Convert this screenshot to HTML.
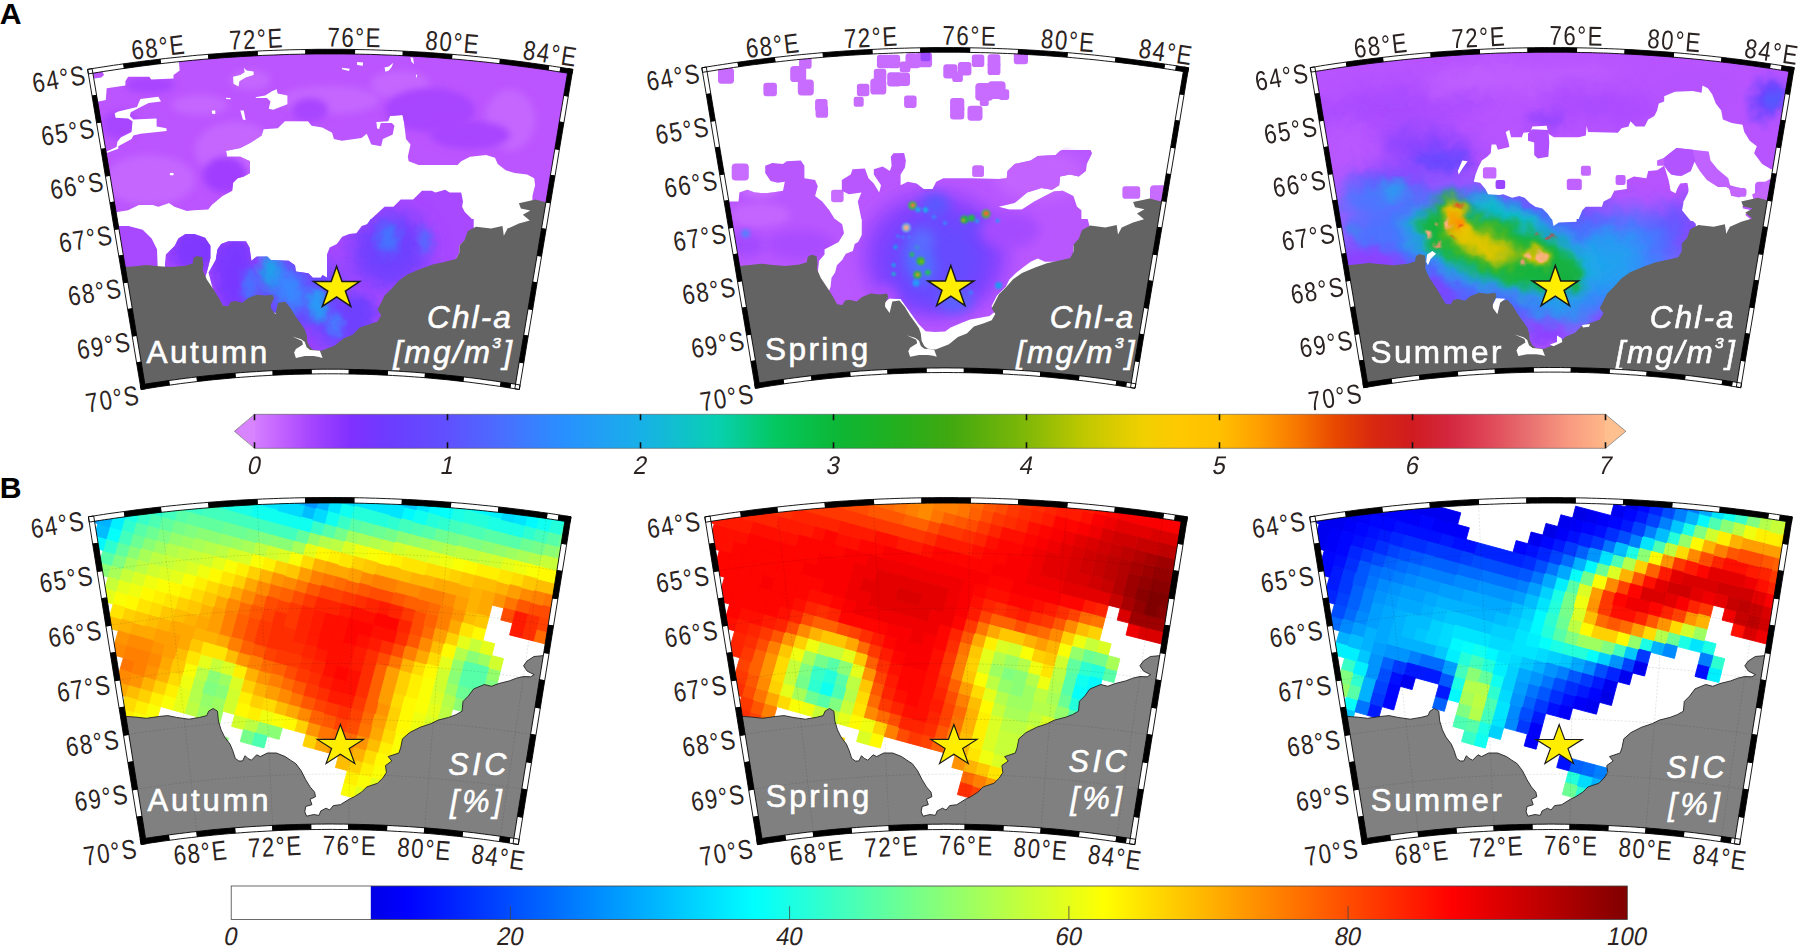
<!DOCTYPE html>
<html lang="en"><head><meta charset="utf-8"><title>Chl-a and SIC seasonal maps</title>
<style>html,body{margin:0;padding:0;background:#fff;overflow:hidden}svg{display:block}text{font-family:"Liberation Sans",sans-serif}</style></head>
<body>
<svg width="1799" height="949" viewBox="0 0 1799 949" font-family="'Liberation Sans', sans-serif">
<rect width="1799" height="949" fill="#fff"/>
<defs>
<clipPath id="cA1"><path d="M92.2,72.7L100.3,71.4L112.3,69.5L124.3,67.8L136.3,66.1L148.4,64.6L160.4,63.1L172.5,61.8L184.6,60.5L196.7,59.3L208.8,58.3L220.9,57.3L233.1,56.5L245.2,55.7L257.3,55.1L269.5,54.5L281.6,54.1L293.7,53.7L305.9,53.5L318.0,53.3L330.2,53.3L342.4,53.3L354.5,53.5L366.7,53.7L378.8,54.1L390.9,54.5L403.1,55.1L415.2,55.7L427.3,56.5L439.5,57.3L451.6,58.3L463.7,59.3L475.8,60.5L487.9,61.8L500.0,63.1L512.0,64.6L524.1,66.1L536.1,67.8L548.1,69.5L560.1,71.4L568.2,72.7L516.0,384.9L510.6,384.0L501.1,382.6L491.7,381.2L482.3,379.9L472.8,378.7L463.3,377.5L453.9,376.5L444.4,375.5L434.9,374.6L425.4,373.8L415.9,373.0L406.4,372.3L396.9,371.7L387.4,371.2L377.8,370.8L368.3,370.4L358.8,370.2L349.3,370.0L339.7,369.8L330.2,369.8L320.7,369.8L311.1,370.0L301.6,370.2L292.1,370.4L282.6,370.8L273.0,371.2L263.5,371.7L254.0,372.3L244.5,373.0L235.0,373.8L225.5,374.6L216.0,375.5L206.5,376.5L197.1,377.5L187.6,378.7L178.1,379.9L168.7,381.2L159.3,382.6L149.8,384.0L144.4,384.9Z"/></clipPath>
<clipPath id="cA2"><path d="M706.4,71.1L714.5,69.8L726.5,67.9L738.6,66.2L750.7,64.5L762.8,62.9L774.9,61.5L787.0,60.1L799.1,58.9L811.3,57.7L823.4,56.6L835.6,55.7L847.7,54.8L859.9,54.1L872.1,53.4L884.3,52.8L896.4,52.4L908.6,52.0L920.8,51.8L933.0,51.6L945.2,51.6L957.4,51.6L969.6,51.8L981.8,52.0L994.0,52.4L1006.1,52.8L1018.3,53.4L1030.5,54.1L1042.7,54.8L1054.8,55.7L1067.0,56.6L1079.1,57.7L1091.3,58.9L1103.4,60.1L1115.5,61.5L1127.6,62.9L1139.7,64.5L1151.8,66.2L1163.9,67.9L1175.9,69.8L1184.0,71.1L1131.7,383.7L1126.2,382.8L1116.8,381.4L1107.3,380.0L1097.8,378.7L1088.3,377.4L1078.8,376.3L1069.3,375.2L1059.8,374.2L1050.3,373.3L1040.8,372.5L1031.2,371.7L1021.7,371.1L1012.1,370.5L1002.6,370.0L993.0,369.5L983.5,369.2L973.9,368.9L964.3,368.7L954.8,368.6L945.2,368.5L935.6,368.6L926.1,368.7L916.5,368.9L906.9,369.2L897.4,369.5L887.8,370.0L878.3,370.5L868.7,371.1L859.2,371.7L849.6,372.5L840.1,373.3L830.6,374.2L821.1,375.2L811.6,376.3L802.1,377.4L792.6,378.7L783.1,380.0L773.6,381.4L764.2,382.8L758.7,383.7Z"/></clipPath>
<clipPath id="cA3"><path d="M1314.9,70.9L1322.9,69.6L1334.9,67.8L1346.9,66.0L1358.9,64.4L1370.9,62.8L1383.0,61.4L1395.0,60.0L1407.1,58.8L1419.1,57.6L1431.2,56.6L1443.3,55.6L1455.4,54.8L1467.5,54.0L1479.6,53.4L1491.7,52.8L1503.8,52.4L1515.9,52.0L1528.0,51.8L1540.1,51.6L1552.2,51.6L1564.4,51.6L1576.5,51.8L1588.6,52.0L1600.7,52.4L1612.8,52.8L1624.9,53.4L1637.0,54.0L1649.1,54.8L1661.2,55.6L1673.3,56.6L1685.4,57.6L1697.4,58.8L1709.5,60.0L1721.5,61.4L1733.6,62.8L1745.6,64.4L1757.6,66.0L1769.6,67.8L1781.6,69.6L1789.6,70.9L1737.5,383.1L1732.1,382.2L1722.7,380.8L1713.3,379.4L1703.9,378.1L1694.4,376.9L1685.0,375.8L1675.6,374.7L1666.1,373.7L1656.6,372.8L1647.2,372.0L1637.7,371.3L1628.2,370.6L1618.7,370.0L1609.2,369.5L1599.8,369.1L1590.3,368.7L1580.8,368.4L1571.3,368.2L1561.8,368.1L1552.2,368.1L1542.7,368.1L1533.2,368.2L1523.7,368.4L1514.2,368.7L1504.7,369.1L1495.3,369.5L1485.8,370.0L1476.3,370.6L1466.8,371.3L1457.3,372.0L1447.9,372.8L1438.4,373.7L1428.9,374.7L1419.5,375.8L1410.1,376.9L1400.6,378.1L1391.2,379.4L1381.8,380.8L1372.4,382.2L1367.0,383.1Z"/></clipPath>
<clipPath id="cB1"><path d="M93.9,520.8L101.0,519.7L113.0,517.9L125.0,516.2L136.9,514.6L148.9,513.1L160.9,511.7L172.9,510.4L185.0,509.2L197.0,508.1L209.0,507.1L221.1,506.2L233.1,505.4L245.2,504.7L257.2,504.1L269.3,503.5L281.4,503.1L293.5,502.8L305.5,502.5L317.6,502.4L329.7,502.3L341.8,502.4L353.9,502.5L365.9,502.8L378.0,503.1L390.1,503.5L402.2,504.1L414.2,504.7L426.3,505.4L438.3,506.2L450.4,507.1L462.4,508.1L474.4,509.2L486.5,510.4L498.5,511.7L510.5,513.1L522.5,514.6L534.4,516.2L546.4,517.9L558.4,519.7L565.5,520.8L514.4,839.0L509.7,838.3L500.3,836.9L490.9,835.6L481.5,834.3L472.0,833.1L462.6,832.1L453.1,831.0L443.7,830.1L434.2,829.2L424.7,828.4L415.2,827.7L405.7,827.1L396.2,826.5L386.7,826.0L377.2,825.6L367.7,825.2L358.2,825.0L348.7,824.8L339.2,824.7L329.7,824.6L320.2,824.7L310.7,824.8L301.2,825.0L291.7,825.2L282.2,825.6L272.7,826.0L263.2,826.5L253.7,827.1L244.2,827.7L234.7,828.4L225.2,829.2L215.7,830.1L206.3,831.0L196.8,832.1L187.4,833.1L177.9,834.3L168.5,835.6L159.1,836.9L149.7,838.3L145.0,839.0Z"/></clipPath>
<clipPath id="cB2"><path d="M710.3,520.9L717.4,519.8L729.4,518.0L741.4,516.3L753.3,514.7L765.3,513.2L777.3,511.8L789.3,510.5L801.4,509.3L813.4,508.2L825.4,507.2L837.5,506.3L849.5,505.5L861.6,504.8L873.6,504.2L885.7,503.6L897.8,503.2L909.9,502.9L921.9,502.6L934.0,502.5L946.1,502.4L958.2,502.5L970.3,502.6L982.3,502.9L994.4,503.2L1006.5,503.6L1018.6,504.2L1030.6,504.8L1042.7,505.5L1054.7,506.3L1066.8,507.2L1078.8,508.2L1090.8,509.3L1102.9,510.5L1114.9,511.8L1126.9,513.2L1138.9,514.7L1150.8,516.3L1162.8,518.0L1174.8,519.8L1181.9,520.9L1130.8,839.1L1126.1,838.4L1116.7,837.0L1107.3,835.7L1097.9,834.4L1088.4,833.2L1079.0,832.2L1069.5,831.1L1060.1,830.2L1050.6,829.3L1041.1,828.5L1031.6,827.8L1022.1,827.2L1012.6,826.6L1003.1,826.1L993.6,825.7L984.1,825.3L974.6,825.1L965.1,824.9L955.6,824.8L946.1,824.7L936.6,824.8L927.1,824.9L917.6,825.1L908.1,825.3L898.6,825.7L889.1,826.1L879.6,826.6L870.1,827.2L860.6,827.8L851.1,828.5L841.6,829.3L832.1,830.2L822.7,831.1L813.2,832.2L803.8,833.2L794.3,834.4L784.9,835.7L775.5,837.0L766.1,838.4L761.4,839.1Z"/></clipPath>
<clipPath id="cB3"><path d="M1315.2,520.9L1322.3,519.8L1334.3,518.0L1346.3,516.3L1358.2,514.7L1370.2,513.2L1382.2,511.8L1394.2,510.5L1406.3,509.3L1418.3,508.2L1430.3,507.2L1442.4,506.3L1454.4,505.5L1466.5,504.8L1478.5,504.2L1490.6,503.6L1502.7,503.2L1514.8,502.9L1526.8,502.6L1538.9,502.5L1551.0,502.4L1563.1,502.5L1575.2,502.6L1587.2,502.9L1599.3,503.2L1611.4,503.6L1623.5,504.2L1635.5,504.8L1647.6,505.5L1659.6,506.3L1671.7,507.2L1683.7,508.2L1695.7,509.3L1707.8,510.5L1719.8,511.8L1731.8,513.2L1743.8,514.7L1755.7,516.3L1767.7,518.0L1779.7,519.8L1786.8,520.9L1735.7,839.1L1731.0,838.4L1721.6,837.0L1712.2,835.7L1702.8,834.4L1693.3,833.2L1683.9,832.2L1674.4,831.1L1665.0,830.2L1655.5,829.3L1646.0,828.5L1636.5,827.8L1627.0,827.2L1617.5,826.6L1608.0,826.1L1598.5,825.7L1589.0,825.3L1579.5,825.1L1570.0,824.9L1560.5,824.8L1551.0,824.7L1541.5,824.8L1532.0,824.9L1522.5,825.1L1513.0,825.3L1503.5,825.7L1494.0,826.1L1484.5,826.6L1475.0,827.2L1465.5,827.8L1456.0,828.5L1446.5,829.3L1437.0,830.2L1427.6,831.1L1418.1,832.2L1408.7,833.2L1399.2,834.4L1389.8,835.7L1380.4,837.0L1371.0,838.4L1366.3,839.1Z"/></clipPath>
<filter id="rough" x="-5%" y="-5%" width="110%" height="110%"><feTurbulence type="fractalNoise" baseFrequency="0.07" numOctaves="2" seed="7" result="n"/><feDisplacementMap in="SourceGraphic" in2="n" scale="16" xChannelSelector="R" yChannelSelector="G"/></filter><filter id="rough2" x="-5%" y="-5%" width="110%" height="110%"><feTurbulence type="fractalNoise" baseFrequency="0.12" numOctaves="2" seed="3" result="n"/><feDisplacementMap in="SourceGraphic" in2="n" scale="9" xChannelSelector="R" yChannelSelector="G"/></filter><filter id="b1" x="-30%" y="-30%" width="160%" height="160%"><feGaussianBlur stdDeviation="0.8"/></filter><filter id="b2" x="-30%" y="-30%" width="160%" height="160%"><feGaussianBlur stdDeviation="2"/></filter><filter id="b3" x="-30%" y="-30%" width="160%" height="160%"><feGaussianBlur stdDeviation="3.5"/></filter><filter id="b6" x="-30%" y="-30%" width="160%" height="160%"><feGaussianBlur stdDeviation="6"/></filter><filter id="b10" x="-40%" y="-40%" width="180%" height="180%"><feGaussianBlur stdDeviation="10"/></filter><filter id="b16" x="-50%" y="-50%" width="200%" height="200%"><feGaussianBlur stdDeviation="16"/></filter>
</defs>
<g clip-path="url(#cA1)">
<rect x="0" y="0" width="700" height="430" fill="#fff"/>
<path d="M113.8,212.9L117.4,212.0L128.1,210.3L138.8,204.9L153.0,204.9L158.3,206.7L169.0,203.1L174.4,206.7L186.8,211.1L194.0,210.3L208.2,209.4L211.8,204.9L222.5,196.0L232.2,190.7L233.1,182.7L237.6,178.2L243.8,176.4L250.0,172.9L250.0,161.3L240.3,156.8L226.9,156.8L226.0,150.6L227.8,150.6L240.3,147.9L250.9,142.6L261.6,135.5L263.6,129.2L277.8,128.3L284.9,121.2L308.1,121.2L311.6,125.7L322.3,127.5L332.1,132.8L333.9,139.0L341.9,140.8L361.5,138.1L366.8,133.7L371.3,144.4L381.1,146.2L382.9,139.0L392.7,134.6L394.4,125.7L391.8,123.0L379.3,123.0L377.5,128.3L376.6,122.1L388.2,121.2L390.0,115.9L402.5,115.0L404.2,123.0L406.0,139.0L410.5,144.4L407.8,156.8L408.7,161.3L418.5,164.9L457.6,164.9L461.2,161.3L470.1,156.8L486.1,155.1L495.0,157.7L497.7,164.0L505.7,170.2L514.6,172.9L527.1,174.6L534.2,178.2L535.1,185.3L532.4,196.0L532.4,202.2L536.0,203.1L543.1,204.9L562.7,204.9L600.0,40.0L60.0,40.0L60.0,213.0Z" fill="#bb55ff"/>
<clipPath id="uA1"><path d="M113.8,212.9L117.4,212.0L128.1,210.3L138.8,204.9L153.0,204.9L158.3,206.7L169.0,203.1L174.4,206.7L186.8,211.1L194.0,210.3L208.2,209.4L211.8,204.9L222.5,196.0L232.2,190.7L233.1,182.7L237.6,178.2L243.8,176.4L250.0,172.9L250.0,161.3L240.3,156.8L226.9,156.8L226.0,150.6L227.8,150.6L240.3,147.9L250.9,142.6L261.6,135.5L263.6,129.2L277.8,128.3L284.9,121.2L308.1,121.2L311.6,125.7L322.3,127.5L332.1,132.8L333.9,139.0L341.9,140.8L361.5,138.1L366.8,133.7L371.3,144.4L381.1,146.2L382.9,139.0L392.7,134.6L394.4,125.7L391.8,123.0L379.3,123.0L377.5,128.3L376.6,122.1L388.2,121.2L390.0,115.9L402.5,115.0L404.2,123.0L406.0,139.0L410.5,144.4L407.8,156.8L408.7,161.3L418.5,164.9L457.6,164.9L461.2,161.3L470.1,156.8L486.1,155.1L495.0,157.7L497.7,164.0L505.7,170.2L514.6,172.9L527.1,174.6L534.2,178.2L535.1,185.3L532.4,196.0L532.4,202.2L536.0,203.1L543.1,204.9L562.7,204.9L600.0,40.0L60.0,40.0L60.0,213.0Z"/></clipPath>
<g clip-path="url(#uA1)">
<ellipse cx="235.0" cy="150.0" rx="40.0" ry="28.0" fill="#c566ff" filter="url(#b3)"/>
<ellipse cx="150.0" cy="180.0" rx="45.0" ry="25.0" fill="#c566ff" filter="url(#b3)"/>
<ellipse cx="330.0" cy="100.0" rx="50.0" ry="14.0" fill="#c566ff" filter="url(#b3)"/>
<ellipse cx="400.0" cy="85.0" rx="30.0" ry="14.0" fill="#c566ff" filter="url(#b3)"/>
<ellipse cx="510.0" cy="120.0" rx="25.0" ry="30.0" fill="#c566ff" filter="url(#b3)"/>
<ellipse cx="120.0" cy="125.0" rx="18.0" ry="14.0" fill="#a844ff" filter="url(#b3)"/>
<ellipse cx="225.0" cy="175.0" rx="22.0" ry="18.0" fill="#a03cff" filter="url(#b3)"/>
<ellipse cx="310.0" cy="110.0" rx="18.0" ry="12.0" fill="#a844ff" filter="url(#b3)"/>
<ellipse cx="430.0" cy="110.0" rx="45.0" ry="22.0" fill="#a844ff" filter="url(#b3)"/>
<ellipse cx="470.0" cy="135.0" rx="40.0" ry="14.0" fill="#a844ff" filter="url(#b3)"/>
<ellipse cx="150.0" cy="85.0" rx="25.0" ry="8.0" fill="#a844ff" filter="url(#b3)"/>
<ellipse cx="250.0" cy="80.0" rx="20.0" ry="10.0" fill="#c566ff" filter="url(#b3)"/>
<ellipse cx="200.0" cy="105.0" rx="28.0" ry="10.0" fill="#c566ff" filter="url(#b3)"/>
</g>
<path d="M90.7,73.1L178.8,60.7L179.7,70.5L173.5,74.9L173.5,78.5L151.2,79.4L149.4,76.7L128.1,76.7L125.4,81.2L125.4,85.6L106.7,88.3L105.8,99.9L98.7,101.6L90.7,101.6Z" fill="#fff"/>
<path d="M140.5,99.0L158.3,96.7L161.0,101.6L148.6,103.1L138.8,107.9L130.7,112.3L129.9,115.9L133.4,119.4L156.6,118.6L156.6,126.6L166.4,128.3L166.7,131.0L140.5,133.7L133.4,135.5L131.6,139.0L118.3,146.2L118.3,148.8L106.7,152.9L106.7,151.5L116.5,147.0L117.4,141.7L121.0,137.3L131.6,131.9L132.5,121.2L128.1,118.6L115.6,117.7L114.7,113.2L118.3,111.4L137.0,107.0L138.8,102.5Z" fill="#fff"/>
<path d="M243.8,67.8L246.5,70.5L253.6,71.4L253.6,74.9L245.6,77.6L239.4,81.2L238.5,86.5L233.5,83.8L233.1,76.7L240.3,74.9L244.7,72.3Z" fill="#fff"/>
<path d="M255.4,97.2L265.2,95.4L272.3,91.0L276.8,89.2L277.6,93.6L287.4,95.4L287.4,104.3L273.2,109.7L268.7,108.8L270.5,101.6L267.0,98.1L256.3,98.1Z" fill="#fff"/>
<path d="M226.0,97.7L230.5,98.1L230.5,99.3L226.0,99.1Z" fill="#fff"/>
<path d="M211.8,110.5L215.3,110.5L215.3,114.1L212.1,113.7Z" fill="#fff"/>
<path d="M240.3,110.5L243.8,110.5L245.6,120.3L242.9,119.4Z" fill="#fff"/>
<path d="M169.9,172.9L173.5,172.9L173.5,175.2L169.9,175.2Z" fill="#fff"/>
<path d="M341.8,67.8L349.8,68.7L348.9,71.0L342.1,69.2Z" fill="#fff"/>
<path d="M356.9,62.1L363.1,62.5L362.8,65.7L357.2,65.0Z" fill="#fff"/>
<path d="M384.5,67.5L388.9,66.4L393.4,62.8L391.6,66.9L388.9,70.5L385.4,71.7Z" fill="#fff"/>
<path d="M376.5,122.1L380.9,123.0L379.1,129.2L377.0,128.3Z" fill="#fff"/>
<path d="M410.5,57.1L413.1,58.0L414.0,64.2L411.4,61.6Z" fill="#fff"/>
<path d="M415.8,74.9L417.2,74.6L416.7,78.5Z" fill="#fff"/>
<path d="M92.5,71.7L102.3,71.0L104.0,74.9L101.4,77.6L94.2,78.5Z" fill="#bb55ff"/>
<clipPath id="lA1"><path d="M116.0,226.1L128.5,226.1L142.7,229.7L151.6,238.6L157.0,249.3L157.9,272.4L116.0,272.4ZM165.0,272.4L165.0,263.5L165.9,254.6L174.8,245.7L178.3,238.6L185.5,234.1L194.4,234.1L205.1,237.7L210.4,245.7L210.4,258.2L206.8,272.4L205.1,277.8ZM214.0,293.8L208.6,272.4L215.7,260.0L217.5,249.3L221.1,243.9L228.2,241.3L246.0,241.3L249.6,247.5L251.4,260.8L256.7,256.4L267.4,256.4L270.9,260.0L288.7,260.8L295.0,265.3L295.9,271.5L308.3,273.3L312.8,277.8L320.8,277.8L322.6,275.1L327.0,277.8L327.0,254.6L329.7,247.5L336.8,243.9L342.2,236.8L349.3,234.1L356.4,233.2L361.8,226.1L367.1,224.3L370.7,219.0L371.3,219.0L384.6,206.7L393.5,206.7L400.7,199.6L413.1,199.6L422.0,190.7L431.8,190.7L435.4,192.5L445.2,189.8L449.6,192.5L461.2,192.5L463.0,201.4L462.1,206.7L464.8,212.0L471.9,219.0L473.7,219.0L473.7,229.7L466.6,238.6L459.4,245.7L459.4,252.8L455.9,259.1L420.3,290.2L366.8,343.6L321.4,354.3L306.6,354.3L295.9,318.7L270.9,311.6L224.6,308.0Z"/></clipPath>
<g clip-path="url(#lA1)">
<rect x="80" y="170" width="500" height="230" fill="#a848ff"/>
<g filter="url(#rough2)"><ellipse cx="196.0" cy="250.0" rx="26.0" ry="22.0" fill="#8038ff" filter="url(#b6)"/><ellipse cx="235.0" cy="275.0" rx="22.0" ry="40.0" fill="#7a38ff" filter="url(#b6)"/><ellipse cx="300.0" cy="300.0" rx="55.0" ry="45.0" fill="#6a48ff" filter="url(#b10)" transform="rotate(35 300.0 300.0)"/><ellipse cx="390.0" cy="250.0" rx="40.0" ry="38.0" fill="#7040ff" filter="url(#b10)" transform="rotate(-30 390.0 250.0)"/><ellipse cx="350.0" cy="320.0" rx="30.0" ry="22.0" fill="#7040ff" filter="url(#b6)" transform="rotate(-40 350.0 320.0)"/><ellipse cx="271.0" cy="271.0" rx="10.0" ry="20.0" fill="#18a8e8" filter="url(#b6)"/><ellipse cx="290.0" cy="290.0" rx="14.0" ry="22.0" fill="#3888ff" filter="url(#b6)" transform="rotate(-20 290.0 290.0)"/><ellipse cx="318.0" cy="305.0" rx="10.0" ry="18.0" fill="#2a98f6" filter="url(#b3)" transform="rotate(-10 318.0 305.0)"/><ellipse cx="335.0" cy="325.0" rx="8.0" ry="12.0" fill="#4878ff" filter="url(#b3)"/><ellipse cx="250.0" cy="285.0" rx="8.0" ry="16.0" fill="#4870ff" filter="url(#b3)"/><ellipse cx="388.0" cy="238.0" rx="10.0" ry="16.0" fill="#4078ff" filter="url(#b6)"/><ellipse cx="425.0" cy="240.0" rx="6.0" ry="14.0" fill="#5868ff" filter="url(#b3)"/><ellipse cx="305.0" cy="345.0" rx="14.0" ry="18.0" fill="#9a40ff" filter="url(#b6)"/></g>
</g>
<path d="M117.8,267.4L124.9,267.1L135.6,266.2L146.3,264.9L158.8,266.2L171.2,267.1L185.5,265.7L192.6,263.5L193.5,258.2L197.0,256.0L202.4,257.3L203.3,265.3L202.9,270.6L206.8,279.5L214.0,290.2L218.4,297.3L222.9,305.4L228.2,306.3L230.9,301.8L235.3,300.9L242.5,302.7L247.8,298.2L256.7,294.7L265.6,295.6L272.7,294.7L274.1,298.2L270.9,304.5L270.9,308.0L275.4,314.3L278.1,302.7L285.2,301.8L290.5,308.0L295.9,316.9L301.2,324.1L304.8,329.4L306.6,334.7L307.4,341.9L310.1,347.2L313.7,349.9L319.9,350.4L321.4,350.8L325.9,349.0L334.8,345.4L343.7,338.3L352.6,334.7L359.7,327.6L370.4,324.1L377.5,321.4L381.1,315.2L377.5,309.8L381.1,302.7L384.6,295.6L391.8,288.4L398.9,280.4L407.8,274.2L420.3,268.9L432.7,264.4L445.2,261.7L455.9,259.1L459.4,252.8L459.4,245.7L464.6,240.0L467.8,231.1L476.0,226.8L491.1,228.6L502.5,226.1L503.8,235.7L507.5,228.6L518.9,223.6L529.8,220.4L522.8,214.7L530.3,210.5L520.9,208.5L518.9,203.3L535.5,199.6L544.9,202.1L562.7,203.0L620.0,200.0L620.0,430.0L80.0,430.0Z" fill="#636363"/><path d="M292.3,336.5L301.2,339.2L304.8,341.9L306.6,347.2L310.1,349.9L319.9,350.8L322.6,357.9L319.0,357.0L313.7,356.1L304.8,356.1L295.9,357.9L294.1,352.5L295.9,349.0L303.0,344.5L302.1,341.0Z" fill="#fff"/><path d="M336.6,266.3L342.0,281.6L359.6,281.6L345.4,291.0L350.8,306.3L336.6,296.8L322.4,306.3L327.8,291.0L313.6,281.6L331.2,281.6Z" fill="#ffee00" stroke="#1a1a1a" stroke-width="1.5" stroke-linejoin="miter"/><text x="146.6" y="362.7" font-size="31.5" text-anchor="start" fill="#fff" style="stroke:#fff;stroke-width:0.6px;letter-spacing:2.4px">Autumn</text><text x="512.9" y="328.2" font-size="31.5" text-anchor="end" fill="#fff" style="stroke:#fff;stroke-width:0.6px;font-style:italic;letter-spacing:2.1px">Chl-a</text><text x="514.3" y="363.3" font-size="31.5" text-anchor="end" fill="#fff" style="stroke:#fff;stroke-width:0.6px;font-style:italic;letter-spacing:2.3px">[mg/m<tspan dy="-15.2" font-size="15.5">3</tspan><tspan dy="15.2">]</tspan></text>
</g>
<path d="M87.6,69.4L92.8,68.5L97.9,67.7L103.1,66.9L108.2,66.1L113.4,65.3L118.6,64.6L123.7,63.8L124.4,68.4L119.2,69.1L114.1,69.9L108.9,70.7L103.8,71.4L98.6,72.3L93.5,73.1L88.4,73.9ZM169.3,385.2L174.9,384.4L180.6,383.6L186.2,382.9L191.9,382.2L197.5,381.5L197.0,376.9L191.3,377.6L185.6,378.3L180.0,379.0L174.3,379.8L168.6,380.6ZM160.0,59.1L165.4,58.5L170.7,57.9L176.1,57.4L181.5,56.8L186.9,56.3L192.3,55.7L197.7,55.2L203.1,54.8L208.5,54.3L208.9,58.9L203.5,59.3L198.1,59.8L192.7,60.3L187.4,60.8L182.0,61.4L176.6,61.9L171.2,62.5L165.9,63.1L160.5,63.7ZM235.3,377.7L240.7,377.3L246.1,376.9L251.6,376.5L257.0,376.1L262.4,375.8L267.8,375.5L273.2,375.2L273.0,370.6L267.6,370.9L262.1,371.2L256.7,371.6L251.2,371.9L245.8,372.3L240.4,372.7L234.9,373.2ZM257.1,51.1L262.5,50.8L267.9,50.6L273.3,50.4L278.8,50.2L284.2,50.0L289.6,49.8L295.0,49.7L300.4,49.6L305.8,49.5L305.9,54.1L300.5,54.2L295.1,54.3L289.7,54.4L284.3,54.6L278.9,54.8L273.5,55.0L268.1,55.2L262.7,55.4L257.3,55.7ZM311.2,374.0L316.6,373.9L322.1,373.8L327.5,373.8L332.9,373.8L338.3,373.8L343.8,373.9L349.2,374.0L349.3,369.4L343.8,369.3L338.4,369.2L332.9,369.2L327.5,369.2L322.0,369.2L316.6,369.3L311.1,369.4ZM354.6,49.5L360.0,49.6L365.4,49.7L370.8,49.8L376.2,50.0L381.6,50.2L387.1,50.4L392.5,50.6L397.9,50.8L403.3,51.1L403.1,55.7L397.7,55.4L392.3,55.2L386.9,55.0L381.5,54.8L376.1,54.6L370.7,54.4L365.3,54.3L359.9,54.2L354.5,54.1ZM387.2,375.2L392.6,375.5L398.0,375.8L403.4,376.1L408.8,376.5L414.3,376.9L419.7,377.3L425.1,377.7L425.5,373.2L420.0,372.7L414.6,372.3L409.2,371.9L403.7,371.6L398.3,371.2L392.8,370.9L387.4,370.6ZM451.9,54.3L457.3,54.8L462.7,55.2L468.1,55.7L473.5,56.3L478.9,56.8L484.3,57.4L489.7,57.9L495.0,58.5L500.4,59.1L499.9,63.7L494.5,63.1L489.2,62.5L483.8,61.9L478.4,61.4L473.0,60.8L467.7,60.3L462.3,59.8L456.9,59.3L451.5,58.9ZM462.9,381.5L468.3,382.1L473.7,382.8L479.0,383.5L484.4,384.2L489.8,385.0L495.2,385.7L500.5,386.5L501.2,382.0L495.8,381.2L490.4,380.4L485.0,379.7L479.6,378.9L474.2,378.2L468.8,377.6L463.4,376.9ZM548.7,65.6L552.7,66.2L556.8,66.8L560.8,67.4L560.1,72.0L556.1,71.4L552.1,70.7L548.0,70.1ZM509.9,388.0L514.6,388.7L519.3,389.5L520.1,385.0L515.4,384.2L510.6,383.4ZM87.6,69.4L92.1,96.1L96.6,95.3L92.1,68.6ZM568.3,96.1L563.9,122.7L559.3,122.0L563.8,95.3ZM96.5,122.7L101.0,149.4L105.5,148.7L101.1,122.0ZM559.4,149.4L555.0,176.1L550.4,175.3L554.9,148.7ZM105.4,176.1L109.9,202.8L114.4,202.0L110.0,175.3ZM550.5,202.8L546.1,229.4L541.5,228.7L546.0,202.0ZM114.3,229.4L118.8,256.1L123.3,255.4L118.9,228.7ZM541.6,256.1L537.1,282.8L532.6,282.1L537.1,255.4ZM123.3,282.8L127.7,309.5L132.3,308.7L127.8,282.1ZM532.7,309.5L528.2,336.1L523.7,335.4L528.1,308.7ZM132.2,336.1L136.6,362.8L141.2,362.1L136.7,335.4ZM523.8,362.8L519.3,389.5L514.8,388.8L519.2,362.1Z" fill="#fff" stroke="#000" stroke-width="0.9" stroke-linejoin="miter"/>
<path d="M141.1,389.5L146.7,388.6L152.4,387.7L158.0,386.8L163.6,386.0L169.3,385.2L168.6,380.6L163.0,381.4L157.3,382.3L151.6,383.1L146.0,384.0L140.3,385.0ZM123.7,63.8L128.9,63.1L134.1,62.4L139.3,61.7L144.4,61.0L149.6,60.4L154.8,59.8L160.0,59.1L160.5,63.7L155.3,64.3L150.2,65.0L145.0,65.6L139.8,66.3L134.7,67.0L129.5,67.7L124.4,68.4ZM197.5,381.5L202.9,380.9L208.3,380.3L213.7,379.7L219.1,379.2L224.5,378.7L229.9,378.2L235.3,377.7L234.9,373.2L229.5,373.6L224.1,374.1L218.7,374.6L213.2,375.2L207.8,375.7L202.4,376.3L197.0,376.9ZM208.5,54.3L213.9,53.9L219.3,53.5L224.7,53.1L230.1,52.7L235.5,52.3L240.9,52.0L246.3,51.7L251.7,51.4L257.1,51.1L257.3,55.7L252.0,56.0L246.6,56.3L241.2,56.6L235.8,56.9L230.4,57.3L225.0,57.6L219.6,58.0L214.2,58.5L208.9,58.9ZM273.2,375.2L278.7,375.0L284.1,374.7L289.5,374.5L294.9,374.3L300.4,374.2L305.8,374.1L311.2,374.0L311.1,369.4L305.7,369.5L300.2,369.6L294.8,369.8L289.3,369.9L283.9,370.1L278.4,370.4L273.0,370.6ZM305.8,49.5L311.2,49.4L316.7,49.3L322.1,49.3L327.5,49.3L332.9,49.3L338.3,49.3L343.7,49.3L349.2,49.4L354.6,49.5L354.5,54.1L349.1,54.0L343.7,53.9L338.3,53.9L332.9,53.9L327.5,53.9L322.1,53.9L316.7,53.9L311.3,54.0L305.9,54.1ZM349.2,374.0L354.6,374.1L360.0,374.2L365.5,374.3L370.9,374.5L376.3,374.7L381.7,375.0L387.2,375.2L387.4,370.6L382.0,370.4L376.5,370.1L371.1,369.9L365.6,369.8L360.2,369.6L354.7,369.5L349.3,369.4ZM403.3,51.1L408.7,51.4L414.1,51.7L419.5,52.0L424.9,52.3L430.3,52.7L435.7,53.1L441.1,53.5L446.5,53.9L451.9,54.3L451.5,58.9L446.2,58.5L440.8,58.0L435.4,57.6L430.0,57.3L424.6,56.9L419.2,56.6L413.8,56.3L408.4,56.0L403.1,55.7ZM425.1,377.7L430.5,378.2L435.9,378.7L441.3,379.2L446.7,379.7L452.1,380.3L457.5,380.9L462.9,381.5L463.4,376.9L458.0,376.3L452.6,375.7L447.2,375.2L441.7,374.6L436.3,374.1L430.9,373.6L425.5,373.2ZM500.4,59.1L505.8,59.8L511.2,60.4L516.5,61.1L521.9,61.8L527.3,62.5L532.6,63.3L538.0,64.0L543.4,64.8L548.7,65.6L548.0,70.1L542.7,69.3L537.4,68.6L532.0,67.8L526.7,67.1L521.3,66.4L516.0,65.7L510.6,65.0L505.2,64.3L499.9,63.7ZM500.5,386.5L505.2,387.2L509.9,388.0L510.6,383.4L505.9,382.7L501.2,382.0ZM560.8,67.4L564.8,68.1L568.8,68.7L572.8,69.4L572.0,73.9L568.0,73.3L564.1,72.6L560.1,72.0ZM572.8,69.4L568.3,96.1L563.8,95.3L568.3,68.6ZM92.1,96.1L96.5,122.7L101.1,122.0L96.6,95.3ZM563.9,122.7L559.4,149.4L554.9,148.7L559.3,122.0ZM101.0,149.4L105.4,176.1L110.0,175.3L105.5,148.7ZM555.0,176.1L550.5,202.8L546.0,202.0L550.4,175.3ZM109.9,202.8L114.3,229.4L118.9,228.7L114.4,202.0ZM546.1,229.4L541.6,256.1L537.1,255.4L541.5,228.7ZM118.8,256.1L123.3,282.8L127.8,282.1L123.3,255.4ZM537.1,282.8L532.7,309.5L528.1,308.7L532.6,282.1ZM127.7,309.5L132.2,336.1L136.7,335.4L132.3,308.7ZM528.2,336.1L523.8,362.8L519.2,362.1L523.7,335.4ZM136.6,362.8L141.1,389.5L145.6,388.8L141.2,362.1Z" fill="#000" stroke="#000" stroke-width="0.9"/>
<text transform="translate(88.0 83.7) rotate(-9.49) scale(0.815 1)" font-size="27.3" text-anchor="end" fill="#2b2321" style="letter-spacing:1.90px;">64°S</text>
<text transform="translate(96.9 137.1) rotate(-9.49) scale(0.815 1)" font-size="27.3" text-anchor="end" fill="#2b2321" style="letter-spacing:1.90px;">65°S</text>
<text transform="translate(105.8 190.4) rotate(-9.49) scale(0.815 1)" font-size="27.3" text-anchor="end" fill="#2b2321" style="letter-spacing:1.90px;">66°S</text>
<text transform="translate(114.7 243.8) rotate(-9.49) scale(0.815 1)" font-size="27.3" text-anchor="end" fill="#2b2321" style="letter-spacing:1.90px;">67°S</text>
<text transform="translate(123.6 297.1) rotate(-9.49) scale(0.815 1)" font-size="27.3" text-anchor="end" fill="#2b2321" style="letter-spacing:1.90px;">68°S</text>
<text transform="translate(132.6 350.5) rotate(-9.49) scale(0.815 1)" font-size="27.3" text-anchor="end" fill="#2b2321" style="letter-spacing:1.90px;">69°S</text>
<text transform="translate(141.5 403.8) rotate(-9.49) scale(0.815 1)" font-size="27.3" text-anchor="end" fill="#2b2321" style="letter-spacing:1.90px;">70°S</text>
<text transform="translate(159.7 56.6) rotate(-6.64) scale(0.815 1)" font-size="27.3" text-anchor="middle" fill="#2b2321" style="letter-spacing:1.90px;">68°E</text>
<text transform="translate(257.0 48.5) rotate(-2.85) scale(0.815 1)" font-size="27.3" text-anchor="middle" fill="#2b2321" style="letter-spacing:1.90px;">72°E</text>
<text transform="translate(354.6 46.9) rotate(0.95) scale(0.815 1)" font-size="27.3" text-anchor="middle" fill="#2b2321" style="letter-spacing:1.90px;">76°E</text>
<text transform="translate(452.1 51.7) rotate(4.74) scale(0.815 1)" font-size="27.3" text-anchor="middle" fill="#2b2321" style="letter-spacing:1.90px;">80°E</text>
<text transform="translate(549.1 63.0) rotate(8.54) scale(0.815 1)" font-size="27.3" text-anchor="middle" fill="#2b2321" style="letter-spacing:1.90px;">84°E</text>
<g clip-path="url(#cA2)">
<rect x="650" y="0" width="600" height="430" fill="#fff"/>
<rect x="718.0" y="67.8" width="16.0" height="16.0" rx="3.6" fill="#c86cff"/>
<rect x="799.1" y="56.2" width="12.5" height="12.5" rx="2.8" fill="#c86cff"/>
<rect x="790.2" y="66.0" width="16.0" height="16.0" rx="3.6" fill="#c86cff"/>
<rect x="797.8" y="79.4" width="16.0" height="16.0" rx="3.6" fill="#c86cff"/>
<rect x="763.4" y="82.8" width="13.5" height="13.5" rx="3.0" fill="#c86cff"/>
<rect x="815.1" y="99.0" width="12.5" height="12.5" rx="2.8" fill="#c86cff"/>
<rect x="815.6" y="105.2" width="12.5" height="12.5" rx="2.8" fill="#c86cff"/>
<rect x="853.7" y="96.7" width="10.0" height="10.0" rx="2.2" fill="#c86cff"/>
<rect x="856.9" y="83.8" width="12.5" height="12.5" rx="2.8" fill="#c86cff"/>
<rect x="870.3" y="78.5" width="16.0" height="16.0" rx="3.6" fill="#c86cff"/>
<rect x="873.8" y="68.7" width="12.5" height="12.5" rx="2.8" fill="#c86cff"/>
<rect x="876.9" y="54.8" width="13.5" height="13.5" rx="3.0" fill="#c86cff"/>
<rect x="886.7" y="54.8" width="13.5" height="13.5" rx="3.0" fill="#c86cff"/>
<rect x="887.2" y="72.3" width="14.2" height="14.2" rx="3.2" fill="#c86cff"/>
<rect x="896.5" y="72.6" width="13.5" height="13.5" rx="3.0" fill="#c86cff"/>
<rect x="899.7" y="61.6" width="10.7" height="10.7" rx="2.4" fill="#c86cff"/>
<rect x="905.5" y="53.2" width="15.0" height="15.0" rx="3.4" fill="#c86cff"/>
<rect x="917.1" y="52.3" width="15.0" height="15.0" rx="3.4" fill="#c86cff"/>
<rect x="904.1" y="95.4" width="12.5" height="12.5" rx="2.8" fill="#c86cff"/>
<rect x="943.3" y="64.2" width="14.2" height="14.2" rx="3.2" fill="#c86cff"/>
<rect x="957.9" y="61.9" width="13.5" height="13.5" rx="3.0" fill="#c86cff"/>
<rect x="952.2" y="71.4" width="10.7" height="10.7" rx="2.4" fill="#c86cff"/>
<rect x="971.8" y="54.5" width="12.5" height="12.5" rx="2.8" fill="#c86cff"/>
<rect x="987.6" y="54.3" width="12.8" height="12.8" rx="2.9" fill="#c86cff"/>
<rect x="987.6" y="62.3" width="12.8" height="12.8" rx="2.9" fill="#c86cff"/>
<rect x="975.3" y="82.9" width="17.8" height="17.8" rx="4.0" fill="#c86cff"/>
<rect x="987.8" y="81.2" width="17.8" height="17.8" rx="4.0" fill="#c86cff"/>
<rect x="998.5" y="89.2" width="10.7" height="10.7" rx="2.4" fill="#c86cff"/>
<rect x="979.8" y="97.2" width="8.9" height="8.9" rx="2.0" fill="#c86cff"/>
<rect x="950.1" y="98.1" width="14.2" height="14.2" rx="3.2" fill="#c86cff"/>
<rect x="950.1" y="105.2" width="14.2" height="14.2" rx="3.2" fill="#c86cff"/>
<rect x="967.5" y="105.7" width="15.0" height="15.0" rx="3.4" fill="#c86cff"/>
<rect x="972.3" y="165.4" width="11.4" height="11.4" rx="2.6" fill="#c86cff"/>
<rect x="731.7" y="163.4" width="17.1" height="17.1" rx="3.8" fill="#c86cff"/>
<rect x="831.1" y="189.8" width="12.5" height="12.5" rx="2.8" fill="#c86cff"/>
<rect x="1013.8" y="50.0" width="14.2" height="14.2" rx="3.2" fill="#c86cff"/>
<rect x="972.5" y="165.4" width="11.4" height="11.4" rx="2.6" fill="#c86cff"/>
<rect x="1122.4" y="186.2" width="17.8" height="12.5" rx="2.8" fill="#c86cff"/>
<rect x="1150.0" y="185.3" width="17.8" height="17.8" rx="4.0" fill="#c86cff"/>
<rect x="920.5" y="51.2" width="10.0" height="10.0" rx="2.2" fill="#9a48ff"/>
<clipPath id="lA2"><path d="M711.8,201.4L738.5,201.4L739.4,192.5L747.4,189.8L754.5,192.5L765.2,193.3L772.3,192.5L783.0,190.7L784.8,181.8L777.7,182.7L770.6,180.9L765.2,172.9L765.2,165.7L772.3,163.1L783.0,164.0L786.6,161.3L800.8,160.4L804.4,165.7L804.4,178.2L815.1,180.0L817.8,186.2L815.1,196.0L822.2,201.4L829.3,210.3L834.7,219.0L835.1,219.0L842.2,224.3L844.0,233.2L838.6,242.1L831.5,245.7L824.4,249.3L824.4,254.6L819.1,260.8L817.3,277.8L714.0,277.8ZM828.0,293.8L830.6,286.7L831.5,277.8L835.1,272.4L836.9,265.3L842.2,260.0L845.8,253.7L852.9,251.1L854.7,243.9L858.2,242.1L861.8,235.0L861.8,219.0L861.4,219.0L857.8,201.4L861.4,192.5L848.9,194.2L841.8,190.7L841.8,180.0L850.7,174.6L852.5,169.3L864.9,168.4L868.5,178.2L873.8,183.5L879.2,192.5L881.0,185.3L873.8,174.6L873.8,169.3L882.7,166.6L889.9,171.1L891.6,165.7L890.8,156.8L893.4,153.3L904.1,152.9L905.9,160.4L905.0,167.5L900.6,174.6L900.6,185.3L907.7,181.8L916.6,183.5L923.7,188.9L932.6,188.9L936.2,181.8L943.3,178.2L952.3,178.2L973.7,178.2L998.6,179.1L1006.7,178.2L1007.5,171.1L1014.7,164.0L1030.7,160.4L1037.8,155.9L1055.6,155.1L1059.2,151.5L1066.3,147.0L1089.5,147.9L1092.1,153.3L1086.8,164.0L1085.9,171.1L1078.8,176.4L1069.9,174.6L1060.1,176.4L1059.2,185.3L1052.1,189.8L1041.4,188.0L1027.1,192.5L1014.7,203.1L998.6,206.7L1009.3,209.4L1021.8,209.4L1034.3,201.4L1044.9,196.0L1053.8,191.6L1062.7,190.7L1073.4,196.0L1077.0,206.7L1081.4,210.3L1081.4,219.0L1087.7,219.0L1089.5,226.1L1082.3,231.5L1080.6,238.6L1073.4,245.7L1073.4,252.8L1069.9,259.1L1059.2,261.7L1044.9,261.7L1037.8,258.5L1030.7,261.7L1023.6,267.1L1016.5,272.4L1009.3,279.5L1005.8,286.7L996.9,295.6L991.5,306.3L995.1,311.6L989.7,316.0L970.2,319.6L963.0,322.3L950.6,327.6L945.2,331.5L934.5,332.1L925.6,331.2L918.5,324.1L909.6,311.6L900.7,299.1L889.4,298.2L874.3,311.6L838.6,308.0Z"/></clipPath>
<g clip-path="url(#lA2)">
<rect x="690" y="150" width="520" height="200" fill="#b957ff"/>
<ellipse cx="760.0" cy="215.0" rx="30.0" ry="12.0" fill="#c565ff" filter="url(#b3)"/><ellipse cx="800.0" cy="245.0" rx="35.0" ry="15.0" fill="#a94cff" filter="url(#b6)"/><ellipse cx="745.0" cy="245.0" rx="20.0" ry="12.0" fill="#a248ff" filter="url(#b6)"/><ellipse cx="745.5" cy="233.5" rx="4.0" ry="4.0" fill="#4a86ff" filter="url(#b2)"/><ellipse cx="760.0" cy="190.0" rx="18.0" ry="8.0" fill="#c86cff" filter="url(#b3)"/><ellipse cx="1040.0" cy="175.0" rx="45.0" ry="25.0" fill="#c363ff" filter="url(#b6)"/><ellipse cx="935.0" cy="255.0" rx="72.0" ry="62.0" fill="#8c42ff" filter="url(#b10)"/><ellipse cx="935.0" cy="258.0" rx="56.0" ry="50.0" fill="#7442ff" filter="url(#b10)"/><ellipse cx="938.0" cy="262.0" rx="40.0" ry="42.0" fill="#664cff" filter="url(#b10)" transform="rotate(30 938.0 262.0)"/><ellipse cx="935.0" cy="205.0" rx="14.0" ry="12.0" fill="#5a58ff" filter="url(#b6)"/><ellipse cx="920.0" cy="262.0" rx="14.0" ry="22.0" fill="#5070ff" filter="url(#b6)" transform="rotate(-20 920.0 262.0)"/><ellipse cx="955.0" cy="300.0" rx="18.0" ry="12.0" fill="#5a62ff" filter="url(#b6)"/><ellipse cx="975.0" cy="225.0" rx="20.0" ry="8.0" fill="#6a4cff" filter="url(#b6)"/><ellipse cx="1010.0" cy="230.0" rx="30.0" ry="18.0" fill="#a54cff" filter="url(#b6)"/><ellipse cx="885.0" cy="300.0" rx="12.0" ry="14.0" fill="#b050ff" filter="url(#b6)"/><ellipse cx="912.5" cy="205.5" rx="4.2" ry="4.2" fill="#28c048" filter="url(#b1)"/><ellipse cx="912.8" cy="205.3" rx="2.2" ry="2.2" fill="#ff7040" filter="url(#b1)"/><ellipse cx="918.0" cy="209.5" rx="2.6" ry="2.6" fill="#18b0e8" filter="url(#b1)"/><ellipse cx="986.0" cy="213.9" rx="4.4" ry="4.4" fill="#30c040" filter="url(#b1)"/><ellipse cx="986.2" cy="213.5" rx="2.6" ry="2.6" fill="#ff6038" filter="url(#b1)"/><ellipse cx="964.5" cy="219.6" rx="4.0" ry="4.0" fill="#20b440" filter="url(#b1)"/><ellipse cx="971.5" cy="218.2" rx="3.4" ry="3.4" fill="#20b848" filter="url(#b1)"/><ellipse cx="963.2" cy="220.2" rx="1.5" ry="1.5" fill="#e8a020" filter="url(#b1)"/><ellipse cx="977.0" cy="221.0" rx="2.0" ry="2.0" fill="#28a0f0" filter="url(#b1)"/><ellipse cx="906.3" cy="227.7" rx="3.4" ry="3.4" fill="#ffb080" filter="url(#b1)"/><ellipse cx="906.3" cy="227.7" rx="4.6" ry="4.6" fill="#40a0ff" filter="url(#b1)"/><ellipse cx="906.3" cy="227.7" rx="3.0" ry="3.0" fill="#ffb080" filter="url(#b1)"/><ellipse cx="920.6" cy="261.0" rx="4.2" ry="4.2" fill="#30b838" filter="url(#b1)"/><ellipse cx="921.5" cy="261.5" rx="1.8" ry="1.8" fill="#90b818" filter="url(#b1)"/><ellipse cx="917.4" cy="274.8" rx="4.0" ry="4.0" fill="#28b840" filter="url(#b1)"/><ellipse cx="917.6" cy="274.6" rx="1.8" ry="1.8" fill="#ff9030" filter="url(#b1)"/><ellipse cx="927.8" cy="272.5" rx="2.8" ry="2.8" fill="#20c060" filter="url(#b1)"/><ellipse cx="912.0" cy="254.5" rx="2.4" ry="2.4" fill="#20c050" filter="url(#b1)"/><ellipse cx="917.4" cy="247.0" rx="2.2" ry="2.2" fill="#18c090" filter="url(#b1)"/><ellipse cx="893.7" cy="265.0" rx="2.0" ry="2.0" fill="#18a8e8" filter="url(#b1)"/><ellipse cx="893.7" cy="273.9" rx="2.0" ry="2.0" fill="#10b8c8" filter="url(#b1)"/><ellipse cx="895.5" cy="247.0" rx="2.2" ry="2.2" fill="#2098f0" filter="url(#b1)"/><ellipse cx="998.5" cy="285.5" rx="3.4" ry="3.4" fill="#2098f0" filter="url(#b1)"/><ellipse cx="997.6" cy="220.8" rx="2.0" ry="2.0" fill="#2898f8" filter="url(#b1)"/><ellipse cx="925.5" cy="209.8" rx="2.6" ry="2.6" fill="#18b0e8" filter="url(#b1)"/><ellipse cx="934.0" cy="217.0" rx="2.0" ry="2.0" fill="#3888ff" filter="url(#b1)"/><ellipse cx="945.0" cy="223.0" rx="2.0" ry="2.0" fill="#3888ff" filter="url(#b1)"/><ellipse cx="903.0" cy="237.0" rx="1.6" ry="1.6" fill="#3090ff" filter="url(#b1)"/><ellipse cx="909.0" cy="237.0" rx="1.6" ry="1.6" fill="#3090ff" filter="url(#b1)"/><ellipse cx="898.0" cy="236.0" rx="1.6" ry="1.6" fill="#3090ff" filter="url(#b1)"/><ellipse cx="970.6" cy="292.5" rx="2.0" ry="2.0" fill="#3c84ff" filter="url(#b1)"/><ellipse cx="916.0" cy="283.0" rx="3.5" ry="3.5" fill="#2898f8" filter="url(#b1)"/><ellipse cx="922.0" cy="240.0" rx="12.0" ry="12.0" fill="#5a6cff" filter="url(#b6)"/>
</g>
<path d="M732.0,266.2L739.1,265.9L749.8,265.0L760.5,263.7L773.0,265.0L785.4,265.9L799.7,264.5L806.8,262.3L807.7,257.0L811.2,254.8L816.6,256.1L817.5,264.1L817.1,269.4L821.0,278.3L828.2,289.0L832.6,296.1L837.1,304.2L842.4,305.1L845.1,300.6L849.5,299.7L856.7,301.5L862.0,297.0L870.9,293.5L879.8,294.4L886.9,293.5L888.3,297.0L885.1,303.3L885.1,306.8L889.6,313.1L892.3,301.5L899.4,300.6L904.7,306.8L910.1,315.7L915.4,322.9L919.0,328.2L920.8,333.5L921.6,340.7L924.3,346.0L927.9,348.7L934.1,349.2L935.6,349.6L940.1,347.8L949.0,344.2L957.9,337.1L966.8,333.5L973.9,326.4L984.6,322.9L991.7,320.2L995.3,314.0L991.7,308.6L995.3,301.5L998.8,294.4L1006.0,287.2L1013.1,279.2L1022.0,273.0L1034.5,267.7L1046.9,263.2L1059.4,260.5L1070.1,257.9L1073.6,251.6L1073.6,244.5L1078.8,238.8L1082.0,229.9L1090.2,225.6L1105.3,227.4L1116.7,224.9L1118.0,234.5L1121.7,227.4L1133.1,222.4L1144.0,219.2L1137.0,213.5L1144.5,209.3L1135.1,207.3L1133.1,202.1L1149.7,198.4L1159.1,200.9L1176.9,201.8L1234.2,198.8L1234.2,428.8L694.2,428.8Z" fill="#636363"/><path d="M906.5,335.3L915.4,338.0L919.0,340.7L920.8,346.0L924.3,348.7L934.1,349.6L936.8,356.7L933.2,355.8L927.9,354.9L919.0,354.9L910.1,356.7L908.3,351.3L910.1,347.8L917.2,343.3L916.3,339.8Z" fill="#fff"/><path d="M950.8,265.6L956.2,280.9L973.8,280.9L959.6,290.3L965.0,305.6L950.8,296.1L936.6,305.6L942.0,290.3L927.8,280.9L945.4,280.9Z" fill="#ffee00" stroke="#1a1a1a" stroke-width="1.5" stroke-linejoin="miter"/><text x="765.1" y="359.6" font-size="31.5" text-anchor="start" fill="#fff" style="stroke:#fff;stroke-width:0.6px;letter-spacing:2.4px">Spring</text><text x="1135.5" y="328.2" font-size="31.5" text-anchor="end" fill="#fff" style="stroke:#fff;stroke-width:0.6px;font-style:italic;letter-spacing:2.1px">Chl-a</text><text x="1136.9" y="363.3" font-size="31.5" text-anchor="end" fill="#fff" style="stroke:#fff;stroke-width:0.6px;font-style:italic;letter-spacing:2.3px">[mg/m<tspan dy="-15.2" font-size="15.5">3</tspan><tspan dy="15.2">]</tspan></text>
</g>
<path d="M701.8,67.8L707.0,66.9L712.1,66.1L717.3,65.3L722.5,64.5L727.7,63.7L732.9,62.9L738.0,62.2L738.7,66.8L733.5,67.5L728.4,68.3L723.2,69.0L718.0,69.8L712.9,70.7L707.7,71.5L702.6,72.3ZM783.7,383.9L789.3,383.1L795.0,382.4L800.7,381.7L806.3,380.9L812.0,380.3L811.5,375.7L805.8,376.4L800.1,377.1L794.4,377.8L788.7,378.6L783.0,379.4ZM774.4,57.5L779.8,56.9L785.2,56.3L790.6,55.7L796.0,55.1L801.4,54.6L806.8,54.1L812.3,53.6L817.7,53.1L823.1,52.6L823.5,57.2L818.1,57.7L812.7,58.2L807.3,58.7L801.9,59.2L796.5,59.7L791.1,60.3L785.7,60.9L780.3,61.5L775.0,62.1ZM850.0,376.5L855.4,376.0L860.8,375.6L866.3,375.2L871.7,374.9L877.1,374.6L882.6,374.2L888.0,374.0L887.8,369.4L882.3,369.7L876.9,370.0L871.4,370.3L866.0,370.7L860.5,371.0L855.0,371.5L849.6,371.9ZM871.9,49.4L877.3,49.2L882.7,48.9L888.2,48.7L893.6,48.5L899.0,48.3L904.5,48.2L909.9,48.0L915.3,47.9L920.7,47.8L920.8,52.4L915.4,52.5L910.0,52.6L904.6,52.7L899.2,52.9L893.8,53.1L888.3,53.3L882.9,53.5L877.5,53.7L872.1,54.0ZM926.1,372.7L931.6,372.6L937.0,372.6L942.5,372.5L947.9,372.5L953.4,372.6L958.8,372.6L964.3,372.7L964.3,368.1L958.9,368.0L953.4,368.0L947.9,367.9L942.5,367.9L937.0,368.0L931.5,368.0L926.1,368.1ZM969.7,47.8L975.1,47.9L980.5,48.0L985.9,48.2L991.4,48.3L996.8,48.5L1002.2,48.7L1007.7,48.9L1013.1,49.2L1018.5,49.4L1018.3,54.0L1012.9,53.7L1007.5,53.5L1002.1,53.3L996.6,53.1L991.2,52.9L985.8,52.7L980.4,52.6L975.0,52.5L969.6,52.4ZM1002.4,374.0L1007.8,374.2L1013.3,374.6L1018.7,374.9L1024.1,375.2L1029.6,375.6L1035.0,376.0L1040.4,376.5L1040.8,371.9L1035.4,371.5L1029.9,371.0L1024.4,370.7L1019.0,370.3L1013.5,370.0L1008.1,369.7L1002.6,369.4ZM1067.3,52.6L1072.7,53.1L1078.1,53.6L1083.6,54.1L1089.0,54.6L1094.4,55.1L1099.8,55.7L1105.2,56.3L1110.6,56.9L1116.0,57.5L1115.4,62.1L1110.1,61.5L1104.7,60.9L1099.3,60.3L1093.9,59.7L1088.5,59.2L1083.1,58.7L1077.7,58.2L1072.3,57.7L1066.9,57.2ZM1078.4,380.3L1083.8,380.9L1089.2,381.6L1094.6,382.3L1100.0,383.0L1105.4,383.7L1110.8,384.5L1116.2,385.3L1116.9,380.8L1111.4,380.0L1106.0,379.2L1100.6,378.4L1095.2,377.7L1089.8,377.0L1084.3,376.3L1078.9,375.7ZM1164.5,64.0L1168.5,64.6L1172.5,65.2L1176.5,65.8L1175.8,70.4L1171.8,69.7L1167.8,69.1L1163.8,68.5ZM1125.6,386.8L1130.3,387.5L1135.0,388.3L1135.8,383.8L1131.0,383.0L1126.3,382.2ZM701.8,67.8L706.3,94.5L710.8,93.8L706.3,67.0ZM1184.1,94.5L1179.7,121.2L1175.1,120.5L1179.6,93.8ZM710.7,121.2L715.2,147.9L719.7,147.2L715.3,120.5ZM1175.2,147.9L1170.7,174.6L1166.2,173.9L1170.7,147.2ZM719.7,174.6L724.1,201.3L728.7,200.6L724.2,173.9ZM1166.3,201.3L1161.8,228.0L1157.3,227.3L1161.7,200.6ZM728.6,228.0L733.1,254.8L737.6,254.0L733.1,227.3ZM1157.3,254.8L1152.9,281.5L1148.3,280.7L1152.8,254.0ZM737.5,281.5L742.0,308.2L746.5,307.4L742.1,280.7ZM1148.4,308.2L1143.9,334.9L1139.4,334.1L1143.9,307.4ZM746.5,334.9L750.9,361.6L755.5,360.8L751.0,334.1ZM1139.5,361.6L1135.0,388.3L1130.5,387.6L1134.9,360.8Z" fill="#fff" stroke="#000" stroke-width="0.9" stroke-linejoin="miter"/>
<path d="M755.4,388.3L761.0,387.4L766.7,386.5L772.3,385.6L778.0,384.8L783.7,383.9L783.0,379.4L777.3,380.2L771.7,381.0L766.0,381.9L760.3,382.8L754.6,383.8ZM738.0,62.2L743.2,61.5L748.4,60.8L753.6,60.1L758.8,59.4L764.0,58.8L769.2,58.1L774.4,57.5L775.0,62.1L769.8,62.7L764.6,63.3L759.4,64.0L754.2,64.6L749.0,65.3L743.9,66.0L738.7,66.8ZM812.0,380.3L817.4,379.7L822.9,379.1L828.3,378.5L833.7,378.0L839.1,377.4L844.5,376.9L850.0,376.5L849.6,371.9L844.1,372.4L838.7,372.9L833.3,373.4L827.8,373.9L822.4,374.5L816.9,375.1L811.5,375.7ZM823.1,52.6L828.5,52.2L833.9,51.8L839.3,51.4L844.8,51.0L850.2,50.7L855.6,50.3L861.0,50.0L866.4,49.7L871.9,49.4L872.1,54.0L866.7,54.3L861.3,54.6L855.9,54.9L850.5,55.2L845.1,55.6L839.7,56.0L834.3,56.4L828.9,56.8L823.5,57.2ZM888.0,374.0L893.5,373.7L898.9,373.5L904.4,373.3L909.8,373.1L915.2,372.9L920.7,372.8L926.1,372.7L926.1,368.1L920.6,368.2L915.1,368.3L909.7,368.5L904.2,368.7L898.7,368.9L893.3,369.1L887.8,369.4ZM920.7,47.8L926.2,47.7L931.6,47.6L937.0,47.6L942.5,47.6L947.9,47.6L953.4,47.6L958.8,47.6L964.2,47.7L969.7,47.8L969.6,52.4L964.2,52.3L958.7,52.2L953.3,52.2L947.9,52.2L942.5,52.2L937.1,52.2L931.7,52.2L926.2,52.3L920.8,52.4ZM964.3,372.7L969.7,372.8L975.2,372.9L980.6,373.1L986.0,373.3L991.5,373.5L996.9,373.7L1002.4,374.0L1002.6,369.4L997.1,369.1L991.7,368.9L986.2,368.7L980.7,368.5L975.3,368.3L969.8,368.2L964.3,368.1ZM1018.5,49.4L1024.0,49.7L1029.4,50.0L1034.8,50.3L1040.2,50.7L1045.6,51.0L1051.1,51.4L1056.5,51.8L1061.9,52.2L1067.3,52.6L1066.9,57.2L1061.5,56.8L1056.1,56.4L1050.7,56.0L1045.3,55.6L1039.9,55.2L1034.5,54.9L1029.1,54.6L1023.7,54.3L1018.3,54.0ZM1040.4,376.5L1045.9,376.9L1051.3,377.4L1056.7,378.0L1062.1,378.5L1067.5,379.1L1073.0,379.7L1078.4,380.3L1078.9,375.7L1073.5,375.1L1068.0,374.5L1062.6,373.9L1057.1,373.4L1051.7,372.9L1046.3,372.4L1040.8,371.9ZM1116.0,57.5L1121.4,58.1L1126.8,58.8L1132.2,59.5L1137.5,60.2L1142.9,60.9L1148.3,61.6L1153.7,62.4L1159.1,63.2L1164.5,64.0L1163.8,68.5L1158.4,67.7L1153.0,66.9L1147.7,66.2L1142.3,65.5L1136.9,64.7L1131.6,64.0L1126.2,63.4L1120.8,62.7L1115.4,62.1ZM1116.2,385.3L1120.9,386.0L1125.6,386.8L1126.3,382.2L1121.6,381.5L1116.9,380.8ZM1176.5,65.8L1180.6,66.5L1184.6,67.1L1188.6,67.8L1187.8,72.3L1183.8,71.7L1179.8,71.0L1175.8,70.4ZM1188.6,67.8L1184.1,94.5L1179.6,93.8L1184.1,67.0ZM706.3,94.5L710.7,121.2L715.3,120.5L710.8,93.8ZM1179.7,121.2L1175.2,147.9L1170.7,147.2L1175.1,120.5ZM715.2,147.9L719.7,174.6L724.2,173.9L719.7,147.2ZM1170.7,174.6L1166.3,201.3L1161.7,200.6L1166.2,173.9ZM724.1,201.3L728.6,228.0L733.1,227.3L728.7,200.6ZM1161.8,228.0L1157.3,254.8L1152.8,254.0L1157.3,227.3ZM733.1,254.8L737.5,281.5L742.1,280.7L737.6,254.0ZM1152.9,281.5L1148.4,308.2L1143.9,307.4L1148.3,280.7ZM742.0,308.2L746.5,334.9L751.0,334.1L746.5,307.4ZM1143.9,334.9L1139.5,361.6L1134.9,360.8L1139.4,334.1ZM750.9,361.6L755.4,388.3L759.9,387.6L755.5,360.8Z" fill="#000" stroke="#000" stroke-width="0.9"/>
<text transform="translate(702.2 82.1) rotate(-9.49) scale(0.815 1)" font-size="27.3" text-anchor="end" fill="#2b2321" style="letter-spacing:1.90px;">64°S</text>
<text transform="translate(711.1 135.6) rotate(-9.49) scale(0.815 1)" font-size="27.3" text-anchor="end" fill="#2b2321" style="letter-spacing:1.90px;">65°S</text>
<text transform="translate(720.0 189.0) rotate(-9.49) scale(0.815 1)" font-size="27.3" text-anchor="end" fill="#2b2321" style="letter-spacing:1.90px;">66°S</text>
<text transform="translate(729.0 242.4) rotate(-9.49) scale(0.815 1)" font-size="27.3" text-anchor="end" fill="#2b2321" style="letter-spacing:1.90px;">67°S</text>
<text transform="translate(737.9 295.8) rotate(-9.49) scale(0.815 1)" font-size="27.3" text-anchor="end" fill="#2b2321" style="letter-spacing:1.90px;">68°S</text>
<text transform="translate(746.8 349.2) rotate(-9.49) scale(0.815 1)" font-size="27.3" text-anchor="end" fill="#2b2321" style="letter-spacing:1.90px;">69°S</text>
<text transform="translate(755.8 402.6) rotate(-9.49) scale(0.815 1)" font-size="27.3" text-anchor="end" fill="#2b2321" style="letter-spacing:1.90px;">70°S</text>
<text transform="translate(774.1 54.9) rotate(-6.65) scale(0.815 1)" font-size="27.3" text-anchor="middle" fill="#2b2321" style="letter-spacing:1.90px;">68°E</text>
<text transform="translate(871.7 46.8) rotate(-2.85) scale(0.815 1)" font-size="27.3" text-anchor="middle" fill="#2b2321" style="letter-spacing:1.90px;">72°E</text>
<text transform="translate(969.7 45.2) rotate(0.95) scale(0.815 1)" font-size="27.3" text-anchor="middle" fill="#2b2321" style="letter-spacing:1.90px;">76°E</text>
<text transform="translate(1067.5 50.1) rotate(4.75) scale(0.815 1)" font-size="27.3" text-anchor="middle" fill="#2b2321" style="letter-spacing:1.90px;">80°E</text>
<text transform="translate(1164.8 61.4) rotate(8.54) scale(0.815 1)" font-size="27.3" text-anchor="middle" fill="#2b2321" style="letter-spacing:1.90px;">84°E</text>
<g clip-path="url(#cA3)">
<rect x="1260" y="0" width="560" height="430" fill="#b854ff"/>
<g filter="url(#rough)"><ellipse cx="1400.0" cy="105.0" rx="90.0" ry="22.0" fill="#a94cff" filter="url(#b10)" transform="rotate(-8 1400.0 105.0)"/><ellipse cx="1560.0" cy="80.0" rx="60.0" ry="14.0" fill="#c05eff" filter="url(#b10)"/><ellipse cx="1470.0" cy="80.0" rx="50.0" ry="12.0" fill="#c262ff" filter="url(#b10)" transform="rotate(-10 1470.0 80.0)"/><ellipse cx="1600.0" cy="105.0" rx="60.0" ry="18.0" fill="#aa4cff" filter="url(#b10)" transform="rotate(8 1600.0 105.0)"/><ellipse cx="1700.0" cy="90.0" rx="40.0" ry="20.0" fill="#b452ff" filter="url(#b10)"/><ellipse cx="1350.0" cy="150.0" rx="22.0" ry="30.0" fill="#b858ff" filter="url(#b10)"/><ellipse cx="1430.0" cy="150.0" rx="50.0" ry="22.0" fill="#8c44ff" filter="url(#b10)" transform="rotate(10 1430.0 150.0)"/><ellipse cx="1440.0" cy="160.0" rx="28.0" ry="12.0" fill="#6c48ff" filter="url(#b6)"/><ellipse cx="1390.0" cy="185.0" rx="40.0" ry="18.0" fill="#7a48ff" filter="url(#b10)"/><ellipse cx="1768.0" cy="98.0" rx="16.0" ry="22.0" fill="#6a44ff" filter="url(#b6)" transform="rotate(15 1768.0 98.0)"/><ellipse cx="1772.0" cy="100.0" rx="7.0" ry="10.0" fill="#5458ff" filter="url(#b3)"/><ellipse cx="1545.0" cy="120.0" rx="20.0" ry="8.0" fill="#9444ff" filter="url(#b6)"/><ellipse cx="1500.0" cy="260.0" rx="150.0" ry="70.0" fill="#6a4cff" filter="url(#b16)"/><ellipse cx="1500.0" cy="255.0" rx="130.0" ry="55.0" fill="#4c70ff" filter="url(#b16)" transform="rotate(12 1500.0 255.0)"/><ellipse cx="1372.0" cy="200.0" rx="36.0" ry="18.0" fill="#4a78ff" filter="url(#b10)"/><ellipse cx="1395.0" cy="190.0" rx="16.0" ry="9.0" fill="#2a9cf0" filter="url(#b6)"/><ellipse cx="1354.0" cy="231.5" rx="5.0" ry="5.0" fill="#20b0c0" filter="url(#b3)"/><ellipse cx="1675.0" cy="232.0" rx="55.0" ry="26.0" fill="#6a50ff" filter="url(#b10)" transform="rotate(-20 1675.0 232.0)"/><ellipse cx="1378.0" cy="234.0" rx="38.0" ry="18.0" fill="#4a74ff" filter="url(#b10)"/><ellipse cx="1620.0" cy="265.0" rx="55.0" ry="45.0" fill="#3c84ff" filter="url(#b16)" transform="rotate(-35 1620.0 265.0)"/><ellipse cx="1610.0" cy="262.0" rx="30.0" ry="30.0" fill="#22a0f0" filter="url(#b10)" transform="rotate(-35 1610.0 262.0)"/><ellipse cx="1560.0" cy="305.0" rx="30.0" ry="18.0" fill="#2a98f0" filter="url(#b10)"/><ellipse cx="1500.0" cy="250.0" rx="100.0" ry="38.0" fill="#14b4e0" filter="url(#b10)" transform="rotate(16 1500.0 250.0)"/><ellipse cx="1505.0" cy="213.0" rx="40.0" ry="10.0" fill="#10bcd0" filter="url(#b6)" transform="rotate(22 1505.0 213.0)"/><ellipse cx="1499.0" cy="250.0" rx="86.0" ry="30.0" fill="#14b43c" filter="url(#b6)" transform="rotate(18 1499.0 250.0)"/><ellipse cx="1450.0" cy="212.0" rx="16.0" ry="16.0" fill="#20b030" filter="url(#b6)"/><ellipse cx="1560.0" cy="275.0" rx="22.0" ry="14.0" fill="#18b040" filter="url(#b6)" transform="rotate(20 1560.0 275.0)"/><ellipse cx="1483.0" cy="244.0" rx="42.0" ry="17.0" fill="#8cbc0c" filter="url(#b6)" transform="rotate(22 1483.0 244.0)"/><ellipse cx="1484.0" cy="246.0" rx="27.0" ry="8.0" fill="#f0c800" filter="url(#b6)" transform="rotate(24 1484.0 246.0)"/><ellipse cx="1462.0" cy="230.0" rx="14.0" ry="10.0" fill="#e8c400" filter="url(#b3)" transform="rotate(40 1462.0 230.0)"/><ellipse cx="1454.0" cy="214.0" rx="10.0" ry="12.0" fill="#e8c000" filter="url(#b3)"/><ellipse cx="1458.0" cy="222.0" rx="8.0" ry="8.0" fill="#ff9000" filter="url(#b3)"/><ellipse cx="1535.0" cy="256.0" rx="14.0" ry="9.0" fill="#d0c000" filter="url(#b3)" transform="rotate(15 1535.0 256.0)"/><ellipse cx="1447.5" cy="222.6" rx="3.2" ry="3.2" fill="#ffb088" filter="url(#b1)"/><ellipse cx="1426.0" cy="236.0" rx="3.4" ry="3.4" fill="#ffa880" filter="url(#b1)"/><ellipse cx="1438.6" cy="242.0" rx="2.4" ry="2.4" fill="#ff9070" filter="url(#b1)"/><ellipse cx="1528.6" cy="255.5" rx="3.5" ry="3.5" fill="#ffb088" filter="url(#b1)"/><ellipse cx="1541.0" cy="258.0" rx="3.6" ry="3.6" fill="#ffb088" filter="url(#b1)"/><ellipse cx="1523.0" cy="265.0" rx="2.8" ry="2.8" fill="#ff9878" filter="url(#b1)"/><ellipse cx="1550.0" cy="236.8" rx="2.0" ry="2.0" fill="#e83020" filter="url(#b1)"/><ellipse cx="1538.0" cy="234.0" rx="1.6" ry="1.6" fill="#e84020" filter="url(#b1)"/><ellipse cx="1460.0" cy="226.0" rx="1.8" ry="1.8" fill="#e84020" filter="url(#b1)"/><ellipse cx="1452.0" cy="236.0" rx="1.6" ry="1.6" fill="#e84020" filter="url(#b1)"/><ellipse cx="1436.0" cy="225.0" rx="1.8" ry="1.8" fill="#ff9070" filter="url(#b1)"/><ellipse cx="1456.0" cy="205.0" rx="2.2" ry="2.2" fill="#e85020" filter="url(#b1)"/><ellipse cx="1370.0" cy="262.0" rx="40.0" ry="14.0" fill="#8c42ff" filter="url(#b6)" transform="rotate(8 1370.0 262.0)"/><ellipse cx="1440.0" cy="290.0" rx="20.0" ry="10.0" fill="#7a44ff" filter="url(#b6)" transform="rotate(30 1440.0 290.0)"/><ellipse cx="1700.0" cy="232.0" rx="22.0" ry="14.0" fill="#8a4cff" filter="url(#b10)" transform="rotate(-30 1700.0 232.0)"/><ellipse cx="1610.0" cy="320.0" rx="28.0" ry="10.0" fill="#8a44ff" filter="url(#b6)" transform="rotate(-35 1610.0 320.0)"/><ellipse cx="1545.0" cy="335.0" rx="18.0" ry="10.0" fill="#8c40ff" filter="url(#b6)"/><ellipse cx="1700.0" cy="212.0" rx="12.0" ry="8.0" fill="#a852ff" filter="url(#b6)"/></g>
<path d="M1505.7,131.9L1509.3,130.1L1511.1,137.3L1521.7,137.3L1523.5,132.8L1530.6,131.9L1532.4,126.6L1546.7,125.7L1548.4,133.7L1553.8,137.3L1578.7,137.3L1585.8,135.5L1586.7,125.7L1588.0,131.9L1617.9,132.8L1621.5,128.3L1628.6,126.6L1630.4,121.2L1635.7,126.6L1644.6,126.6L1648.2,119.4L1654.4,115.9L1657.1,110.5L1658.8,103.4L1664.2,101.6L1664.2,96.3L1674.9,91.8L1692.7,91.0L1701.6,92.7L1702.5,85.6L1707.8,88.3L1712.3,94.5L1715.8,103.4L1721.2,110.5L1722.9,119.4L1731.8,123.0L1742.5,124.8L1744.3,131.9L1749.7,140.8L1756.8,146.2L1754.1,153.3L1762.1,164.0L1771.0,169.3L1785.3,169.3L1785.3,178.2L1771.0,180.0L1762.1,183.5L1756.8,190.7L1756.8,203.1L1739.0,206.7L1710.5,220.9L1690.9,220.9L1689.1,219.0L1682.0,210.3L1683.8,201.4L1689.1,190.7L1687.3,182.7L1680.2,183.5L1674.9,192.5L1670.4,188.9L1668.6,180.0L1664.2,165.7L1657.1,170.2L1648.2,171.1L1646.4,178.2L1633.9,176.4L1626.8,180.0L1626.8,188.9L1614.3,190.7L1610.8,197.8L1603.6,201.4L1601.9,206.7L1585.8,206.7L1582.3,210.3L1578.7,219.0L1551.3,219.0L1547.7,213.8L1542.4,208.5L1535.3,206.7L1529.9,203.1L1524.6,197.8L1519.2,196.0L1512.1,197.8L1503.2,194.2L1499.6,195.1L1488.1,194.2L1485.4,188.9L1480.1,182.7L1473.8,181.8L1475.6,174.6L1478.3,167.5L1481.8,160.4L1487.2,156.8L1490.7,153.3L1491.6,144.4L1496.1,144.4L1497.9,149.7L1509.4,147.0L1508.6,142.6Z" fill="#fff"/>
<path d="M1657.1,160.4L1664.2,157.7L1669.5,153.3L1676.6,147.9L1692.7,149.7L1708.7,151.5L1710.5,160.4L1717.6,169.3L1728.3,178.2L1730.1,185.3L1746.1,189.8L1746.1,194.2L1733.6,196.0L1730.1,190.7L1726.5,187.1L1717.6,187.1L1706.9,180.0L1699.8,171.1L1694.5,162.2L1690.9,171.1L1680.2,176.4L1671.3,174.6L1667.7,171.1L1664.2,165.7L1657.1,165.7Z" fill="#c062ff"/>
<path d="M1664.2,157.7L1676.6,147.9L1692.7,149.7L1695.3,160.4L1690.9,171.1L1680.2,176.4L1671.3,174.6L1664.2,165.7Z" fill="#b254ff"/>
<path d="M1528.0,133.7L1532.4,129.2L1548.4,130.1L1549.3,142.6L1548.4,156.8L1537.8,158.6L1534.2,155.1L1534.2,142.6L1528.0,140.8Z" fill="#b050ff"/>
<rect x="1482.9" y="167.2" width="13.5" height="11.4" rx="2.6" fill="#c468ff"/>
<rect x="1495.6" y="180.0" width="9.6" height="8.9" rx="2.0" fill="#9a44ff"/>
<rect x="1580.9" y="165.7" width="10.0" height="10.0" rx="2.2" fill="#c468ff"/>
<rect x="1566.8" y="178.7" width="15.0" height="11.4" rx="2.6" fill="#c062ff"/>
<rect x="1615.6" y="175.0" width="10.0" height="10.0" rx="2.2" fill="#c062ff"/>
<rect x="1730.1" y="188.0" width="16.0" height="8.9" rx="2.0" fill="#c468ff"/>
<rect x="1755.0" y="181.8" width="17.8" height="17.8" rx="4.0" fill="#c062ff"/>
<path d="M1462.3,160.4L1467.6,161.3L1463.1,167.5L1458.7,174.6L1457.8,171.1Z" fill="#fff"/>
<path d="M1670.6,175.6L1688.3,176.3L1690.2,173.1L1694.6,161.7L1697.1,168.0L1702.2,178.1L1711.0,183.2L1719.9,188.3L1728.7,188.3L1731.2,195.8L1746.4,197.1L1752.1,194.6L1754.0,200.9L1741.4,203.4L1743.2,208.5L1752.7,210.4L1745.1,214.8L1752.1,220.5L1741.4,223.7L1730.0,228.7L1726.2,235.7L1724.9,226.2L1713.5,228.7L1698.4,226.8L1695.8,227.4L1695.8,223.7L1688.9,217.3L1688.9,209.7L1683.2,202.2L1688.3,194.6L1688.9,183.2L1679.4,181.9L1675.6,193.3L1670.6,190.8L1669.3,176.9Z" fill="#fff"/>
<path d="M1730.6,188.9L1738.8,187.6L1746.4,189.5L1746.4,194.6L1738.8,197.4L1731.2,195.8Z" fill="#c566ff"/>
<path d="M1770.4,178.8L1762.8,183.2L1759.0,190.8L1752.1,194.6L1754.0,200.9L1759.0,199.6L1771.7,202.2Z" fill="#c566ff"/>
<path d="M1551.7,217.2L1576.6,217.2L1576.6,221.7L1558.8,222.6L1553.5,226.1Z" fill="#fff"/>
<path d="M1427.1,254.6L1432.4,251.1L1436.0,253.7L1430.6,259.1L1427.9,265.3L1426.2,261.7Z" fill="#fff"/>
<path d="M1340.2,265.5L1347.3,265.2L1358.0,264.3L1368.7,263.0L1381.2,264.3L1393.6,265.2L1407.9,263.8L1415.0,261.6L1415.9,256.3L1419.4,254.1L1424.8,255.4L1425.7,263.4L1425.3,268.7L1429.2,277.6L1436.4,288.3L1440.8,295.4L1445.3,303.5L1450.6,304.4L1453.3,299.9L1457.7,299.0L1464.9,300.8L1470.2,296.3L1479.1,292.8L1488.0,293.7L1495.1,292.8L1496.5,296.3L1493.3,302.6L1493.3,306.1L1497.8,312.4L1500.5,300.8L1507.6,299.9L1512.9,306.1L1518.3,315.0L1523.6,322.2L1527.2,327.5L1529.0,332.8L1529.8,340.0L1532.5,345.3L1536.1,348.0L1542.3,348.5L1543.8,348.9L1548.3,347.1L1557.2,343.5L1566.1,336.4L1575.0,332.8L1582.1,325.7L1592.8,322.2L1599.9,319.5L1603.5,313.3L1599.9,307.9L1603.5,300.8L1607.0,293.7L1614.2,286.5L1621.3,278.5L1630.2,272.3L1642.7,267.0L1655.1,262.5L1667.6,259.8L1678.3,257.2L1681.8,250.9L1681.8,243.8L1687.0,238.1L1690.2,229.2L1698.4,224.9L1713.5,226.7L1724.9,224.2L1726.2,233.8L1729.9,226.7L1741.3,221.7L1752.2,218.5L1745.2,212.8L1752.7,208.6L1743.3,206.6L1741.3,201.4L1757.9,197.7L1767.3,200.2L1785.1,201.1L1842.4,198.1L1842.4,428.1L1302.4,428.1Z" fill="#636363"/><path d="M1514.7,334.6L1523.6,337.3L1527.2,340.0L1529.0,345.3L1532.5,348.0L1542.3,348.9L1545.0,356.0L1541.4,355.1L1536.1,354.2L1527.2,354.2L1518.3,356.0L1516.5,350.6L1518.3,347.1L1525.4,342.6L1524.5,339.1Z" fill="#fff"/>
<path d="M1496.1,298.2L1505.4,298.8L1500.1,302.7L1497.4,314.3L1492.9,308.0L1492.9,304.5Z" fill="#fff"/>
<path d="M1557.0,335.6L1561.5,338.3L1562.4,341.9L1553.5,346.3L1549.9,344.5L1557.0,341.9Z" fill="#fff"/>
<path d="M1582.0,324.9L1590.0,324.1L1589.1,326.7L1582.9,327.6Z" fill="#fff"/><path d="M1555.3,265.6L1560.7,280.9L1578.3,280.9L1564.1,290.3L1569.5,305.6L1555.3,296.1L1541.1,305.6L1546.5,290.3L1532.3,280.9L1549.9,280.9Z" fill="#ffee00" stroke="#1a1a1a" stroke-width="1.5" stroke-linejoin="miter"/><text x="1370.5" y="363.1" font-size="31.5" text-anchor="start" fill="#fff" style="stroke:#fff;stroke-width:0.6px;letter-spacing:2.4px">Summer</text><text x="1735.6" y="328.2" font-size="31.5" text-anchor="end" fill="#fff" style="stroke:#fff;stroke-width:0.6px;font-style:italic;letter-spacing:2.1px">Chl-a</text><text x="1737.0" y="363.3" font-size="31.5" text-anchor="end" fill="#fff" style="stroke:#fff;stroke-width:0.6px;font-style:italic;letter-spacing:2.3px">[mg/m<tspan dy="-15.2" font-size="15.5">3</tspan><tspan dy="15.2">]</tspan></text>
</g>
<path d="M1310.3,67.6L1315.4,66.8L1320.6,65.9L1325.7,65.1L1330.9,64.3L1336.0,63.5L1341.2,62.8L1346.3,62.0L1347.0,66.6L1341.8,67.3L1336.7,68.1L1331.6,68.9L1326.4,69.7L1321.3,70.5L1316.2,71.3L1311.1,72.1ZM1391.8,383.4L1397.4,382.6L1403.0,381.8L1408.7,381.1L1414.3,380.4L1420.0,379.7L1419.4,375.2L1413.8,375.8L1408.1,376.5L1402.4,377.3L1396.8,378.0L1391.1,378.8ZM1382.5,57.4L1387.9,56.8L1393.2,56.2L1398.6,55.6L1404.0,55.1L1409.3,54.5L1414.7,54.0L1420.1,53.5L1425.5,53.0L1430.9,52.6L1431.2,57.2L1425.9,57.6L1420.5,58.1L1415.2,58.6L1409.8,59.1L1404.4,59.6L1399.1,60.2L1393.7,60.8L1388.4,61.3L1383.0,62.0ZM1457.7,376.0L1463.0,375.6L1468.4,375.1L1473.8,374.8L1479.2,374.4L1484.6,374.1L1490.0,373.8L1495.4,373.5L1495.2,368.9L1489.8,369.2L1484.4,369.5L1478.9,369.8L1473.5,370.2L1468.1,370.6L1462.7,371.0L1457.3,371.4ZM1479.4,49.4L1484.8,49.1L1490.2,48.9L1495.6,48.7L1500.9,48.5L1506.3,48.3L1511.7,48.1L1517.1,48.0L1522.5,47.9L1527.9,47.8L1528.0,52.4L1522.6,52.5L1517.3,52.6L1511.9,52.7L1506.5,52.9L1501.1,53.0L1495.7,53.2L1490.3,53.5L1485.0,53.7L1479.6,54.0ZM1533.3,372.2L1538.7,372.2L1544.1,372.1L1549.5,372.1L1555.0,372.1L1560.4,372.1L1565.8,372.2L1571.2,372.2L1571.3,367.6L1565.8,367.6L1560.4,367.5L1555.0,367.5L1549.5,367.5L1544.1,367.5L1538.7,367.6L1533.2,367.6ZM1576.6,47.8L1582.0,47.9L1587.4,48.0L1592.8,48.1L1598.2,48.3L1603.6,48.5L1608.9,48.7L1614.3,48.9L1619.7,49.1L1625.1,49.4L1624.9,54.0L1619.5,53.7L1614.2,53.5L1608.8,53.2L1603.4,53.0L1598.0,52.9L1592.6,52.7L1587.2,52.6L1581.9,52.5L1576.5,52.4ZM1609.1,373.5L1614.5,373.8L1619.9,374.1L1625.3,374.4L1630.7,374.8L1636.1,375.1L1641.5,375.6L1646.8,376.0L1647.2,371.4L1641.8,371.0L1636.4,370.6L1631.0,370.2L1625.6,369.8L1620.1,369.5L1614.7,369.2L1609.3,368.9ZM1673.6,52.6L1679.0,53.0L1684.4,53.5L1689.8,54.0L1695.2,54.5L1700.5,55.1L1705.9,55.6L1711.3,56.2L1716.6,56.8L1722.0,57.4L1721.5,62.0L1716.1,61.3L1710.8,60.8L1705.4,60.2L1700.1,59.6L1694.7,59.1L1689.3,58.6L1684.0,58.1L1678.6,57.6L1673.3,57.2ZM1684.5,379.7L1689.9,380.4L1695.3,381.0L1700.7,381.7L1706.0,382.4L1711.4,383.2L1716.7,383.9L1722.1,384.7L1722.8,380.2L1717.4,379.4L1712.0,378.6L1706.6,377.9L1701.3,377.2L1695.9,376.5L1690.5,375.8L1685.1,375.2ZM1770.2,63.8L1774.2,64.4L1778.2,65.0L1782.2,65.6L1781.5,70.2L1777.5,69.6L1773.5,69.0L1769.5,68.3ZM1731.5,386.2L1736.1,386.9L1740.8,387.7L1741.6,383.2L1736.9,382.4L1732.2,381.6ZM1310.3,67.6L1314.8,94.3L1319.3,93.5L1314.8,66.9ZM1789.8,94.3L1785.3,121.0L1780.8,120.2L1785.2,93.5ZM1319.2,121.0L1323.7,147.6L1328.2,146.9L1323.7,120.2ZM1780.8,147.6L1776.4,174.3L1771.9,173.6L1776.3,146.9ZM1328.1,174.3L1332.5,201.0L1337.1,200.2L1332.6,173.6ZM1772.0,201.0L1767.5,227.6L1763.0,226.9L1767.4,200.2ZM1337.0,227.6L1341.5,254.3L1346.0,253.6L1341.5,226.9ZM1763.0,254.3L1758.6,281.0L1754.1,280.3L1758.5,253.6ZM1345.9,281.0L1350.3,307.7L1354.9,306.9L1350.4,280.3ZM1754.2,307.7L1749.7,334.3L1745.2,333.6L1749.6,306.9ZM1354.8,334.3L1359.2,361.0L1363.8,360.3L1359.3,333.6ZM1745.2,361.0L1740.8,387.7L1736.3,387.0L1740.7,360.3Z" fill="#fff" stroke="#000" stroke-width="0.9" stroke-linejoin="miter"/>
<path d="M1363.7,387.7L1369.3,386.8L1374.9,385.9L1380.5,385.0L1386.2,384.2L1391.8,383.4L1391.1,378.8L1385.5,379.6L1379.8,380.5L1374.2,381.3L1368.6,382.2L1362.9,383.2ZM1346.3,62.0L1351.5,61.3L1356.7,60.6L1361.8,59.9L1367.0,59.3L1372.1,58.6L1377.3,58.0L1382.5,57.4L1383.0,62.0L1377.9,62.6L1372.7,63.2L1367.6,63.8L1362.4,64.5L1357.3,65.2L1352.1,65.9L1347.0,66.6ZM1420.0,379.7L1425.3,379.1L1430.7,378.5L1436.1,378.0L1441.5,377.4L1446.9,376.9L1452.3,376.5L1457.7,376.0L1457.3,371.4L1451.9,371.9L1446.4,372.4L1441.0,372.9L1435.6,373.4L1430.2,374.0L1424.8,374.6L1419.4,375.2ZM1430.9,52.6L1436.2,52.1L1441.6,51.7L1447.0,51.3L1452.4,51.0L1457.8,50.6L1463.2,50.3L1468.6,49.9L1474.0,49.6L1479.4,49.4L1479.6,54.0L1474.2,54.2L1468.8,54.5L1463.5,54.8L1458.1,55.2L1452.7,55.5L1447.3,55.9L1442.0,56.3L1436.6,56.7L1431.2,57.2ZM1495.4,373.5L1500.9,373.2L1506.3,373.0L1511.7,372.8L1517.1,372.6L1522.5,372.5L1527.9,372.3L1533.3,372.2L1533.2,367.6L1527.8,367.7L1522.4,367.9L1516.9,368.0L1511.5,368.2L1506.1,368.4L1500.6,368.6L1495.2,368.9ZM1527.9,47.8L1533.3,47.7L1538.7,47.6L1544.1,47.6L1549.5,47.6L1555.0,47.6L1560.4,47.6L1565.8,47.6L1571.2,47.7L1576.6,47.8L1576.5,52.4L1571.1,52.3L1565.7,52.2L1560.3,52.2L1554.9,52.2L1549.6,52.2L1544.2,52.2L1538.8,52.2L1533.4,52.3L1528.0,52.4ZM1571.2,372.2L1576.6,372.3L1582.0,372.5L1587.4,372.6L1592.8,372.8L1598.2,373.0L1603.6,373.2L1609.1,373.5L1609.3,368.9L1603.9,368.6L1598.4,368.4L1593.0,368.2L1587.6,368.0L1582.1,367.9L1576.7,367.7L1571.3,367.6ZM1625.1,49.4L1630.5,49.6L1635.9,49.9L1641.3,50.3L1646.7,50.6L1652.1,51.0L1657.5,51.3L1662.9,51.7L1668.3,52.1L1673.6,52.6L1673.3,57.2L1667.9,56.7L1662.5,56.3L1657.2,55.9L1651.8,55.5L1646.4,55.2L1641.0,54.8L1635.7,54.5L1630.3,54.2L1624.9,54.0ZM1646.8,376.0L1652.2,376.5L1657.6,376.9L1663.0,377.4L1668.4,378.0L1673.8,378.5L1679.2,379.1L1684.5,379.7L1685.1,375.2L1679.7,374.6L1674.3,374.0L1668.9,373.4L1663.5,372.9L1658.1,372.4L1652.6,371.9L1647.2,371.4ZM1722.0,57.4L1727.4,58.0L1732.7,58.7L1738.1,59.3L1743.5,60.0L1748.8,60.8L1754.2,61.5L1759.5,62.2L1764.9,63.0L1770.2,63.8L1769.5,68.3L1764.2,67.6L1758.9,66.8L1753.5,66.0L1748.2,65.3L1742.9,64.6L1737.5,63.9L1732.2,63.2L1726.8,62.6L1721.5,62.0ZM1722.1,384.7L1726.8,385.4L1731.5,386.2L1732.2,381.6L1727.5,380.9L1722.8,380.2ZM1782.2,65.6L1786.2,66.3L1790.2,66.9L1794.2,67.6L1793.4,72.1L1789.5,71.5L1785.5,70.8L1781.5,70.2ZM1794.2,67.6L1789.8,94.3L1785.2,93.5L1789.7,66.9ZM1314.8,94.3L1319.2,121.0L1323.7,120.2L1319.3,93.5ZM1785.3,121.0L1780.8,147.6L1776.3,146.9L1780.8,120.2ZM1323.7,147.6L1328.1,174.3L1332.6,173.6L1328.2,146.9ZM1776.4,174.3L1772.0,201.0L1767.4,200.2L1771.9,173.6ZM1332.5,201.0L1337.0,227.6L1341.5,226.9L1337.1,200.2ZM1767.5,227.6L1763.0,254.3L1758.5,253.6L1763.0,226.9ZM1341.5,254.3L1345.9,281.0L1350.4,280.3L1346.0,253.6ZM1758.6,281.0L1754.2,307.7L1749.6,306.9L1754.1,280.3ZM1350.3,307.7L1354.8,334.3L1359.3,333.6L1354.9,306.9ZM1749.7,334.3L1745.2,361.0L1740.7,360.3L1745.2,333.6ZM1359.2,361.0L1363.7,387.7L1368.2,387.0L1363.8,360.3Z" fill="#000" stroke="#000" stroke-width="0.9"/>
<text transform="translate(1310.7 81.9) rotate(-9.47) scale(0.815 1)" font-size="27.3" text-anchor="end" fill="#2b2321" style="letter-spacing:1.90px;">64°S</text>
<text transform="translate(1319.6 135.3) rotate(-9.47) scale(0.815 1)" font-size="27.3" text-anchor="end" fill="#2b2321" style="letter-spacing:1.90px;">65°S</text>
<text transform="translate(1328.5 188.6) rotate(-9.47) scale(0.815 1)" font-size="27.3" text-anchor="end" fill="#2b2321" style="letter-spacing:1.90px;">66°S</text>
<text transform="translate(1337.4 242.0) rotate(-9.47) scale(0.815 1)" font-size="27.3" text-anchor="end" fill="#2b2321" style="letter-spacing:1.90px;">67°S</text>
<text transform="translate(1346.3 295.3) rotate(-9.47) scale(0.815 1)" font-size="27.3" text-anchor="end" fill="#2b2321" style="letter-spacing:1.90px;">68°S</text>
<text transform="translate(1355.2 348.7) rotate(-9.47) scale(0.815 1)" font-size="27.3" text-anchor="end" fill="#2b2321" style="letter-spacing:1.90px;">69°S</text>
<text transform="translate(1364.1 402.0) rotate(-9.47) scale(0.815 1)" font-size="27.3" text-anchor="end" fill="#2b2321" style="letter-spacing:1.90px;">70°S</text>
<text transform="translate(1382.2 54.8) rotate(-6.63) scale(0.815 1)" font-size="27.3" text-anchor="middle" fill="#2b2321" style="letter-spacing:1.90px;">68°E</text>
<text transform="translate(1479.2 46.8) rotate(-2.84) scale(0.815 1)" font-size="27.3" text-anchor="middle" fill="#2b2321" style="letter-spacing:1.90px;">72°E</text>
<text transform="translate(1576.6 45.2) rotate(0.95) scale(0.815 1)" font-size="27.3" text-anchor="middle" fill="#2b2321" style="letter-spacing:1.90px;">76°E</text>
<text transform="translate(1673.9 50.0) rotate(4.74) scale(0.815 1)" font-size="27.3" text-anchor="middle" fill="#2b2321" style="letter-spacing:1.90px;">80°E</text>
<text transform="translate(1770.6 61.2) rotate(8.52) scale(0.815 1)" font-size="27.3" text-anchor="middle" fill="#2b2321" style="letter-spacing:1.90px;">84°E</text>
<g clip-path="url(#cB1)">
<rect x="9" y="480" width="640" height="400" fill="#fff"/>
<path d="M152.6,871.2L156.0,859.3L144.1,855.9L140.7,867.9ZM168.0,862.7L171.4,850.7L159.4,847.4L156.0,859.3ZM156.0,859.3L159.4,847.4L147.5,844.0L144.1,855.9ZM159.4,847.4L162.8,835.4L150.9,832.1L147.5,844.0ZM162.8,835.4L166.1,823.5L154.2,820.2L150.9,832.1ZM285.7,856.6L289.0,844.6L277.0,841.4L273.7,853.3ZM166.1,823.5L169.5,811.6L157.6,808.2L154.2,820.2ZM289.0,844.6L292.2,832.6L280.3,829.4L277.0,841.4ZM169.5,811.6L172.8,799.7L161.0,796.3L157.6,808.2ZM292.2,832.6L295.5,820.7L283.5,817.4L280.3,829.4ZM172.8,799.7L176.2,787.8L164.3,784.4L161.0,796.3ZM176.2,787.8L179.5,775.9L167.6,772.5L164.3,784.4ZM194.7,767.3L198.0,755.4L186.2,752.1L182.8,764.0ZM198.0,755.4L201.3,743.5L189.5,740.2L186.2,752.1ZM216.5,735.0L219.8,723.1L207.9,719.8L204.6,731.7ZM219.8,723.1L223.0,711.2L211.2,707.9L207.9,719.8ZM207.9,719.8L211.2,707.9L199.4,704.6L196.1,716.5ZM223.0,711.2L226.3,699.4L214.5,696.1L211.2,707.9ZM229.6,687.5L232.8,675.7L221.0,672.4L217.8,684.2ZM482.2,742.0L485.3,730.1L473.4,727.0L470.3,739.0ZM497.2,733.1L500.3,721.2L488.3,718.2L485.3,730.1ZM500.3,721.2L503.3,709.3L491.4,706.2L488.3,718.2ZM503.3,709.3L506.3,697.4L494.4,694.3L491.4,706.2ZM455.7,697.1L458.8,685.2L446.9,682.1L443.8,694.0ZM488.6,667.5L491.7,655.6L479.8,652.5L476.8,664.4ZM164.8,555.2L168.1,543.4L156.4,540.1L153.1,551.9ZM191.5,550.0L194.7,538.2L183.0,535.0L179.8,546.7ZM241.6,551.2L244.8,539.4L233.1,536.2L229.9,547.9ZM356.8,544.5L359.9,532.7L348.1,529.6L345.0,541.3ZM430.4,551.3L433.5,539.5L421.7,536.5L418.6,548.2ZM515.9,560.8L518.9,549.0L507.1,546.0L504.1,557.8Z" fill="#9eff61" stroke="#9eff61" stroke-width="0.9"/>
<path d="M179.9,866.0L183.3,854.1L171.4,850.7L168.0,862.7ZM207.2,860.8L210.6,848.8L198.6,845.5L195.3,857.4ZM195.3,857.4L198.6,845.5L186.7,842.1L183.3,854.1ZM183.3,854.1L186.7,842.1L174.7,838.8L171.4,850.7ZM171.4,850.7L174.7,838.8L162.8,835.4L159.4,847.4ZM198.6,845.5L201.9,833.5L190.0,830.2L186.7,842.1ZM186.7,842.1L190.0,830.2L178.1,826.9L174.7,838.8ZM174.7,838.8L178.1,826.9L166.1,823.5L162.8,835.4ZM273.7,853.3L277.0,841.4L265.0,838.1L261.8,850.1ZM261.8,850.1L265.0,838.1L253.1,834.8L249.8,846.8ZM190.0,830.2L193.3,818.3L181.4,814.9L178.1,826.9ZM178.1,826.9L181.4,814.9L169.5,811.6L166.1,823.5ZM277.0,841.4L280.3,829.4L268.3,826.1L265.0,838.1ZM193.3,818.3L196.7,806.4L184.8,803.0L181.4,814.9ZM181.4,814.9L184.8,803.0L172.8,799.7L169.5,811.6ZM280.3,829.4L283.5,817.4L271.6,814.2L268.3,826.1ZM184.8,803.0L188.1,791.1L176.2,787.8L172.8,799.7ZM283.5,817.4L286.8,805.5L274.8,802.2L271.6,814.2ZM188.1,791.1L191.4,779.2L179.5,775.9L176.2,787.8ZM191.4,779.2L194.7,767.3L182.8,764.0L179.5,775.9ZM209.9,758.7L213.2,746.8L201.3,743.5L198.0,755.4ZM213.2,746.8L216.5,735.0L204.6,731.7L201.3,743.5ZM267.2,736.1L270.5,724.3L258.6,721.0L255.4,732.9ZM211.2,707.9L214.5,696.1L202.7,692.8L199.4,704.6ZM485.3,730.1L488.3,718.2L476.4,715.1L473.4,727.0ZM473.4,727.0L476.4,715.1L464.5,712.0L461.5,724.0ZM497.5,682.4L500.5,670.5L488.6,667.5L485.6,679.4ZM461.9,673.3L464.9,661.4L453.1,658.3L450.0,670.2ZM179.8,546.7L183.0,535.0L171.3,531.7L168.1,543.4ZM229.9,547.9L233.1,536.2L221.4,533.0L218.2,544.7ZM318.4,546.8L321.5,535.0L309.8,531.9L306.6,543.6ZM418.6,548.2L421.7,536.5L410.0,533.4L406.9,545.2ZM504.1,557.8L507.1,546.0L495.3,543.0L492.3,554.8ZM566.0,561.0L569.0,549.2L557.2,546.2L554.2,558.0Z" fill="#94ff6b" stroke="#94ff6b" stroke-width="0.9"/>
<path d="M219.2,864.1L222.5,852.1L210.6,848.8L207.2,860.8ZM246.5,858.7L249.8,846.8L237.8,843.5L234.5,855.4ZM234.5,855.4L237.8,843.5L225.8,840.2L222.5,852.1ZM222.5,852.1L225.8,840.2L213.9,836.9L210.6,848.8ZM210.6,848.8L213.9,836.9L201.9,833.5L198.6,845.5ZM249.8,846.8L253.1,834.8L241.1,831.5L237.8,843.5ZM237.8,843.5L241.1,831.5L229.2,828.2L225.8,840.2ZM225.8,840.2L229.2,828.2L217.2,824.9L213.9,836.9ZM213.9,836.9L217.2,824.9L205.3,821.6L201.9,833.5ZM201.9,833.5L205.3,821.6L193.3,818.3L190.0,830.2ZM265.0,838.1L268.3,826.1L256.3,822.9L253.1,834.8ZM253.1,834.8L256.3,822.9L244.4,819.6L241.1,831.5ZM241.1,831.5L244.4,819.6L232.5,816.3L229.2,828.2ZM217.2,824.9L220.5,813.0L208.6,809.7L205.3,821.6ZM205.3,821.6L208.6,809.7L196.7,806.4L193.3,818.3ZM268.3,826.1L271.6,814.2L259.6,810.9L256.3,822.9ZM256.3,822.9L259.6,810.9L247.7,807.6L244.4,819.6ZM208.6,809.7L211.9,797.8L200.0,794.4L196.7,806.4ZM196.7,806.4L200.0,794.4L188.1,791.1L184.8,803.0ZM271.6,814.2L274.8,802.2L262.9,799.0L259.6,810.9ZM200.0,794.4L203.3,782.5L191.4,779.2L188.1,791.1ZM203.3,782.5L206.6,770.6L194.7,767.3L191.4,779.2ZM206.6,770.6L209.9,758.7L198.0,755.4L194.7,767.3ZM225.1,750.1L228.4,738.2L216.5,735.0L213.2,746.8ZM279.1,739.4L282.4,727.5L270.5,724.3L267.2,736.1ZM226.3,699.4L229.6,687.5L217.8,684.2L214.5,696.1ZM217.8,684.2L221.0,672.4L209.2,669.1L205.9,680.9ZM488.3,718.2L491.4,706.2L479.5,703.2L476.4,715.1ZM464.5,712.0L467.6,700.1L455.7,697.1L452.6,709.0ZM458.8,685.2L461.9,673.3L450.0,670.2L446.9,682.1ZM108.1,577.1L111.4,565.4L99.7,562.1L96.4,573.8ZM476.8,664.4L479.8,652.5L468.0,649.5L464.9,661.4ZM138.1,560.3L141.4,548.6L129.7,545.3L126.4,557.0ZM153.1,551.9L156.4,540.1L144.7,536.9L141.4,548.6ZM218.2,544.7L221.4,533.0L209.7,529.7L206.4,541.5ZM206.4,541.5L209.7,529.7L198.0,526.5L194.7,538.2ZM291.7,552.2L294.9,540.5L283.2,537.3L280.0,549.0ZM280.0,549.0L283.2,537.3L271.5,534.1L268.3,545.8ZM406.9,545.2L410.0,533.4L398.2,530.3L395.1,542.1ZM492.3,554.8L495.3,543.0L483.6,540.0L480.5,551.8ZM554.2,558.0L557.2,546.2L545.4,543.2L542.4,555.0Z" fill="#8aff75" stroke="#8aff75" stroke-width="0.9"/>
<path d="M150.9,832.1L154.2,820.2L142.3,816.8L138.9,828.7ZM154.2,820.2L157.6,808.2L145.7,804.9L142.3,816.8ZM313.0,851.1L316.2,839.1L304.2,835.9L301.0,847.9ZM301.0,847.9L304.2,835.9L292.2,832.6L289.0,844.6ZM157.6,808.2L161.0,796.3L149.1,793.0L145.7,804.9ZM304.2,835.9L307.4,823.9L295.5,820.7L292.2,832.6ZM161.0,796.3L164.3,784.4L152.4,781.1L149.1,793.0ZM179.5,775.9L182.8,764.0L171.0,760.7L167.6,772.5ZM182.8,764.0L186.2,752.1L174.3,748.8L171.0,760.7ZM201.3,743.5L204.6,731.7L192.8,728.4L189.5,740.2ZM204.6,731.7L207.9,719.8L196.1,716.5L192.8,728.4ZM491.1,757.0L494.2,745.1L482.2,742.0L479.2,754.0ZM479.2,754.0L482.2,742.0L470.3,739.0L467.3,750.9ZM494.2,745.1L497.2,733.1L485.3,730.1L482.2,742.0ZM470.3,739.0L473.4,727.0L461.5,724.0L458.4,735.9ZM509.1,736.2L512.2,724.2L500.3,721.2L497.2,733.1ZM119.8,580.5L123.1,568.7L111.4,565.4L108.1,577.1ZM134.8,572.0L138.1,560.3L126.4,557.0L123.1,568.7ZM149.8,563.6L153.1,551.9L141.4,548.6L138.1,560.3ZM203.2,553.2L206.4,541.5L194.7,538.2L191.5,550.0ZM253.3,554.4L256.5,542.6L244.8,539.4L241.6,551.2ZM303.5,555.4L306.6,543.6L294.9,540.5L291.7,552.2ZM368.5,547.6L371.6,535.8L359.9,532.7L356.8,544.5ZM442.2,554.4L445.2,542.6L433.5,539.5L430.4,551.3ZM527.7,563.8L530.7,552.0L518.9,549.0L515.9,560.8ZM577.8,563.9L580.8,552.1L569.0,549.2L566.0,561.0Z" fill="#a8ff57" stroke="#a8ff57" stroke-width="0.9"/>
<path d="M337.0,857.5L340.2,845.5L328.2,842.3L325.0,854.3ZM325.0,854.3L328.2,842.3L316.2,839.1L313.0,851.1ZM145.7,804.9L149.1,793.0L137.2,789.6L133.8,801.5ZM316.2,839.1L319.4,827.1L307.4,823.9L304.2,835.9ZM149.1,793.0L152.4,781.1L140.5,777.7L137.2,789.6ZM463.5,865.0L466.6,852.9L454.6,849.9L451.5,861.9ZM451.5,861.9L454.6,849.9L442.6,846.8L439.5,858.8ZM164.3,784.4L167.6,772.5L155.8,769.2L152.4,781.1ZM490.7,859.1L493.7,847.1L481.7,844.0L478.7,856.0ZM478.7,856.0L481.7,844.0L469.7,840.9L466.6,852.9ZM466.6,852.9L469.7,840.9L457.7,837.8L454.6,849.9ZM167.6,772.5L171.0,760.7L159.1,757.3L155.8,769.2ZM481.7,844.0L484.8,832.0L472.8,828.9L469.7,840.9ZM469.7,840.9L472.8,828.9L460.8,825.8L457.7,837.8ZM484.8,832.0L487.8,820.0L475.8,816.9L472.8,828.9ZM472.8,828.9L475.8,816.9L463.8,813.8L460.8,825.8ZM186.2,752.1L189.5,740.2L177.6,736.9L174.3,748.8ZM487.8,820.0L490.9,808.0L478.9,804.9L475.8,816.9ZM475.8,816.9L478.9,804.9L466.9,801.9L463.8,813.8ZM189.5,740.2L192.8,728.4L180.9,725.0L177.6,736.9ZM490.9,808.0L493.9,796.0L482.0,792.9L478.9,804.9ZM478.9,804.9L482.0,792.9L470.0,789.9L466.9,801.9ZM505.9,799.0L509.0,787.1L497.0,784.0L493.9,796.0ZM493.9,796.0L497.0,784.0L485.0,781.0L482.0,792.9ZM482.0,792.9L485.0,781.0L473.1,777.9L470.0,789.9ZM470.0,789.9L473.1,777.9L461.1,774.8L458.0,786.8ZM509.0,787.1L512.0,775.1L500.0,772.0L497.0,784.0ZM497.0,784.0L500.0,772.0L488.1,769.0L485.0,781.0ZM485.0,781.0L488.1,769.0L476.1,765.9L473.1,777.9ZM473.1,777.9L476.1,765.9L464.2,762.9L461.1,774.8ZM199.4,704.6L202.7,692.8L190.8,689.5L187.5,701.3ZM512.0,775.1L515.0,763.1L503.1,760.1L500.0,772.0ZM500.0,772.0L503.1,760.1L491.1,757.0L488.1,769.0ZM488.1,769.0L491.1,757.0L479.2,754.0L476.1,765.9ZM476.1,765.9L479.2,754.0L467.3,750.9L464.2,762.9ZM464.2,762.9L467.3,750.9L455.3,747.8L452.2,759.8ZM202.7,692.8L205.9,680.9L194.1,677.7L190.8,689.5ZM515.0,763.1L518.0,751.1L506.1,748.1L503.1,760.1ZM503.1,760.1L506.1,748.1L494.2,745.1L491.1,757.0ZM467.3,750.9L470.3,739.0L458.4,735.9L455.3,747.8ZM518.0,751.1L521.1,739.2L509.1,736.2L506.1,748.1ZM506.1,748.1L509.1,736.2L497.2,733.1L494.2,745.1ZM458.4,735.9L461.5,724.0L449.6,720.9L446.5,732.8ZM512.2,724.2L515.2,712.3L503.3,709.3L500.3,721.2ZM452.6,709.0L455.7,697.1L443.8,694.0L440.8,705.9ZM464.9,661.4L468.0,649.5L456.1,646.4L453.1,658.3ZM176.5,558.4L179.8,546.7L168.1,543.4L164.8,555.2ZM214.9,556.5L218.2,544.7L206.4,541.5L203.2,553.2ZM330.1,550.0L333.3,538.2L321.5,535.0L318.4,546.8ZM380.3,550.7L383.4,539.0L371.6,535.8L368.5,547.6ZM453.9,557.5L457.0,545.7L445.2,542.6L442.2,554.4ZM539.4,566.8L542.4,555.0L530.7,552.0L527.7,563.8Z" fill="#b3ff4c" stroke="#b3ff4c" stroke-width="0.9"/>
<path d="M229.2,828.2L232.5,816.3L220.5,813.0L217.2,824.9ZM244.4,819.6L247.7,807.6L235.8,804.4L232.5,816.3ZM232.5,816.3L235.8,804.4L223.8,801.1L220.5,813.0ZM220.5,813.0L223.8,801.1L211.9,797.8L208.6,809.7ZM259.6,810.9L262.9,799.0L251.0,795.7L247.7,807.6ZM247.7,807.6L251.0,795.7L239.0,792.4L235.8,804.4ZM235.8,804.4L239.0,792.4L227.1,789.1L223.8,801.1ZM223.8,801.1L227.1,789.1L215.2,785.8L211.9,797.8ZM211.9,797.8L215.2,785.8L203.3,782.5L200.0,794.4ZM262.9,799.0L266.2,787.0L254.2,783.8L251.0,795.7ZM215.2,785.8L218.5,773.9L206.6,770.6L203.3,782.5ZM218.5,773.9L221.8,762.0L209.9,758.7L206.6,770.6ZM221.8,762.0L225.1,750.1L213.2,746.8L209.9,758.7ZM214.5,696.1L217.8,684.2L205.9,680.9L202.7,692.8ZM476.4,715.1L479.5,703.2L467.6,700.1L464.5,712.0ZM491.4,706.2L494.4,694.3L482.6,691.3L479.5,703.2ZM494.4,694.3L497.5,682.4L485.6,679.4L482.6,691.3ZM123.1,568.7L126.4,557.0L114.7,553.7L111.4,565.4ZM168.1,543.4L171.3,531.7L159.6,528.4L156.4,540.1ZM194.7,538.2L198.0,526.5L186.3,523.2L183.0,535.0ZM268.3,545.8L271.5,534.1L259.7,530.9L256.5,542.6ZM480.5,551.8L483.6,540.0L471.8,536.9L468.8,548.7ZM468.8,548.7L471.8,536.9L460.0,533.9L457.0,545.7Z" fill="#80ff80" stroke="#80ff80" stroke-width="0.9"/>
<path d="M388.2,858.3L391.4,846.3L379.4,843.1L376.2,855.1ZM376.2,855.1L379.4,843.1L367.4,839.9L364.2,851.9ZM364.2,851.9L367.4,839.9L355.4,836.7L352.2,848.7ZM352.2,848.7L355.4,836.7L343.4,833.6L340.2,845.5ZM340.2,845.5L343.4,833.6L331.4,830.4L328.2,842.3ZM328.2,842.3L331.4,830.4L319.4,827.1L316.2,839.1ZM439.5,858.8L442.6,846.8L430.6,843.6L427.4,855.7ZM427.4,855.7L430.6,843.6L418.5,840.5L415.4,852.5ZM415.4,852.5L418.5,840.5L406.5,837.4L403.4,849.4ZM403.4,849.4L406.5,837.4L394.5,834.3L391.4,846.3ZM391.4,846.3L394.5,834.3L382.5,831.1L379.4,843.1ZM152.4,781.1L155.8,769.2L143.9,765.8L140.5,777.7ZM526.8,868.2L529.8,856.2L517.8,853.1L514.8,865.2ZM514.8,865.2L517.8,853.1L505.8,850.1L502.7,862.1ZM502.7,862.1L505.8,850.1L493.7,847.1L490.7,859.1ZM454.6,849.9L457.7,837.8L445.7,834.8L442.6,846.8ZM442.6,846.8L445.7,834.8L433.7,831.6L430.6,843.6ZM430.6,843.6L433.7,831.6L421.7,828.5L418.5,840.5ZM418.5,840.5L421.7,828.5L409.7,825.4L406.5,837.4ZM406.5,837.4L409.7,825.4L397.7,822.3L394.5,834.3ZM155.8,769.2L159.1,757.3L147.2,754.0L143.9,765.8ZM529.8,856.2L532.9,844.1L520.8,841.1L517.8,853.1ZM517.8,853.1L520.8,841.1L508.8,838.1L505.8,850.1ZM505.8,850.1L508.8,838.1L496.8,835.0L493.7,847.1ZM493.7,847.1L496.8,835.0L484.8,832.0L481.7,844.0ZM457.7,837.8L460.8,825.8L448.8,822.8L445.7,834.8ZM445.7,834.8L448.8,822.8L436.8,819.7L433.7,831.6ZM433.7,831.6L436.8,819.7L424.8,816.5L421.7,828.5ZM421.7,828.5L424.8,816.5L412.8,813.4L409.7,825.4ZM171.0,760.7L174.3,748.8L162.4,745.4L159.1,757.3ZM532.9,844.1L535.9,832.1L523.9,829.1L520.8,841.1ZM520.8,841.1L523.9,829.1L511.9,826.1L508.8,838.1ZM508.8,838.1L511.9,826.1L499.8,823.0L496.8,835.0ZM496.8,835.0L499.8,823.0L487.8,820.0L484.8,832.0ZM460.8,825.8L463.8,813.8L451.9,810.8L448.8,822.8ZM448.8,822.8L451.9,810.8L439.9,807.7L436.8,819.7ZM436.8,819.7L439.9,807.7L427.9,804.6L424.8,816.5ZM174.3,748.8L177.6,736.9L165.8,733.6L162.4,745.4ZM535.9,832.1L538.9,820.1L526.9,817.1L523.9,829.1ZM523.9,829.1L526.9,817.1L514.9,814.1L511.9,826.1ZM511.9,826.1L514.9,814.1L502.9,811.0L499.8,823.0ZM499.8,823.0L502.9,811.0L490.9,808.0L487.8,820.0ZM463.8,813.8L466.9,801.9L454.9,798.8L451.9,810.8ZM451.9,810.8L454.9,798.8L443.0,795.7L439.9,807.7ZM439.9,807.7L443.0,795.7L431.0,792.6L427.9,804.6ZM538.9,820.1L541.9,808.1L529.9,805.1L526.9,817.1ZM526.9,817.1L529.9,805.1L517.9,802.1L514.9,814.1ZM514.9,814.1L517.9,802.1L505.9,799.0L502.9,811.0ZM502.9,811.0L505.9,799.0L493.9,796.0L490.9,808.0ZM466.9,801.9L470.0,789.9L458.0,786.8L454.9,798.8ZM454.9,798.8L458.0,786.8L446.1,783.7L443.0,795.7ZM443.0,795.7L446.1,783.7L434.1,780.6L431.0,792.6ZM529.9,805.1L532.9,793.1L520.9,790.1L517.9,802.1ZM517.9,802.1L520.9,790.1L509.0,787.1L505.9,799.0ZM458.0,786.8L461.1,774.8L449.2,771.7L446.1,783.7ZM446.1,783.7L449.2,771.7L437.2,768.7L434.1,780.6ZM255.4,732.9L258.6,721.0L246.8,717.8L243.5,729.6ZM196.1,716.5L199.4,704.6L187.5,701.3L184.2,713.2ZM532.9,793.1L535.9,781.1L524.0,778.1L520.9,790.1ZM520.9,790.1L524.0,778.1L512.0,775.1L509.0,787.1ZM461.1,774.8L464.2,762.9L452.2,759.8L449.2,771.7ZM449.2,771.7L452.2,759.8L440.3,756.7L437.2,768.7ZM535.9,781.1L538.9,769.1L527.0,766.1L524.0,778.1ZM524.0,778.1L527.0,766.1L515.0,763.1L512.0,775.1ZM452.2,759.8L455.3,747.8L443.4,744.8L440.3,756.7ZM527.0,766.1L530.0,754.2L518.0,751.1L515.0,763.1ZM455.3,747.8L458.4,735.9L446.5,732.8L443.4,744.8ZM205.9,680.9L209.2,669.1L197.4,665.8L194.1,677.7ZM530.0,754.2L533.0,742.2L521.1,739.2L518.0,751.1ZM521.1,739.2L524.1,727.3L512.2,724.2L509.1,736.2ZM449.6,720.9L452.6,709.0L440.8,705.9L437.7,717.8ZM524.1,727.3L527.1,715.3L515.2,712.3L512.2,724.2ZM515.2,712.3L518.2,700.4L506.3,697.4L503.3,709.3ZM146.5,575.3L149.8,563.6L138.1,560.3L134.8,572.0ZM161.5,566.9L164.8,555.2L153.1,551.9L149.8,563.6ZM188.2,561.7L191.5,550.0L179.8,546.7L176.5,558.4ZM226.7,559.7L229.9,547.9L218.2,544.7L214.9,556.5ZM265.1,557.6L268.3,545.8L256.5,542.6L253.3,554.4ZM341.9,553.1L345.0,541.3L333.3,538.2L330.1,550.0ZM392.0,553.8L395.1,542.1L383.4,539.0L380.3,550.7ZM477.5,563.6L480.5,551.8L468.8,548.7L465.7,560.5ZM465.7,560.5L468.8,548.7L457.0,545.7L453.9,557.5Z" fill="#bdff42" stroke="#bdff42" stroke-width="0.9"/>
<path d="M379.4,843.1L382.5,831.1L370.5,827.9L367.4,839.9ZM367.4,839.9L370.5,827.9L358.6,824.8L355.4,836.7ZM355.4,836.7L358.6,824.8L346.6,821.6L343.4,833.6ZM343.4,833.6L346.6,821.6L334.6,818.4L331.4,830.4ZM140.5,777.7L143.9,765.8L132.0,762.5L128.7,774.3ZM394.5,834.3L397.7,822.3L385.7,819.1L382.5,831.1ZM382.5,831.1L385.7,819.1L373.7,816.0L370.5,827.9ZM409.7,825.4L412.8,813.4L400.8,810.3L397.7,822.3ZM397.7,822.3L400.8,810.3L388.8,807.1L385.7,819.1ZM159.1,757.3L162.4,745.4L150.6,742.1L147.2,754.0ZM424.8,816.5L427.9,804.6L415.9,801.4L412.8,813.4ZM412.8,813.4L415.9,801.4L404.0,798.3L400.8,810.3ZM427.9,804.6L431.0,792.6L419.0,789.5L415.9,801.4ZM415.9,801.4L419.0,789.5L407.1,786.3L404.0,798.3ZM177.6,736.9L180.9,725.0L169.1,721.7L165.8,733.6ZM431.0,792.6L434.1,780.6L422.2,777.5L419.0,789.5ZM434.1,780.6L437.2,768.7L425.3,765.6L422.2,777.5ZM437.2,768.7L440.3,756.7L428.4,753.6L425.3,765.6ZM440.3,756.7L443.4,744.8L431.5,741.7L428.4,753.6ZM538.9,769.1L541.9,757.2L530.0,754.2L527.0,766.1ZM443.4,744.8L446.5,732.8L434.6,729.7L431.5,741.7ZM541.9,757.2L544.9,745.2L533.0,742.2L530.0,754.2ZM446.5,732.8L449.6,720.9L437.7,717.8L434.6,729.7ZM221.0,672.4L224.3,660.5L212.5,657.3L209.2,669.1ZM533.0,742.2L536.0,730.3L524.1,727.3L521.1,739.2ZM518.2,700.4L521.2,688.5L509.4,685.4L506.3,697.4ZM116.5,592.2L119.8,580.5L108.1,577.1L104.8,588.9ZM131.5,583.8L134.8,572.0L123.1,568.7L119.8,580.5ZM479.8,652.5L482.9,640.7L471.0,637.6L468.0,649.5ZM173.2,570.2L176.5,558.4L164.8,555.2L161.5,566.9ZM200.0,565.0L203.2,553.2L191.5,550.0L188.2,561.7ZM489.3,566.6L492.3,554.8L480.5,551.8L477.5,563.6ZM563.0,572.8L566.0,561.0L554.2,558.0L551.2,569.8ZM551.2,569.8L554.2,558.0L542.4,555.0L539.4,566.8Z" fill="#c7ff38" stroke="#c7ff38" stroke-width="0.9"/>
<path d="M370.5,827.9L373.7,816.0L361.7,812.8L358.6,824.8ZM358.6,824.8L361.7,812.8L349.8,809.6L346.6,821.6ZM346.6,821.6L349.8,809.6L337.8,806.4L334.6,818.4ZM143.9,765.8L147.2,754.0L135.4,750.6L132.0,762.5ZM385.7,819.1L388.8,807.1L376.9,804.0L373.7,816.0ZM147.2,754.0L150.6,742.1L138.7,738.7L135.4,750.6ZM400.8,810.3L404.0,798.3L392.0,795.2L388.8,807.1ZM162.4,745.4L165.8,733.6L153.9,730.2L150.6,742.1ZM404.0,798.3L407.1,786.3L395.1,783.2L392.0,795.2ZM419.0,789.5L422.2,777.5L410.2,774.4L407.1,786.3ZM422.2,777.5L425.3,765.6L413.3,762.4L410.2,774.4ZM243.5,729.6L246.8,717.8L234.9,714.5L231.6,726.4ZM234.9,714.5L238.2,702.6L226.3,699.4L223.0,711.2ZM238.2,702.6L241.4,690.8L229.6,687.5L226.3,699.4ZM544.9,745.2L547.9,733.3L536.0,730.3L533.0,742.2ZM536.0,730.3L539.0,718.3L527.1,715.3L524.1,727.3ZM527.1,715.3L530.1,703.4L518.2,700.4L515.2,712.3ZM443.8,694.0L446.9,682.1L435.0,679.0L432.0,690.9ZM446.9,682.1L450.0,670.2L438.1,667.1L435.0,679.0ZM500.5,670.5L503.5,658.6L491.7,655.6L488.6,667.5ZM158.2,578.6L161.5,566.9L149.8,563.6L146.5,575.3ZM185.0,573.4L188.2,561.7L176.5,558.4L173.2,570.2ZM211.7,568.2L214.9,556.5L203.2,553.2L200.0,565.0ZM238.4,562.9L241.6,551.2L229.9,547.9L226.7,559.7ZM276.8,560.8L280.0,549.0L268.3,545.8L265.1,557.6ZM403.8,556.9L406.9,545.2L395.1,542.1L392.0,553.8ZM501.1,569.6L504.1,557.8L492.3,554.8L489.3,566.6ZM574.8,575.8L577.8,563.9L566.0,561.0L563.0,572.8Z" fill="#d1ff2e" stroke="#d1ff2e" stroke-width="0.9"/>
<path d="M251.0,795.7L254.2,783.8L242.3,780.5L239.0,792.4ZM239.0,792.4L242.3,780.5L230.4,777.2L227.1,789.1ZM227.1,789.1L230.4,777.2L218.5,773.9L215.2,785.8ZM230.4,777.2L233.7,765.3L221.8,762.0L218.5,773.9ZM252.1,744.8L255.4,732.9L243.5,729.6L240.2,741.5ZM183.0,535.0L186.3,523.2L174.6,520.0L171.3,531.7ZM256.5,542.6L259.7,530.9L248.0,527.7L244.8,539.4ZM345.0,541.3L348.1,529.6L336.4,526.4L333.3,538.2ZM395.1,542.1L398.2,530.3L386.5,527.2L383.4,539.0ZM457.0,545.7L460.0,533.9L448.3,530.8L445.2,542.6ZM542.4,555.0L545.4,543.2L533.6,540.2L530.7,552.0ZM580.8,552.1L583.7,540.3L571.9,537.4L569.0,549.2Z" fill="#75ff8a" stroke="#75ff8a" stroke-width="0.9"/>
<path d="M373.7,816.0L376.9,804.0L364.9,800.8L361.7,812.8ZM361.7,812.8L364.9,800.8L352.9,797.6L349.8,809.6ZM388.8,807.1L392.0,795.2L380.0,792.0L376.9,804.0ZM376.9,804.0L380.0,792.0L368.1,788.9L364.9,800.8ZM150.6,742.1L153.9,730.2L142.1,726.9L138.7,738.7ZM392.0,795.2L395.1,783.2L383.2,780.1L380.0,792.0ZM165.8,733.6L169.1,721.7L157.3,718.4L153.9,730.2ZM407.1,786.3L410.2,774.4L398.3,771.3L395.1,783.2ZM410.2,774.4L413.3,762.4L401.4,759.3L398.3,771.3ZM425.3,765.6L428.4,753.6L416.4,750.5L413.3,762.4ZM428.4,753.6L431.5,741.7L419.6,738.6L416.4,750.5ZM431.5,741.7L434.6,729.7L422.7,726.6L419.6,738.6ZM241.4,690.8L244.7,678.9L232.8,675.7L229.6,687.5ZM434.6,729.7L437.7,717.8L425.8,714.7L422.7,726.6ZM232.8,675.7L236.1,663.8L224.3,660.5L221.0,672.4ZM547.9,733.3L550.9,721.3L539.0,718.3L536.0,730.3ZM440.8,705.9L443.8,694.0L432.0,690.9L428.9,702.8ZM539.0,718.3L542.0,706.4L530.1,703.4L527.1,715.3ZM143.2,587.1L146.5,575.3L134.8,572.0L131.5,583.8ZM170.0,581.9L173.2,570.2L161.5,566.9L158.2,578.6ZM196.7,576.7L200.0,565.0L188.2,561.7L185.0,573.4ZM250.1,566.2L253.3,554.4L241.6,551.2L238.4,562.9ZM288.6,564.0L291.7,552.2L280.0,549.0L276.8,560.8ZM353.6,556.3L356.8,544.5L345.0,541.3L341.9,553.1ZM427.3,563.1L430.4,551.3L418.6,548.2L415.6,560.0ZM415.6,560.0L418.6,548.2L406.9,545.2L403.8,556.9Z" fill="#dbff24" stroke="#dbff24" stroke-width="0.9"/>
<path d="M242.3,780.5L245.6,768.6L233.7,765.3L230.4,777.2ZM479.5,703.2L482.6,691.3L470.7,688.2L467.6,700.1ZM467.6,700.1L470.7,688.2L458.8,685.2L455.7,697.1ZM141.4,548.6L144.7,536.9L133.0,533.6L129.7,545.3ZM156.4,540.1L159.6,528.4L147.9,525.1L144.7,536.9ZM244.8,539.4L248.0,527.7L236.3,524.5L233.1,536.2ZM233.1,536.2L236.3,524.5L224.6,521.2L221.4,533.0ZM383.4,539.0L386.5,527.2L374.7,524.1L371.6,535.8ZM445.2,542.6L448.3,530.8L436.5,527.8L433.5,539.5ZM530.7,552.0L533.6,540.2L521.9,537.2L518.9,549.0ZM569.0,549.2L571.9,537.4L560.2,534.4L557.2,546.2Z" fill="#6bff94" stroke="#6bff94" stroke-width="0.9"/>
<path d="M135.4,750.6L138.7,738.7L126.9,735.4L123.6,747.2ZM364.9,800.8L368.1,788.9L356.1,785.7L352.9,797.6ZM380.0,792.0L383.2,780.1L371.2,776.9L368.1,788.9ZM395.1,783.2L398.3,771.3L386.3,768.1L383.2,780.1ZM184.2,713.2L187.5,701.3L175.7,698.0L172.4,709.9ZM413.3,762.4L416.4,750.5L404.5,747.4L401.4,759.3ZM187.5,701.3L190.8,689.5L179.0,686.2L175.7,698.0ZM209.2,669.1L212.5,657.3L200.7,654.0L197.4,665.8ZM437.7,717.8L440.8,705.9L428.9,702.8L425.8,714.7ZM550.9,721.3L553.9,709.4L542.0,706.4L539.0,718.3ZM113.2,604.0L116.5,592.2L104.8,588.9L101.4,600.6ZM530.1,703.4L533.1,691.5L521.2,688.5L518.2,700.4ZM128.2,595.5L131.5,583.8L119.8,580.5L116.5,592.2ZM450.0,670.2L453.1,658.3L441.2,655.2L438.1,667.1ZM181.7,585.2L185.0,573.4L173.2,570.2L170.0,581.9ZM491.7,655.6L494.7,643.7L482.9,640.7L479.8,652.5ZM468.0,649.5L471.0,637.6L459.2,634.6L456.1,646.4ZM223.4,571.5L226.7,559.7L214.9,556.5L211.7,568.2ZM315.2,558.6L318.4,546.8L306.6,543.6L303.5,555.4ZM439.1,566.2L442.2,554.4L430.4,551.3L427.3,563.1ZM512.9,572.6L515.9,560.8L504.1,557.8L501.1,569.6Z" fill="#e5ff1a" stroke="#e5ff1a" stroke-width="0.9"/>
<path d="M352.9,797.6L356.1,785.7L344.2,782.5L341.0,794.5ZM368.1,788.9L371.2,776.9L359.3,773.7L356.1,785.7ZM142.1,726.9L145.4,715.0L133.6,711.7L130.3,723.5ZM383.2,780.1L386.3,768.1L374.4,765.0L371.2,776.9ZM157.3,718.4L160.6,706.5L148.8,703.2L145.4,715.0ZM172.4,709.9L175.7,698.0L163.9,694.7L160.6,706.5ZM401.4,759.3L404.5,747.4L392.6,744.2L389.5,756.2ZM282.4,727.5L285.6,715.6L273.7,712.4L270.5,724.3ZM404.5,747.4L407.6,735.4L395.7,732.3L392.6,744.2ZM194.1,677.7L197.4,665.8L185.6,662.5L182.3,674.4ZM425.8,714.7L428.9,702.8L417.0,699.7L413.9,711.6ZM428.9,702.8L432.0,690.9L420.1,687.8L417.0,699.7ZM432.0,690.9L435.0,679.0L423.2,675.9L420.1,687.8ZM124.9,607.3L128.2,595.5L116.5,592.2L113.2,604.0ZM553.9,709.4L556.9,697.5L545.0,694.5L542.0,706.4ZM166.7,593.7L170.0,581.9L158.2,578.6L155.0,590.4ZM193.5,588.5L196.7,576.7L185.0,573.4L181.7,585.2ZM235.2,574.7L238.4,562.9L226.7,559.7L223.4,571.5ZM261.9,569.4L265.1,557.6L253.3,554.4L250.1,566.2ZM300.3,567.2L303.5,555.4L291.7,552.2L288.6,564.0ZM377.2,562.5L380.3,550.7L368.5,547.6L365.4,559.4ZM462.7,572.3L465.7,560.5L453.9,557.5L450.9,569.3ZM536.4,578.6L539.4,566.8L527.7,563.8L524.7,575.6Z" fill="#faff05" stroke="#faff05" stroke-width="0.9"/>
<path d="M138.7,738.7L142.1,726.9L130.3,723.5L126.9,735.4ZM153.9,730.2L157.3,718.4L145.4,715.0L142.1,726.9ZM398.3,771.3L401.4,759.3L389.5,756.2L386.3,768.1ZM270.5,724.3L273.7,712.4L261.9,709.1L258.6,721.0ZM416.4,750.5L419.6,738.6L407.6,735.4L404.5,747.4ZM190.8,689.5L194.1,677.7L182.3,674.4L179.0,686.2ZM419.6,738.6L422.7,726.6L410.8,723.5L407.6,735.4ZM422.7,726.6L425.8,714.7L413.9,711.6L410.8,723.5ZM542.0,706.4L545.0,694.5L533.1,691.5L530.1,703.4ZM139.9,598.8L143.2,587.1L131.5,583.8L128.2,595.5ZM155.0,590.4L158.2,578.6L146.5,575.3L143.2,587.1ZM208.4,580.0L211.7,568.2L200.0,565.0L196.7,576.7ZM365.4,559.4L368.5,547.6L356.8,544.5L353.6,556.3ZM450.9,569.3L453.9,557.5L442.2,554.4L439.1,566.2ZM524.7,575.6L527.7,563.8L515.9,560.8L512.9,572.6Z" fill="#f0ff0f" stroke="#f0ff0f" stroke-width="0.9"/>
<path d="M356.1,785.7L359.3,773.7L347.4,770.6L344.2,782.5ZM130.3,723.5L133.6,711.7L121.8,708.3L118.4,720.2ZM371.2,776.9L374.4,765.0L362.5,761.8L359.3,773.7ZM145.4,715.0L148.8,703.2L136.9,699.9L133.6,711.7ZM160.6,706.5L163.9,694.7L152.1,691.4L148.8,703.2ZM389.5,756.2L392.6,744.2L380.7,741.1L377.5,753.0ZM258.6,721.0L261.9,709.1L250.0,705.9L246.8,717.8ZM175.7,698.0L179.0,686.2L167.2,682.9L163.9,694.7ZM250.0,705.9L253.2,694.0L241.4,690.8L238.2,702.6ZM244.7,678.9L247.9,667.1L236.1,663.8L232.8,675.7ZM417.0,699.7L420.1,687.8L408.2,684.7L405.1,696.6ZM420.1,687.8L423.2,675.9L411.3,672.8L408.2,684.7ZM163.4,605.5L166.7,593.7L155.0,590.4L151.7,602.2ZM545.0,694.5L548.0,682.6L536.1,679.6L533.1,691.5ZM190.2,600.3L193.5,588.5L181.7,585.2L178.4,597.0ZM205.2,591.7L208.4,580.0L196.7,576.7L193.5,588.5ZM246.9,577.9L250.1,566.2L238.4,562.9L235.2,574.7ZM273.6,572.6L276.8,560.8L265.1,557.6L261.9,569.4ZM338.7,564.9L341.9,553.1L330.1,550.0L327.0,561.7ZM400.7,568.7L403.8,556.9L392.0,553.8L388.9,565.6ZM498.0,581.4L501.1,569.6L489.3,566.6L486.2,578.4ZM486.2,578.4L489.3,566.6L477.5,563.6L474.5,575.4Z" fill="#fff000" stroke="#fff000" stroke-width="0.9"/>
<path d="M359.3,773.7L362.5,761.8L350.5,758.6L347.4,770.6ZM314.8,749.1L318.0,737.1L306.1,733.9L302.9,745.8ZM148.8,703.2L152.1,691.4L140.3,688.0L136.9,699.9ZM306.1,733.9L309.3,722.0L297.4,718.8L294.2,730.7ZM163.9,694.7L167.2,682.9L155.4,679.5L152.1,691.4ZM261.9,709.1L265.1,697.3L253.2,694.0L250.0,705.9ZM395.7,732.3L398.9,720.4L387.0,717.3L383.8,729.2ZM253.2,694.0L256.5,682.2L244.7,678.9L241.4,690.8ZM398.9,720.4L402.0,708.5L390.1,705.4L387.0,717.3ZM405.1,696.6L408.2,684.7L396.4,681.6L393.2,693.5ZM133.3,622.4L136.6,610.6L124.9,607.3L121.6,619.0ZM408.2,684.7L411.3,672.8L399.5,669.7L396.4,681.6ZM186.9,612.0L190.2,600.3L178.4,597.0L175.2,608.7ZM559.9,685.5L562.9,673.6L551.0,670.7L548.0,682.6ZM548.0,682.6L551.0,670.7L539.1,667.7L536.1,679.6ZM456.1,646.4L459.2,634.6L447.4,631.5L444.3,643.4ZM243.7,589.7L246.9,577.9L235.2,574.7L231.9,586.5ZM258.7,581.1L261.9,569.4L250.1,566.2L246.9,577.9ZM285.4,575.8L288.6,564.0L276.8,560.8L273.6,572.6ZM362.3,571.2L365.4,559.4L353.6,556.3L350.5,568.0ZM459.6,584.1L462.7,572.3L450.9,569.3L447.8,581.1Z" fill="#ffd100" stroke="#ffd100" stroke-width="0.9"/>
<path d="M347.4,770.6L350.5,758.6L338.6,755.5L335.4,767.4ZM136.9,699.9L140.3,688.0L128.5,684.7L125.1,696.5ZM377.5,753.0L380.7,741.1L368.8,737.9L365.6,749.9ZM285.6,715.6L288.8,703.7L276.9,700.5L273.7,712.4ZM185.6,662.5L188.9,650.7L177.1,647.4L173.8,659.2ZM236.1,663.8L239.3,652.0L227.5,648.7L224.3,660.5ZM118.3,630.8L121.6,619.0L109.8,615.7L106.5,627.5ZM156.8,629.0L160.1,617.2L148.4,613.9L145.1,625.7ZM183.7,623.8L186.9,612.0L175.2,608.7L171.9,620.5ZM441.2,655.2L444.3,643.4L432.5,640.3L429.4,652.1ZM474.1,625.8L477.1,613.9L465.3,610.9L462.3,622.7ZM409.4,583.6L412.5,571.8L400.7,568.7L397.6,580.5ZM397.6,580.5L400.7,568.7L388.9,565.6L385.8,577.4ZM385.8,577.4L388.9,565.6L377.2,562.5L374.0,574.3ZM495.0,593.3L498.0,581.4L486.2,578.4L483.2,590.2ZM483.2,590.2L486.2,578.4L474.5,575.4L471.4,587.2ZM568.9,599.4L571.9,587.6L560.1,584.6L557.1,596.5ZM557.1,596.5L560.1,584.6L548.2,581.6L545.3,593.5ZM545.3,593.5L548.2,581.6L536.4,578.6L533.5,590.5Z" fill="#ffbd00" stroke="#ffbd00" stroke-width="0.9"/>
<path d="M264.0,748.0L267.2,736.1L255.4,732.9L252.1,744.8ZM159.6,528.4L162.9,516.7L151.2,513.4L147.9,525.1ZM421.7,536.5L424.8,524.7L413.1,521.6L410.0,533.4ZM483.6,540.0L486.6,528.2L474.8,525.1L471.8,536.9ZM471.8,536.9L474.8,525.1L463.1,522.1L460.0,533.9Z" fill="#4dffb2" stroke="#4dffb2" stroke-width="0.9"/>
<path d="M133.6,711.7L136.9,699.9L125.1,696.5L121.8,708.3ZM374.4,765.0L377.5,753.0L365.6,749.9L362.5,761.8ZM392.6,744.2L395.7,732.3L383.8,729.2L380.7,741.1ZM273.7,712.4L276.9,700.5L265.1,697.3L261.9,709.1ZM179.0,686.2L182.3,674.4L170.5,671.0L167.2,682.9ZM402.0,708.5L405.1,696.6L393.2,693.5L390.1,705.4ZM160.1,617.2L163.4,605.5L151.7,602.2L148.4,613.9ZM423.2,675.9L426.3,664.0L414.4,660.9L411.3,672.8ZM438.1,667.1L441.2,655.2L429.4,652.1L426.3,664.0ZM201.9,603.5L205.2,591.7L193.5,588.5L190.2,600.3ZM217.0,595.0L220.2,583.2L208.4,580.0L205.2,591.7ZM312.1,570.4L315.2,558.6L303.5,555.4L300.3,567.2ZM447.8,581.1L450.9,569.3L439.1,566.2L436.0,578.0ZM436.0,578.0L439.1,566.2L427.3,563.1L424.3,574.9ZM521.6,587.5L524.7,575.6L512.9,572.6L509.8,584.5Z" fill="#ffdb00" stroke="#ffdb00" stroke-width="0.9"/>
<path d="M386.3,768.1L389.5,756.2L377.5,753.0L374.4,765.0ZM294.2,730.7L297.4,718.8L285.6,715.6L282.4,727.5ZM246.8,717.8L250.0,705.9L238.2,702.6L234.9,714.5ZM407.6,735.4L410.8,723.5L398.9,720.4L395.7,732.3ZM410.8,723.5L413.9,711.6L402.0,708.5L398.9,720.4ZM413.9,711.6L417.0,699.7L405.1,696.6L402.0,708.5ZM136.6,610.6L139.9,598.8L128.2,595.5L124.9,607.3ZM435.0,679.0L438.1,667.1L426.3,664.0L423.2,675.9ZM151.7,602.2L155.0,590.4L143.2,587.1L139.9,598.8ZM178.4,597.0L181.7,585.2L170.0,581.9L166.7,593.7ZM453.1,658.3L456.1,646.4L444.3,643.4L441.2,655.2ZM220.2,583.2L223.4,571.5L211.7,568.2L208.4,580.0ZM482.9,640.7L485.9,628.8L474.1,625.8L471.0,637.6ZM327.0,561.7L330.1,550.0L318.4,546.8L315.2,558.6ZM388.9,565.6L392.0,553.8L380.3,550.7L377.2,562.5ZM474.5,575.4L477.5,563.6L465.7,560.5L462.7,572.3ZM571.9,587.6L574.8,575.8L563.0,572.8L560.1,584.6ZM560.1,584.6L563.0,572.8L551.2,569.8L548.2,581.6ZM548.2,581.6L551.2,569.8L539.4,566.8L536.4,578.6Z" fill="#fffa00" stroke="#fffa00" stroke-width="0.9"/>
<path d="M362.5,761.8L365.6,749.9L353.7,746.7L350.5,758.6ZM152.1,691.4L155.4,679.5L143.6,676.2L140.3,688.0ZM167.2,682.9L170.5,671.0L158.7,667.7L155.4,679.5ZM265.1,697.3L268.3,685.4L256.5,682.2L253.2,694.0ZM256.5,682.2L259.7,670.3L247.9,667.1L244.7,678.9ZM130.0,634.2L133.3,622.4L121.6,619.0L118.3,630.8ZM215.7,645.5L219.0,633.6L207.2,630.4L203.9,642.2ZM203.9,642.2L207.2,630.4L195.4,627.1L192.2,638.9ZM168.6,632.3L171.9,620.5L160.1,617.2L156.8,629.0ZM195.4,627.1L198.7,615.3L186.9,612.0L183.7,623.8ZM411.3,672.8L414.4,660.9L402.6,657.8L399.5,669.7ZM210.5,618.6L213.7,606.8L201.9,603.5L198.7,615.3ZM270.4,584.4L273.6,572.6L261.9,569.4L258.7,581.1ZM477.1,613.9L480.2,602.1L468.4,599.0L465.3,610.9ZM323.8,573.5L327.0,561.7L315.2,558.6L312.1,570.4ZM480.2,602.1L483.2,590.2L471.4,587.2L468.4,599.0ZM433.0,589.8L436.0,578.0L424.3,574.9L421.2,586.7ZM421.2,586.7L424.3,574.9L412.5,571.8L409.4,583.6ZM506.8,596.3L509.8,584.5L498.0,581.4L495.0,593.3Z" fill="#ffb300" stroke="#ffb300" stroke-width="0.9"/>
<path d="M350.5,758.6L353.7,746.7L341.8,743.5L338.6,755.5ZM338.6,755.5L341.8,743.5L329.9,740.3L326.7,752.3ZM365.6,749.9L368.8,737.9L356.9,734.8L353.7,746.7ZM318.0,737.1L321.2,725.2L309.3,722.0L306.1,733.9ZM140.3,688.0L143.6,676.2L131.8,672.9L128.5,684.7ZM155.4,679.5L158.7,667.7L146.9,664.4L143.6,676.2ZM387.0,717.3L390.1,705.4L378.2,702.2L375.1,714.1ZM268.3,685.4L271.5,673.5L259.7,670.3L256.5,682.2ZM162.0,655.9L165.3,644.1L153.5,640.8L150.2,652.6ZM126.7,645.9L130.0,634.2L118.3,630.8L114.9,642.6ZM247.9,667.1L251.1,655.2L239.3,652.0L236.1,663.8ZM282.2,587.6L285.4,575.8L273.6,572.6L270.4,584.4ZM462.3,622.7L465.3,610.9L453.5,607.8L450.4,619.6ZM503.8,608.1L506.8,596.3L495.0,593.3L492.0,605.1Z" fill="#ff9400" stroke="#ff9400" stroke-width="0.9"/>
<path d="M326.7,752.3L329.9,740.3L318.0,737.1L314.8,749.1ZM125.1,696.5L128.5,684.7L116.7,681.3L113.3,693.2ZM380.7,741.1L383.8,729.2L371.9,726.0L368.8,737.9ZM297.4,718.8L300.7,706.9L288.8,703.7L285.6,715.6ZM170.5,671.0L173.8,659.2L162.0,655.9L158.7,667.7ZM188.9,650.7L192.2,638.9L180.4,635.6L177.1,647.4ZM153.5,640.8L156.8,629.0L145.1,625.7L141.8,637.5ZM141.8,637.5L145.1,625.7L133.3,622.4L130.0,634.2ZM227.5,648.7L230.8,636.9L219.0,633.6L215.7,645.5ZM192.2,638.9L195.4,627.1L183.7,623.8L180.4,635.6ZM180.4,635.6L183.7,623.8L171.9,620.5L168.6,632.3ZM207.2,630.4L210.5,618.6L198.7,615.3L195.4,627.1ZM426.3,664.0L429.4,652.1L417.5,649.0L414.4,660.9ZM225.5,610.0L228.7,598.3L217.0,595.0L213.7,606.8ZM240.5,601.5L243.7,589.7L231.9,586.5L228.7,598.3ZM255.5,592.9L258.7,581.1L246.9,577.9L243.7,589.7ZM459.2,634.6L462.3,622.7L450.4,619.6L447.4,631.5ZM489.0,617.0L492.0,605.1L480.2,602.1L477.1,613.9ZM347.4,579.8L350.5,568.0L338.7,564.9L335.6,576.7ZM335.6,576.7L338.7,564.9L327.0,561.7L323.8,573.5ZM492.0,605.1L495.0,593.3L483.2,590.2L480.2,602.1ZM468.4,599.0L471.4,587.2L459.6,584.1L456.6,596.0ZM456.6,596.0L459.6,584.1L447.8,581.1L444.8,592.9ZM444.8,592.9L447.8,581.1L436.0,578.0L433.0,589.8Z" fill="#ffa800" stroke="#ffa800" stroke-width="0.9"/>
<path d="M353.7,746.7L356.9,734.8L345.0,731.6L341.8,743.5ZM341.8,743.5L345.0,731.6L333.1,728.4L329.9,740.3ZM371.9,726.0L375.1,714.1L363.2,711.0L360.0,722.9ZM292.0,691.8L295.2,680.0L283.4,676.8L280.2,688.6ZM271.5,673.5L274.8,661.7L262.9,658.5L259.7,670.3ZM249.0,616.5L252.2,604.7L240.5,601.5L237.2,613.3ZM264.0,608.0L267.2,596.2L255.5,592.9L252.2,604.7ZM432.5,640.3L435.5,628.4L423.7,625.3L420.6,637.2ZM279.0,599.4L282.2,587.6L270.4,584.4L267.2,596.2ZM545.1,643.9L548.1,632.0L536.3,629.0L533.3,640.9ZM438.6,616.6L441.7,604.7L429.9,601.7L426.8,613.5ZM344.2,591.6L347.4,579.8L335.6,576.7L332.4,588.5ZM560.0,635.0L562.9,623.1L551.1,620.2L548.1,632.0ZM562.9,623.1L565.9,611.3L554.1,608.3L551.1,620.2Z" fill="#ff6b00" stroke="#ff6b00" stroke-width="0.9"/>
<path d="M329.9,740.3L333.1,728.4L321.2,725.2L318.0,737.1ZM368.8,737.9L371.9,726.0L360.0,722.9L356.9,734.8ZM131.8,672.9L135.1,661.1L123.4,657.7L120.0,669.5ZM300.7,706.9L303.9,695.1L292.0,691.8L288.8,703.7ZM399.5,669.7L402.6,657.8L390.7,654.7L387.6,666.6ZM305.7,594.0L308.9,582.2L297.1,579.0L294.0,590.8ZM332.4,588.5L335.6,576.7L323.8,573.5L320.7,585.3ZM515.6,611.2L518.6,599.3L506.8,596.3L503.8,608.1ZM554.1,608.3L557.1,596.5L545.3,593.5L542.3,605.3Z" fill="#ff7500" stroke="#ff7500" stroke-width="0.9"/>
<path d="M128.5,684.7L131.8,672.9L120.0,669.5L116.7,681.3ZM309.3,722.0L312.5,710.1L300.7,706.9L297.4,718.8ZM288.8,703.7L292.0,691.8L280.2,688.6L276.9,700.5ZM158.7,667.7L162.0,655.9L150.2,652.6L146.9,664.4ZM123.4,657.7L126.7,645.9L114.9,642.6L111.6,654.4ZM150.2,652.6L153.5,640.8L141.8,637.5L138.5,649.3ZM138.5,649.3L141.8,637.5L130.0,634.2L126.7,645.9ZM237.2,613.3L240.5,601.5L228.7,598.3L225.5,610.0ZM429.4,652.1L432.5,640.3L420.6,637.2L417.5,649.0ZM252.2,604.7L255.5,592.9L243.7,589.7L240.5,601.5ZM267.2,596.2L270.4,584.4L258.7,581.1L255.5,592.9ZM294.0,590.8L297.1,579.0L285.4,575.8L282.2,587.6ZM453.5,607.8L456.6,596.0L444.8,592.9L441.7,604.7ZM418.1,598.6L421.2,586.7L409.4,583.6L406.3,595.5ZM406.3,595.5L409.4,583.6L397.6,580.5L394.5,592.4ZM370.9,586.1L374.0,574.3L362.3,571.2L359.1,583.0ZM565.9,611.3L568.9,599.4L557.1,596.5L554.1,608.3ZM530.5,602.3L533.5,590.5L521.6,587.5L518.6,599.3Z" fill="#ff8a00" stroke="#ff8a00" stroke-width="0.9"/>
<path d="M356.9,734.8L360.0,722.9L348.2,719.7L345.0,731.6ZM295.2,680.0L298.4,668.1L286.6,664.9L283.4,676.8ZM254.4,643.4L257.6,631.6L245.8,628.3L242.6,640.2ZM387.6,666.6L390.7,654.7L378.9,651.6L375.8,663.4ZM257.6,631.6L260.8,619.8L249.0,616.5L245.8,628.3ZM402.6,657.8L405.7,645.9L393.9,642.8L390.7,654.7ZM275.8,611.2L279.0,599.4L267.2,596.2L264.0,608.0ZM420.6,637.2L423.7,625.3L411.9,622.2L408.8,634.1ZM302.5,605.8L305.7,594.0L294.0,590.8L290.8,602.6ZM423.7,625.3L426.8,613.5L415.0,610.4L411.9,622.2ZM391.4,604.2L394.5,592.4L382.7,589.2L379.6,601.1ZM379.6,601.1L382.7,589.2L370.9,586.1L367.8,597.9ZM512.6,623.0L515.6,611.2L503.8,608.1L500.8,620.0ZM551.1,620.2L554.1,608.3L542.3,605.3L539.3,617.2ZM539.3,617.2L542.3,605.3L530.5,602.3L527.4,614.2Z" fill="#ff4c00" stroke="#ff4c00" stroke-width="0.9"/>
<path d="M345.0,731.6L348.2,719.7L336.3,716.5L333.1,728.4ZM360.0,722.9L363.2,711.0L351.3,707.8L348.2,719.7ZM324.4,713.3L327.6,701.4L315.7,698.3L312.5,710.1ZM274.8,661.7L278.0,649.8L266.2,646.6L262.9,658.5ZM272.6,623.0L275.8,611.2L264.0,608.0L260.8,619.8ZM287.6,614.4L290.8,602.6L279.0,599.4L275.8,611.2ZM341.1,603.5L344.2,591.6L332.4,588.5L329.3,600.3ZM329.3,600.3L332.4,588.5L320.7,585.3L317.5,597.1ZM548.1,632.0L551.1,620.2L539.3,617.2L536.3,629.0Z" fill="#ff4200" stroke="#ff4200" stroke-width="0.9"/>
<path d="M333.1,728.4L336.3,716.5L324.4,713.3L321.2,725.2ZM312.5,710.1L315.7,698.3L303.9,695.1L300.7,706.9ZM303.9,695.1L307.1,683.2L295.2,680.0L292.0,691.8ZM262.9,658.5L266.2,646.6L254.4,643.4L251.1,655.2ZM260.8,619.8L264.0,608.0L252.2,604.7L249.0,616.5ZM417.5,649.0L420.6,637.2L408.8,634.1L405.7,645.9ZM317.5,597.1L320.7,585.3L308.9,582.2L305.7,594.0ZM403.2,607.3L406.3,595.5L394.5,592.4L391.4,604.2ZM367.8,597.9L370.9,586.1L359.1,583.0L356.0,594.8ZM527.4,614.2L530.5,602.3L518.6,599.3L515.6,611.2Z" fill="#ff5700" stroke="#ff5700" stroke-width="0.9"/>
<path d="M321.2,725.2L324.4,713.3L312.5,710.1L309.3,722.0ZM375.1,714.1L378.2,702.2L366.3,699.1L363.2,711.0ZM378.2,702.2L381.4,690.3L369.5,687.2L366.3,699.1ZM283.4,676.8L286.6,664.9L274.8,661.7L271.5,673.5ZM381.4,690.3L384.5,678.4L372.6,675.3L369.5,687.2ZM251.1,655.2L254.4,643.4L242.6,640.2L239.3,652.0ZM384.5,678.4L387.6,666.6L375.8,663.4L372.6,675.3ZM242.6,640.2L245.8,628.3L234.0,625.1L230.8,636.9ZM245.8,628.3L249.0,616.5L237.2,613.3L234.0,625.1ZM290.8,602.6L294.0,590.8L282.2,587.6L279.0,599.4ZM435.5,628.4L438.6,616.6L426.8,613.5L423.7,625.3ZM426.8,613.5L429.9,601.7L418.1,598.6L415.0,610.4ZM415.0,610.4L418.1,598.6L406.3,595.5L403.2,607.3ZM356.0,594.8L359.1,583.0L347.4,579.8L344.2,591.6Z" fill="#ff6100" stroke="#ff6100" stroke-width="0.9"/>
<path d="M143.6,676.2L146.9,664.4L135.1,661.1L131.8,672.9ZM146.9,664.4L150.2,652.6L138.5,649.3L135.1,661.1ZM135.1,661.1L138.5,649.3L126.7,645.9L123.4,657.7ZM280.2,688.6L283.4,676.8L271.5,673.5L268.3,685.4ZM259.7,670.3L262.9,658.5L251.1,655.2L247.9,667.1ZM239.3,652.0L242.6,640.2L230.8,636.9L227.5,648.7ZM230.8,636.9L234.0,625.1L222.2,621.8L219.0,633.6ZM234.0,625.1L237.2,613.3L225.5,610.0L222.2,621.8ZM414.4,660.9L417.5,649.0L405.7,645.9L402.6,657.8ZM447.4,631.5L450.4,619.6L438.6,616.6L435.5,628.4ZM557.0,646.9L560.0,635.0L548.1,632.0L545.1,643.9ZM450.4,619.6L453.5,607.8L441.7,604.7L438.6,616.6ZM320.7,585.3L323.8,573.5L312.1,570.4L308.9,582.2ZM441.7,604.7L444.8,592.9L433.0,589.8L429.9,601.7ZM429.9,601.7L433.0,589.8L421.2,586.7L418.1,598.6ZM394.5,592.4L397.6,580.5L385.8,577.4L382.7,589.2ZM382.7,589.2L385.8,577.4L374.0,574.3L370.9,586.1ZM542.3,605.3L545.3,593.5L533.5,590.5L530.5,602.3Z" fill="#ff8000" stroke="#ff8000" stroke-width="0.9"/>
<path d="M383.8,729.2L387.0,717.3L375.1,714.1L371.9,726.0ZM276.9,700.5L280.2,688.6L268.3,685.4L265.1,697.3ZM173.8,659.2L177.1,647.4L165.3,644.1L162.0,655.9ZM390.1,705.4L393.2,693.5L381.4,690.3L378.2,702.2ZM177.1,647.4L180.4,635.6L168.6,632.3L165.3,644.1ZM165.3,644.1L168.6,632.3L156.8,629.0L153.5,640.8ZM393.2,693.5L396.4,681.6L384.5,678.4L381.4,690.3ZM396.4,681.6L399.5,669.7L387.6,666.6L384.5,678.4ZM219.0,633.6L222.2,621.8L210.5,618.6L207.2,630.4ZM222.2,621.8L225.5,610.0L213.7,606.8L210.5,618.6ZM444.3,643.4L447.4,631.5L435.5,628.4L432.5,640.3ZM308.9,582.2L312.1,570.4L300.3,567.2L297.1,579.0ZM465.3,610.9L468.4,599.0L456.6,596.0L453.5,607.8ZM359.1,583.0L362.3,571.2L350.5,568.0L347.4,579.8ZM518.6,599.3L521.6,587.5L509.8,584.5L506.8,596.3Z" fill="#ff9e00" stroke="#ff9e00" stroke-width="0.9"/>
<path d="M348.2,719.7L351.3,707.8L339.4,704.6L336.3,716.5ZM327.6,701.4L330.8,689.6L318.9,686.4L315.7,698.3ZM366.3,699.1L369.5,687.2L357.6,684.0L354.5,695.9ZM318.9,686.4L322.1,674.5L310.2,671.3L307.1,683.2ZM369.5,687.2L372.6,675.3L360.8,672.2L357.6,684.0ZM310.2,671.3L313.4,659.5L301.6,656.3L298.4,668.1ZM372.6,675.3L375.8,663.4L363.9,660.3L360.8,672.2ZM301.6,656.3L304.8,644.4L293.0,641.2L289.8,653.1ZM289.8,653.1L293.0,641.2L281.2,638.0L278.0,649.8ZM278.0,649.8L281.2,638.0L269.4,634.8L266.2,646.6ZM375.8,663.4L378.9,651.6L367.1,648.4L363.9,660.3ZM293.0,641.2L296.2,629.4L284.4,626.2L281.2,638.0ZM281.2,638.0L284.4,626.2L272.6,623.0L269.4,634.8ZM390.7,654.7L393.9,642.8L382.0,639.7L378.9,651.6ZM284.4,626.2L287.6,614.4L275.8,611.2L272.6,623.0ZM405.7,645.9L408.8,634.1L397.0,631.0L393.9,642.8ZM364.7,609.8L367.8,597.9L356.0,594.8L352.9,606.6ZM533.3,640.9L536.3,629.0L524.4,626.0L521.4,637.9ZM536.3,629.0L539.3,617.2L527.4,614.2L524.4,626.0Z" fill="#ff2e00" stroke="#ff2e00" stroke-width="0.9"/>
<path d="M336.3,716.5L339.4,704.6L327.6,701.4L324.4,713.3ZM363.2,711.0L366.3,699.1L354.5,695.9L351.3,707.8ZM315.7,698.3L318.9,686.4L307.1,683.2L303.9,695.1ZM307.1,683.2L310.2,671.3L298.4,668.1L295.2,680.0ZM298.4,668.1L301.6,656.3L289.8,653.1L286.6,664.9ZM286.6,664.9L289.8,653.1L278.0,649.8L274.8,661.7ZM266.2,646.6L269.4,634.8L257.6,631.6L254.4,643.4ZM269.4,634.8L272.6,623.0L260.8,619.8L257.6,631.6ZM296.2,629.4L299.4,617.6L287.6,614.4L284.4,626.2ZM299.4,617.6L302.5,605.8L290.8,602.6L287.6,614.4ZM314.3,608.9L317.5,597.1L305.7,594.0L302.5,605.8ZM411.9,622.2L415.0,610.4L403.2,607.3L400.1,619.1ZM352.9,606.6L356.0,594.8L344.2,591.6L341.1,603.5Z" fill="#ff3800" stroke="#ff3800" stroke-width="0.9"/>
<path d="M182.3,674.4L185.6,662.5L173.8,659.2L170.5,671.0ZM200.7,654.0L203.9,642.2L192.2,638.9L188.9,650.7ZM145.1,625.7L148.4,613.9L136.6,610.6L133.3,622.4ZM171.9,620.5L175.2,608.7L163.4,605.5L160.1,617.2ZM198.7,615.3L201.9,603.5L190.2,600.3L186.9,612.0ZM213.7,606.8L217.0,595.0L205.2,591.7L201.9,603.5ZM228.7,598.3L231.9,586.5L220.2,583.2L217.0,595.0ZM485.9,628.8L489.0,617.0L477.1,613.9L474.1,625.8ZM297.1,579.0L300.3,567.2L288.6,564.0L285.4,575.8ZM374.0,574.3L377.2,562.5L365.4,559.4L362.3,571.2ZM471.4,587.2L474.5,575.4L462.7,572.3L459.6,584.1ZM533.5,590.5L536.4,578.6L524.7,575.6L521.6,587.5Z" fill="#ffc700" stroke="#ffc700" stroke-width="0.9"/>
<path d="M351.3,707.8L354.5,695.9L342.6,692.7L339.4,704.6ZM339.4,704.6L342.6,692.7L330.8,689.6L327.6,701.4ZM330.8,689.6L333.9,677.7L322.1,674.5L318.9,686.4ZM360.8,672.2L363.9,660.3L352.1,657.1L348.9,669.0ZM325.3,662.6L328.4,650.8L316.6,647.6L313.4,659.5ZM363.9,660.3L367.1,648.4L355.2,645.3L352.1,657.1ZM316.6,647.6L319.8,635.8L308.0,632.6L304.8,644.4ZM378.9,651.6L382.0,639.7L370.2,636.6L367.1,648.4ZM319.8,635.8L323.0,623.9L311.2,620.8L308.0,632.6ZM323.0,623.9L326.1,612.1L314.3,608.9L311.2,620.8ZM349.7,618.4L352.9,606.6L341.1,603.5L337.9,615.3ZM388.3,616.0L391.4,604.2L379.6,601.1L376.5,612.9ZM521.4,637.9L524.4,626.0L512.6,623.0L509.6,634.9ZM524.4,626.0L527.4,614.2L515.6,611.2L512.6,623.0Z" fill="#ff1a00" stroke="#ff1a00" stroke-width="0.9"/>
<path d="M197.4,665.8L200.7,654.0L188.9,650.7L185.6,662.5ZM224.3,660.5L227.5,648.7L215.7,645.5L212.5,657.3ZM212.5,657.3L215.7,645.5L203.9,642.2L200.7,654.0ZM121.6,619.0L124.9,607.3L113.2,604.0L109.8,615.7ZM148.4,613.9L151.7,602.2L139.9,598.8L136.6,610.6ZM175.2,608.7L178.4,597.0L166.7,593.7L163.4,605.5ZM556.9,697.5L559.9,685.5L548.0,682.6L545.0,694.5ZM231.9,586.5L235.2,574.7L223.4,571.5L220.2,583.2ZM471.0,637.6L474.1,625.8L462.3,622.7L459.2,634.6ZM350.5,568.0L353.6,556.3L341.9,553.1L338.7,564.9ZM424.3,574.9L427.3,563.1L415.6,560.0L412.5,571.8ZM412.5,571.8L415.6,560.0L403.8,556.9L400.7,568.7ZM509.8,584.5L512.9,572.6L501.1,569.6L498.0,581.4Z" fill="#ffe500" stroke="#ffe500" stroke-width="0.9"/>
<path d="M354.5,695.9L357.6,684.0L345.8,680.9L342.6,692.7ZM342.6,692.7L345.8,680.9L333.9,677.7L330.8,689.6ZM357.6,684.0L360.8,672.2L348.9,669.0L345.8,680.9ZM333.9,677.7L337.1,665.8L325.3,662.6L322.1,674.5ZM348.9,669.0L352.1,657.1L340.3,654.0L337.1,665.8ZM337.1,665.8L340.3,654.0L328.4,650.8L325.3,662.6ZM352.1,657.1L355.2,645.3L343.4,642.1L340.3,654.0ZM340.3,654.0L343.4,642.1L331.6,638.9L328.4,650.8ZM328.4,650.8L331.6,638.9L319.8,635.8L316.6,647.6ZM367.1,648.4L370.2,636.6L358.4,633.4L355.2,645.3ZM343.4,642.1L346.6,630.3L334.8,627.1L331.6,638.9ZM331.6,638.9L334.8,627.1L323.0,623.9L319.8,635.8ZM393.9,642.8L397.0,631.0L385.2,627.9L382.0,639.7ZM382.0,639.7L385.2,627.9L373.3,624.7L370.2,636.6ZM346.6,630.3L349.7,618.4L337.9,615.3L334.8,627.1ZM334.8,627.1L337.9,615.3L326.1,612.1L323.0,623.9ZM373.3,624.7L376.5,612.9L364.7,609.8L361.5,621.6ZM361.5,621.6L364.7,609.8L352.9,606.6L349.7,618.4Z" fill="#ff0f00" stroke="#ff0f00" stroke-width="0.9"/>
<path d="M345.8,680.9L348.9,669.0L337.1,665.8L333.9,677.7ZM355.2,645.3L358.4,633.4L346.6,630.3L343.4,642.1ZM370.2,636.6L373.3,624.7L361.5,621.6L358.4,633.4ZM358.4,633.4L361.5,621.6L349.7,618.4L346.6,630.3ZM397.0,631.0L400.1,619.1L388.3,616.0L385.2,627.9ZM385.2,627.9L388.3,616.0L376.5,612.9L373.3,624.7Z" fill="#ff0500" stroke="#ff0500" stroke-width="0.9"/>
<path d="M322.1,674.5L325.3,662.6L313.4,659.5L310.2,671.3ZM313.4,659.5L316.6,647.6L304.8,644.4L301.6,656.3ZM304.8,644.4L308.0,632.6L296.2,629.4L293.0,641.2ZM308.0,632.6L311.2,620.8L299.4,617.6L296.2,629.4ZM311.2,620.8L314.3,608.9L302.5,605.8L299.4,617.6ZM408.8,634.1L411.9,622.2L400.1,619.1L397.0,631.0ZM337.9,615.3L341.1,603.5L329.3,600.3L326.1,612.1ZM326.1,612.1L329.3,600.3L317.5,597.1L314.3,608.9ZM400.1,619.1L403.2,607.3L391.4,604.2L388.3,616.0ZM376.5,612.9L379.6,601.1L367.8,597.9L364.7,609.8Z" fill="#ff2400" stroke="#ff2400" stroke-width="0.9"/>
<path d="M482.6,691.3L485.6,679.4L473.7,676.3L470.7,688.2ZM470.7,688.2L473.7,676.3L461.9,673.3L458.8,685.2ZM485.6,679.4L488.6,667.5L476.8,664.4L473.7,676.3ZM473.7,676.3L476.8,664.4L464.9,661.4L461.9,673.3ZM111.4,565.4L114.7,553.7L103.0,550.4L99.7,562.1ZM144.7,536.9L147.9,525.1L136.3,521.9L133.0,533.6ZM186.3,523.2L189.5,511.5L177.8,508.3L174.6,520.0ZM333.3,538.2L336.4,526.4L324.7,523.3L321.5,535.0ZM359.9,532.7L363.0,521.0L351.3,517.8L348.1,529.6ZM433.5,539.5L436.5,527.8L424.8,524.7L421.7,536.5ZM518.9,549.0L521.9,537.2L510.1,534.2L507.1,546.0ZM507.1,546.0L510.1,534.2L498.4,531.2L495.3,543.0ZM495.3,543.0L498.4,531.2L486.6,528.2L483.6,540.0ZM557.2,546.2L560.2,534.4L548.4,531.4L545.4,543.2ZM583.7,540.3L586.7,528.5L574.9,525.6L571.9,537.4Z" fill="#57ffa8" stroke="#57ffa8" stroke-width="0.9"/>
<path d="M126.4,557.0L129.7,545.3L118.0,542.0L114.7,553.7ZM171.3,531.7L174.6,520.0L162.9,516.7L159.6,528.4ZM221.4,533.0L224.6,521.2L212.9,518.0L209.7,529.7ZM209.7,529.7L212.9,518.0L201.2,514.8L198.0,526.5ZM198.0,526.5L201.2,514.8L189.5,511.5L186.3,523.2ZM306.6,543.6L309.8,531.9L298.1,528.7L294.9,540.5ZM371.6,535.8L374.7,524.1L363.0,521.0L359.9,532.7Z" fill="#61ff9e" stroke="#61ff9e" stroke-width="0.9"/>
<path d="M114.7,553.7L118.0,542.0L106.3,538.7L103.0,550.4ZM133.0,533.6L136.3,521.9L124.6,518.6L121.3,530.3ZM162.9,516.7L166.1,505.0L154.5,501.8L151.2,513.4ZM189.5,511.5L192.8,499.8L181.1,496.6L177.8,508.3ZM398.2,530.3L401.3,518.5L389.6,515.4L386.5,527.2ZM448.3,530.8L451.3,519.0L439.6,516.0L436.5,527.8ZM533.6,540.2L536.6,528.4L524.9,525.4L521.9,537.2Z" fill="#2effd1" stroke="#2effd1" stroke-width="0.9"/>
<path d="M103.0,550.4L106.3,538.7L94.6,535.3L91.3,547.0ZM139.5,510.2L142.8,498.5L131.1,495.2L127.9,506.9ZM154.5,501.8L157.7,490.1L146.1,486.8L142.8,498.5ZM231.0,497.8L234.2,486.1L222.6,482.9L219.3,494.6ZM219.3,494.6L222.6,482.9L210.9,479.7L207.7,491.4ZM413.1,521.6L416.1,509.8L404.4,506.8L401.3,518.5ZM439.6,516.0L442.7,504.2L430.9,501.2L427.9,512.9ZM536.6,528.4L539.6,516.7L527.9,513.7L524.9,525.4ZM489.6,516.4L492.6,504.6L480.9,501.6L477.9,513.4ZM466.1,510.3L469.2,498.6L457.4,495.5L454.4,507.3ZM551.4,519.6L554.4,507.9L542.6,504.9L539.6,516.7Z" fill="#00faff" stroke="#00faff" stroke-width="0.9"/>
<path d="M129.7,545.3L133.0,533.6L121.3,530.3L118.0,542.0ZM174.6,520.0L177.8,508.3L166.1,505.0L162.9,516.7ZM294.9,540.5L298.1,528.7L286.4,525.5L283.2,537.3ZM283.2,537.3L286.4,525.5L274.6,522.4L271.5,534.1ZM271.5,534.1L274.6,522.4L262.9,519.2L259.7,530.9ZM259.7,530.9L262.9,519.2L251.2,516.0L248.0,527.7ZM248.0,527.7L251.2,516.0L239.5,512.7L236.3,524.5ZM236.3,524.5L239.5,512.7L227.8,509.5L224.6,521.2ZM224.6,521.2L227.8,509.5L216.1,506.3L212.9,518.0ZM212.9,518.0L216.1,506.3L204.4,503.1L201.2,514.8ZM410.0,533.4L413.1,521.6L401.3,518.5L398.2,530.3ZM460.0,533.9L463.1,522.1L451.3,519.0L448.3,530.8ZM545.4,543.2L548.4,531.4L536.6,528.4L533.6,540.2ZM571.9,537.4L574.9,525.6L563.1,522.6L560.2,534.4Z" fill="#42ffbd" stroke="#42ffbd" stroke-width="0.9"/>
<path d="M118.0,542.0L121.3,530.3L109.6,527.0L106.3,538.7ZM181.1,496.6L184.3,484.9L172.6,481.6L169.4,493.3ZM451.3,519.0L454.4,507.3L442.7,504.2L439.6,516.0ZM477.9,513.4L480.9,501.6L469.2,498.6L466.1,510.3ZM577.9,513.8L580.8,502.0L569.1,499.1L566.1,510.8ZM592.6,505.0L595.5,493.2L583.8,490.3L580.8,502.0Z" fill="#05fffa" stroke="#05fffa" stroke-width="0.9"/>
<path d="M106.3,538.7L109.6,527.0L97.9,523.6L94.6,535.3ZM313.0,520.1L316.1,508.4L304.4,505.2L301.2,517.0ZM281.0,498.9L284.2,487.2L272.5,484.0L269.3,495.7ZM342.7,502.9L345.8,491.2L334.1,488.1L331.0,499.8ZM404.4,506.8L407.5,495.0L395.8,491.9L392.7,503.7ZM392.7,503.7L395.8,491.9L384.1,488.8L381.0,500.6ZM381.0,500.6L384.1,488.8L372.3,485.7L369.2,497.5ZM369.2,497.5L372.3,485.7L360.6,482.6L357.5,494.3ZM430.9,501.2L434.0,489.4L422.3,486.4L419.2,498.1ZM527.9,513.7L530.9,501.9L519.1,498.9L516.1,510.7ZM516.1,510.7L519.1,498.9L507.4,495.9L504.4,507.7Z" fill="#00bdff" stroke="#00bdff" stroke-width="0.9"/>
<path d="M121.3,530.3L124.6,518.6L112.9,515.3L109.6,527.0ZM169.4,493.3L172.6,481.6L161.0,478.4L157.7,490.1ZM254.4,504.2L257.6,492.5L245.9,489.3L242.7,501.0ZM242.7,501.0L245.9,489.3L234.2,486.1L231.0,497.8ZM207.7,491.4L210.9,479.7L199.2,476.4L196.0,488.1ZM501.4,519.4L504.4,507.7L492.6,504.6L489.6,516.4ZM566.1,510.8L569.1,499.1L557.3,496.1L554.4,507.9Z" fill="#00f0ff" stroke="#00f0ff" stroke-width="0.9"/>
<path d="M109.6,527.0L112.9,515.3L101.2,512.0L97.9,523.6ZM112.9,515.3L116.2,503.6L104.5,500.3L101.2,512.0ZM116.2,503.6L119.5,491.9L107.8,488.6L104.5,500.3ZM327.8,511.5L331.0,499.8L319.3,496.7L316.1,508.4ZM292.7,502.1L295.9,490.3L284.2,487.2L281.0,498.9ZM357.5,494.3L360.6,482.6L348.9,479.5L345.8,491.2ZM419.2,498.1L422.3,486.4L410.6,483.3L407.5,495.0ZM445.7,492.5L448.8,480.7L437.1,477.7L434.0,489.4ZM530.9,501.9L533.9,490.1L522.1,487.1L519.1,498.9ZM507.4,495.9L510.4,484.1L498.7,481.1L495.7,492.9ZM495.7,492.9L498.7,481.1L487.0,478.1L483.9,489.9Z" fill="#00b2ff" stroke="#00b2ff" stroke-width="0.9"/>
<path d="M97.9,523.6L101.2,512.0L89.6,508.6L86.3,520.3ZM331.0,499.8L334.1,488.1L322.4,484.9L319.3,496.7ZM284.2,487.2L287.3,475.5L275.6,472.3L272.5,484.0ZM345.8,491.2L348.9,479.5L337.2,476.4L334.1,488.1ZM395.8,491.9L398.9,480.2L387.1,477.1L384.1,488.8ZM384.1,488.8L387.1,477.1L375.4,474.0L372.3,485.7ZM372.3,485.7L375.4,474.0L363.7,470.9L360.6,482.6ZM422.3,486.4L425.3,474.6L413.6,471.6L410.6,483.3Z" fill="#009eff" stroke="#009eff" stroke-width="0.9"/>
<path d="M147.9,525.1L151.2,513.4L139.5,510.2L136.3,521.9ZM201.2,514.8L204.4,503.1L192.8,499.8L189.5,511.5ZM321.5,535.0L324.7,523.3L313.0,520.1L309.8,531.9ZM348.1,529.6L351.3,517.8L339.6,514.7L336.4,526.4ZM586.7,528.5L589.6,516.7L577.9,513.8L574.9,525.6Z" fill="#38ffc7" stroke="#38ffc7" stroke-width="0.9"/>
<path d="M136.3,521.9L139.5,510.2L127.9,506.9L124.6,518.6ZM151.2,513.4L154.5,501.8L142.8,498.5L139.5,510.2ZM251.2,516.0L254.4,504.2L242.7,501.0L239.5,512.7ZM239.5,512.7L242.7,501.0L231.0,497.8L227.8,509.5ZM227.8,509.5L231.0,497.8L219.3,494.6L216.1,506.3ZM216.1,506.3L219.3,494.6L207.7,491.4L204.4,503.1ZM204.4,503.1L207.7,491.4L196.0,488.1L192.8,499.8ZM521.9,537.2L524.9,525.4L513.1,522.4L510.1,534.2ZM510.1,534.2L513.1,522.4L501.4,519.4L498.4,531.2ZM498.4,531.2L501.4,519.4L489.6,516.4L486.6,528.2ZM463.1,522.1L466.1,510.3L454.4,507.3L451.3,519.0ZM589.6,516.7L592.6,505.0L580.8,502.0L577.9,513.8Z" fill="#1affe5" stroke="#1affe5" stroke-width="0.9"/>
<path d="M124.6,518.6L127.9,506.9L116.2,503.6L112.9,515.3ZM142.8,498.5L146.1,486.8L134.4,483.5L131.1,495.2ZM277.8,510.6L281.0,498.9L269.3,495.7L266.1,507.4ZM266.1,507.4L269.3,495.7L257.6,492.5L254.4,504.2ZM339.6,514.7L342.7,502.9L331.0,499.8L327.8,511.5ZM401.3,518.5L404.4,506.8L392.7,503.7L389.6,515.4ZM389.6,515.4L392.7,503.7L381.0,500.6L377.8,512.3ZM377.8,512.3L381.0,500.6L369.2,497.5L366.1,509.2ZM366.1,509.2L369.2,497.5L357.5,494.3L354.4,506.1ZM427.9,512.9L430.9,501.2L419.2,498.1L416.1,509.8ZM524.9,525.4L527.9,513.7L516.1,510.7L513.1,522.4ZM454.4,507.3L457.4,495.5L445.7,492.5L442.7,504.2Z" fill="#00e5ff" stroke="#00e5ff" stroke-width="0.9"/>
<path d="M101.2,512.0L104.5,500.3L92.9,497.0L89.6,508.6ZM104.5,500.3L107.8,488.6L96.2,485.3L92.9,497.0ZM316.1,508.4L319.3,496.7L307.6,493.5L304.4,505.2ZM307.6,493.5L310.7,481.8L299.0,478.6L295.9,490.3ZM295.9,490.3L299.0,478.6L287.3,475.5L284.2,487.2Z" fill="#0094ff" stroke="#0094ff" stroke-width="0.9"/>
<path d="M127.9,506.9L131.1,495.2L119.5,491.9L116.2,503.6ZM257.6,492.5L260.8,480.8L249.1,477.6L245.9,489.3ZM245.9,489.3L249.1,477.6L237.4,474.4L234.2,486.1ZM234.2,486.1L237.4,474.4L225.8,471.2L222.6,482.9ZM442.7,504.2L445.7,492.5L434.0,489.4L430.9,501.2ZM492.6,504.6L495.7,492.9L483.9,489.9L480.9,501.6ZM469.2,498.6L472.2,486.8L460.5,483.8L457.4,495.5Z" fill="#00d1ff" stroke="#00d1ff" stroke-width="0.9"/>
<path d="M177.8,508.3L181.1,496.6L169.4,493.3L166.1,505.0ZM386.5,527.2L389.6,515.4L377.8,512.3L374.7,524.1ZM374.7,524.1L377.8,512.3L366.1,509.2L363.0,521.0ZM363.0,521.0L366.1,509.2L354.4,506.1L351.3,517.8ZM436.5,527.8L439.6,516.0L427.9,512.9L424.8,524.7ZM486.6,528.2L489.6,516.4L477.9,513.4L474.8,525.1ZM474.8,525.1L477.9,513.4L466.1,510.3L463.1,522.1ZM560.2,534.4L563.1,522.6L551.4,519.6L548.4,531.4ZM574.9,525.6L577.9,513.8L566.1,510.8L563.1,522.6Z" fill="#24ffdb" stroke="#24ffdb" stroke-width="0.9"/>
<path d="M166.1,505.0L169.4,493.3L157.7,490.1L154.5,501.8ZM309.8,531.9L313.0,520.1L301.2,517.0L298.1,528.7ZM298.1,528.7L301.2,517.0L289.5,513.8L286.4,525.5ZM286.4,525.5L289.5,513.8L277.8,510.6L274.6,522.4ZM274.6,522.4L277.8,510.6L266.1,507.4L262.9,519.2ZM262.9,519.2L266.1,507.4L254.4,504.2L251.2,516.0ZM192.8,499.8L196.0,488.1L184.3,484.9L181.1,496.6ZM336.4,526.4L339.6,514.7L327.8,511.5L324.7,523.3ZM351.3,517.8L354.4,506.1L342.7,502.9L339.6,514.7ZM424.8,524.7L427.9,512.9L416.1,509.8L413.1,521.6ZM548.4,531.4L551.4,519.6L539.6,516.7L536.6,528.4ZM563.1,522.6L566.1,510.8L554.4,507.9L551.4,519.6Z" fill="#0ffff0" stroke="#0ffff0" stroke-width="0.9"/>
<path d="M324.7,523.3L327.8,511.5L316.1,508.4L313.0,520.1ZM301.2,517.0L304.4,505.2L292.7,502.1L289.5,513.8ZM289.5,513.8L292.7,502.1L281.0,498.9L277.8,510.6ZM354.4,506.1L357.5,494.3L345.8,491.2L342.7,502.9ZM513.1,522.4L516.1,510.7L504.4,507.7L501.4,519.4ZM539.6,516.7L542.6,504.9L530.9,501.9L527.9,513.7ZM480.9,501.6L483.9,489.9L472.2,486.8L469.2,498.6ZM554.4,507.9L557.3,496.1L545.6,493.1L542.6,504.9Z" fill="#00dbff" stroke="#00dbff" stroke-width="0.9"/>
<path d="M304.4,505.2L307.6,493.5L295.9,490.3L292.7,502.1ZM407.5,495.0L410.6,483.3L398.9,480.2L395.8,491.9ZM434.0,489.4L437.1,477.7L425.3,474.6L422.3,486.4ZM519.1,498.9L522.1,487.1L510.4,484.1L507.4,495.9Z" fill="#00a8ff" stroke="#00a8ff" stroke-width="0.9"/>
<path d="M269.3,495.7L272.5,484.0L260.8,480.8L257.6,492.5ZM416.1,509.8L419.2,498.1L407.5,495.0L404.4,506.8ZM504.4,507.7L507.4,495.9L495.7,492.9L492.6,504.6ZM457.4,495.5L460.5,483.8L448.8,480.7L445.7,492.5ZM542.6,504.9L545.6,493.1L533.9,490.1L530.9,501.9Z" fill="#00c7ff" stroke="#00c7ff" stroke-width="0.9"/>
<path d="M319.3,496.7L322.4,484.9L310.7,481.8L307.6,493.5ZM334.1,488.1L337.2,476.4L325.5,473.2L322.4,484.9Z" fill="#008aff" stroke="#008aff" stroke-width="0.9"/>
<path d="M322.4,484.9L325.5,473.2L313.9,470.1L310.7,481.8Z" fill="#0080ff" stroke="#0080ff" stroke-width="0.9"/>
<path d="M110.7,716.0L126.7,716.5L135.6,717.1L146.3,718.3L158.8,716.5L167.7,715.6L176.6,717.4L189.0,719.2L199.7,717.4L206.8,715.6L208.6,711.2L213.1,708.5L217.5,711.2L218.4,721.0L221.1,729.9L224.6,737.0L230.0,744.1L232.7,750.4L235.3,758.4L238.9,761.0L242.5,761.0L245.1,755.7L247.8,758.4L251.4,760.2L256.7,754.8L260.3,756.6L267.4,753.0L276.3,753.0L285.2,756.6L290.5,760.2L295.9,763.7L301.2,770.8L305.7,779.7L310.1,786.9L314.6,792.2L315.5,796.7L310.1,799.3L311.9,804.7L305.7,806.5L304.8,811.8L306.6,816.2L313.7,814.5L319.0,815.4L320.8,810.9L326.1,808.2L329.7,810.0L333.3,805.6L340.4,804.7L349.0,799.3L354.4,796.7L361.5,792.2L366.8,786.9L377.5,783.3L382.9,778.0L386.4,772.6L385.5,765.5L391.8,761.0L388.2,756.6L398.9,753.0L400.7,747.7L402.5,738.8L409.6,732.6L420.3,727.2L430.9,723.7L438.1,720.1L448.7,717.4L455.9,714.7L462.1,711.2L463.0,701.4L468.3,696.1L473.7,688.9L484.4,684.5L491.5,686.3L498.6,683.6L509.3,680.9L516.4,678.2L523.5,676.5L530.7,676.8L534.2,674.7L527.1,671.1L523.5,665.8L527.0,661.0L534.0,656.5L545.0,655.5L600.0,655.0L600.0,880.0L60.0,880.0Z" fill="#808080" stroke="#222" stroke-width="0.9" stroke-linejoin="round"/>
<path d="M160.4,507.0L197.4,836.8M257.0,499.3L272.9,830.8M353.9,497.7L348.6,829.6M450.8,502.3L424.3,833.2M547.1,513.1L499.6,841.6M97.1,571.4L108.7,569.6L120.2,567.9L131.8,566.3L143.4,564.7L155.0,563.3L166.6,562.0L178.2,560.7L189.8,559.5L201.4,558.5L213.0,557.5L224.7,556.6L236.3,555.8L248.0,555.1L259.7,554.5L271.3,554.0L283.0,553.6L294.7,553.3L306.3,553.0L318.0,552.9L329.7,552.8L341.4,552.9L353.1,553.0L364.7,553.3L376.4,553.6L388.1,554.0L399.7,554.5L411.4,555.1L423.1,555.8L434.7,556.6L446.4,557.5L458.0,558.5L469.6,559.5L481.2,560.7L492.8,562.0L504.4,563.3L516.0,564.7L527.6,566.3L539.2,567.9L550.7,569.6L562.3,571.4M105.9,626.0L117.0,624.3L128.1,622.6L139.3,621.1L150.4,619.6L161.6,618.2L172.7,616.9L183.9,615.7L195.1,614.6L206.3,613.6L217.5,612.6L228.7,611.8L239.9,611.0L251.1,610.3L262.3,609.8L273.5,609.3L284.8,608.9L296.0,608.6L307.2,608.3L318.5,608.2L329.7,608.2L340.9,608.2L352.2,608.3L363.4,608.6L374.6,608.9L385.9,609.3L397.1,609.8L408.3,610.3L419.5,611.0L430.7,611.8L441.9,612.6L453.1,613.6L464.3,614.6L475.5,615.7L486.7,616.9L497.8,618.2L509.0,619.6L520.1,621.1L531.3,622.6L542.4,624.3L553.5,626.0M114.7,680.7L125.4,679.0L136.0,677.4L146.7,675.9L157.4,674.5L168.2,673.1L178.9,671.9L189.6,670.7L200.3,669.7L211.1,668.7L221.9,667.8L232.6,667.0L243.4,666.2L254.2,665.6L265.0,665.0L275.7,664.5L286.5,664.2L297.3,663.9L308.1,663.6L318.9,663.5L329.7,663.5L340.5,663.5L351.3,663.6L362.1,663.9L372.9,664.2L383.7,664.5L394.4,665.0L405.2,665.6L416.0,666.2L426.8,667.0L437.5,667.8L448.3,668.7L459.1,669.7L469.8,670.7L480.5,671.9L491.2,673.1L502.0,674.5L512.7,675.9L523.4,677.4L534.0,679.0L544.7,680.7M123.5,735.3L133.7,733.7L144.0,732.1L154.2,730.7L164.5,729.3L174.8,728.1L185.0,726.9L195.3,725.8L205.6,724.7L215.9,723.8L226.3,722.9L236.6,722.1L246.9,721.4L257.3,720.8L267.6,720.3L277.9,719.8L288.3,719.5L298.6,719.2L309.0,719.0L319.3,718.8L329.7,718.8L340.1,718.8L350.4,719.0L360.8,719.2L371.1,719.5L381.5,719.8L391.8,720.3L402.1,720.8L412.5,721.4L422.8,722.1L433.1,722.9L443.5,723.8L453.8,724.7L464.1,725.8L474.4,726.9L484.6,728.1L494.9,729.3L505.2,730.7L515.4,732.1L525.7,733.7L535.9,735.3M132.3,789.9L142.1,788.3L151.9,786.9L161.7,785.5L171.5,784.2L181.3,783.0L191.2,781.8L201.1,780.8L210.9,779.8L220.8,778.9L230.7,778.1L240.6,777.3L250.4,776.6L260.3,776.0L270.2,775.5L280.1,775.1L290.1,774.7L300.0,774.5L309.9,774.3L319.8,774.1L329.7,774.1L339.6,774.1L349.5,774.3L359.4,774.5L369.3,774.7L379.3,775.1L389.2,775.5L399.1,776.0L409.0,776.6L418.8,777.3L428.7,778.1L438.6,778.9L448.5,779.8L458.3,780.8L468.2,781.8L478.1,783.0L487.9,784.2L497.7,785.5L507.5,786.9L517.3,788.3L527.1,789.9" fill="none" stroke="#000" stroke-opacity="0.2" stroke-width="0.55" stroke-dasharray="2 1.6"/>
<path d="M340.4,724.5L345.9,739.4L363.5,739.4L349.2,748.5L354.7,763.4L340.4,754.2L326.1,763.4L331.6,748.5L317.3,739.4L334.9,739.4Z" fill="#ffee00" stroke="#1a1a1a" stroke-width="1.2" stroke-linejoin="miter"/>
<text x="147.6" y="810.8" font-size="31.0" text-anchor="start" fill="#fff" style="stroke:#fff;stroke-width:0.6px;letter-spacing:2.8px">Autumn</text>
<text x="510.0" y="774.6" font-size="30.6" text-anchor="end" fill="#fff" style="stroke:#fff;stroke-width:0.6px;font-style:italic;letter-spacing:3.6px">SIC</text>
<text x="505.5" y="811.6" font-size="30.6" text-anchor="end" fill="#fff" style="stroke:#fff;stroke-width:0.6px;font-style:italic;letter-spacing:3.8px">[%]</text>
</g>
<path d="M88.4,516.8L93.5,516.0L98.6,515.2L103.7,514.4L108.9,513.6L114.0,512.9L119.2,512.2L124.3,511.5L125.0,516.8L119.9,517.5L114.8,518.2L109.7,519.0L104.5,519.7L99.4,520.5L94.3,521.3L89.2,522.1ZM169.2,840.3L174.8,839.6L180.4,838.8L186.1,838.1L191.7,837.5L197.4,836.8L196.8,831.5L191.1,832.1L185.4,832.8L179.8,833.5L174.1,834.2L168.4,835.0ZM160.4,507.0L165.7,506.4L171.1,505.8L176.5,505.3L181.8,504.7L187.2,504.2L192.5,503.7L197.9,503.2L203.3,502.8L208.6,502.3L209.1,507.7L203.7,508.2L198.4,508.6L193.0,509.1L187.7,509.6L182.3,510.1L177.0,510.6L171.7,511.2L166.3,511.8L161.0,512.3ZM235.1,833.2L240.5,832.8L245.9,832.4L251.3,832.0L256.7,831.7L262.1,831.4L267.5,831.1L272.9,830.8L272.6,825.4L267.2,825.7L261.8,826.0L256.3,826.3L250.9,826.6L245.5,827.0L240.1,827.4L234.6,827.8ZM257.0,499.3L262.4,499.0L267.8,498.8L273.2,498.6L278.5,498.4L283.9,498.2L289.3,498.1L294.7,497.9L300.1,497.8L305.5,497.7L305.5,503.1L300.2,503.2L294.8,503.3L289.5,503.5L284.1,503.6L278.7,503.8L273.4,504.0L268.0,504.2L262.6,504.4L257.3,504.6ZM310.8,829.6L316.2,829.5L321.6,829.5L327.0,829.4L332.4,829.4L337.8,829.5L343.2,829.5L348.6,829.6L348.7,824.2L343.3,824.1L337.9,824.1L332.4,824.0L327.0,824.0L321.5,824.1L316.1,824.1L310.7,824.2ZM353.9,497.7L359.3,497.8L364.7,497.9L370.1,498.1L375.5,498.2L380.9,498.4L386.2,498.6L391.6,498.8L397.0,499.0L402.4,499.3L402.1,504.6L396.8,504.4L391.4,504.2L386.0,504.0L380.7,503.8L375.3,503.6L369.9,503.5L364.6,503.3L359.2,503.2L353.9,503.1ZM386.5,830.8L391.9,831.1L397.3,831.4L402.7,831.7L408.1,832.0L413.5,832.4L418.9,832.8L424.3,833.2L424.8,827.8L419.3,827.4L413.9,827.0L408.5,826.6L403.1,826.3L397.6,826.0L392.2,825.7L386.8,825.4ZM450.8,502.3L456.1,502.8L461.5,503.2L466.9,503.7L472.2,504.2L477.6,504.7L482.9,505.3L488.3,505.8L493.7,506.4L499.0,507.0L498.4,512.3L493.1,511.8L487.7,511.2L482.4,510.6L477.1,510.1L471.7,509.6L466.4,509.1L461.0,508.6L455.7,508.2L450.3,507.7ZM462.0,836.8L467.4,837.4L472.8,838.1L478.2,838.7L483.5,839.4L488.9,840.1L494.3,840.9L499.6,841.6L500.4,836.3L495.0,835.5L489.6,834.8L484.2,834.1L478.8,833.4L473.4,832.7L468.0,832.1L462.6,831.5ZM547.1,513.1L551.1,513.7L555.1,514.3L559.1,514.9L558.3,520.3L554.3,519.7L550.3,519.1L546.3,518.5ZM509.0,843.0L513.7,843.8L518.3,844.5L519.2,839.2L514.5,838.4L509.8,837.7ZM88.4,516.8L92.7,544.1L98.1,543.3L93.7,516.0ZM566.7,544.1L562.3,571.4L556.9,570.6L561.3,543.3ZM97.1,571.4L101.5,598.7L106.9,597.9L102.5,570.6ZM557.9,598.7L553.5,626.0L548.2,625.2L552.5,597.9ZM105.9,626.0L110.3,653.3L115.6,652.5L111.2,625.2ZM549.1,653.3L544.7,680.7L539.4,679.8L543.8,652.5ZM114.7,680.7L119.1,708.0L124.4,707.1L120.0,679.8ZM540.3,708.0L535.9,735.3L530.6,734.4L535.0,707.1ZM123.5,735.3L127.9,762.6L133.2,761.7L128.8,734.4ZM531.5,762.6L527.1,789.9L521.8,789.0L526.2,761.7ZM132.3,789.9L136.7,817.2L142.0,816.3L137.6,789.0ZM522.7,817.2L518.3,844.5L513.0,843.7L517.4,816.3Z" fill="#fff" stroke="#000" stroke-width="0.9" stroke-linejoin="miter"/>
<path d="M141.1,844.5L146.7,843.6L152.3,842.7L157.9,841.9L163.5,841.1L169.2,840.3L168.4,835.0L162.8,835.8L157.1,836.6L151.5,837.4L145.8,838.3L140.2,839.2ZM124.3,511.5L129.5,510.8L134.6,510.1L139.8,509.4L144.9,508.8L150.1,508.2L155.2,507.6L160.4,507.0L161.0,512.3L155.8,512.9L150.7,513.5L145.6,514.2L140.4,514.8L135.3,515.4L130.2,516.1L125.0,516.8ZM197.4,836.8L202.7,836.2L208.1,835.7L213.5,835.1L218.9,834.6L224.3,834.1L229.7,833.6L235.1,833.2L234.6,827.8L229.2,828.3L223.8,828.7L218.4,829.2L213.0,829.7L207.6,830.3L202.2,830.9L196.8,831.5ZM208.6,502.3L214.0,501.9L219.4,501.5L224.8,501.1L230.1,500.8L235.5,500.4L240.9,500.1L246.3,499.8L251.6,499.5L257.0,499.3L257.3,504.6L251.9,504.9L246.6,505.2L241.2,505.5L235.8,505.8L230.5,506.2L225.1,506.5L219.8,506.9L214.4,507.3L209.1,507.7ZM272.9,830.8L278.3,830.5L283.7,830.3L289.1,830.1L294.5,829.9L299.9,829.8L305.3,829.7L310.8,829.6L310.7,824.2L305.2,824.3L299.8,824.4L294.4,824.6L288.9,824.7L283.5,824.9L278.1,825.1L272.6,825.4ZM305.5,497.7L310.8,497.6L316.2,497.6L321.6,497.5L327.0,497.5L332.4,497.5L337.8,497.5L343.2,497.6L348.6,497.6L353.9,497.7L353.9,503.1L348.5,503.0L343.1,503.0L337.8,502.9L332.4,502.9L327.0,502.9L321.6,502.9L316.3,503.0L310.9,503.0L305.5,503.1ZM348.6,829.6L354.1,829.7L359.5,829.8L364.9,829.9L370.3,830.1L375.7,830.3L381.1,830.5L386.5,830.8L386.8,825.4L381.3,825.1L375.9,824.9L370.5,824.7L365.0,824.6L359.6,824.4L354.2,824.3L348.7,824.2ZM402.4,499.3L407.8,499.5L413.1,499.8L418.5,500.1L423.9,500.4L429.3,500.8L434.6,501.1L440.0,501.5L445.4,501.9L450.8,502.3L450.3,507.7L445.0,507.3L439.6,506.9L434.3,506.5L428.9,506.2L423.6,505.8L418.2,505.5L412.8,505.2L407.5,504.9L402.1,504.6ZM424.3,833.2L429.7,833.6L435.1,834.1L440.5,834.6L445.9,835.1L451.3,835.7L456.7,836.2L462.0,836.8L462.6,831.5L457.2,830.9L451.8,830.3L446.4,829.7L441.0,829.2L435.6,828.7L430.2,828.3L424.8,827.8ZM499.0,507.0L504.4,507.6L509.7,508.2L515.1,508.9L520.4,509.5L525.7,510.2L531.1,510.9L536.4,511.6L541.8,512.4L547.1,513.1L546.3,518.5L541.0,517.7L535.7,517.0L530.4,516.3L525.0,515.6L519.7,514.9L514.4,514.2L509.1,513.6L503.7,512.9L498.4,512.3ZM499.6,841.6L504.3,842.3L509.0,843.0L509.8,837.7L505.1,837.0L500.4,836.3ZM559.1,514.9L563.1,515.5L567.1,516.2L571.0,516.8L570.2,522.1L566.2,521.5L562.2,520.9L558.3,520.3ZM571.0,516.8L566.7,544.1L561.3,543.3L565.7,516.0ZM92.7,544.1L97.1,571.4L102.5,570.6L98.1,543.3ZM562.3,571.4L557.9,598.7L552.5,597.9L556.9,570.6ZM101.5,598.7L105.9,626.0L111.2,625.2L106.9,597.9ZM553.5,626.0L549.1,653.3L543.8,652.5L548.2,625.2ZM110.3,653.3L114.7,680.7L120.0,679.8L115.6,652.5ZM544.7,680.7L540.3,708.0L535.0,707.1L539.4,679.8ZM119.1,708.0L123.5,735.3L128.8,734.4L124.4,707.1ZM535.9,735.3L531.5,762.6L526.2,761.7L530.6,734.4ZM127.9,762.6L132.3,789.9L137.6,789.0L133.2,761.7ZM527.1,789.9L522.7,817.2L517.4,816.3L521.8,789.0ZM136.7,817.2L141.1,844.5L146.4,843.7L142.0,816.3Z" fill="#000" stroke="#000" stroke-width="0.9"/>
<text transform="translate(86.4 529.7) rotate(-9.14) scale(0.815 1)" font-size="27.3" text-anchor="end" fill="#2b2321" style="letter-spacing:1.90px;">64°S</text>
<text transform="translate(95.2 584.3) rotate(-9.14) scale(0.815 1)" font-size="27.3" text-anchor="end" fill="#2b2321" style="letter-spacing:1.90px;">65°S</text>
<text transform="translate(103.9 638.9) rotate(-9.14) scale(0.815 1)" font-size="27.3" text-anchor="end" fill="#2b2321" style="letter-spacing:1.90px;">66°S</text>
<text transform="translate(112.7 693.5) rotate(-9.14) scale(0.815 1)" font-size="27.3" text-anchor="end" fill="#2b2321" style="letter-spacing:1.90px;">67°S</text>
<text transform="translate(121.5 748.1) rotate(-9.14) scale(0.815 1)" font-size="27.3" text-anchor="end" fill="#2b2321" style="letter-spacing:1.90px;">68°S</text>
<text transform="translate(130.3 802.8) rotate(-9.14) scale(0.815 1)" font-size="27.3" text-anchor="end" fill="#2b2321" style="letter-spacing:1.90px;">69°S</text>
<text transform="translate(139.1 857.4) rotate(-9.14) scale(0.815 1)" font-size="27.3" text-anchor="end" fill="#2b2321" style="letter-spacing:1.90px;">70°S</text>
<text transform="translate(201.8 862.0) rotate(-6.40) scale(0.815 1)" font-size="27.3" text-anchor="middle" fill="#2b2321" style="letter-spacing:1.90px;">68°E</text>
<text transform="translate(275.7 856.1) rotate(-2.74) scale(0.815 1)" font-size="27.3" text-anchor="middle" fill="#2b2321" style="letter-spacing:1.90px;">72°E</text>
<text transform="translate(349.8 854.9) rotate(0.91) scale(0.815 1)" font-size="27.3" text-anchor="middle" fill="#2b2321" style="letter-spacing:1.90px;">76°E</text>
<text transform="translate(423.9 858.4) rotate(4.57) scale(0.815 1)" font-size="27.3" text-anchor="middle" fill="#2b2321" style="letter-spacing:1.90px;">80°E</text>
<text transform="translate(497.6 866.7) rotate(8.22) scale(0.815 1)" font-size="27.3" text-anchor="middle" fill="#2b2321" style="letter-spacing:1.90px;">84°E</text>
<g clip-path="url(#cB2)">
<rect x="626" y="480" width="640" height="400" fill="#fff"/>
<path d="M769.0,871.3L772.4,859.4L760.5,856.0L757.1,868.0ZM784.4,862.8L787.8,850.8L775.8,847.5L772.4,859.4ZM772.4,859.4L775.8,847.5L763.9,844.1L760.5,856.0ZM767.3,832.2L770.6,820.3L758.7,816.9L755.3,828.8ZM953.4,857.6L956.6,845.6L944.6,842.4L941.4,854.4ZM941.4,854.4L944.6,842.4L932.6,839.2L929.4,851.2ZM929.4,851.2L932.6,839.2L920.6,836.0L917.4,848.0ZM968.6,848.8L971.8,836.8L959.8,833.7L956.6,845.6ZM756.9,777.8L760.3,765.9L748.4,762.6L745.1,774.4ZM751.8,750.7L755.1,738.8L743.3,735.5L740.0,747.3ZM981.3,800.9L984.5,789.0L972.5,785.8L969.3,797.7ZM755.1,738.8L758.5,727.0L746.7,723.6L743.3,735.5ZM758.5,727.0L761.8,715.1L750.0,711.8L746.7,723.6ZM931.2,749.2L934.4,737.2L922.5,734.0L919.3,745.9ZM949.5,728.5L952.7,716.6L940.8,713.4L937.6,725.3ZM748.2,673.0L751.5,661.2L739.8,657.8L736.4,669.6ZM952.7,716.6L955.8,704.7L944.0,701.5L940.8,713.4ZM884.7,685.5L887.9,673.6L876.1,670.4L872.9,682.3ZM859.0,640.3L862.2,628.4L850.4,625.2L847.2,637.0ZM989.7,624.8L992.9,613.0L981.1,609.9L977.9,621.7ZM1078.7,622.8L1081.7,611.0L1069.9,607.9L1066.8,619.7ZM844.2,509.6L847.4,497.9L835.7,494.7L832.5,506.4ZM832.5,506.4L835.7,494.7L824.1,491.5L820.8,503.2ZM820.8,503.2L824.1,491.5L812.4,488.2L809.2,499.9ZM809.2,499.9L812.4,488.2L800.7,485.0L797.5,496.7ZM797.5,496.7L800.7,485.0L789.0,481.7L785.8,493.4ZM785.8,493.4L789.0,481.7L777.4,478.5L774.1,490.2ZM1035.6,498.2L1038.7,486.5L1027.0,483.4L1023.9,495.1ZM1050.4,489.5L1053.5,477.8L1041.7,474.7L1038.7,486.5Z" fill="#ff4200" stroke="#ff4200" stroke-width="0.9"/>
<path d="M796.3,866.1L799.7,854.2L787.8,850.8L784.4,862.8ZM799.7,854.2L803.1,842.2L791.1,838.9L787.8,850.8ZM787.8,850.8L791.1,838.9L779.2,835.5L775.8,847.5ZM775.8,847.5L779.2,835.5L767.3,832.2L763.9,844.1ZM779.2,835.5L782.5,823.6L770.6,820.3L767.3,832.2ZM902.1,856.7L905.4,844.7L893.4,841.5L890.1,853.4ZM770.6,820.3L774.0,808.3L762.1,805.0L758.7,816.9ZM762.1,805.0L765.5,793.1L753.6,789.7L750.2,801.6ZM980.6,852.0L983.8,840.0L971.8,836.8L968.6,848.8ZM765.5,793.1L768.8,781.2L756.9,777.8L753.6,789.7ZM983.8,840.0L986.9,828.0L975.0,824.9L971.8,836.8ZM986.9,828.0L990.1,816.1L978.1,812.9L975.0,824.9ZM760.3,765.9L763.6,754.1L751.8,750.7L748.4,762.6ZM907.4,742.7L910.6,730.8L898.8,727.6L895.5,739.5ZM753.3,700.0L756.7,688.1L744.9,684.8L741.5,696.6ZM898.8,727.6L902.0,715.7L890.1,712.5L886.9,724.4ZM955.8,704.7L959.0,692.8L947.2,689.7L944.0,701.5ZM766.6,652.7L769.9,640.9L758.2,637.6L754.9,649.4ZM796.8,635.7L800.1,623.9L788.3,620.6L785.0,632.4ZM847.2,637.0L850.4,625.2L838.6,621.9L835.4,633.7ZM811.8,627.2L815.1,615.4L803.3,612.1L800.1,623.9ZM1025.2,634.2L1028.3,622.3L1016.5,619.2L1013.4,631.1ZM937.9,535.1L941.1,523.4L929.4,520.2L926.2,532.0ZM867.6,516.1L870.8,504.3L859.1,501.1L855.9,512.8ZM855.9,512.8L859.1,501.1L847.4,497.9L844.2,509.6ZM976.3,532.8L979.4,521.1L967.7,517.9L964.5,529.7ZM835.7,494.7L839.0,483.0L827.3,479.8L824.1,491.5ZM824.1,491.5L827.3,479.8L815.6,476.5L812.4,488.2ZM991.1,524.2L994.2,512.4L982.5,509.3L979.4,521.1ZM1006.0,515.5L1009.1,503.8L997.4,500.7L994.2,512.4ZM1020.8,506.9L1023.9,495.1L1012.2,492.0L1009.1,503.8ZM1023.9,495.1L1027.0,483.4L1015.3,480.3L1012.2,492.0ZM1038.7,486.5L1041.7,474.7L1030.0,471.7L1027.0,483.4Z" fill="#ff4c00" stroke="#ff4c00" stroke-width="0.9"/>
<path d="M835.6,864.2L838.9,852.2L827.0,848.9L823.6,860.9ZM823.6,860.9L827.0,848.9L815.0,845.6L811.7,857.5ZM811.7,857.5L815.0,845.6L803.1,842.2L799.7,854.2ZM862.9,858.8L866.2,846.9L854.2,843.6L850.9,855.5ZM803.1,842.2L806.4,830.3L794.5,827.0L791.1,838.9ZM791.1,838.9L794.5,827.0L782.5,823.6L779.2,835.5ZM890.1,853.4L893.4,841.5L881.4,838.2L878.2,850.2ZM878.2,850.2L881.4,838.2L869.5,834.9L866.2,846.9ZM782.5,823.6L785.9,811.7L774.0,808.3L770.6,820.3ZM774.0,808.3L777.4,796.4L765.5,793.1L762.1,805.0ZM992.6,855.2L995.8,843.2L983.8,840.0L980.6,852.0ZM777.4,796.4L780.7,784.5L768.8,781.2L765.5,793.1ZM995.8,843.2L998.9,831.2L986.9,828.0L983.8,840.0ZM768.8,781.2L772.2,769.3L760.3,765.9L756.9,777.8ZM990.1,816.1L993.3,804.1L981.3,800.9L978.1,812.9ZM763.6,754.1L767.0,742.2L755.1,738.8L751.8,750.7ZM767.0,742.2L770.3,730.3L758.5,727.0L755.1,738.8ZM761.8,715.1L765.2,703.3L753.3,700.0L750.0,711.8ZM946.3,740.4L949.5,728.5L937.6,725.3L934.4,737.2ZM756.7,688.1L760.0,676.3L748.2,673.0L744.9,684.8ZM881.5,697.4L884.7,685.5L872.9,682.3L869.6,694.1ZM781.7,644.2L785.0,632.4L773.2,629.1L769.9,640.9ZM971.6,645.4L974.8,633.5L963.0,630.4L959.8,642.2ZM1063.8,631.6L1066.8,619.7L1055.0,616.7L1051.9,628.5ZM902.8,525.6L905.9,513.9L894.2,510.7L891.0,522.5ZM891.0,522.5L894.2,510.7L882.5,507.5L879.3,519.3ZM879.3,519.3L882.5,507.5L870.8,504.3L867.6,516.1ZM964.5,529.7L967.7,517.9L956.0,514.8L952.8,526.5ZM859.1,501.1L862.3,489.4L850.6,486.2L847.4,497.9ZM847.4,497.9L850.6,486.2L839.0,483.0L835.7,494.7ZM994.2,512.4L997.4,500.7L985.6,497.6L982.5,509.3ZM1009.1,503.8L1012.2,492.0L1000.5,488.9L997.4,500.7ZM1012.2,492.0L1015.3,480.3L1003.5,477.2L1000.5,488.9Z" fill="#ff5700" stroke="#ff5700" stroke-width="0.9"/>
<path d="M850.9,855.5L854.2,843.6L842.2,840.3L838.9,852.2ZM838.9,852.2L842.2,840.3L830.3,837.0L827.0,848.9ZM827.0,848.9L830.3,837.0L818.3,833.6L815.0,845.6ZM815.0,845.6L818.3,833.6L806.4,830.3L803.1,842.2ZM866.2,846.9L869.5,834.9L857.5,831.6L854.2,843.6ZM854.2,843.6L857.5,831.6L845.6,828.3L842.2,840.3ZM818.3,833.6L821.7,821.7L809.7,818.4L806.4,830.3ZM806.4,830.3L809.7,818.4L797.8,815.0L794.5,827.0ZM794.5,827.0L797.8,815.0L785.9,811.7L782.5,823.6ZM881.4,838.2L884.7,826.2L872.7,823.0L869.5,834.9ZM797.8,815.0L801.2,803.1L789.2,799.8L785.9,811.7ZM785.9,811.7L789.2,799.8L777.4,796.4L774.0,808.3ZM1004.6,858.4L1007.8,846.4L995.8,843.2L992.6,855.2ZM780.7,784.5L784.0,772.6L772.2,769.3L768.8,781.2ZM998.9,831.2L1002.1,819.2L990.1,816.1L986.9,828.0ZM772.2,769.3L775.5,757.4L763.6,754.1L760.3,765.9ZM993.3,804.1L996.4,792.1L984.5,789.0L981.3,800.9ZM943.1,752.4L946.3,740.4L934.4,737.2L931.2,749.2ZM760.0,676.3L763.3,664.5L751.5,661.2L748.2,673.0ZM763.3,664.5L766.6,652.7L754.9,649.4L751.5,661.2ZM959.0,692.8L962.2,681.0L950.3,677.8L947.2,689.7ZM876.1,670.4L879.3,658.6L867.5,655.3L864.3,667.2ZM835.4,633.7L838.6,621.9L826.9,618.7L823.6,630.5ZM823.6,630.5L826.9,618.7L815.1,615.4L811.8,627.2ZM1037.0,637.3L1040.1,625.4L1028.3,622.3L1025.2,634.2ZM1013.4,631.1L1016.5,619.2L1004.7,616.1L1001.6,628.0ZM1001.6,628.0L1004.7,616.1L992.9,613.0L989.7,624.8ZM926.2,532.0L929.4,520.2L917.6,517.1L914.5,528.8ZM914.5,528.8L917.6,517.1L905.9,513.9L902.8,525.6ZM952.8,526.5L956.0,514.8L944.2,511.6L941.1,523.4ZM870.8,504.3L874.0,492.6L862.3,489.4L859.1,501.1ZM979.4,521.1L982.5,509.3L970.8,506.2L967.7,517.9ZM862.3,489.4L865.5,477.7L853.8,474.5L850.6,486.2ZM850.6,486.2L853.8,474.5L842.2,471.3L839.0,483.0ZM997.4,500.7L1000.5,488.9L988.7,485.8L985.6,497.6Z" fill="#ff6100" stroke="#ff6100" stroke-width="0.9"/>
<path d="M842.2,840.3L845.6,828.3L833.6,825.0L830.3,837.0ZM830.3,837.0L833.6,825.0L821.7,821.7L818.3,833.6ZM869.5,834.9L872.7,823.0L860.8,819.7L857.5,831.6ZM857.5,831.6L860.8,819.7L848.9,816.4L845.6,828.3ZM809.7,818.4L813.1,806.5L801.2,803.1L797.8,815.0ZM789.2,799.8L792.6,787.9L780.7,784.5L777.4,796.4ZM1007.8,846.4L1010.9,834.4L998.9,831.2L995.8,843.2ZM784.0,772.6L787.4,760.8L775.5,757.4L772.2,769.3ZM1002.1,819.2L1005.2,807.2L993.3,804.1L990.1,816.1ZM775.5,757.4L778.8,745.5L767.0,742.2L763.6,754.1ZM972.5,785.8L975.7,773.8L963.8,770.7L960.6,782.6ZM770.3,730.3L773.7,718.5L761.8,715.1L758.5,727.0ZM886.9,724.4L890.1,712.5L878.3,709.2L875.0,721.1ZM878.3,709.2L881.5,697.4L869.6,694.1L866.4,706.0ZM964.6,719.8L967.7,707.9L955.8,704.7L952.7,716.6ZM867.5,655.3L870.8,643.5L859.0,640.3L855.7,652.1ZM1048.9,640.4L1051.9,628.5L1040.1,625.4L1037.0,637.3ZM1090.5,625.9L1093.5,614.0L1081.7,611.0L1078.7,622.8ZM894.2,510.7L897.4,499.0L885.7,495.8L882.5,507.5ZM882.5,507.5L885.7,495.8L874.0,492.6L870.8,504.3ZM874.0,492.6L877.2,480.9L865.5,477.7L862.3,489.4ZM982.5,509.3L985.6,497.6L973.9,494.4L970.8,506.2ZM985.6,497.6L988.7,485.8L977.0,482.7L973.9,494.4ZM1000.5,488.9L1003.5,477.2L991.8,474.1L988.7,485.8Z" fill="#ff6b00" stroke="#ff6b00" stroke-width="0.9"/>
<path d="M845.6,828.3L848.9,816.4L836.9,813.1L833.6,825.0ZM833.6,825.0L836.9,813.1L825.0,809.8L821.7,821.7ZM821.7,821.7L825.0,809.8L813.1,806.5L809.7,818.4ZM872.7,823.0L876.0,811.0L864.1,807.7L860.8,819.7ZM860.8,819.7L864.1,807.7L852.2,804.5L848.9,816.4ZM813.1,806.5L816.4,794.5L804.5,791.2L801.2,803.1ZM801.2,803.1L804.5,791.2L792.6,787.9L789.2,799.8ZM1019.8,849.5L1022.9,837.5L1010.9,834.4L1007.8,846.4ZM792.6,787.9L795.9,776.0L784.0,772.6L780.7,784.5ZM1010.9,834.4L1014.1,822.4L1002.1,819.2L998.9,831.2ZM778.8,745.5L782.2,733.7L770.3,730.3L767.0,742.2ZM765.2,703.3L768.5,691.5L756.7,688.1L753.3,700.0ZM961.4,731.7L964.6,719.8L952.7,716.6L949.5,728.5ZM968.5,657.2L971.6,645.4L959.8,642.2L956.7,654.1ZM986.6,636.7L989.7,624.8L977.9,621.7L974.8,633.5ZM1102.3,628.9L1105.4,617.1L1093.5,614.0L1090.5,625.9ZM941.1,523.4L944.2,511.6L932.5,508.5L929.4,520.2ZM905.9,513.9L909.1,502.2L897.4,499.0L894.2,510.7ZM967.7,517.9L970.8,506.2L959.1,503.0L956.0,514.8ZM885.7,495.8L888.9,484.1L877.2,480.9L874.0,492.6ZM970.8,506.2L973.9,494.4L962.2,491.3L959.1,503.0ZM988.7,485.8L991.8,474.1L980.1,471.0L977.0,482.7Z" fill="#ff7500" stroke="#ff7500" stroke-width="0.9"/>
<path d="M848.9,816.4L852.2,804.5L840.2,801.2L836.9,813.1ZM836.9,813.1L840.2,801.2L828.3,797.9L825.0,809.8ZM825.0,809.8L828.3,797.9L816.4,794.5L813.1,806.5ZM804.5,791.2L807.8,779.3L795.9,776.0L792.6,787.9ZM795.9,776.0L799.2,764.1L787.4,760.8L784.0,772.6ZM787.4,760.8L790.7,748.9L778.8,745.5L775.5,757.4ZM984.5,789.0L987.6,777.0L975.7,773.8L972.5,785.8ZM773.7,718.5L777.0,706.6L765.2,703.3L761.8,715.1ZM895.5,739.5L898.8,727.6L886.9,724.4L883.6,736.2ZM958.2,743.6L961.4,731.7L949.5,728.5L946.3,740.4ZM967.7,707.9L970.9,696.0L959.0,692.8L955.8,704.7ZM778.4,656.0L781.7,644.2L769.9,640.9L766.6,652.7ZM962.2,681.0L965.3,669.1L953.5,665.9L950.3,677.8ZM965.3,669.1L968.5,657.2L956.7,654.1L953.5,665.9ZM917.6,517.1L920.8,505.3L909.1,502.2L905.9,513.9ZM956.0,514.8L959.1,503.0L947.4,499.9L944.2,511.6ZM944.2,511.6L947.4,499.9L935.7,496.8L932.5,508.5ZM909.1,502.2L912.3,490.4L900.6,487.3L897.4,499.0ZM897.4,499.0L900.6,487.3L888.9,484.1L885.7,495.8ZM959.1,503.0L962.2,491.3L950.5,488.2L947.4,499.9ZM900.6,487.3L903.7,475.6L892.0,472.4L888.9,484.1ZM973.9,494.4L977.0,482.7L965.3,479.6L962.2,491.3Z" fill="#ff8000" stroke="#ff8000" stroke-width="0.9"/>
<path d="M1079.9,865.1L1083.0,853.0L1071.0,850.0L1067.9,862.0ZM1067.9,862.0L1071.0,850.0L1059.0,846.9L1055.9,858.9ZM1059.0,846.9L1062.1,834.9L1050.1,831.7L1047.0,843.7ZM1038.1,828.6L1041.2,816.6L1029.2,813.5L1026.1,825.5ZM823.0,770.7L826.3,758.8L814.4,755.5L811.1,767.4ZM777.0,706.6L780.3,694.8L768.5,691.5L765.2,703.3ZM855.7,652.1L859.0,640.3L847.2,637.0L843.9,648.8ZM983.5,648.5L986.6,636.7L974.8,633.5L971.6,645.4ZM998.4,639.8L1001.6,628.0L989.7,624.8L986.6,636.7Z" fill="#ffa800" stroke="#ffa800" stroke-width="0.9"/>
<path d="M1055.9,858.9L1059.0,846.9L1047.0,843.7L1043.8,855.8ZM1047.0,843.7L1050.1,831.7L1038.1,828.6L1034.9,840.6ZM855.4,792.5L858.7,780.6L846.8,777.3L843.5,789.2ZM843.5,789.2L846.8,777.3L834.9,774.0L831.6,785.9ZM831.6,785.9L834.9,774.0L823.0,770.7L819.7,782.6ZM811.1,767.4L814.4,755.5L802.6,752.2L799.2,764.1ZM1017.2,810.4L1020.4,798.4L1008.4,795.3L1005.2,807.2ZM802.6,752.2L805.9,740.3L794.0,737.0L790.7,748.9ZM996.4,792.1L999.6,780.2L987.6,777.0L984.5,789.0ZM794.0,737.0L797.3,725.1L785.5,721.8L782.2,733.7ZM970.9,696.0L974.0,684.1L962.2,681.0L959.0,692.8ZM1045.8,652.2L1048.9,640.4L1037.0,637.3L1033.9,649.1Z" fill="#ff9e00" stroke="#ff9e00" stroke-width="0.9"/>
<path d="M1043.8,855.8L1047.0,843.7L1034.9,840.6L1031.8,852.6ZM840.2,801.2L843.5,789.2L831.6,785.9L828.3,797.9ZM1034.9,840.6L1038.1,828.6L1026.1,825.5L1022.9,837.5ZM819.7,782.6L823.0,770.7L811.1,767.4L807.8,779.3ZM1026.1,825.5L1029.2,813.5L1017.2,810.4L1014.1,822.4ZM963.8,770.7L966.9,758.7L955.0,755.6L951.8,767.5ZM771.8,679.6L775.1,667.8L763.3,664.5L760.0,676.3ZM775.1,667.8L778.4,656.0L766.6,652.7L763.3,664.5ZM872.9,682.3L876.1,670.4L864.3,667.2L861.1,679.0ZM793.5,647.5L796.8,635.7L785.0,632.4L781.7,644.2Z" fill="#ff9400" stroke="#ff9400" stroke-width="0.9"/>
<path d="M1031.8,852.6L1034.9,840.6L1022.9,837.5L1019.8,849.5ZM864.1,807.7L867.4,795.8L855.4,792.5L852.2,804.5ZM852.2,804.5L855.4,792.5L843.5,789.2L840.2,801.2ZM828.3,797.9L831.6,785.9L819.7,782.6L816.4,794.5ZM816.4,794.5L819.7,782.6L807.8,779.3L804.5,791.2ZM1022.9,837.5L1026.1,825.5L1014.1,822.4L1010.9,834.4ZM807.8,779.3L811.1,767.4L799.2,764.1L795.9,776.0ZM1014.1,822.4L1017.2,810.4L1005.2,807.2L1002.1,819.2ZM799.2,764.1L802.6,752.2L790.7,748.9L787.4,760.8ZM1005.2,807.2L1008.4,795.3L996.4,792.1L993.3,804.1ZM790.7,748.9L794.0,737.0L782.2,733.7L778.8,745.5ZM782.2,733.7L785.5,721.8L773.7,718.5L770.3,730.3ZM955.0,755.6L958.2,743.6L946.3,740.4L943.1,752.4ZM875.0,721.1L878.3,709.2L866.4,706.0L863.2,717.9ZM768.5,691.5L771.8,679.6L760.0,676.3L756.7,688.1ZM808.6,639.0L811.8,627.2L800.1,623.9L796.8,635.7ZM1060.7,643.5L1063.8,631.6L1051.9,628.5L1048.9,640.4ZM1075.6,634.7L1078.7,622.8L1066.8,619.7L1063.8,631.6ZM929.4,520.2L932.5,508.5L920.8,505.3L917.6,517.1ZM932.5,508.5L935.7,496.8L924.0,493.6L920.8,505.3ZM920.8,505.3L924.0,493.6L912.3,490.4L909.1,502.2ZM947.4,499.9L950.5,488.2L938.8,485.0L935.7,496.8ZM935.7,496.8L938.8,485.0L927.1,481.9L924.0,493.6ZM924.0,493.6L927.1,481.9L915.4,478.7L912.3,490.4ZM912.3,490.4L915.4,478.7L903.7,475.6L900.6,487.3ZM962.2,491.3L965.3,479.6L953.6,476.5L950.5,488.2ZM950.5,488.2L953.6,476.5L941.9,473.3L938.8,485.0ZM938.8,485.0L941.9,473.3L930.3,470.2L927.1,481.9Z" fill="#ff8a00" stroke="#ff8a00" stroke-width="0.9"/>
<path d="M971.8,836.8L975.0,824.9L963.0,821.7L959.8,833.7ZM975.0,824.9L978.1,812.9L966.2,809.7L963.0,821.7ZM978.1,812.9L981.3,800.9L969.3,797.7L966.2,809.7ZM750.0,711.8L753.3,700.0L741.5,696.6L738.2,708.4ZM919.3,745.9L922.5,734.0L910.6,730.8L907.4,742.7ZM744.9,684.8L748.2,673.0L736.4,669.6L733.1,681.4ZM890.1,712.5L893.3,700.6L881.5,697.4L878.3,709.2ZM751.5,661.2L754.9,649.4L743.1,646.0L739.8,657.8ZM769.9,640.9L773.2,629.1L761.5,625.8L758.2,637.6ZM950.3,677.8L953.5,665.9L941.7,662.7L938.5,674.6ZM879.3,658.6L882.6,646.7L870.8,643.5L867.5,655.3ZM953.5,665.9L956.7,654.1L944.8,650.9L941.7,662.7ZM974.8,633.5L977.9,621.7L966.1,618.5L963.0,630.4ZM1051.9,628.5L1055.0,616.7L1043.2,613.6L1040.1,625.4ZM923.0,543.7L926.2,532.0L914.5,528.8L911.3,540.6ZM911.3,540.6L914.5,528.8L902.8,525.6L899.6,537.4ZM899.6,537.4L902.8,525.6L891.0,522.5L887.9,534.2ZM887.9,534.2L891.0,522.5L879.3,519.3L876.1,531.0ZM876.1,531.0L879.3,519.3L867.6,516.1L864.4,527.8ZM864.4,527.8L867.6,516.1L855.9,512.8L852.7,524.6ZM852.7,524.6L855.9,512.8L844.2,509.6L841.0,521.3ZM841.0,521.3L844.2,509.6L832.5,506.4L829.3,518.1ZM829.3,518.1L832.5,506.4L820.8,503.2L817.6,514.9ZM817.6,514.9L820.8,503.2L809.2,499.9L805.9,511.6ZM805.9,511.6L809.2,499.9L797.5,496.7L794.2,508.4ZM794.2,508.4L797.5,496.7L785.8,493.4L782.5,505.1ZM782.5,505.1L785.8,493.4L774.1,490.2L770.9,501.9ZM770.9,501.9L774.1,490.2L762.5,486.9L759.2,498.6ZM759.2,498.6L762.5,486.9L750.8,483.6L747.5,495.3ZM961.4,541.4L964.5,529.7L952.8,526.5L949.7,538.3ZM949.7,538.3L952.8,526.5L941.1,523.4L937.9,535.1ZM988.0,535.9L991.1,524.2L979.4,521.1L976.3,532.8ZM1002.9,527.3L1006.0,515.5L994.2,512.4L991.1,524.2ZM1017.7,518.6L1020.8,506.9L1009.1,503.8L1006.0,515.5ZM1032.5,509.9L1035.6,498.2L1023.9,495.1L1020.8,506.9ZM1047.3,501.3L1050.4,489.5L1038.7,486.5L1035.6,498.2ZM1062.1,492.6L1065.2,480.8L1053.5,477.8L1050.4,489.5Z" fill="#ff3800" stroke="#ff3800" stroke-width="0.9"/>
<path d="M1143.2,868.3L1146.2,856.3L1134.2,853.2L1131.2,865.3ZM1131.2,865.3L1134.2,853.2L1122.2,850.2L1119.1,862.2ZM1119.1,862.2L1122.2,850.2L1110.1,847.2L1107.1,859.2ZM1107.1,859.2L1110.1,847.2L1098.1,844.1L1095.1,856.1ZM1095.1,856.1L1098.1,844.1L1086.1,841.0L1083.0,853.0ZM1083.0,853.0L1086.1,841.0L1074.1,837.9L1071.0,850.0ZM1062.1,834.9L1065.2,822.9L1053.2,819.8L1050.1,831.7ZM846.8,777.3L850.1,765.4L838.2,762.1L834.9,774.0ZM1041.2,816.6L1044.3,804.7L1032.3,801.5L1029.2,813.5ZM826.3,758.8L829.6,746.9L817.7,743.6L814.4,755.5ZM966.9,758.7L970.1,746.8L958.2,743.6L955.0,755.6ZM970.1,746.8L973.3,734.9L961.4,731.7L958.2,743.6ZM979.6,711.1L982.7,699.2L970.9,696.0L967.7,707.9ZM1173.3,697.6L1176.3,685.6L1164.4,682.7L1161.4,694.6ZM1087.4,637.7L1090.5,625.9L1078.7,622.8L1075.6,634.7Z" fill="#ffbd00" stroke="#ffbd00" stroke-width="0.9"/>
<path d="M1071.0,850.0L1074.1,837.9L1062.1,834.9L1059.0,846.9ZM1050.1,831.7L1053.2,819.8L1041.2,816.6L1038.1,828.6ZM834.9,774.0L838.2,762.1L826.3,758.8L823.0,770.7ZM1029.2,813.5L1032.3,801.5L1020.4,798.4L1017.2,810.4ZM814.4,755.5L817.7,743.6L805.9,740.3L802.6,752.2ZM1008.4,795.3L1011.5,783.3L999.6,780.2L996.4,792.1ZM805.9,740.3L809.2,728.5L797.3,725.1L794.0,737.0ZM975.7,773.8L978.9,761.9L966.9,758.7L963.8,770.7ZM973.3,734.9L976.4,723.0L964.6,719.8L961.4,731.7ZM976.4,723.0L979.6,711.1L967.7,707.9L964.6,719.8ZM820.3,642.3L823.6,630.5L811.8,627.2L808.6,639.0ZM1057.6,655.3L1060.7,643.5L1048.9,640.4L1045.8,652.2ZM1033.9,649.1L1037.0,637.3L1025.2,634.2L1022.1,646.0Z" fill="#ffb300" stroke="#ffb300" stroke-width="0.9"/>
<path d="M1146.2,856.3L1149.3,844.2L1137.2,841.2L1134.2,853.2ZM1134.2,853.2L1137.2,841.2L1125.2,838.2L1122.2,850.2ZM1098.1,844.1L1101.2,832.1L1089.2,829.0L1086.1,841.0ZM1086.1,841.0L1089.2,829.0L1077.2,825.9L1074.1,837.9ZM1074.1,837.9L1077.2,825.9L1065.2,822.9L1062.1,834.9ZM1053.2,819.8L1056.3,807.8L1044.3,804.7L1041.2,816.6ZM838.2,762.1L841.5,750.2L829.6,746.9L826.3,758.8ZM1020.4,798.4L1023.5,786.4L1011.5,783.3L1008.4,795.3ZM817.7,743.6L821.0,731.8L809.2,728.5L805.9,740.3ZM987.6,777.0L990.8,765.1L978.9,761.9L975.7,773.8ZM869.6,694.1L872.9,682.3L861.1,679.0L857.8,690.9ZM790.2,659.3L793.5,647.5L781.7,644.2L778.4,656.0ZM864.3,667.2L867.5,655.3L855.7,652.1L852.5,663.9ZM974.0,684.1L977.2,672.3L965.3,669.1L962.2,681.0ZM843.9,648.8L847.2,637.0L835.4,633.7L832.1,645.6ZM832.1,645.6L835.4,633.7L823.6,630.5L820.3,642.3ZM980.3,660.4L983.5,648.5L971.6,645.4L968.5,657.2ZM1054.5,667.2L1057.6,655.3L1045.8,652.2L1042.7,664.1ZM1022.1,646.0L1025.2,634.2L1013.4,631.1L1010.3,642.9ZM1010.3,642.9L1013.4,631.1L1001.6,628.0L998.4,639.8Z" fill="#ffc700" stroke="#ffc700" stroke-width="0.9"/>
<path d="M1122.2,850.2L1125.2,838.2L1113.2,835.1L1110.1,847.2ZM1110.1,847.2L1113.2,835.1L1101.2,832.1L1098.1,844.1ZM1149.3,844.2L1152.3,832.2L1140.3,829.2L1137.2,841.2ZM1137.2,841.2L1140.3,829.2L1128.3,826.2L1125.2,838.2ZM1077.2,825.9L1080.2,813.9L1068.3,810.9L1065.2,822.9ZM1065.2,822.9L1068.3,810.9L1056.3,807.8L1053.2,819.8ZM1044.3,804.7L1047.4,792.7L1035.4,789.6L1032.3,801.5ZM1032.3,801.5L1035.4,789.6L1023.5,786.4L1020.4,798.4ZM883.6,736.2L886.9,724.4L875.0,721.1L871.8,733.0ZM780.3,694.8L783.6,683.0L771.8,679.6L768.5,691.5ZM805.3,650.8L808.6,639.0L796.8,635.7L793.5,647.5ZM977.2,672.3L980.3,660.4L968.5,657.2L965.3,669.1ZM1042.7,664.1L1045.8,652.2L1033.9,649.1L1030.8,661.0ZM1072.5,646.5L1075.6,634.7L1063.8,631.6L1060.7,643.5ZM1099.3,640.8L1102.3,628.9L1090.5,625.9L1087.4,637.7Z" fill="#ffd100" stroke="#ffd100" stroke-width="0.9"/>
<path d="M1125.2,838.2L1128.3,826.2L1116.2,823.1L1113.2,835.1ZM1113.2,835.1L1116.2,823.1L1104.2,820.1L1101.2,832.1ZM1101.2,832.1L1104.2,820.1L1092.2,817.0L1089.2,829.0ZM1089.2,829.0L1092.2,817.0L1080.2,813.9L1077.2,825.9ZM1152.3,832.2L1155.3,820.2L1143.3,817.2L1140.3,829.2ZM1068.3,810.9L1071.3,798.9L1059.4,795.8L1056.3,807.8ZM1056.3,807.8L1059.4,795.8L1047.4,792.7L1044.3,804.7ZM841.5,750.2L844.8,738.3L832.9,735.1L829.6,746.9ZM829.6,746.9L832.9,735.1L821.0,731.8L817.7,743.6ZM788.8,710.0L792.1,698.1L780.3,694.8L777.0,706.6ZM866.4,706.0L869.6,694.1L857.8,690.9L854.6,702.7ZM783.6,683.0L786.9,671.1L775.1,667.8L771.8,679.6ZM786.9,671.1L790.2,659.3L778.4,656.0L775.1,667.8ZM982.7,699.2L985.9,687.3L974.0,684.1L970.9,696.0ZM1170.3,709.5L1173.3,697.6L1161.4,694.6L1158.4,706.5ZM1161.4,694.6L1164.4,682.7L1152.5,679.7L1149.5,691.6Z" fill="#ffdb00" stroke="#ffdb00" stroke-width="0.9"/>
<path d="M969.3,797.7L972.5,785.8L960.6,782.6L957.4,794.6ZM746.7,723.6L750.0,711.8L738.2,708.4L734.8,720.3ZM741.5,696.6L744.9,684.8L733.1,681.4L729.7,693.3ZM934.4,737.2L937.6,725.3L925.7,722.1L922.5,734.0ZM754.9,649.4L758.2,637.6L746.4,634.3L743.1,646.0ZM947.2,689.7L950.3,677.8L938.5,674.6L935.3,686.5ZM887.9,673.6L891.2,661.8L879.3,658.6L876.1,670.4ZM870.8,643.5L874.0,631.7L862.2,628.4L859.0,640.3ZM956.7,654.1L959.8,642.2L948.0,639.0L944.8,650.9ZM826.9,618.7L830.1,606.9L818.3,603.6L815.1,615.4ZM1040.1,625.4L1043.2,613.6L1031.4,610.5L1028.3,622.3ZM1004.7,616.1L1007.8,604.3L996.0,601.2L992.9,613.0ZM1066.8,619.7L1069.9,607.9L1058.1,604.8L1055.0,616.7ZM791.0,520.1L794.2,508.4L782.5,505.1L779.3,516.8ZM779.3,516.8L782.5,505.1L770.9,501.9L767.6,513.5ZM767.6,513.5L770.9,501.9L759.2,498.6L755.9,510.3ZM755.9,510.3L759.2,498.6L747.5,495.3L744.3,507.0ZM744.3,507.0L747.5,495.3L735.9,492.0L732.6,503.7ZM732.6,503.7L735.9,492.0L724.2,488.7L720.9,500.4ZM720.9,500.4L724.2,488.7L712.6,485.4L709.3,497.1ZM934.8,546.9L937.9,535.1L926.2,532.0L923.0,543.7ZM973.2,544.6L976.3,532.8L964.5,529.7L961.4,541.4ZM1014.6,530.4L1017.7,518.6L1006.0,515.5L1002.9,527.3ZM1029.5,521.7L1032.5,509.9L1020.8,506.9L1017.7,518.6ZM1044.3,513.0L1047.3,501.3L1035.6,498.2L1032.5,509.9ZM1059.1,504.3L1062.1,492.6L1050.4,489.5L1047.3,501.3ZM1085.6,498.7L1088.6,486.9L1076.9,483.9L1073.8,495.6ZM1073.8,495.6L1076.9,483.9L1065.2,480.8L1062.1,492.6Z" fill="#ff2e00" stroke="#ff2e00" stroke-width="0.9"/>
<path d="M1140.3,829.2L1143.3,817.2L1131.3,814.2L1128.3,826.2ZM1128.3,826.2L1131.3,814.2L1119.3,811.1L1116.2,823.1ZM1116.2,823.1L1119.3,811.1L1107.3,808.1L1104.2,820.1ZM1104.2,820.1L1107.3,808.1L1095.3,805.0L1092.2,817.0ZM1092.2,817.0L1095.3,805.0L1083.3,802.0L1080.2,813.9ZM1080.2,813.9L1083.3,802.0L1071.3,798.9L1068.3,810.9ZM1155.3,820.2L1158.3,808.2L1146.3,805.2L1143.3,817.2ZM1047.4,792.7L1050.5,780.7L1038.6,777.6L1035.4,789.6ZM1035.4,789.6L1038.6,777.6L1026.6,774.5L1023.5,786.4ZM999.6,780.2L1002.7,768.2L990.8,765.1L987.6,777.0ZM978.9,761.9L982.0,750.0L970.1,746.8L966.9,758.7ZM863.2,717.9L866.4,706.0L854.6,702.7L851.3,714.6ZM1051.4,679.1L1054.5,667.2L1042.7,664.1L1039.6,676.0Z" fill="#ffe500" stroke="#ffe500" stroke-width="0.9"/>
<path d="M1143.3,817.2L1146.3,805.2L1134.3,802.2L1131.3,814.2ZM1131.3,814.2L1134.3,802.2L1122.3,799.1L1119.3,811.1ZM1071.3,798.9L1074.4,786.9L1062.5,783.8L1059.4,795.8ZM1059.4,795.8L1062.5,783.8L1050.5,780.7L1047.4,792.7ZM1023.5,786.4L1026.6,774.5L1014.7,771.4L1011.5,783.3ZM1011.5,783.3L1014.7,771.4L1002.7,768.2L999.6,780.2ZM821.0,731.8L824.3,719.9L812.5,716.6L809.2,728.5ZM982.0,750.0L985.2,738.0L973.3,734.9L970.1,746.8ZM985.2,738.0L988.3,726.1L976.4,723.0L973.3,734.9ZM988.3,726.1L991.5,714.2L979.6,711.1L976.4,723.0ZM995.3,651.7L998.4,639.8L986.6,636.7L983.5,648.5Z" fill="#fff000" stroke="#fff000" stroke-width="0.9"/>
<path d="M1119.3,811.1L1122.3,799.1L1110.3,796.1L1107.3,808.1ZM1107.3,808.1L1110.3,796.1L1098.4,793.0L1095.3,805.0ZM1095.3,805.0L1098.4,793.0L1086.4,790.0L1083.3,802.0ZM1083.3,802.0L1086.4,790.0L1074.4,786.9L1071.3,798.9ZM880.4,748.1L883.6,736.2L871.8,733.0L868.5,744.9ZM832.9,735.1L836.2,723.2L824.3,719.9L821.0,731.8ZM1146.3,805.2L1149.3,793.2L1137.3,790.2L1134.3,802.2ZM1062.5,783.8L1065.6,771.8L1053.6,768.8L1050.5,780.7ZM1050.5,780.7L1053.6,768.8L1041.7,765.7L1038.6,777.6ZM1038.6,777.6L1041.7,765.7L1029.7,762.5L1026.6,774.5ZM859.9,729.7L863.2,717.9L851.3,714.6L848.0,726.5ZM1047.9,741.8L1051.0,729.8L1039.1,726.7L1036.0,738.7ZM991.5,714.2L994.6,702.3L982.7,699.2L979.6,711.1ZM1167.3,721.4L1170.3,709.5L1158.4,706.5L1155.4,718.4Z" fill="#fffa00" stroke="#fffa00" stroke-width="0.9"/>
<path d="M868.5,744.9L871.8,733.0L859.9,729.7L856.6,741.6ZM1002.7,768.2L1005.9,756.3L993.9,753.1L990.8,765.1ZM1113.4,784.1L1116.4,772.1L1104.5,769.1L1101.4,781.1ZM1101.4,781.1L1104.5,769.1L1092.5,766.0L1089.5,778.0ZM1089.5,778.0L1092.5,766.0L1080.6,763.0L1077.5,774.9ZM993.9,753.1L997.1,741.2L985.2,738.0L982.0,750.0ZM1032.8,750.6L1036.0,738.7L1024.0,735.5L1020.9,747.5ZM997.1,741.2L1000.2,729.3L988.3,726.1L985.2,738.0ZM1000.2,729.3L1003.4,717.4L991.5,714.2L988.3,726.1ZM1051.0,729.8L1054.1,717.9L1042.2,714.8L1039.1,726.7ZM1155.4,718.4L1158.4,706.5L1146.5,703.5L1143.5,715.4ZM989.0,675.4L992.2,663.5L980.3,660.4L977.2,672.3ZM1007.1,654.8L1010.3,642.9L998.4,639.8L995.3,651.7ZM1108.1,655.7L1111.1,643.8L1099.3,640.8L1096.2,652.6Z" fill="#dbff24" stroke="#dbff24" stroke-width="0.9"/>
<path d="M1134.3,802.2L1137.3,790.2L1125.4,787.2L1122.3,799.1ZM1122.3,799.1L1125.4,787.2L1113.4,784.1L1110.3,796.1ZM1074.4,786.9L1077.5,774.9L1065.6,771.8L1062.5,783.8ZM800.6,713.3L803.9,701.4L792.1,698.1L788.8,710.0ZM1149.3,793.2L1152.3,781.2L1140.4,778.2L1137.3,790.2ZM1053.6,768.8L1056.7,756.8L1044.8,753.7L1041.7,765.7ZM1056.7,756.8L1059.8,744.9L1047.9,741.8L1044.8,753.7ZM1044.8,753.7L1047.9,741.8L1036.0,738.7L1032.8,750.6ZM1059.8,744.9L1062.9,732.9L1051.0,729.8L1047.9,741.8ZM985.9,687.3L989.0,675.4L977.2,672.3L974.0,684.1ZM1158.4,706.5L1161.4,694.6L1149.5,691.6L1146.5,703.5ZM1030.8,661.0L1033.9,649.1L1022.1,646.0L1019.0,657.9ZM1069.5,658.4L1072.5,646.5L1060.7,643.5L1057.6,655.3Z" fill="#faff05" stroke="#faff05" stroke-width="0.9"/>
<path d="M1110.3,796.1L1113.4,784.1L1101.4,781.1L1098.4,793.0ZM1098.4,793.0L1101.4,781.1L1089.5,778.0L1086.4,790.0ZM1086.4,790.0L1089.5,778.0L1077.5,774.9L1074.4,786.9ZM1026.6,774.5L1029.7,762.5L1017.8,759.4L1014.7,771.4ZM990.8,765.1L993.9,753.1L982.0,750.0L978.9,761.9ZM871.8,733.0L875.0,721.1L863.2,717.9L859.9,729.7ZM812.5,716.6L815.8,704.7L803.9,701.4L800.6,713.3ZM1137.3,790.2L1140.4,778.2L1128.4,775.2L1125.4,787.2ZM1065.6,771.8L1068.6,759.9L1056.7,756.8L1053.6,768.8ZM1041.7,765.7L1044.8,753.7L1032.8,750.6L1029.7,762.5ZM1152.3,781.2L1155.3,769.2L1143.4,766.2L1140.4,778.2ZM802.0,662.6L805.3,650.8L793.5,647.5L790.2,659.3ZM817.1,654.1L820.3,642.3L808.6,639.0L805.3,650.8ZM1164.3,733.4L1167.3,721.4L1155.4,718.4L1152.4,730.4ZM1048.4,691.0L1051.4,679.1L1039.6,676.0L1036.5,687.9ZM1039.6,676.0L1042.7,664.1L1030.8,661.0L1027.7,672.9ZM1084.4,649.6L1087.4,637.7L1075.6,634.7L1072.5,646.5Z" fill="#f0ff0f" stroke="#f0ff0f" stroke-width="0.9"/>
<path d="M1014.7,771.4L1017.8,759.4L1005.9,756.3L1002.7,768.2ZM848.0,726.5L851.3,714.6L839.4,711.3L836.2,723.2ZM1125.4,787.2L1128.4,775.2L1116.4,772.1L1113.4,784.1ZM1077.5,774.9L1080.6,763.0L1068.6,759.9L1065.6,771.8ZM1029.7,762.5L1032.8,750.6L1020.9,747.5L1017.8,759.4ZM792.1,698.1L795.4,686.3L783.6,683.0L780.3,694.8ZM1140.4,778.2L1143.4,766.2L1131.4,763.2L1128.4,775.2ZM1068.6,759.9L1071.7,747.9L1059.8,744.9L1056.7,756.8ZM1155.3,769.2L1158.3,757.3L1146.4,754.3L1143.4,766.2ZM1158.3,757.3L1161.3,745.3L1149.4,742.3L1146.4,754.3ZM861.1,679.0L864.3,667.2L852.5,663.9L849.2,675.8ZM1161.3,745.3L1164.3,733.4L1152.4,730.4L1149.4,742.3ZM994.6,702.3L997.8,690.4L985.9,687.3L982.7,699.2ZM852.5,663.9L855.7,652.1L843.9,648.8L840.7,660.6ZM992.2,663.5L995.3,651.7L983.5,648.5L980.3,660.4Z" fill="#e5ff1a" stroke="#e5ff1a" stroke-width="0.9"/>
<path d="M836.2,723.2L839.4,711.3L827.6,708.0L824.3,719.9ZM824.3,719.9L827.6,708.0L815.8,704.7L812.5,716.6ZM1017.8,759.4L1020.9,747.5L1009.0,744.3L1005.9,756.3ZM1005.9,756.3L1009.0,744.3L997.1,741.2L993.9,753.1ZM851.3,714.6L854.6,702.7L842.7,699.5L839.4,711.3ZM1116.4,772.1L1119.5,760.2L1107.5,757.1L1104.5,769.1ZM1104.5,769.1L1107.5,757.1L1095.6,754.1L1092.5,766.0ZM1092.5,766.0L1095.6,754.1L1083.7,751.0L1080.6,763.0ZM1020.9,747.5L1024.0,735.5L1012.1,732.4L1009.0,744.3ZM1009.0,744.3L1012.1,732.4L1000.2,729.3L997.1,741.2ZM795.4,686.3L798.7,674.5L786.9,671.1L783.6,683.0ZM1131.4,763.2L1134.4,751.2L1122.5,748.2L1119.5,760.2ZM1071.7,747.9L1074.8,736.0L1062.9,732.9L1059.8,744.9ZM798.7,674.5L802.0,662.6L790.2,659.3L786.9,671.1ZM1003.4,717.4L1006.5,705.5L994.6,702.3L991.5,714.2ZM1149.4,742.3L1152.4,730.4L1140.5,727.4L1137.5,739.3ZM840.7,660.6L843.9,648.8L832.1,645.6L828.9,657.4ZM828.9,657.4L832.1,645.6L820.3,642.3L817.1,654.1ZM1096.2,652.6L1099.3,640.8L1087.4,637.7L1084.4,649.6Z" fill="#c7ff38" stroke="#c7ff38" stroke-width="0.9"/>
<path d="M922.5,734.0L925.7,722.1L913.8,718.9L910.6,730.8ZM910.6,730.8L913.8,718.9L902.0,715.7L898.8,727.6ZM937.6,725.3L940.8,713.4L928.9,710.2L925.7,722.1ZM902.0,715.7L905.2,703.8L893.3,700.6L890.1,712.5ZM893.3,700.6L896.6,688.7L884.7,685.5L881.5,697.4ZM739.8,657.8L743.1,646.0L731.3,642.7L728.0,654.5ZM944.0,701.5L947.2,689.7L935.3,686.5L932.1,698.4ZM743.1,646.0L746.4,634.3L734.7,630.9L731.3,642.7ZM758.2,637.6L761.5,625.8L749.7,622.5L746.4,634.3ZM785.0,632.4L788.3,620.6L776.5,617.3L773.2,629.1ZM800.1,623.9L803.3,612.1L791.6,608.8L788.3,620.6ZM838.6,621.9L841.9,610.1L830.1,606.9L826.9,618.7ZM815.1,615.4L818.3,603.6L806.6,600.4L803.3,612.1ZM959.8,642.2L963.0,630.4L951.2,627.2L948.0,639.0ZM1016.5,619.2L1019.6,607.4L1007.8,604.3L1004.7,616.1ZM992.9,613.0L996.0,601.2L984.2,598.0L981.1,609.9ZM1105.4,617.1L1108.4,605.2L1096.6,602.2L1093.5,614.0ZM776.0,528.5L779.3,516.8L767.6,513.5L764.3,525.2ZM764.3,525.2L767.6,513.5L755.9,510.3L752.7,522.0ZM752.7,522.0L755.9,510.3L744.3,507.0L741.0,518.7ZM741.0,518.7L744.3,507.0L732.6,503.7L729.3,515.4ZM729.3,515.4L732.6,503.7L720.9,500.4L717.6,512.1ZM717.6,512.1L720.9,500.4L709.3,497.1L706.0,508.7ZM837.8,533.1L841.0,521.3L829.3,518.1L826.1,529.8ZM826.1,529.8L829.3,518.1L817.6,514.9L814.4,526.6ZM814.4,526.6L817.6,514.9L805.9,511.6L802.7,523.3ZM802.7,523.3L805.9,511.6L794.2,508.4L791.0,520.1ZM984.9,547.7L988.0,535.9L976.3,532.8L973.2,544.6ZM999.8,539.1L1002.9,527.3L991.1,524.2L988.0,535.9ZM1026.4,533.5L1029.5,521.7L1017.7,518.6L1014.6,530.4ZM1041.2,524.8L1044.3,513.0L1032.5,509.9L1029.5,521.7ZM1056.0,516.1L1059.1,504.3L1047.3,501.3L1044.3,513.0ZM1082.5,510.4L1085.6,498.7L1073.8,495.6L1070.8,507.4ZM1070.8,507.4L1073.8,495.6L1062.1,492.6L1059.1,504.3ZM1097.3,501.7L1100.3,490.0L1088.6,486.9L1085.6,498.7ZM1112.1,493.0L1115.1,481.2L1103.4,478.2L1100.3,490.0Z" fill="#ff2400" stroke="#ff2400" stroke-width="0.9"/>
<path d="M839.4,711.3L842.7,699.5L830.9,696.2L827.6,708.0ZM810.5,677.8L813.8,665.9L802.0,662.6L798.7,674.5ZM1098.6,742.1L1101.7,730.2L1089.8,727.1L1086.7,739.1ZM1086.7,739.1L1089.8,727.1L1077.9,724.1L1074.8,736.0ZM1128.6,724.3L1131.6,712.4L1119.7,709.4L1116.7,721.3ZM1012.8,681.7L1015.9,669.8L1004.0,666.7L1000.9,678.5Z" fill="#80ff80" stroke="#80ff80" stroke-width="0.9"/>
<path d="M827.6,708.0L830.9,696.2L819.1,692.9L815.8,704.7ZM846.0,687.6L849.2,675.8L837.4,672.5L834.2,684.3ZM837.4,672.5L840.7,660.6L828.9,657.4L825.6,669.2ZM1077.9,724.1L1080.9,712.1L1069.0,709.1L1066.0,721.0ZM1116.7,721.3L1119.7,709.4L1107.8,706.3L1104.7,718.3ZM1072.1,697.2L1075.2,685.3L1063.3,682.2L1060.2,694.1ZM1075.2,685.3L1078.3,673.4L1066.4,670.3L1063.3,682.2ZM1113.9,682.5L1116.9,670.6L1105.0,667.6L1102.0,679.5Z" fill="#57ffa8" stroke="#57ffa8" stroke-width="0.9"/>
<path d="M815.8,704.7L819.1,692.9L807.2,689.6L803.9,701.4ZM1113.6,733.2L1116.7,721.3L1104.7,718.3L1101.7,730.2ZM1069.0,709.1L1072.1,697.2L1060.2,694.1L1057.2,706.0ZM1093.2,664.5L1096.2,652.6L1084.4,649.6L1081.3,661.5Z" fill="#6bff94" stroke="#6bff94" stroke-width="0.9"/>
<path d="M803.9,701.4L807.2,689.6L795.4,686.3L792.1,698.1ZM1107.5,757.1L1110.6,745.2L1098.6,742.1L1095.6,754.1ZM1027.2,723.6L1030.3,711.7L1018.4,708.6L1015.3,720.5ZM1015.3,720.5L1018.4,708.6L1006.5,705.5L1003.4,717.4ZM813.8,665.9L817.1,654.1L805.3,650.8L802.0,662.6ZM1137.5,739.3L1140.5,727.4L1128.6,724.3L1125.5,736.3ZM1140.5,727.4L1143.5,715.4L1131.6,712.4L1128.6,724.3ZM1057.2,706.0L1060.2,694.1L1048.4,691.0L1045.3,702.9ZM1116.9,670.6L1119.9,658.7L1108.1,655.7L1105.0,667.6Z" fill="#a8ff57" stroke="#a8ff57" stroke-width="0.9"/>
<path d="M1128.4,775.2L1131.4,763.2L1119.5,760.2L1116.4,772.1ZM1080.6,763.0L1083.7,751.0L1071.7,747.9L1068.6,759.9ZM1143.4,766.2L1146.4,754.3L1134.4,751.2L1131.4,763.2ZM1036.0,738.7L1039.1,726.7L1027.2,723.6L1024.0,735.5ZM1146.4,754.3L1149.4,742.3L1137.5,739.3L1134.4,751.2ZM1062.9,732.9L1066.0,721.0L1054.1,717.9L1051.0,729.8ZM1152.4,730.4L1155.4,718.4L1143.5,715.4L1140.5,727.4ZM1066.4,670.3L1069.5,658.4L1057.6,655.3L1054.5,667.2ZM1019.0,657.9L1022.1,646.0L1010.3,642.9L1007.1,654.8Z" fill="#d1ff2e" stroke="#d1ff2e" stroke-width="0.9"/>
<path d="M925.7,722.1L928.9,710.2L917.1,707.0L913.8,718.9ZM913.8,718.9L917.1,707.0L905.2,703.8L902.0,715.7ZM928.9,710.2L932.1,698.4L920.3,695.2L917.1,707.0ZM905.2,703.8L908.4,691.9L896.6,688.7L893.3,700.6ZM932.1,698.4L935.3,686.5L923.5,683.3L920.3,695.2ZM935.3,686.5L938.5,674.6L926.6,671.4L923.5,683.3ZM899.8,676.9L903.0,665.0L891.2,661.8L887.9,673.6ZM734.7,630.9L738.0,619.1L726.2,615.8L722.9,627.6ZM938.5,674.6L941.7,662.7L929.8,659.6L926.6,671.4ZM761.5,625.8L764.8,614.0L753.0,610.7L749.7,622.5ZM749.7,622.5L753.0,610.7L741.3,607.4L738.0,619.1ZM941.7,662.7L944.8,650.9L933.0,647.7L929.8,659.6ZM788.3,620.6L791.6,608.8L779.8,605.6L776.5,617.3ZM803.3,612.1L806.6,600.4L794.8,597.1L791.6,608.8ZM830.1,606.9L833.4,595.1L821.6,591.8L818.3,603.6ZM818.3,603.6L821.6,591.8L809.9,588.6L806.6,600.4ZM731.1,553.8L734.4,542.1L722.7,538.8L719.4,550.5ZM719.4,550.5L722.7,538.8L711.0,535.4L707.7,547.1ZM981.1,609.9L984.2,598.0L972.4,594.9L969.3,606.7ZM746.1,545.4L749.4,533.7L737.7,530.4L734.4,542.1ZM734.4,542.1L737.7,530.4L726.0,527.1L722.7,538.8ZM722.7,538.8L726.0,527.1L714.3,523.7L711.0,535.4ZM1043.2,613.6L1046.3,601.8L1034.5,598.7L1031.4,610.5ZM1007.8,604.3L1010.9,592.5L999.1,589.3L996.0,601.2ZM996.0,601.2L999.1,589.3L987.3,586.2L984.2,598.0ZM796.2,546.8L799.4,535.1L787.7,531.8L784.5,543.5ZM784.5,543.5L787.7,531.8L776.0,528.5L772.8,540.2ZM772.8,540.2L776.0,528.5L764.3,525.2L761.1,537.0ZM761.1,537.0L764.3,525.2L752.7,522.0L749.4,533.7ZM858.0,551.3L861.2,539.5L849.5,536.3L846.3,548.0ZM846.3,548.0L849.5,536.3L837.8,533.1L834.6,544.8ZM822.8,541.6L826.1,529.8L814.4,526.6L811.1,538.3ZM931.6,558.7L934.8,546.9L923.0,543.7L919.9,555.5ZM896.4,549.1L899.6,537.4L887.9,534.2L884.7,545.9ZM884.7,545.9L887.9,534.2L876.1,531.0L872.9,542.7ZM981.8,559.5L984.9,547.7L973.2,544.6L970.0,556.4ZM996.7,550.8L999.8,539.1L988.0,535.9L984.9,547.7ZM1023.3,545.3L1026.4,533.5L1014.6,530.4L1011.5,542.2ZM1011.5,542.2L1014.6,530.4L1002.9,527.3L999.8,539.1ZM1038.1,536.6L1041.2,524.8L1029.5,521.7L1026.4,533.5ZM1091.2,525.2L1094.3,513.5L1082.5,510.4L1079.5,522.2ZM1106.0,516.5L1109.0,504.7L1097.3,501.7L1094.3,513.5ZM1179.5,522.7L1182.5,510.9L1170.8,508.0L1167.8,519.7ZM1144.3,513.8L1147.3,502.0L1135.5,499.0L1132.5,510.8ZM1132.5,510.8L1135.5,499.0L1123.8,496.0L1120.8,507.8ZM1120.8,507.8L1123.8,496.0L1112.1,493.0L1109.0,504.7ZM1194.3,513.9L1197.2,502.1L1185.5,499.2L1182.5,510.9ZM1182.5,510.9L1185.5,499.2L1173.7,496.2L1170.8,508.0ZM1170.8,508.0L1173.7,496.2L1162.0,493.2L1159.0,505.0ZM1209.0,505.1L1211.9,493.3L1200.2,490.4L1197.2,502.1Z" fill="#ff0f00" stroke="#ff0f00" stroke-width="0.9"/>
<path d="M854.6,702.7L857.8,690.9L846.0,687.6L842.7,699.5ZM1119.5,760.2L1122.5,748.2L1110.6,745.2L1107.5,757.1ZM1083.7,751.0L1086.7,739.1L1074.8,736.0L1071.7,747.9ZM1134.4,751.2L1137.5,739.3L1125.5,736.3L1122.5,748.2ZM1054.1,717.9L1057.2,706.0L1045.3,702.9L1042.2,714.8ZM1042.2,714.8L1045.3,702.9L1033.4,699.8L1030.3,711.7ZM1006.5,705.5L1009.6,693.6L997.8,690.4L994.6,702.3ZM1143.5,715.4L1146.5,703.5L1134.6,700.5L1131.6,712.4ZM1060.2,694.1L1063.3,682.2L1051.4,679.1L1048.4,691.0ZM1036.5,687.9L1039.6,676.0L1027.7,672.9L1024.6,684.8ZM1027.7,672.9L1030.8,661.0L1019.0,657.9L1015.9,669.8ZM1004.0,666.7L1007.1,654.8L995.3,651.7L992.2,663.5Z" fill="#b3ff4c" stroke="#b3ff4c" stroke-width="0.9"/>
<path d="M842.7,699.5L846.0,687.6L834.2,684.3L830.9,696.2ZM1101.7,730.2L1104.7,718.3L1092.8,715.2L1089.8,727.1ZM1119.7,709.4L1122.7,697.5L1110.8,694.4L1107.8,706.3Z" fill="#4dffb2" stroke="#4dffb2" stroke-width="0.9"/>
<path d="M830.9,696.2L834.2,684.3L822.3,681.0L819.1,692.9ZM1092.8,715.2L1095.9,703.3L1084.0,700.2L1080.9,712.1ZM1087.1,688.3L1090.1,676.4L1078.3,673.4L1075.2,685.3Z" fill="#0ffff0" stroke="#0ffff0" stroke-width="0.9"/>
<path d="M819.1,692.9L822.3,681.0L810.5,677.8L807.2,689.6ZM1090.1,676.4L1093.2,664.5L1081.3,661.5L1078.3,673.4Z" fill="#2effd1" stroke="#2effd1" stroke-width="0.9"/>
<path d="M807.2,689.6L810.5,677.8L798.7,674.5L795.4,686.3ZM825.6,669.2L828.9,657.4L817.1,654.1L813.8,665.9ZM1105.0,667.6L1108.1,655.7L1096.2,652.6L1093.2,664.5Z" fill="#75ff8a" stroke="#75ff8a" stroke-width="0.9"/>
<path d="M1095.6,754.1L1098.6,742.1L1086.7,739.1L1083.7,751.0ZM1122.5,748.2L1125.5,736.3L1113.6,733.2L1110.6,745.2ZM1074.8,736.0L1077.9,724.1L1066.0,721.0L1062.9,732.9ZM1030.3,711.7L1033.4,699.8L1021.5,696.7L1018.4,708.6ZM1018.4,708.6L1021.5,696.7L1009.6,693.6L1006.5,705.5ZM1033.4,699.8L1036.5,687.9L1024.6,684.8L1021.5,696.7ZM1000.9,678.5L1004.0,666.7L992.2,663.5L989.0,675.4ZM1015.9,669.8L1019.0,657.9L1007.1,654.8L1004.0,666.7Z" fill="#9eff61" stroke="#9eff61" stroke-width="0.9"/>
<path d="M1024.0,735.5L1027.2,723.6L1015.3,720.5L1012.1,732.4ZM1012.1,732.4L1015.3,720.5L1003.4,717.4L1000.2,729.3ZM857.8,690.9L861.1,679.0L849.2,675.8L846.0,687.6ZM1039.1,726.7L1042.2,714.8L1030.3,711.7L1027.2,723.6ZM1045.3,702.9L1048.4,691.0L1036.5,687.9L1033.4,699.8ZM997.8,690.4L1000.9,678.5L989.0,675.4L985.9,687.3ZM1063.3,682.2L1066.4,670.3L1054.5,667.2L1051.4,679.1Z" fill="#bdff42" stroke="#bdff42" stroke-width="0.9"/>
<path d="M940.8,713.4L944.0,701.5L932.1,698.4L928.9,710.2ZM896.6,688.7L899.8,676.9L887.9,673.6L884.7,685.5ZM746.4,634.3L749.7,622.5L738.0,619.1L734.7,630.9ZM891.2,661.8L894.4,649.9L882.6,646.7L879.3,658.6ZM773.2,629.1L776.5,617.3L764.8,614.0L761.5,625.8ZM882.6,646.7L885.8,634.9L874.0,631.7L870.8,643.5ZM977.9,621.7L981.1,609.9L969.3,606.7L966.1,618.5ZM1028.3,622.3L1031.4,610.5L1019.6,607.4L1016.5,619.2ZM1055.0,616.7L1058.1,604.8L1046.3,601.8L1043.2,613.6ZM749.4,533.7L752.7,522.0L741.0,518.7L737.7,530.4ZM737.7,530.4L741.0,518.7L729.3,515.4L726.0,527.1ZM726.0,527.1L729.3,515.4L717.6,512.1L714.3,523.7ZM714.3,523.7L717.6,512.1L706.0,508.7L702.7,520.4ZM1093.5,614.0L1096.6,602.2L1084.8,599.1L1081.7,611.0ZM811.1,538.3L814.4,526.6L802.7,523.3L799.4,535.1ZM799.4,535.1L802.7,523.3L791.0,520.1L787.7,531.8ZM787.7,531.8L791.0,520.1L779.3,516.8L776.0,528.5ZM919.9,555.5L923.0,543.7L911.3,540.6L908.1,552.3ZM908.1,552.3L911.3,540.6L899.6,537.4L896.4,549.1ZM872.9,542.7L876.1,531.0L864.4,527.8L861.2,539.5ZM861.2,539.5L864.4,527.8L852.7,524.6L849.5,536.3ZM849.5,536.3L852.7,524.6L841.0,521.3L837.8,533.1ZM970.0,556.4L973.2,544.6L961.4,541.4L958.3,553.2ZM958.3,553.2L961.4,541.4L949.7,538.3L946.5,550.1ZM946.5,550.1L949.7,538.3L937.9,535.1L934.8,546.9ZM1052.9,527.9L1056.0,516.1L1044.3,513.0L1041.2,524.8ZM1079.5,522.2L1082.5,510.4L1070.8,507.4L1067.7,519.1ZM1067.7,519.1L1070.8,507.4L1059.1,504.3L1056.0,516.1ZM1094.3,513.5L1097.3,501.7L1085.6,498.7L1082.5,510.4ZM1109.0,504.7L1112.1,493.0L1100.3,490.0L1097.3,501.7ZM1159.0,505.0L1162.0,493.2L1150.3,490.2L1147.3,502.0ZM1147.3,502.0L1150.3,490.2L1138.5,487.2L1135.5,499.0ZM1135.5,499.0L1138.5,487.2L1126.8,484.2L1123.8,496.0ZM1123.8,496.0L1126.8,484.2L1115.1,481.2L1112.1,493.0Z" fill="#ff1a00" stroke="#ff1a00" stroke-width="0.9"/>
<path d="M917.1,707.0L920.3,695.2L908.4,691.9L905.2,703.8ZM920.3,695.2L923.5,683.3L911.6,680.1L908.4,691.9ZM908.4,691.9L911.6,680.1L899.8,676.9L896.6,688.7ZM923.5,683.3L926.6,671.4L914.8,668.2L911.6,680.1ZM911.6,680.1L914.8,668.2L903.0,665.0L899.8,676.9ZM903.0,665.0L906.2,653.2L894.4,649.9L891.2,661.8ZM738.0,619.1L741.3,607.4L729.6,604.1L726.2,615.8ZM894.4,649.9L897.6,638.1L885.8,634.9L882.6,646.7ZM776.5,617.3L779.8,605.6L768.1,602.3L764.8,614.0ZM764.8,614.0L768.1,602.3L756.3,598.9L753.0,610.7ZM753.0,610.7L756.3,598.9L744.6,595.6L741.3,607.4ZM741.3,607.4L744.6,595.6L732.9,592.3L729.6,604.1ZM729.6,604.1L732.9,592.3L721.2,589.0L717.8,600.7ZM944.8,650.9L948.0,639.0L936.2,635.9L933.0,647.7ZM885.8,634.9L889.0,623.1L877.2,619.9L874.0,631.7ZM874.0,631.7L877.2,619.9L865.4,616.6L862.2,628.4ZM862.2,628.4L865.4,616.6L853.6,613.4L850.4,625.2ZM850.4,625.2L853.6,613.4L841.9,610.1L838.6,621.9ZM791.6,608.8L794.8,597.1L783.1,593.8L779.8,605.6ZM779.8,605.6L783.1,593.8L771.4,590.5L768.1,602.3ZM768.1,602.3L771.4,590.5L759.6,587.2L756.3,598.9ZM756.3,598.9L759.6,587.2L747.9,583.9L744.6,595.6ZM744.6,595.6L747.9,583.9L736.2,580.6L732.9,592.3ZM732.9,592.3L736.2,580.6L724.5,577.2L721.2,589.0ZM948.0,639.0L951.2,627.2L939.4,624.0L936.2,635.9ZM841.9,610.1L845.1,598.4L833.4,595.1L830.1,606.9ZM806.6,600.4L809.9,588.6L798.1,585.3L794.8,597.1ZM794.8,597.1L798.1,585.3L786.4,582.0L783.1,593.8ZM783.1,593.8L786.4,582.0L774.6,578.7L771.4,590.5ZM759.6,587.2L762.9,575.4L751.2,572.1L747.9,583.9ZM747.9,583.9L751.2,572.1L739.5,568.8L736.2,580.6ZM736.2,580.6L739.5,568.8L727.8,565.5L724.5,577.2ZM724.5,577.2L727.8,565.5L716.1,562.2L712.8,573.9ZM963.0,630.4L966.1,618.5L954.3,615.4L951.2,627.2ZM821.6,591.8L824.8,580.1L813.1,576.8L809.9,588.6ZM809.9,588.6L813.1,576.8L801.4,573.5L798.1,585.3ZM798.1,585.3L801.4,573.5L789.6,570.3L786.4,582.0ZM786.4,582.0L789.6,570.3L777.9,567.0L774.6,578.7ZM774.6,578.7L777.9,567.0L766.2,563.7L762.9,575.4ZM762.9,575.4L766.2,563.7L754.5,560.4L751.2,572.1ZM751.2,572.1L754.5,560.4L742.8,557.1L739.5,568.8ZM739.5,568.8L742.8,557.1L731.1,553.8L727.8,565.5ZM727.8,565.5L731.1,553.8L719.4,550.5L716.1,562.2ZM801.4,573.5L804.6,561.8L792.9,558.5L789.6,570.3ZM789.6,570.3L792.9,558.5L781.2,555.3L777.9,567.0ZM777.9,567.0L781.2,555.3L769.5,552.0L766.2,563.7ZM766.2,563.7L769.5,552.0L757.8,548.7L754.5,560.4ZM754.5,560.4L757.8,548.7L746.1,545.4L742.8,557.1ZM742.8,557.1L746.1,545.4L734.4,542.1L731.1,553.8ZM816.4,565.1L819.6,553.3L807.9,550.1L804.6,561.8ZM804.6,561.8L807.9,550.1L796.2,546.8L792.9,558.5ZM792.9,558.5L796.2,546.8L784.5,543.5L781.2,555.3ZM781.2,555.3L784.5,543.5L772.8,540.2L769.5,552.0ZM769.5,552.0L772.8,540.2L761.1,537.0L757.8,548.7ZM757.8,548.7L761.1,537.0L749.4,533.7L746.1,545.4ZM1031.4,610.5L1034.5,598.7L1022.7,595.6L1019.6,607.4ZM1019.6,607.4L1022.7,595.6L1010.9,592.5L1007.8,604.3ZM984.2,598.0L987.3,586.2L975.5,583.1L972.4,594.9ZM843.1,559.8L846.3,548.0L834.6,544.8L831.3,556.6ZM831.3,556.6L834.6,544.8L822.8,541.6L819.6,553.3ZM819.6,553.3L822.8,541.6L811.1,538.3L807.9,550.1ZM807.9,550.1L811.1,538.3L799.4,535.1L796.2,546.8ZM1081.7,611.0L1084.8,599.1L1073.0,596.1L1069.9,607.9ZM1069.9,607.9L1073.0,596.1L1061.2,593.0L1058.1,604.8ZM1010.9,592.5L1014.0,580.6L1002.2,577.5L999.1,589.3ZM999.1,589.3L1002.2,577.5L990.4,574.4L987.3,586.2ZM881.5,557.7L884.7,545.9L872.9,542.7L869.7,554.5ZM869.7,554.5L872.9,542.7L861.2,539.5L858.0,551.3ZM834.6,544.8L837.8,533.1L826.1,529.8L822.8,541.6ZM990.4,574.4L993.6,562.6L981.8,559.5L978.7,571.3ZM978.7,571.3L981.8,559.5L970.0,556.4L966.9,568.1ZM966.9,568.1L970.0,556.4L958.3,553.2L955.1,565.0ZM955.1,565.0L958.3,553.2L946.5,550.1L943.4,561.8ZM943.4,561.8L946.5,550.1L934.8,546.9L931.6,558.7ZM1005.3,565.7L1008.4,553.9L996.7,550.8L993.6,562.6ZM993.6,562.6L996.7,550.8L984.9,547.7L981.8,559.5ZM1020.2,557.0L1023.3,545.3L1011.5,542.2L1008.4,553.9ZM1008.4,553.9L1011.5,542.2L999.8,539.1L996.7,550.8ZM1035.0,548.3L1038.1,536.6L1026.4,533.5L1023.3,545.3ZM1049.9,539.6L1052.9,527.9L1041.2,524.8L1038.1,536.6ZM1076.4,534.0L1079.5,522.2L1067.7,519.1L1064.7,530.9ZM1064.7,530.9L1067.7,519.1L1056.0,516.1L1052.9,527.9ZM1117.8,519.5L1120.8,507.8L1109.0,504.7L1106.0,516.5ZM1191.3,525.7L1194.3,513.9L1182.5,510.9L1179.5,522.7ZM1167.8,519.7L1170.8,508.0L1159.0,505.0L1156.0,516.8ZM1156.0,516.8L1159.0,505.0L1147.3,502.0L1144.3,513.8ZM1206.0,516.8L1209.0,505.1L1197.2,502.1L1194.3,513.9Z" fill="#ff0500" stroke="#ff0500" stroke-width="0.9"/>
<path d="M834.2,684.3L837.4,672.5L825.6,669.2L822.3,681.0ZM1104.7,718.3L1107.8,706.3L1095.9,703.3L1092.8,715.2ZM1080.9,712.1L1084.0,700.2L1072.1,697.2L1069.0,709.1ZM1102.0,679.5L1105.0,667.6L1093.2,664.5L1090.1,676.4Z" fill="#24ffdb" stroke="#24ffdb" stroke-width="0.9"/>
<path d="M822.3,681.0L825.6,669.2L813.8,665.9L810.5,677.8Z" fill="#38ffc7" stroke="#38ffc7" stroke-width="0.9"/>
<path d="M1110.6,745.2L1113.6,733.2L1101.7,730.2L1098.6,742.1ZM849.2,675.8L852.5,663.9L840.7,660.6L837.4,672.5ZM1125.5,736.3L1128.6,724.3L1116.7,721.3L1113.6,733.2ZM1021.5,696.7L1024.6,684.8L1012.8,681.7L1009.6,693.6ZM1131.6,712.4L1134.6,700.5L1122.7,697.5L1119.7,709.4ZM1024.6,684.8L1027.7,672.9L1015.9,669.8L1012.8,681.7Z" fill="#8aff75" stroke="#8aff75" stroke-width="0.9"/>
<path d="M1089.8,727.1L1092.8,715.2L1080.9,712.1L1077.9,724.1Z" fill="#42ffbd" stroke="#42ffbd" stroke-width="0.9"/>
<path d="M1066.0,721.0L1069.0,709.1L1057.2,706.0L1054.1,717.9ZM1009.6,693.6L1012.8,681.7L1000.9,678.5L997.8,690.4ZM1081.3,661.5L1084.4,649.6L1072.5,646.5L1069.5,658.4Z" fill="#94ff6b" stroke="#94ff6b" stroke-width="0.9"/>
<path d="M926.6,671.4L929.8,659.6L918.0,656.4L914.8,668.2ZM914.8,668.2L918.0,656.4L906.2,653.2L903.0,665.0ZM929.8,659.6L933.0,647.7L921.2,644.5L918.0,656.4ZM918.0,656.4L921.2,644.5L909.4,641.3L906.2,653.2ZM906.2,653.2L909.4,641.3L897.6,638.1L894.4,649.9ZM933.0,647.7L936.2,635.9L924.4,632.7L921.2,644.5ZM909.4,641.3L912.6,629.5L900.8,626.3L897.6,638.1ZM897.6,638.1L900.8,626.3L889.0,623.1L885.8,634.9ZM853.6,613.4L856.9,601.6L845.1,598.4L841.9,610.1ZM771.4,590.5L774.6,578.7L762.9,575.4L759.6,587.2ZM845.1,598.4L848.3,586.6L836.6,583.3L833.4,595.1ZM833.4,595.1L836.6,583.3L824.8,580.1L821.6,591.8ZM966.1,618.5L969.3,606.7L957.5,603.6L954.3,615.4ZM848.3,586.6L851.6,574.8L839.8,571.6L836.6,583.3ZM836.6,583.3L839.8,571.6L828.1,568.3L824.8,580.1ZM824.8,580.1L828.1,568.3L816.4,565.1L813.1,576.8ZM813.1,576.8L816.4,565.1L804.6,561.8L801.4,573.5ZM969.3,606.7L972.4,594.9L960.6,591.7L957.5,603.6ZM851.6,574.8L854.8,563.0L843.1,559.8L839.8,571.6ZM839.8,571.6L843.1,559.8L831.3,556.6L828.1,568.3ZM828.1,568.3L831.3,556.6L819.6,553.3L816.4,565.1ZM972.4,594.9L975.5,583.1L963.8,579.9L960.6,591.7ZM866.5,566.3L869.7,554.5L858.0,551.3L854.8,563.0ZM854.8,563.0L858.0,551.3L846.3,548.0L843.1,559.8ZM1058.1,604.8L1061.2,593.0L1049.4,589.9L1046.3,601.8ZM1046.3,601.8L1049.4,589.9L1037.6,586.8L1034.5,598.7ZM1034.5,598.7L1037.6,586.8L1025.8,583.7L1022.7,595.6ZM1022.7,595.6L1025.8,583.7L1014.0,580.6L1010.9,592.5ZM987.3,586.2L990.4,574.4L978.7,571.3L975.5,583.1ZM975.5,583.1L978.7,571.3L966.9,568.1L963.8,579.9ZM963.8,579.9L966.9,568.1L955.1,565.0L952.0,576.8ZM952.0,576.8L955.1,565.0L943.4,561.8L940.2,573.6ZM940.2,573.6L943.4,561.8L931.6,558.7L928.5,570.5ZM928.5,570.5L931.6,558.7L919.9,555.5L916.7,567.3ZM916.7,567.3L919.9,555.5L908.1,552.3L905.0,564.1ZM905.0,564.1L908.1,552.3L896.4,549.1L893.2,560.9ZM893.2,560.9L896.4,549.1L884.7,545.9L881.5,557.7ZM1025.8,583.7L1028.9,571.9L1017.1,568.8L1014.0,580.6ZM1014.0,580.6L1017.1,568.8L1005.3,565.7L1002.2,577.5ZM1002.2,577.5L1005.3,565.7L993.6,562.6L990.4,574.4ZM1028.9,571.9L1032.0,560.1L1020.2,557.0L1017.1,568.8ZM1017.1,568.8L1020.2,557.0L1008.4,553.9L1005.3,565.7ZM1032.0,560.1L1035.0,548.3L1023.3,545.3L1020.2,557.0ZM1046.8,551.4L1049.9,539.6L1038.1,536.6L1035.0,548.3ZM1061.6,542.7L1064.7,530.9L1052.9,527.9L1049.9,539.6ZM1088.2,537.0L1091.2,525.2L1079.5,522.2L1076.4,534.0ZM1103.0,528.3L1106.0,516.5L1094.3,513.5L1091.2,525.2ZM1176.6,534.5L1179.5,522.7L1167.8,519.7L1164.8,531.5ZM1164.8,531.5L1167.8,519.7L1156.0,516.8L1153.0,528.5ZM1153.0,528.5L1156.0,516.8L1144.3,513.8L1141.3,525.5ZM1141.3,525.5L1144.3,513.8L1132.5,510.8L1129.5,522.5ZM1129.5,522.5L1132.5,510.8L1120.8,507.8L1117.8,519.5ZM1203.1,528.6L1206.0,516.8L1194.3,513.9L1191.3,525.7Z" fill="#fa0000" stroke="#fa0000" stroke-width="0.9"/>
<path d="M1107.8,706.3L1110.8,694.4L1099.0,691.4L1095.9,703.3Z" fill="#1affe5" stroke="#1affe5" stroke-width="0.9"/>
<path d="M1095.9,703.3L1099.0,691.4L1087.1,688.3L1084.0,700.2Z" fill="#00e5ff" stroke="#00e5ff" stroke-width="0.9"/>
<path d="M1084.0,700.2L1087.1,688.3L1075.2,685.3L1072.1,697.2Z" fill="#05fffa" stroke="#05fffa" stroke-width="0.9"/>
<path d="M1099.0,691.4L1102.0,679.5L1090.1,676.4L1087.1,688.3Z" fill="#00faff" stroke="#00faff" stroke-width="0.9"/>
<path d="M921.2,644.5L924.4,632.7L912.6,629.5L909.4,641.3ZM936.2,635.9L939.4,624.0L927.6,620.9L924.4,632.7ZM924.4,632.7L927.6,620.9L915.8,617.7L912.6,629.5ZM912.6,629.5L915.8,617.7L904.0,614.5L900.8,626.3ZM900.8,626.3L904.0,614.5L892.2,611.3L889.0,623.1ZM889.0,623.1L892.2,611.3L880.4,608.1L877.2,619.9ZM877.2,619.9L880.4,608.1L868.6,604.8L865.4,616.6ZM865.4,616.6L868.6,604.8L856.9,601.6L853.6,613.4ZM951.2,627.2L954.3,615.4L942.5,612.2L939.4,624.0ZM939.4,624.0L942.5,612.2L930.7,609.0L927.6,620.9ZM868.6,604.8L871.9,593.0L860.1,589.8L856.9,601.6ZM856.9,601.6L860.1,589.8L848.3,586.6L845.1,598.4ZM954.3,615.4L957.5,603.6L945.7,600.4L942.5,612.2ZM860.1,589.8L863.3,578.0L851.6,574.8L848.3,586.6ZM957.5,603.6L960.6,591.7L948.8,588.6L945.7,600.4ZM875.1,581.2L878.3,569.5L866.5,566.3L863.3,578.0ZM863.3,578.0L866.5,566.3L854.8,563.0L851.6,574.8ZM1137.8,638.0L1140.8,626.1L1129.0,623.1L1126.0,635.0ZM960.6,591.7L963.8,579.9L952.0,576.8L948.8,588.6ZM948.8,588.6L952.0,576.8L940.2,573.6L937.1,585.4ZM937.1,585.4L940.2,573.6L928.5,570.5L925.3,582.3ZM925.3,582.3L928.5,570.5L916.7,567.3L913.5,579.1ZM913.5,579.1L916.7,567.3L905.0,564.1L901.8,575.9ZM901.8,575.9L905.0,564.1L893.2,560.9L890.0,572.7ZM890.0,572.7L893.2,560.9L881.5,557.7L878.3,569.5ZM878.3,569.5L881.5,557.7L869.7,554.5L866.5,566.3ZM1061.2,593.0L1064.2,581.2L1052.4,578.1L1049.4,589.9ZM1049.4,589.9L1052.4,578.1L1040.7,575.0L1037.6,586.8ZM1037.6,586.8L1040.7,575.0L1028.9,571.9L1025.8,583.7ZM1040.7,575.0L1043.7,563.2L1032.0,560.1L1028.9,571.9ZM1043.7,563.2L1046.8,551.4L1035.0,548.3L1032.0,560.1ZM1058.6,554.5L1061.6,542.7L1049.9,539.6L1046.8,551.4ZM1073.4,545.8L1076.4,534.0L1064.7,530.9L1061.6,542.7ZM1100.0,540.1L1103.0,528.3L1091.2,525.2L1088.2,537.0ZM1114.8,531.3L1117.8,519.5L1106.0,516.5L1103.0,528.3ZM1188.3,537.5L1191.3,525.7L1179.5,522.7L1176.6,534.5Z" fill="#f00000" stroke="#f00000" stroke-width="0.9"/>
<path d="M1078.3,673.4L1081.3,661.5L1069.5,658.4L1066.4,670.3Z" fill="#61ff9e" stroke="#61ff9e" stroke-width="0.9"/>
<path d="M927.6,620.9L930.7,609.0L918.9,605.9L915.8,617.7ZM915.8,617.7L918.9,605.9L907.2,602.7L904.0,614.5ZM904.0,614.5L907.2,602.7L895.4,599.5L892.2,611.3ZM892.2,611.3L895.4,599.5L883.6,596.3L880.4,608.1ZM880.4,608.1L883.6,596.3L871.9,593.0L868.6,604.8ZM942.5,612.2L945.7,600.4L933.9,597.2L930.7,609.0ZM930.7,609.0L933.9,597.2L922.1,594.1L918.9,605.9ZM895.4,599.5L898.6,587.7L886.8,584.5L883.6,596.3ZM883.6,596.3L886.8,584.5L875.1,581.2L871.9,593.0ZM871.9,593.0L875.1,581.2L863.3,578.0L860.1,589.8ZM945.7,600.4L948.8,588.6L937.1,585.4L933.9,597.2ZM933.9,597.2L937.1,585.4L925.3,582.3L922.1,594.1ZM922.1,594.1L925.3,582.3L913.5,579.1L910.4,590.9ZM910.4,590.9L913.5,579.1L901.8,575.9L898.6,587.7ZM898.6,587.7L901.8,575.9L890.0,572.7L886.8,584.5ZM886.8,584.5L890.0,572.7L878.3,569.5L875.1,581.2ZM1173.4,647.0L1176.4,635.1L1164.5,632.1L1161.5,644.0ZM1108.4,605.2L1111.4,593.4L1099.6,590.3L1096.6,602.2ZM1096.6,602.2L1099.6,590.3L1087.8,587.3L1084.8,599.1ZM1084.8,599.1L1087.8,587.3L1076.0,584.2L1073.0,596.1ZM1073.0,596.1L1076.0,584.2L1064.2,581.2L1061.2,593.0ZM1064.2,581.2L1067.3,569.4L1055.5,566.3L1052.4,578.1ZM1052.4,578.1L1055.5,566.3L1043.7,563.2L1040.7,575.0ZM1067.3,569.4L1070.3,557.6L1058.6,554.5L1055.5,566.3ZM1055.5,566.3L1058.6,554.5L1046.8,551.4L1043.7,563.2ZM1070.3,557.6L1073.4,545.8L1061.6,542.7L1058.6,554.5ZM1085.2,548.8L1088.2,537.0L1076.4,534.0L1073.4,545.8ZM1150.0,540.3L1153.0,528.5L1141.3,525.5L1138.3,537.3ZM1138.3,537.3L1141.3,525.5L1129.5,522.5L1126.5,534.3ZM1126.5,534.3L1129.5,522.5L1117.8,519.5L1114.8,531.3ZM1200.1,540.4L1203.1,528.6L1191.3,525.7L1188.3,537.5Z" fill="#e50000" stroke="#e50000" stroke-width="0.9"/>
<path d="M918.9,605.9L922.1,594.1L910.4,590.9L907.2,602.7ZM907.2,602.7L910.4,590.9L898.6,587.7L895.4,599.5ZM1161.5,644.0L1164.5,632.1L1152.7,629.1L1149.7,641.0ZM1149.7,641.0L1152.7,629.1L1140.8,626.1L1137.8,638.0ZM1129.0,623.1L1132.0,611.3L1120.2,608.2L1117.2,620.1ZM1087.8,587.3L1090.9,575.5L1079.1,572.4L1076.0,584.2ZM1076.0,584.2L1079.1,572.4L1067.3,569.4L1064.2,581.2ZM1079.1,572.4L1082.1,560.6L1070.3,557.6L1067.3,569.4ZM1082.1,560.6L1085.2,548.8L1073.4,545.8L1070.3,557.6ZM1096.9,551.9L1100.0,540.1L1088.2,537.0L1085.2,548.8ZM1111.7,543.1L1114.8,531.3L1103.0,528.3L1100.0,540.1ZM1185.4,549.3L1188.3,537.5L1176.6,534.5L1173.6,546.3ZM1173.6,546.3L1176.6,534.5L1164.8,531.5L1161.8,543.3ZM1161.8,543.3L1164.8,531.5L1153.0,528.5L1150.0,540.3Z" fill="#db0000" stroke="#db0000" stroke-width="0.9"/>
<path d="M1176.4,635.1L1179.3,623.2L1167.5,620.3L1164.5,632.1ZM1123.2,596.4L1126.2,584.6L1114.4,581.5L1111.4,593.4ZM1126.2,584.6L1129.3,572.7L1117.5,569.7L1114.4,581.5ZM1129.3,572.7L1132.3,560.9L1120.5,557.9L1117.5,569.7ZM1144.1,563.9L1147.1,552.1L1135.3,549.1L1132.3,560.9Z" fill="#b30000" stroke="#b30000" stroke-width="0.9"/>
<path d="M1164.5,632.1L1167.5,620.3L1155.7,617.3L1152.7,629.1ZM1152.7,629.1L1155.7,617.3L1143.8,614.3L1140.8,626.1ZM1140.8,626.1L1143.8,614.3L1132.0,611.3L1129.0,623.1ZM1135.0,599.4L1138.0,587.6L1126.2,584.6L1123.2,596.4ZM1138.0,587.6L1141.1,575.7L1129.3,572.7L1126.2,584.6ZM1152.8,578.7L1155.8,566.9L1144.1,563.9L1141.1,575.7ZM1179.4,572.9L1182.4,561.1L1170.6,558.1L1167.6,569.9ZM1167.6,569.9L1170.6,558.1L1158.8,555.1L1155.8,566.9Z" fill="#9e0000" stroke="#9e0000" stroke-width="0.9"/>
<path d="M1179.3,623.2L1182.3,611.4L1170.5,608.4L1167.5,620.3ZM1143.8,614.3L1146.9,602.4L1135.0,599.4L1132.0,611.3ZM1182.3,611.4L1185.3,599.5L1173.5,596.6L1170.5,608.4ZM1185.3,599.5L1188.3,587.7L1176.5,584.7L1173.5,596.6ZM1149.9,590.6L1152.8,578.7L1141.1,575.7L1138.0,587.6ZM1188.3,587.7L1191.2,575.9L1179.4,572.9L1176.5,584.7ZM1176.5,584.7L1179.4,572.9L1167.6,569.9L1164.6,581.7ZM1164.6,581.7L1167.6,569.9L1155.8,566.9L1152.8,578.7Z" fill="#940000" stroke="#940000" stroke-width="0.9"/>
<path d="M1167.5,620.3L1170.5,608.4L1158.7,605.4L1155.7,617.3ZM1146.9,602.4L1149.9,590.6L1138.0,587.6L1135.0,599.4ZM1173.5,596.6L1176.5,584.7L1164.6,581.7L1161.7,593.6ZM1161.7,593.6L1164.6,581.7L1152.8,578.7L1149.9,590.6Z" fill="#8a0000" stroke="#8a0000" stroke-width="0.9"/>
<path d="M1155.7,617.3L1158.7,605.4L1146.9,602.4L1143.8,614.3ZM1170.5,608.4L1173.5,596.6L1161.7,593.6L1158.7,605.4ZM1158.7,605.4L1161.7,593.6L1149.9,590.6L1146.9,602.4Z" fill="#800000" stroke="#800000" stroke-width="0.9"/>
<path d="M1132.0,611.3L1135.0,599.4L1123.2,596.4L1120.2,608.2ZM1141.1,575.7L1144.1,563.9L1132.3,560.9L1129.3,572.7ZM1191.2,575.9L1194.2,564.0L1182.4,561.1L1179.4,572.9ZM1155.8,566.9L1158.8,555.1L1147.1,552.1L1144.1,563.9Z" fill="#a80000" stroke="#a80000" stroke-width="0.9"/>
<path d="M1120.2,608.2L1123.2,596.4L1111.4,593.4L1108.4,605.2ZM1111.4,593.4L1114.4,581.5L1102.6,578.5L1099.6,590.3ZM1102.6,578.5L1105.7,566.7L1093.9,563.7L1090.9,575.5ZM1105.7,566.7L1108.7,554.9L1096.9,551.9L1093.9,563.7ZM1120.5,557.9L1123.5,546.1L1111.7,543.1L1108.7,554.9ZM1158.8,555.1L1161.8,543.3L1150.0,540.3L1147.1,552.1ZM1147.1,552.1L1150.0,540.3L1138.3,537.3L1135.3,549.1Z" fill="#c70000" stroke="#c70000" stroke-width="0.9"/>
<path d="M1099.6,590.3L1102.6,578.5L1090.9,575.5L1087.8,587.3ZM1090.9,575.5L1093.9,563.7L1082.1,560.6L1079.1,572.4ZM1093.9,563.7L1096.9,551.9L1085.2,548.8L1082.1,560.6ZM1108.7,554.9L1111.7,543.1L1100.0,540.1L1096.9,551.9ZM1135.3,549.1L1138.3,537.3L1126.5,534.3L1123.5,546.1ZM1123.5,546.1L1126.5,534.3L1114.8,531.3L1111.7,543.1ZM1197.2,552.2L1200.1,540.4L1188.3,537.5L1185.4,549.3Z" fill="#d10000" stroke="#d10000" stroke-width="0.9"/>
<path d="M1114.4,581.5L1117.5,569.7L1105.7,566.7L1102.6,578.5ZM1117.5,569.7L1120.5,557.9L1108.7,554.9L1105.7,566.7ZM1132.3,560.9L1135.3,549.1L1123.5,546.1L1120.5,557.9ZM1194.2,564.0L1197.2,552.2L1185.4,549.3L1182.4,561.1ZM1182.4,561.1L1185.4,549.3L1173.6,546.3L1170.6,558.1ZM1170.6,558.1L1173.6,546.3L1161.8,543.3L1158.8,555.1Z" fill="#bd0000" stroke="#bd0000" stroke-width="0.9"/>
<path d="M727.1,716.0L743.1,716.5L752.0,717.1L762.7,718.3L775.2,716.5L784.1,715.6L793.0,717.4L805.4,719.2L816.1,717.4L823.2,715.6L825.0,711.2L829.5,708.5L833.9,711.2L834.8,721.0L837.5,729.9L841.0,737.0L846.4,744.1L849.1,750.4L851.7,758.4L855.3,761.0L858.9,761.0L861.5,755.7L864.2,758.4L867.8,760.2L873.1,754.8L876.7,756.6L883.8,753.0L892.7,753.0L901.6,756.6L906.9,760.2L912.3,763.7L917.6,770.8L922.1,779.7L926.5,786.9L931.0,792.2L931.9,796.7L926.5,799.3L928.3,804.7L922.1,806.5L921.2,811.8L923.0,816.2L930.1,814.5L935.4,815.4L937.2,810.9L942.5,808.2L946.1,810.0L949.7,805.6L956.8,804.7L965.4,799.3L970.8,796.7L977.9,792.2L983.2,786.9L993.9,783.3L999.3,778.0L1002.8,772.6L1001.9,765.5L1008.2,761.0L1004.6,756.6L1015.3,753.0L1017.1,747.7L1018.9,738.8L1026.0,732.6L1036.7,727.2L1047.3,723.7L1054.5,720.1L1065.1,717.4L1072.3,714.7L1078.5,711.2L1079.4,701.4L1084.7,696.1L1090.1,688.9L1100.8,684.5L1107.9,686.3L1115.0,683.6L1125.7,680.9L1132.8,678.2L1139.9,676.5L1147.1,676.8L1150.6,674.7L1143.5,671.1L1139.9,665.8L1143.4,661.0L1150.4,656.5L1161.4,655.5L1216.4,655.0L1216.4,880.0L676.4,880.0Z" fill="#808080" stroke="#222" stroke-width="0.9" stroke-linejoin="round"/>
<path d="M776.8,507.1L813.8,836.9M873.4,499.4L889.3,830.9M970.3,497.8L965.0,829.7M1067.2,502.4L1040.7,833.3M1163.5,513.2L1116.0,841.7M713.5,571.5L725.1,569.7L736.6,568.0L748.2,566.4L759.8,564.8L771.4,563.4L783.0,562.1L794.6,560.8L806.2,559.6L817.8,558.6L829.4,557.6L841.1,556.7L852.7,555.9L864.4,555.2L876.1,554.6L887.7,554.1L899.4,553.7L911.1,553.4L922.7,553.1L934.4,553.0L946.1,552.9L957.8,553.0L969.5,553.1L981.1,553.4L992.8,553.7L1004.5,554.1L1016.1,554.6L1027.8,555.2L1039.5,555.9L1051.1,556.7L1062.8,557.6L1074.4,558.6L1086.0,559.6L1097.6,560.8L1109.2,562.1L1120.8,563.4L1132.4,564.8L1144.0,566.4L1155.6,568.0L1167.1,569.7L1178.7,571.5M722.3,626.1L733.4,624.4L744.5,622.7L755.7,621.2L766.8,619.7L778.0,618.3L789.1,617.0L800.3,615.8L811.5,614.7L822.7,613.7L833.9,612.7L845.1,611.9L856.3,611.1L867.5,610.4L878.7,609.9L889.9,609.4L901.2,609.0L912.4,608.7L923.6,608.4L934.9,608.3L946.1,608.3L957.3,608.3L968.6,608.4L979.8,608.7L991.0,609.0L1002.3,609.4L1013.5,609.9L1024.7,610.4L1035.9,611.1L1047.1,611.9L1058.3,612.7L1069.5,613.7L1080.7,614.7L1091.9,615.8L1103.1,617.0L1114.2,618.3L1125.4,619.7L1136.5,621.2L1147.7,622.7L1158.8,624.4L1169.9,626.1M731.1,680.8L741.8,679.1L752.4,677.5L763.1,676.0L773.8,674.6L784.6,673.2L795.3,672.0L806.0,670.8L816.7,669.8L827.5,668.8L838.3,667.9L849.0,667.1L859.8,666.3L870.6,665.7L881.4,665.1L892.1,664.6L902.9,664.3L913.7,664.0L924.5,663.7L935.3,663.6L946.1,663.6L956.9,663.6L967.7,663.7L978.5,664.0L989.3,664.3L1000.1,664.6L1010.8,665.1L1021.6,665.7L1032.4,666.3L1043.2,667.1L1053.9,667.9L1064.7,668.8L1075.5,669.8L1086.2,670.8L1096.9,672.0L1107.6,673.2L1118.4,674.6L1129.1,676.0L1139.8,677.5L1150.4,679.1L1161.1,680.8M739.9,735.4L750.1,733.8L760.4,732.2L770.6,730.8L780.9,729.4L791.2,728.2L801.4,727.0L811.7,725.9L822.0,724.8L832.3,723.9L842.7,723.0L853.0,722.2L863.3,721.5L873.7,720.9L884.0,720.4L894.3,719.9L904.7,719.6L915.0,719.3L925.4,719.1L935.7,718.9L946.1,718.9L956.5,718.9L966.8,719.1L977.2,719.3L987.5,719.6L997.9,719.9L1008.2,720.4L1018.5,720.9L1028.9,721.5L1039.2,722.2L1049.5,723.0L1059.9,723.9L1070.2,724.8L1080.5,725.9L1090.8,727.0L1101.0,728.2L1111.3,729.4L1121.6,730.8L1131.8,732.2L1142.1,733.8L1152.3,735.4M748.7,790.0L758.5,788.4L768.3,787.0L778.1,785.6L787.9,784.3L797.7,783.1L807.6,781.9L817.5,780.9L827.3,779.9L837.2,779.0L847.1,778.2L857.0,777.4L866.8,776.7L876.7,776.1L886.6,775.6L896.5,775.2L906.5,774.8L916.4,774.6L926.3,774.4L936.2,774.2L946.1,774.2L956.0,774.2L965.9,774.4L975.8,774.6L985.7,774.8L995.7,775.2L1005.6,775.6L1015.5,776.1L1025.4,776.7L1035.2,777.4L1045.1,778.2L1055.0,779.0L1064.9,779.9L1074.7,780.9L1084.6,781.9L1094.5,783.1L1104.3,784.3L1114.1,785.6L1123.9,787.0L1133.7,788.4L1143.5,790.0" fill="none" stroke="#000" stroke-opacity="0.2" stroke-width="0.55" stroke-dasharray="2 1.6"/>
<path d="M953.9,724.5L959.4,739.4L977.0,739.4L962.7,748.5L968.2,763.4L953.9,754.2L939.6,763.4L945.1,748.5L930.8,739.4L948.4,739.4Z" fill="#ffee00" stroke="#1a1a1a" stroke-width="1.2" stroke-linejoin="miter"/>
<text x="765.7" y="807.4" font-size="31.0" text-anchor="start" fill="#fff" style="stroke:#fff;stroke-width:0.6px;letter-spacing:2.8px">Spring</text>
<text x="1130.2" y="772.3" font-size="30.6" text-anchor="end" fill="#fff" style="stroke:#fff;stroke-width:0.6px;font-style:italic;letter-spacing:3.6px">SIC</text>
<text x="1125.8" y="809.3" font-size="30.6" text-anchor="end" fill="#fff" style="stroke:#fff;stroke-width:0.6px;font-style:italic;letter-spacing:3.8px">[%]</text>
</g>
<path d="M704.8,516.9L709.9,516.1L715.0,515.3L720.1,514.5L725.3,513.7L730.4,513.0L735.6,512.3L740.7,511.6L741.4,516.9L736.3,517.6L731.2,518.3L726.1,519.1L720.9,519.8L715.8,520.6L710.7,521.4L705.6,522.2ZM785.6,840.4L791.2,839.7L796.8,838.9L802.5,838.2L808.1,837.6L813.8,836.9L813.2,831.6L807.5,832.2L801.8,832.9L796.2,833.6L790.5,834.3L784.8,835.1ZM776.8,507.1L782.1,506.5L787.5,505.9L792.9,505.4L798.2,504.8L803.6,504.3L808.9,503.8L814.3,503.3L819.7,502.9L825.0,502.4L825.5,507.8L820.1,508.3L814.8,508.7L809.4,509.2L804.1,509.7L798.7,510.2L793.4,510.7L788.1,511.3L782.7,511.9L777.4,512.4ZM851.5,833.3L856.9,832.9L862.3,832.5L867.7,832.1L873.1,831.8L878.5,831.5L883.9,831.2L889.3,830.9L889.0,825.5L883.6,825.8L878.2,826.1L872.7,826.4L867.3,826.7L861.9,827.1L856.5,827.5L851.0,827.9ZM873.4,499.4L878.8,499.1L884.2,498.9L889.6,498.7L894.9,498.5L900.3,498.3L905.7,498.2L911.1,498.0L916.5,497.9L921.9,497.8L921.9,503.2L916.6,503.3L911.2,503.4L905.9,503.6L900.5,503.7L895.1,503.9L889.8,504.1L884.4,504.3L879.0,504.5L873.7,504.7ZM927.2,829.7L932.6,829.6L938.0,829.6L943.4,829.5L948.8,829.5L954.2,829.6L959.6,829.6L965.0,829.7L965.1,824.3L959.7,824.2L954.3,824.2L948.8,824.1L943.4,824.1L937.9,824.2L932.5,824.2L927.1,824.3ZM970.3,497.8L975.7,497.9L981.1,498.0L986.5,498.2L991.9,498.3L997.3,498.5L1002.6,498.7L1008.0,498.9L1013.4,499.1L1018.8,499.4L1018.5,504.7L1013.2,504.5L1007.8,504.3L1002.4,504.1L997.1,503.9L991.7,503.7L986.3,503.6L981.0,503.4L975.6,503.3L970.3,503.2ZM1002.9,830.9L1008.3,831.2L1013.7,831.5L1019.1,831.8L1024.5,832.1L1029.9,832.5L1035.3,832.9L1040.7,833.3L1041.2,827.9L1035.7,827.5L1030.3,827.1L1024.9,826.7L1019.5,826.4L1014.0,826.1L1008.6,825.8L1003.2,825.5ZM1067.2,502.4L1072.5,502.9L1077.9,503.3L1083.3,503.8L1088.6,504.3L1094.0,504.8L1099.3,505.4L1104.7,505.9L1110.1,506.5L1115.4,507.1L1114.8,512.4L1109.5,511.9L1104.1,511.3L1098.8,510.7L1093.5,510.2L1088.1,509.7L1082.8,509.2L1077.4,508.7L1072.1,508.3L1066.7,507.8ZM1078.4,836.9L1083.8,837.5L1089.2,838.2L1094.6,838.8L1099.9,839.5L1105.3,840.2L1110.7,841.0L1116.0,841.7L1116.8,836.4L1111.4,835.6L1106.0,834.9L1100.6,834.2L1095.2,833.5L1089.8,832.8L1084.4,832.2L1079.0,831.6ZM1163.5,513.2L1167.5,513.8L1171.5,514.4L1175.5,515.0L1174.7,520.4L1170.7,519.8L1166.7,519.2L1162.7,518.6ZM1125.4,843.1L1130.1,843.9L1134.8,844.6L1135.6,839.3L1130.9,838.5L1126.2,837.8ZM704.8,516.9L709.1,544.2L714.5,543.4L710.1,516.1ZM1183.1,544.2L1178.7,571.5L1173.3,570.7L1177.7,543.4ZM713.5,571.5L717.9,598.8L723.3,598.0L718.9,570.7ZM1174.3,598.8L1169.9,626.1L1164.6,625.3L1168.9,598.0ZM722.3,626.1L726.7,653.4L732.0,652.6L727.6,625.3ZM1165.5,653.4L1161.1,680.8L1155.8,679.9L1160.2,652.6ZM731.1,680.8L735.5,708.1L740.8,707.2L736.4,679.9ZM1156.7,708.1L1152.3,735.4L1147.0,734.5L1151.4,707.2ZM739.9,735.4L744.3,762.7L749.6,761.8L745.2,734.5ZM1147.9,762.7L1143.5,790.0L1138.2,789.1L1142.6,761.8ZM748.7,790.0L753.1,817.3L758.4,816.4L754.0,789.1ZM1139.1,817.3L1134.8,844.6L1129.4,843.8L1133.8,816.4Z" fill="#fff" stroke="#000" stroke-width="0.9" stroke-linejoin="miter"/>
<path d="M757.5,844.6L763.1,843.7L768.7,842.8L774.3,842.0L779.9,841.2L785.6,840.4L784.8,835.1L779.2,835.9L773.5,836.7L767.9,837.5L762.2,838.4L756.6,839.3ZM740.7,511.6L745.9,510.9L751.0,510.2L756.2,509.5L761.3,508.9L766.5,508.3L771.6,507.7L776.8,507.1L777.4,512.4L772.2,513.0L767.1,513.6L762.0,514.3L756.8,514.9L751.7,515.5L746.6,516.2L741.4,516.9ZM813.8,836.9L819.1,836.3L824.5,835.8L829.9,835.2L835.3,834.7L840.7,834.2L846.1,833.7L851.5,833.3L851.0,827.9L845.6,828.4L840.2,828.8L834.8,829.3L829.4,829.8L824.0,830.4L818.6,831.0L813.2,831.6ZM825.0,502.4L830.4,502.0L835.8,501.6L841.2,501.2L846.5,500.9L851.9,500.5L857.3,500.2L862.7,499.9L868.0,499.6L873.4,499.4L873.7,504.7L868.3,505.0L863.0,505.3L857.6,505.6L852.2,505.9L846.9,506.3L841.5,506.6L836.2,507.0L830.8,507.4L825.5,507.8ZM889.3,830.9L894.7,830.6L900.1,830.4L905.5,830.2L910.9,830.0L916.3,829.9L921.7,829.8L927.2,829.7L927.1,824.3L921.6,824.4L916.2,824.5L910.8,824.7L905.3,824.8L899.9,825.0L894.5,825.2L889.0,825.5ZM921.9,497.8L927.2,497.7L932.6,497.7L938.0,497.6L943.4,497.6L948.8,497.6L954.2,497.6L959.6,497.7L965.0,497.7L970.3,497.8L970.3,503.2L964.9,503.1L959.5,503.1L954.2,503.0L948.8,503.0L943.4,503.0L938.0,503.0L932.7,503.1L927.3,503.1L921.9,503.2ZM965.0,829.7L970.5,829.8L975.9,829.9L981.3,830.0L986.7,830.2L992.1,830.4L997.5,830.6L1002.9,830.9L1003.2,825.5L997.7,825.2L992.3,825.0L986.9,824.8L981.4,824.7L976.0,824.5L970.6,824.4L965.1,824.3ZM1018.8,499.4L1024.2,499.6L1029.5,499.9L1034.9,500.2L1040.3,500.5L1045.7,500.9L1051.0,501.2L1056.4,501.6L1061.8,502.0L1067.2,502.4L1066.7,507.8L1061.4,507.4L1056.0,507.0L1050.7,506.6L1045.3,506.3L1040.0,505.9L1034.6,505.6L1029.2,505.3L1023.9,505.0L1018.5,504.7ZM1040.7,833.3L1046.1,833.7L1051.5,834.2L1056.9,834.7L1062.3,835.2L1067.7,835.8L1073.1,836.3L1078.4,836.9L1079.0,831.6L1073.6,831.0L1068.2,830.4L1062.8,829.8L1057.4,829.3L1052.0,828.8L1046.6,828.4L1041.2,827.9ZM1115.4,507.1L1120.8,507.7L1126.1,508.3L1131.5,509.0L1136.8,509.6L1142.1,510.3L1147.5,511.0L1152.8,511.7L1158.2,512.5L1163.5,513.2L1162.7,518.6L1157.4,517.8L1152.1,517.1L1146.8,516.4L1141.4,515.7L1136.1,515.0L1130.8,514.3L1125.5,513.7L1120.1,513.0L1114.8,512.4ZM1116.0,841.7L1120.7,842.4L1125.4,843.1L1126.2,837.8L1121.5,837.1L1116.8,836.4ZM1175.5,515.0L1179.5,515.6L1183.5,516.3L1187.5,516.9L1186.6,522.2L1182.6,521.6L1178.6,521.0L1174.7,520.4ZM1187.5,516.9L1183.1,544.2L1177.7,543.4L1182.1,516.1ZM709.1,544.2L713.5,571.5L718.9,570.7L714.5,543.4ZM1178.7,571.5L1174.3,598.8L1168.9,598.0L1173.3,570.7ZM717.9,598.8L722.3,626.1L727.6,625.3L723.3,598.0ZM1169.9,626.1L1165.5,653.4L1160.2,652.6L1164.6,625.3ZM726.7,653.4L731.1,680.8L736.4,679.9L732.0,652.6ZM1161.1,680.8L1156.7,708.1L1151.4,707.2L1155.8,679.9ZM735.5,708.1L739.9,735.4L745.2,734.5L740.8,707.2ZM1152.3,735.4L1147.9,762.7L1142.6,761.8L1147.0,734.5ZM744.3,762.7L748.7,790.0L754.0,789.1L749.6,761.8ZM1143.5,790.0L1139.1,817.3L1133.8,816.4L1138.2,789.1ZM753.1,817.3L757.5,844.6L762.8,843.8L758.4,816.4Z" fill="#000" stroke="#000" stroke-width="0.9"/>
<text transform="translate(702.8 529.8) rotate(-9.14) scale(0.815 1)" font-size="27.3" text-anchor="end" fill="#2b2321" style="letter-spacing:1.90px;">64°S</text>
<text transform="translate(711.6 584.4) rotate(-9.14) scale(0.815 1)" font-size="27.3" text-anchor="end" fill="#2b2321" style="letter-spacing:1.90px;">65°S</text>
<text transform="translate(720.3 639.0) rotate(-9.14) scale(0.815 1)" font-size="27.3" text-anchor="end" fill="#2b2321" style="letter-spacing:1.90px;">66°S</text>
<text transform="translate(729.1 693.6) rotate(-9.14) scale(0.815 1)" font-size="27.3" text-anchor="end" fill="#2b2321" style="letter-spacing:1.90px;">67°S</text>
<text transform="translate(737.9 748.2) rotate(-9.14) scale(0.815 1)" font-size="27.3" text-anchor="end" fill="#2b2321" style="letter-spacing:1.90px;">68°S</text>
<text transform="translate(746.7 802.9) rotate(-9.14) scale(0.815 1)" font-size="27.3" text-anchor="end" fill="#2b2321" style="letter-spacing:1.90px;">69°S</text>
<text transform="translate(755.5 857.5) rotate(-9.14) scale(0.815 1)" font-size="27.3" text-anchor="end" fill="#2b2321" style="letter-spacing:1.90px;">70°S</text>
<text transform="translate(818.2 862.1) rotate(-6.40) scale(0.815 1)" font-size="27.3" text-anchor="middle" fill="#2b2321" style="letter-spacing:1.90px;">68°E</text>
<text transform="translate(892.1 856.2) rotate(-2.74) scale(0.815 1)" font-size="27.3" text-anchor="middle" fill="#2b2321" style="letter-spacing:1.90px;">72°E</text>
<text transform="translate(966.2 855.0) rotate(0.91) scale(0.815 1)" font-size="27.3" text-anchor="middle" fill="#2b2321" style="letter-spacing:1.90px;">76°E</text>
<text transform="translate(1040.3 858.5) rotate(4.57) scale(0.815 1)" font-size="27.3" text-anchor="middle" fill="#2b2321" style="letter-spacing:1.90px;">80°E</text>
<text transform="translate(1114.0 866.8) rotate(8.22) scale(0.815 1)" font-size="27.3" text-anchor="middle" fill="#2b2321" style="letter-spacing:1.90px;">84°E</text>
<g clip-path="url(#cB3)">
<rect x="1231" y="480" width="640" height="400" fill="#fff"/>
<path d="M1373.9,871.3L1377.3,859.4L1365.4,856.0L1362.0,868.0ZM1401.2,866.1L1404.6,854.2L1392.7,850.8L1389.3,862.8ZM1389.3,862.8L1392.7,850.8L1380.7,847.5L1377.3,859.4ZM1416.6,857.5L1419.9,845.6L1408.0,842.2L1404.6,854.2ZM1404.6,854.2L1408.0,842.2L1396.0,838.9L1392.7,850.8ZM1431.9,848.9L1435.2,837.0L1423.2,833.6L1419.9,845.6ZM1354.9,711.8L1358.2,700.0L1346.4,696.6L1343.1,708.4ZM1472.4,655.3L1475.7,643.5L1463.9,640.3L1460.6,652.1ZM1597.1,663.5L1600.2,651.7L1588.4,648.5L1585.2,660.4ZM1549.7,650.9L1552.9,639.0L1541.1,635.9L1537.9,647.7ZM1580.4,583.1L1583.6,571.3L1571.8,568.1L1568.7,579.9ZM1749.2,513.8L1752.2,502.0L1740.4,499.0L1737.4,510.8Z" fill="#05fffa" stroke="#05fffa" stroke-width="0.9"/>
<path d="M1377.3,859.4L1380.7,847.5L1368.8,844.1L1365.4,856.0ZM1392.7,850.8L1396.0,838.9L1384.1,835.5L1380.7,847.5ZM1598.2,804.1L1601.3,792.1L1589.4,789.0L1586.2,800.9ZM1459.5,702.7L1462.7,690.9L1450.9,687.6L1447.6,699.5ZM1496.1,661.8L1499.3,649.9L1487.5,646.7L1484.2,658.6ZM1460.6,652.1L1463.9,640.3L1452.1,637.0L1448.8,648.8ZM1541.1,635.9L1544.3,624.0L1532.5,620.9L1529.3,632.7ZM1544.3,624.0L1547.4,612.2L1535.6,609.0L1532.5,620.9ZM1595.3,574.4L1598.5,562.6L1586.7,559.5L1583.6,571.3ZM1707.9,528.3L1710.9,516.5L1699.2,513.5L1696.1,525.2Z" fill="#00faff" stroke="#00faff" stroke-width="0.9"/>
<path d="M1440.5,864.2L1443.8,852.2L1431.9,848.9L1428.5,860.9ZM1455.8,855.5L1459.1,843.6L1447.1,840.3L1443.8,852.2ZM1488.5,736.2L1491.8,724.4L1479.9,721.1L1476.7,733.0ZM1462.7,690.9L1466.0,679.0L1454.1,675.8L1450.9,687.6ZM1561.6,654.1L1564.7,642.2L1552.9,639.0L1549.7,650.9ZM1650.7,652.2L1653.8,640.4L1641.9,637.3L1638.8,649.1ZM1713.0,655.7L1716.0,643.8L1704.2,640.8L1701.1,652.6ZM1689.3,649.6L1692.3,637.7L1680.5,634.7L1677.4,646.5ZM1562.4,603.6L1565.5,591.7L1553.7,588.6L1550.6,600.4ZM1636.9,560.1L1639.9,548.3L1628.2,545.3L1625.1,557.0ZM1693.1,537.0L1696.1,525.2L1684.4,522.2L1681.3,534.0Z" fill="#1affe5" stroke="#1affe5" stroke-width="0.9"/>
<path d="M1428.5,860.9L1431.9,848.9L1419.9,845.6L1416.6,857.5ZM1443.8,852.2L1447.1,840.3L1435.2,837.0L1431.9,848.9ZM1485.3,748.1L1488.5,736.2L1476.7,733.0L1473.4,744.9ZM1501.5,688.7L1504.7,676.9L1492.8,673.6L1489.6,685.5ZM1484.2,658.6L1487.5,646.7L1475.7,643.5L1472.4,655.3ZM1734.4,522.5L1737.4,510.8L1725.7,507.8L1722.7,519.5ZM1763.9,505.0L1766.9,493.2L1755.2,490.2L1752.2,502.0Z" fill="#0ffff0" stroke="#0ffff0" stroke-width="0.9"/>
<path d="M1467.8,858.8L1471.1,846.9L1459.1,843.6L1455.8,855.5ZM1483.1,850.2L1486.3,838.2L1474.4,834.9L1471.1,846.9ZM1675.9,850.0L1679.0,837.9L1667.0,834.9L1663.9,846.9ZM1577.4,785.8L1580.6,773.8L1568.7,770.7L1565.5,782.6ZM1492.8,673.6L1496.1,661.8L1484.2,658.6L1481.0,670.4ZM1469.2,667.2L1472.4,655.3L1460.6,652.1L1457.4,663.9ZM1585.2,660.4L1588.4,648.5L1576.5,645.4L1573.4,657.2ZM1573.4,657.2L1576.5,645.4L1564.7,642.2L1561.6,654.1ZM1552.9,639.0L1556.1,627.2L1544.3,624.0L1541.1,635.9ZM1559.2,615.4L1562.4,603.6L1550.6,600.4L1547.4,612.2ZM1678.3,545.8L1681.3,534.0L1669.6,530.9L1666.5,542.7Z" fill="#24ffdb" stroke="#24ffdb" stroke-width="0.9"/>
<path d="M1507.0,856.7L1510.3,844.7L1498.3,841.5L1495.0,853.4ZM1684.8,865.1L1687.9,853.0L1675.9,850.0L1672.8,862.0ZM1700.0,856.1L1703.0,844.1L1691.0,841.0L1687.9,853.0ZM1473.4,744.9L1476.7,733.0L1464.8,729.7L1461.5,741.6ZM1353.1,673.0L1356.4,661.2L1344.7,657.8L1341.3,669.6ZM1746.2,525.5L1749.2,513.8L1737.4,510.8L1734.4,522.5ZM1760.9,516.8L1763.9,505.0L1752.2,502.0L1749.2,513.8ZM1775.7,508.0L1778.6,496.2L1766.9,493.2L1763.9,505.0Z" fill="#38ffc7" stroke="#38ffc7" stroke-width="0.9"/>
<path d="M1495.0,853.4L1498.3,841.5L1486.3,838.2L1483.1,850.2ZM1672.8,862.0L1675.9,850.0L1663.9,846.9L1660.8,858.9ZM1660.8,858.9L1663.9,846.9L1651.9,843.7L1648.7,855.8ZM1648.7,855.8L1651.9,843.7L1639.8,840.6L1636.7,852.6ZM1636.7,852.6L1639.8,840.6L1627.8,837.5L1624.7,849.5ZM1624.7,849.5L1627.8,837.5L1615.8,834.4L1612.7,846.4ZM1687.9,853.0L1691.0,841.0L1679.0,837.9L1675.9,850.0ZM1586.2,800.9L1589.4,789.0L1577.4,785.8L1574.2,797.7ZM1361.6,688.1L1364.9,676.3L1353.1,673.0L1349.8,684.8ZM1498.2,700.6L1501.5,688.7L1489.6,685.5L1486.4,697.4ZM1721.8,670.6L1724.8,658.7L1713.0,655.7L1709.9,667.6ZM1556.1,627.2L1559.2,615.4L1547.4,612.2L1544.3,624.0Z" fill="#2effd1" stroke="#2effd1" stroke-width="0.9"/>
<path d="M1558.3,857.6L1561.5,845.6L1549.5,842.4L1546.3,854.4ZM1546.3,854.4L1549.5,842.4L1537.5,839.2L1534.3,851.2ZM1585.5,852.0L1588.7,840.0L1576.7,836.8L1573.5,848.8ZM1573.5,848.8L1576.7,836.8L1564.7,833.7L1561.5,845.6ZM1736.1,865.3L1739.1,853.2L1727.1,850.2L1724.0,862.2ZM1739.1,853.2L1742.1,841.2L1730.1,838.2L1727.1,850.2ZM1476.7,733.0L1479.9,721.1L1468.1,717.9L1464.8,729.7ZM1358.2,700.0L1361.6,688.1L1349.8,684.8L1346.4,696.6ZM1564.7,642.2L1567.9,630.4L1556.1,627.2L1552.9,639.0ZM1577.3,594.9L1580.4,583.1L1568.7,579.9L1565.5,591.7Z" fill="#57ffa8" stroke="#57ffa8" stroke-width="0.9"/>
<path d="M1534.3,851.2L1537.5,839.2L1525.5,836.0L1522.3,848.0ZM1597.5,855.2L1600.7,843.2L1588.7,840.0L1585.5,852.0ZM1724.0,862.2L1727.1,850.2L1715.0,847.2L1712.0,859.2ZM1464.8,729.7L1468.1,717.9L1456.2,714.6L1452.9,726.5ZM1495.0,712.5L1498.2,700.6L1486.4,697.4L1483.2,709.2ZM1622.0,568.8L1625.1,557.0L1613.3,553.9L1610.2,565.7ZM1663.5,554.5L1666.5,542.7L1654.8,539.6L1651.7,551.4ZM1719.7,531.3L1722.7,519.5L1710.9,516.5L1707.9,528.3Z" fill="#4dffb2" stroke="#4dffb2" stroke-width="0.9"/>
<path d="M1609.5,858.4L1612.7,846.4L1600.7,843.2L1597.5,855.2ZM1712.0,859.2L1715.0,847.2L1703.0,844.1L1700.0,856.1ZM1727.1,850.2L1730.1,838.2L1718.1,835.1L1715.0,847.2ZM1491.8,724.4L1495.0,712.5L1483.2,709.2L1479.9,721.1ZM1466.0,679.0L1469.2,667.2L1457.4,663.9L1454.1,675.8ZM1481.0,670.4L1484.2,658.6L1472.4,655.3L1469.2,667.2ZM1623.9,657.9L1627.0,646.0L1615.2,642.9L1612.0,654.8Z" fill="#42ffbd" stroke="#42ffbd" stroke-width="0.9"/>
<path d="M1748.1,868.3L1751.1,856.3L1739.1,853.2L1736.1,865.3ZM1574.2,797.7L1577.4,785.8L1565.5,782.6L1562.3,794.6ZM1567.9,630.4L1571.0,618.5L1559.2,615.4L1556.1,627.2ZM1677.4,646.5L1680.5,634.7L1668.7,631.6L1665.6,643.5ZM1607.1,577.5L1610.2,565.7L1598.5,562.6L1595.3,574.4ZM1772.7,519.7L1775.7,508.0L1763.9,505.0L1760.9,516.8ZM1813.9,505.1L1816.8,493.3L1805.1,490.4L1802.1,502.1Z" fill="#6bff94" stroke="#6bff94" stroke-width="0.9"/>
<path d="M1751.1,856.3L1754.2,844.2L1742.1,841.2L1739.1,853.2ZM1489.6,685.5L1492.8,673.6L1481.0,670.4L1477.8,682.3ZM1787.4,510.9L1790.4,499.2L1778.6,496.2L1775.7,508.0Z" fill="#61ff9e" stroke="#61ff9e" stroke-width="0.9"/>
<path d="M1601.3,792.1L1604.5,780.2L1592.5,777.0L1589.4,789.0ZM1370.1,703.3L1373.4,691.5L1361.6,688.1L1358.2,700.0ZM1373.4,691.5L1376.7,679.6L1364.9,676.3L1361.6,688.1ZM1371.5,652.7L1374.8,640.9L1363.1,637.6L1359.8,649.4ZM1348.0,646.0L1351.3,634.3L1339.6,630.9L1336.2,642.7ZM1433.8,657.4L1437.0,645.6L1425.2,642.3L1422.0,654.1ZM1422.0,654.1L1425.2,642.3L1413.5,639.0L1410.2,650.8ZM1410.2,650.8L1413.5,639.0L1401.7,635.7L1398.4,647.5ZM1398.4,647.5L1401.7,635.7L1389.9,632.4L1386.6,644.2ZM1374.8,640.9L1378.1,629.1L1366.4,625.8L1363.1,637.6ZM1543.4,674.6L1546.6,662.7L1534.7,659.6L1531.5,671.4ZM1401.7,635.7L1405.0,623.9L1393.2,620.6L1389.9,632.4ZM1405.0,623.9L1408.2,612.1L1396.5,608.8L1393.2,620.6ZM1431.8,618.7L1435.0,606.9L1423.2,603.6L1420.0,615.4ZM1493.9,623.1L1497.1,611.3L1485.3,608.1L1482.1,619.9ZM1482.1,619.9L1485.3,608.1L1473.5,604.8L1470.3,616.6ZM1470.3,616.6L1473.5,604.8L1461.8,601.6L1458.5,613.4ZM1458.5,613.4L1461.8,601.6L1450.0,598.4L1446.8,610.1ZM1446.8,610.1L1450.0,598.4L1438.3,595.1L1435.0,606.9ZM1662.5,655.3L1665.6,643.5L1653.8,640.4L1650.7,652.2ZM1583.6,571.3L1586.7,559.5L1574.9,556.4L1571.8,568.1ZM1696.1,525.2L1699.2,513.5L1687.4,510.4L1684.4,522.2ZM1740.4,499.0L1743.4,487.2L1731.7,484.2L1728.7,496.0Z" fill="#00b2ff" stroke="#00b2ff" stroke-width="0.9"/>
<path d="M1589.4,789.0L1592.5,777.0L1580.6,773.8L1577.4,785.8ZM1510.1,703.8L1513.3,691.9L1501.5,688.7L1498.2,700.6ZM1519.7,668.2L1522.9,656.4L1511.1,653.2L1507.9,665.0ZM1448.8,648.8L1452.1,637.0L1440.3,633.7L1437.0,645.6ZM1546.6,662.7L1549.7,650.9L1537.9,647.7L1534.7,659.6ZM1511.1,653.2L1514.3,641.3L1502.5,638.1L1499.3,649.9ZM1499.3,649.9L1502.5,638.1L1490.7,634.9L1487.5,646.7ZM1452.1,637.0L1455.3,625.2L1443.5,621.9L1440.3,633.7ZM1529.3,632.7L1532.5,620.9L1520.7,617.7L1517.5,629.5ZM1752.2,502.0L1755.2,490.2L1743.4,487.2L1740.4,499.0Z" fill="#00dbff" stroke="#00dbff" stroke-width="0.9"/>
<path d="M1351.6,723.6L1354.9,711.8L1343.1,708.4L1339.7,720.3ZM1368.2,664.5L1371.5,652.7L1359.8,649.4L1356.4,661.2ZM1445.6,660.6L1448.8,648.8L1437.0,645.6L1433.8,657.4ZM1531.5,671.4L1534.7,659.6L1522.9,656.4L1519.7,668.2ZM1425.2,642.3L1428.5,630.5L1416.7,627.2L1413.5,639.0ZM1570.2,669.1L1573.4,657.2L1561.6,654.1L1558.4,665.9ZM1490.7,634.9L1493.9,623.1L1482.1,619.9L1478.9,631.7ZM1478.9,631.7L1482.1,619.9L1470.3,616.6L1467.1,628.4ZM1467.1,628.4L1470.3,616.6L1458.5,613.4L1455.3,625.2ZM1455.3,625.2L1458.5,613.4L1446.8,610.1L1443.5,621.9ZM1635.7,661.0L1638.8,649.1L1627.0,646.0L1623.9,657.9ZM1517.5,629.5L1520.7,617.7L1508.9,614.5L1505.7,626.3ZM1681.3,534.0L1684.4,522.2L1672.6,519.1L1669.6,530.9Z" fill="#00c7ff" stroke="#00c7ff" stroke-width="0.9"/>
<path d="M1604.5,780.2L1607.6,768.2L1595.7,765.1L1592.5,777.0ZM1418.7,665.9L1422.0,654.1L1410.2,650.8L1406.9,662.6ZM1567.1,681.0L1570.2,669.1L1558.4,665.9L1555.2,677.8ZM1369.7,614.0L1373.0,602.3L1361.2,598.9L1357.9,610.7ZM1373.0,602.3L1376.3,590.5L1364.5,587.2L1361.2,598.9ZM1709.9,667.6L1713.0,655.7L1701.1,652.6L1698.1,664.5ZM1403.0,585.3L1406.3,573.5L1394.5,570.3L1391.3,582.0ZM1453.2,586.6L1456.5,574.8L1444.7,571.6L1441.5,583.3ZM1441.5,583.3L1444.7,571.6L1433.0,568.3L1429.7,580.1ZM1429.7,580.1L1433.0,568.3L1421.3,565.1L1418.0,576.8ZM1527.0,594.1L1530.2,582.3L1518.4,579.1L1515.3,590.9ZM1639.9,548.3L1643.0,536.6L1631.3,533.5L1628.2,545.3ZM1654.8,539.6L1657.8,527.9L1646.1,524.8L1643.0,536.6ZM1669.6,530.9L1672.6,519.1L1660.9,516.1L1657.8,527.9ZM1684.4,522.2L1687.4,510.4L1675.7,507.4L1672.6,519.1ZM1713.9,504.7L1717.0,493.0L1705.2,490.0L1702.2,501.7Z" fill="#0080ff" stroke="#0080ff" stroke-width="0.9"/>
<path d="M1592.5,777.0L1595.7,765.1L1583.8,761.9L1580.6,773.8ZM1442.3,672.5L1445.6,660.6L1433.8,657.4L1430.5,669.2ZM1430.5,669.2L1433.8,657.4L1422.0,654.1L1418.7,665.9ZM1339.6,630.9L1342.9,619.1L1331.1,615.8L1327.8,627.6ZM1354.6,622.5L1357.9,610.7L1346.2,607.4L1342.9,619.1ZM1379.5,578.7L1382.8,567.0L1371.1,563.7L1367.8,575.4ZM1406.3,573.5L1409.5,561.8L1397.8,558.5L1394.5,570.3ZM1480.0,581.2L1483.2,569.5L1471.4,566.3L1468.2,578.0ZM1468.2,578.0L1471.4,566.3L1459.7,563.0L1456.5,574.8ZM1571.8,568.1L1574.9,556.4L1563.2,553.2L1560.0,565.0Z" fill="#006bff" stroke="#006bff" stroke-width="0.9"/>
<path d="M1580.6,773.8L1583.8,761.9L1571.8,758.7L1568.7,770.7ZM1444.3,711.3L1447.6,699.5L1435.8,696.2L1432.5,708.0ZM1533.8,710.2L1537.0,698.4L1525.2,695.2L1522.0,707.0ZM1391.8,671.1L1395.1,659.3L1383.3,656.0L1380.0,667.8ZM1357.9,610.7L1361.2,598.9L1349.5,595.6L1346.2,607.4ZM1361.2,598.9L1364.5,587.2L1352.8,583.9L1349.5,595.6ZM1394.5,570.3L1397.8,558.5L1386.1,555.3L1382.8,567.0ZM1456.5,574.8L1459.7,563.0L1448.0,559.8L1444.7,571.6ZM1444.7,571.6L1448.0,559.8L1436.2,556.6L1433.0,568.3ZM1433.0,568.3L1436.2,556.6L1424.5,553.3L1421.3,565.1ZM1586.7,559.5L1589.8,547.7L1578.1,544.6L1574.9,556.4ZM1717.0,493.0L1720.0,481.2L1708.3,478.2L1705.2,490.0Z" fill="#0061ff" stroke="#0061ff" stroke-width="0.9"/>
<path d="M1568.7,770.7L1571.8,758.7L1559.9,755.6L1556.7,767.5ZM1400.3,686.3L1403.6,674.5L1391.8,671.1L1388.5,683.0ZM1557.6,716.6L1560.7,704.7L1548.9,701.5L1545.7,713.4ZM1572.6,707.9L1575.8,696.0L1563.9,692.8L1560.7,704.7ZM1706.9,679.5L1709.9,667.6L1698.1,664.5L1695.0,676.4ZM1344.4,568.8L1347.7,557.1L1336.0,553.8L1332.7,565.5ZM1362.7,548.7L1366.0,537.0L1354.3,533.7L1351.0,545.4ZM1377.7,540.2L1380.9,528.5L1369.2,525.2L1366.0,537.0ZM1474.6,554.5L1477.8,542.7L1466.1,539.5L1462.9,551.3ZM1462.9,551.3L1466.1,539.5L1454.4,536.3L1451.2,548.0ZM1439.5,544.8L1442.7,533.1L1431.0,529.8L1427.7,541.6ZM1427.7,541.6L1431.0,529.8L1419.3,526.6L1416.0,538.3ZM1416.0,538.3L1419.3,526.6L1407.6,523.3L1404.3,535.1ZM1404.3,535.1L1407.6,523.3L1395.9,520.1L1392.6,531.8ZM1536.5,558.7L1539.7,546.9L1527.9,543.7L1524.8,555.5ZM1578.1,544.6L1581.2,532.8L1569.4,529.7L1566.3,541.4ZM1604.7,539.1L1607.8,527.3L1596.0,524.2L1592.9,535.9ZM1678.7,495.6L1681.8,483.9L1670.1,480.8L1667.0,492.6Z" fill="#000fff" stroke="#000fff" stroke-width="0.9"/>
<path d="M1378.6,718.5L1381.9,706.6L1370.1,703.3L1366.7,715.1ZM1542.5,725.3L1545.7,713.4L1533.8,710.2L1530.6,722.1ZM1447.6,699.5L1450.9,687.6L1439.1,684.3L1435.8,696.2ZM1439.1,684.3L1442.3,672.5L1430.5,669.2L1427.2,681.0ZM1427.2,681.0L1430.5,669.2L1418.7,665.9L1415.4,677.8ZM1415.4,677.8L1418.7,665.9L1406.9,662.6L1403.6,674.5ZM1587.6,699.2L1590.8,687.3L1578.9,684.1L1575.8,696.0ZM1602.7,690.4L1605.8,678.5L1593.9,675.4L1590.8,687.3ZM1337.8,592.3L1341.1,580.6L1329.4,577.2L1326.1,589.0ZM1341.1,580.6L1344.4,568.8L1332.7,565.5L1329.4,577.2ZM1374.4,552.0L1377.7,540.2L1366.0,537.0L1362.7,548.7ZM1389.4,543.5L1392.6,531.8L1380.9,528.5L1377.7,540.2ZM1451.2,548.0L1454.4,536.3L1442.7,533.1L1439.5,544.8ZM1563.2,553.2L1566.3,541.4L1554.6,538.3L1551.4,550.1ZM1631.3,533.5L1634.4,521.7L1622.6,518.6L1619.5,530.4ZM1646.1,524.8L1649.2,513.0L1637.4,509.9L1634.4,521.7Z" fill="#0019ff" stroke="#0019ff" stroke-width="0.9"/>
<path d="M1366.7,715.1L1370.1,703.3L1358.2,700.0L1354.9,711.8ZM1537.0,698.4L1540.2,686.5L1528.4,683.3L1525.2,695.2ZM1552.1,689.7L1555.2,677.8L1543.4,674.6L1540.2,686.5ZM1376.3,590.5L1379.5,578.7L1367.8,575.4L1364.5,587.2ZM1391.3,582.0L1394.5,570.3L1382.8,567.0L1379.5,578.7ZM1418.0,576.8L1421.3,565.1L1409.5,561.8L1406.3,573.5ZM1515.3,590.9L1518.4,579.1L1506.7,575.9L1503.5,587.7ZM1503.5,587.7L1506.7,575.9L1494.9,572.7L1491.7,584.5ZM1491.7,584.5L1494.9,572.7L1483.2,569.5L1480.0,581.2ZM1542.0,585.4L1545.1,573.6L1533.4,570.5L1530.2,582.3ZM1556.9,576.8L1560.0,565.0L1548.3,561.8L1545.1,573.6ZM1613.3,553.9L1616.4,542.2L1604.7,539.1L1601.6,550.8ZM1699.2,513.5L1702.2,501.7L1690.5,498.7L1687.4,510.4Z" fill="#0075ff" stroke="#0075ff" stroke-width="0.9"/>
<path d="M1536.1,749.2L1539.3,737.2L1527.4,734.0L1524.2,745.9ZM1539.3,737.2L1542.5,725.3L1530.6,722.1L1527.4,734.0ZM1569.5,719.8L1572.6,707.9L1560.7,704.7L1557.6,716.6ZM1584.5,711.1L1587.6,699.2L1575.8,696.0L1572.6,707.9ZM1336.0,553.8L1339.3,542.1L1327.6,538.8L1324.3,550.5ZM1339.3,542.1L1342.6,530.4L1330.9,527.1L1327.6,538.8ZM1354.3,533.7L1357.6,522.0L1345.9,518.7L1342.6,530.4ZM1369.2,525.2L1372.5,513.5L1360.8,510.3L1357.6,522.0ZM1466.1,539.5L1469.3,527.8L1457.6,524.6L1454.4,536.3ZM1454.4,536.3L1457.6,524.6L1445.9,521.3L1442.7,533.1ZM1442.7,533.1L1445.9,521.3L1434.2,518.1L1431.0,529.8ZM1419.3,526.6L1422.5,514.9L1410.8,511.6L1407.6,523.3ZM1407.6,523.3L1410.8,511.6L1399.1,508.4L1395.9,520.1ZM1395.9,520.1L1399.1,508.4L1387.4,505.1L1384.2,516.8ZM1566.3,541.4L1569.4,529.7L1557.7,526.5L1554.6,538.3ZM1581.2,532.8L1584.3,521.1L1572.6,517.9L1569.4,529.7ZM1607.8,527.3L1610.9,515.5L1599.1,512.4L1596.0,524.2ZM1667.0,492.6L1670.1,480.8L1658.4,477.8L1655.3,489.5Z" fill="#0000fa" stroke="#0000fa" stroke-width="0.9"/>
<path d="M1500.4,739.5L1503.7,727.6L1491.8,724.4L1488.5,736.2ZM1513.3,691.9L1516.5,680.1L1504.7,676.9L1501.5,688.7ZM1516.5,680.1L1519.7,668.2L1507.9,665.0L1504.7,676.9ZM1437.0,645.6L1440.3,633.7L1428.5,630.5L1425.2,642.3ZM1558.4,665.9L1561.6,654.1L1549.7,650.9L1546.6,662.7ZM1440.3,633.7L1443.5,621.9L1431.8,618.7L1428.5,630.5ZM1608.9,666.7L1612.0,654.8L1600.2,651.7L1597.1,663.5ZM1514.3,641.3L1517.5,629.5L1505.7,626.3L1502.5,638.1ZM1502.5,638.1L1505.7,626.3L1493.9,623.1L1490.7,634.9ZM1532.5,620.9L1535.6,609.0L1523.8,605.9L1520.7,617.7ZM1550.6,600.4L1553.7,588.6L1542.0,585.4L1538.8,597.2ZM1737.4,510.8L1740.4,499.0L1728.7,496.0L1725.7,507.8Z" fill="#00d1ff" stroke="#00d1ff" stroke-width="0.9"/>
<path d="M1393.7,710.0L1397.0,698.1L1385.2,694.8L1381.9,706.6ZM1397.0,698.1L1400.3,686.3L1388.5,683.0L1385.2,694.8ZM1599.5,702.3L1602.7,690.4L1590.8,687.3L1587.6,699.2ZM1329.4,577.2L1332.7,565.5L1321.0,562.2L1317.7,573.9ZM1332.7,565.5L1336.0,553.8L1324.3,550.5L1321.0,562.2ZM1347.7,557.1L1351.0,545.4L1339.3,542.1L1336.0,553.8ZM1351.0,545.4L1354.3,533.7L1342.6,530.4L1339.3,542.1ZM1366.0,537.0L1369.2,525.2L1357.6,522.0L1354.3,533.7ZM1392.6,531.8L1395.9,520.1L1384.2,516.8L1380.9,528.5ZM1380.9,528.5L1384.2,516.8L1372.5,513.5L1369.2,525.2ZM1524.8,555.5L1527.9,543.7L1516.2,540.6L1513.0,552.3ZM1431.0,529.8L1434.2,518.1L1422.5,514.9L1419.3,526.6ZM1551.4,550.1L1554.6,538.3L1542.8,535.1L1539.7,546.9ZM1592.9,535.9L1596.0,524.2L1584.3,521.1L1581.2,532.8ZM1619.5,530.4L1622.6,518.6L1610.9,515.5L1607.8,527.3ZM1634.4,521.7L1637.4,509.9L1625.7,506.9L1622.6,518.6ZM1649.2,513.0L1652.2,501.3L1640.5,498.2L1637.4,509.9ZM1664.0,504.3L1667.0,492.6L1655.3,489.5L1652.2,501.3Z" fill="#0005ff" stroke="#0005ff" stroke-width="0.9"/>
<path d="M1381.9,706.6L1385.2,694.8L1373.4,691.5L1370.1,703.3ZM1527.4,734.0L1530.6,722.1L1518.7,718.9L1515.5,730.8ZM1545.7,713.4L1548.9,701.5L1537.0,698.4L1533.8,710.2ZM1403.6,674.5L1406.9,662.6L1395.1,659.3L1391.8,671.1ZM1590.8,687.3L1593.9,675.4L1582.1,672.3L1578.9,684.1ZM1349.5,595.6L1352.8,583.9L1341.1,580.6L1337.8,592.3ZM1647.6,664.1L1650.7,652.2L1638.8,649.1L1635.7,661.0ZM1352.8,583.9L1356.1,572.1L1344.4,568.8L1341.1,580.6ZM1371.1,563.7L1374.4,552.0L1362.7,548.7L1359.4,560.4ZM1459.7,563.0L1462.9,551.3L1451.2,548.0L1448.0,559.8ZM1448.0,559.8L1451.2,548.0L1439.5,544.8L1436.2,556.6ZM1436.2,556.6L1439.5,544.8L1427.7,541.6L1424.5,553.3ZM1574.9,556.4L1578.1,544.6L1566.3,541.4L1563.2,553.2ZM1601.6,550.8L1604.7,539.1L1592.9,535.9L1589.8,547.7Z" fill="#0038ff" stroke="#0038ff" stroke-width="0.9"/>
<path d="M1346.4,696.6L1349.8,684.8L1338.0,681.4L1334.6,693.3ZM1638.8,649.1L1641.9,637.3L1630.1,634.2L1627.0,646.0ZM1690.1,548.8L1693.1,537.0L1681.3,534.0L1678.3,545.8ZM1810.9,516.8L1813.9,505.1L1802.1,502.1L1799.2,513.9Z" fill="#94ff6b" stroke="#94ff6b" stroke-width="0.9"/>
<path d="M1515.5,730.8L1518.7,718.9L1506.9,715.7L1503.7,727.6ZM1518.7,718.9L1522.0,707.0L1510.1,703.8L1506.9,715.7ZM1351.3,634.3L1354.6,622.5L1342.9,619.1L1339.6,630.9ZM1366.4,625.8L1369.7,614.0L1357.9,610.7L1354.6,622.5ZM1593.9,675.4L1597.1,663.5L1585.2,660.4L1582.1,672.3ZM1388.0,593.8L1391.3,582.0L1379.5,578.7L1376.3,590.5ZM1674.4,658.4L1677.4,646.5L1665.6,643.5L1662.5,655.3ZM1414.8,588.6L1418.0,576.8L1406.3,573.5L1403.0,585.3ZM1476.8,593.0L1480.0,581.2L1468.2,578.0L1465.0,589.8ZM1465.0,589.8L1468.2,578.0L1456.5,574.8L1453.2,586.6ZM1728.7,496.0L1731.7,484.2L1720.0,481.2L1717.0,493.0Z" fill="#008aff" stroke="#008aff" stroke-width="0.9"/>
<path d="M1503.7,727.6L1506.9,715.7L1495.0,712.5L1491.8,724.4ZM1506.9,715.7L1510.1,703.8L1498.2,700.6L1495.0,712.5ZM1507.9,665.0L1511.1,653.2L1499.3,649.9L1496.1,661.8ZM1534.7,659.6L1537.9,647.7L1526.1,644.5L1522.9,656.4ZM1522.9,656.4L1526.1,644.5L1514.3,641.3L1511.1,653.2ZM1487.5,646.7L1490.7,634.9L1478.9,631.7L1475.7,643.5ZM1475.7,643.5L1478.9,631.7L1467.1,628.4L1463.9,640.3ZM1463.9,640.3L1467.1,628.4L1455.3,625.2L1452.1,637.0ZM1526.1,644.5L1529.3,632.7L1517.5,629.5L1514.3,641.3ZM1701.1,652.6L1704.2,640.8L1692.3,637.7L1689.3,649.6ZM1547.4,612.2L1550.6,600.4L1538.8,597.2L1535.6,609.0ZM1610.2,565.7L1613.3,553.9L1601.6,550.8L1598.5,562.6ZM1651.7,551.4L1654.8,539.6L1643.0,536.6L1639.9,548.3ZM1722.7,519.5L1725.7,507.8L1713.9,504.7L1710.9,516.5Z" fill="#00e5ff" stroke="#00e5ff" stroke-width="0.9"/>
<path d="M1479.9,721.1L1483.2,709.2L1471.3,706.0L1468.1,717.9ZM1486.4,697.4L1489.6,685.5L1477.8,682.3L1474.5,694.1ZM1474.5,694.1L1477.8,682.3L1466.0,679.0L1462.7,690.9ZM1665.6,643.5L1668.7,631.6L1656.8,628.5L1653.8,640.4ZM1633.8,571.9L1636.9,560.1L1625.1,557.0L1622.0,568.8ZM1769.7,531.5L1772.7,519.7L1760.9,516.8L1757.9,528.5Z" fill="#b3ff4c" stroke="#b3ff4c" stroke-width="0.9"/>
<path d="M1468.1,717.9L1471.3,706.0L1459.5,702.7L1456.2,714.6ZM1349.8,684.8L1353.1,673.0L1341.3,669.6L1338.0,681.4ZM1612.0,654.8L1615.2,642.9L1603.3,639.8L1600.2,651.7ZM1576.5,645.4L1579.7,633.5L1567.9,630.4L1564.7,642.2ZM1704.9,540.1L1707.9,528.3L1696.1,525.2L1693.1,537.0ZM1757.9,528.5L1760.9,516.8L1749.2,513.8L1746.2,525.5ZM1799.2,513.9L1802.1,502.1L1790.4,499.2L1787.4,510.9Z" fill="#80ff80" stroke="#80ff80" stroke-width="0.9"/>
<path d="M1385.2,694.8L1388.5,683.0L1376.7,679.6L1373.4,691.5ZM1346.2,607.4L1349.5,595.6L1337.8,592.3L1334.5,604.1ZM1632.6,672.9L1635.7,661.0L1623.9,657.9L1620.8,669.8ZM1397.8,558.5L1401.1,546.8L1389.4,543.5L1386.1,555.3ZM1471.4,566.3L1474.6,554.5L1462.9,551.3L1459.7,563.0ZM1560.0,565.0L1563.2,553.2L1551.4,550.1L1548.3,561.8ZM1643.0,536.6L1646.1,524.8L1634.4,521.7L1631.3,533.5ZM1657.8,527.9L1660.9,516.1L1649.2,513.0L1646.1,524.8Z" fill="#0042ff" stroke="#0042ff" stroke-width="0.9"/>
<path d="M1530.6,722.1L1533.8,710.2L1522.0,707.0L1518.7,718.9ZM1388.5,683.0L1391.8,671.1L1380.0,667.8L1376.7,679.6ZM1563.9,692.8L1567.1,681.0L1555.2,677.8L1552.1,689.7ZM1342.9,619.1L1346.2,607.4L1334.5,604.1L1331.1,615.8ZM1605.8,678.5L1608.9,666.7L1597.1,663.5L1593.9,675.4ZM1382.8,567.0L1386.1,555.3L1374.4,552.0L1371.1,563.7ZM1409.5,561.8L1412.8,550.1L1401.1,546.8L1397.8,558.5ZM1518.4,579.1L1521.6,567.3L1509.9,564.1L1506.7,575.9ZM1506.7,575.9L1509.9,564.1L1498.1,560.9L1494.9,572.7ZM1494.9,572.7L1498.1,560.9L1486.4,557.7L1483.2,569.5ZM1483.2,569.5L1486.4,557.7L1474.6,554.5L1471.4,566.3ZM1545.1,573.6L1548.3,561.8L1536.5,558.7L1533.4,570.5ZM1628.2,545.3L1631.3,533.5L1619.5,530.4L1616.4,542.2ZM1672.6,519.1L1675.7,507.4L1664.0,504.3L1660.9,516.1ZM1687.4,510.4L1690.5,498.7L1678.7,495.6L1675.7,507.4Z" fill="#004dff" stroke="#004dff" stroke-width="0.9"/>
<path d="M1483.2,709.2L1486.4,697.4L1474.5,694.1L1471.3,706.0ZM1579.7,633.5L1582.8,621.7L1571.0,618.5L1567.9,630.4ZM1675.2,557.6L1678.3,545.8L1666.5,542.7L1663.5,554.5ZM1743.2,537.3L1746.2,525.5L1734.4,522.5L1731.4,534.3ZM1808.0,528.6L1810.9,516.8L1799.2,513.9L1796.2,525.7Z" fill="#bdff42" stroke="#bdff42" stroke-width="0.9"/>
<path d="M1471.3,706.0L1474.5,694.1L1462.7,690.9L1459.5,702.7ZM1796.2,525.7L1799.2,513.9L1787.4,510.9L1784.4,522.7Z" fill="#a8ff57" stroke="#a8ff57" stroke-width="0.9"/>
<path d="M1412.1,689.6L1415.4,677.8L1403.6,674.5L1400.3,686.3ZM1596.4,714.2L1599.5,702.3L1587.6,699.2L1584.5,711.1ZM1614.5,693.6L1617.7,681.7L1605.8,678.5L1602.7,690.4ZM1629.5,684.8L1632.6,672.9L1620.8,669.8L1617.7,681.7ZM1644.5,676.0L1647.6,664.1L1635.7,661.0L1632.6,672.9ZM1324.3,550.5L1327.6,538.8L1315.9,535.4L1312.6,547.1ZM1327.6,538.8L1330.9,527.1L1319.2,523.7L1315.9,535.4ZM1342.6,530.4L1345.9,518.7L1334.2,515.4L1330.9,527.1ZM1330.9,527.1L1334.2,515.4L1322.5,512.1L1319.2,523.7ZM1319.2,523.7L1322.5,512.1L1310.9,508.7L1307.6,520.4ZM1357.6,522.0L1360.8,510.3L1349.2,507.0L1345.9,518.7ZM1345.9,518.7L1349.2,507.0L1337.5,503.7L1334.2,515.4ZM1384.2,516.8L1387.4,505.1L1375.8,501.9L1372.5,513.5ZM1372.5,513.5L1375.8,501.9L1364.1,498.6L1360.8,510.3ZM1539.7,546.9L1542.8,535.1L1531.1,532.0L1527.9,543.7ZM1457.6,524.6L1460.8,512.8L1449.1,509.6L1445.9,521.3ZM1445.9,521.3L1449.1,509.6L1437.4,506.4L1434.2,518.1ZM1434.2,518.1L1437.4,506.4L1425.7,503.2L1422.5,514.9ZM1422.5,514.9L1425.7,503.2L1414.1,499.9L1410.8,511.6ZM1410.8,511.6L1414.1,499.9L1402.4,496.7L1399.1,508.4ZM1569.4,529.7L1572.6,517.9L1560.9,514.8L1557.7,526.5ZM1596.0,524.2L1599.1,512.4L1587.4,509.3L1584.3,521.1ZM1622.6,518.6L1625.7,506.9L1614.0,503.8L1610.9,515.5ZM1652.2,501.3L1655.3,489.5L1643.6,486.5L1640.5,498.2Z" fill="#0000f0" stroke="#0000f0" stroke-width="0.9"/>
<path d="M1376.7,679.6L1380.0,667.8L1368.2,664.5L1364.9,676.3ZM1522.0,707.0L1525.2,695.2L1513.3,691.9L1510.1,703.8ZM1380.0,667.8L1383.3,656.0L1371.5,652.7L1368.2,664.5ZM1406.9,662.6L1410.2,650.8L1398.4,647.5L1395.1,659.3ZM1395.1,659.3L1398.4,647.5L1386.6,644.2L1383.3,656.0ZM1540.2,686.5L1543.4,674.6L1531.5,671.4L1528.4,683.3ZM1555.2,677.8L1558.4,665.9L1546.6,662.7L1543.4,674.6ZM1620.8,669.8L1623.9,657.9L1612.0,654.8L1608.9,666.7ZM1384.7,605.6L1388.0,593.8L1376.3,590.5L1373.0,602.3ZM1399.7,597.1L1403.0,585.3L1391.3,582.0L1388.0,593.8ZM1438.3,595.1L1441.5,583.3L1429.7,580.1L1426.5,591.8ZM1426.5,591.8L1429.7,580.1L1418.0,576.8L1414.8,588.6ZM1512.1,602.7L1515.3,590.9L1503.5,587.7L1500.3,599.5ZM1500.3,599.5L1503.5,587.7L1491.7,584.5L1488.5,596.3ZM1488.5,596.3L1491.7,584.5L1480.0,581.2L1476.8,593.0ZM1598.5,562.6L1601.6,550.8L1589.8,547.7L1586.7,559.5Z" fill="#0094ff" stroke="#0094ff" stroke-width="0.9"/>
<path d="M1364.9,676.3L1368.2,664.5L1356.4,661.2L1353.1,673.0ZM1356.4,661.2L1359.8,649.4L1348.0,646.0L1344.7,657.8ZM1344.7,657.8L1348.0,646.0L1336.2,642.7L1332.9,654.5ZM1504.7,676.9L1507.9,665.0L1496.1,661.8L1492.8,673.6ZM1457.4,663.9L1460.6,652.1L1448.8,648.8L1445.6,660.6ZM1537.9,647.7L1541.1,635.9L1529.3,632.7L1526.1,644.5ZM1718.8,682.5L1721.8,670.6L1709.9,667.6L1706.9,679.5ZM1565.5,591.7L1568.7,579.9L1556.9,576.8L1553.7,588.6Z" fill="#00f0ff" stroke="#00f0ff" stroke-width="0.9"/>
<path d="M1450.9,687.6L1454.1,675.8L1442.3,672.5L1439.1,684.3ZM1548.9,701.5L1552.1,689.7L1540.2,686.5L1537.0,698.4ZM1578.9,684.1L1582.1,672.3L1570.2,669.1L1567.1,681.0ZM1364.5,587.2L1367.8,575.4L1356.1,572.1L1352.8,583.9ZM1367.8,575.4L1371.1,563.7L1359.4,560.4L1356.1,572.1ZM1421.3,565.1L1424.5,553.3L1412.8,550.1L1409.5,561.8ZM1530.2,582.3L1533.4,570.5L1521.6,567.3L1518.4,579.1ZM1702.2,501.7L1705.2,490.0L1693.5,486.9L1690.5,498.7Z" fill="#0057ff" stroke="#0057ff" stroke-width="0.9"/>
<path d="M1560.7,704.7L1563.9,692.8L1552.1,689.7L1548.9,701.5ZM1575.8,696.0L1578.9,684.1L1567.1,681.0L1563.9,692.8ZM1356.1,572.1L1359.4,560.4L1347.7,557.1L1344.4,568.8ZM1386.1,555.3L1389.4,543.5L1377.7,540.2L1374.4,552.0ZM1424.5,553.3L1427.7,541.6L1416.0,538.3L1412.8,550.1ZM1412.8,550.1L1416.0,538.3L1404.3,535.1L1401.1,546.8ZM1533.4,570.5L1536.5,558.7L1524.8,555.5L1521.6,567.3ZM1616.4,542.2L1619.5,530.4L1607.8,527.3L1604.7,539.1ZM1675.7,507.4L1678.7,495.6L1667.0,492.6L1664.0,504.3ZM1690.5,498.7L1693.5,486.9L1681.8,483.9L1678.7,495.6Z" fill="#002eff" stroke="#002eff" stroke-width="0.9"/>
<path d="M1525.2,695.2L1528.4,683.3L1516.5,680.1L1513.3,691.9ZM1454.1,675.8L1457.4,663.9L1445.6,660.6L1442.3,672.5ZM1383.3,656.0L1386.6,644.2L1374.8,640.9L1371.5,652.7ZM1363.1,637.6L1366.4,625.8L1354.6,622.5L1351.3,634.3ZM1378.1,629.1L1381.4,617.3L1369.7,614.0L1366.4,625.8ZM1381.4,617.3L1384.7,605.6L1373.0,602.3L1369.7,614.0ZM1396.5,608.8L1399.7,597.1L1388.0,593.8L1384.7,605.6ZM1423.2,603.6L1426.5,591.8L1414.8,588.6L1411.5,600.4ZM1411.5,600.4L1414.8,588.6L1403.0,585.3L1399.7,597.1ZM1461.8,601.6L1465.0,589.8L1453.2,586.6L1450.0,598.4ZM1450.0,598.4L1453.2,586.6L1441.5,583.3L1438.3,595.1ZM1523.8,605.9L1527.0,594.1L1515.3,590.9L1512.1,602.7ZM1538.8,597.2L1542.0,585.4L1530.2,582.3L1527.0,594.1Z" fill="#009eff" stroke="#009eff" stroke-width="0.9"/>
<path d="M1477.8,682.3L1481.0,670.4L1469.2,667.2L1466.0,679.0ZM1648.6,563.2L1651.7,551.4L1639.9,548.3L1636.9,560.1ZM1731.4,534.3L1734.4,522.5L1722.7,519.5L1719.7,531.3ZM1784.4,522.7L1787.4,510.9L1775.7,508.0L1772.7,519.7Z" fill="#8aff75" stroke="#8aff75" stroke-width="0.9"/>
<path d="M1359.8,649.4L1363.1,637.6L1351.3,634.3L1348.0,646.0ZM1413.5,639.0L1416.7,627.2L1405.0,623.9L1401.7,635.7ZM1428.5,630.5L1431.8,618.7L1420.0,615.4L1416.7,627.2ZM1416.7,627.2L1420.0,615.4L1408.2,612.1L1405.0,623.9ZM1443.5,621.9L1446.8,610.1L1435.0,606.9L1431.8,618.7ZM1505.7,626.3L1508.9,614.5L1497.1,611.3L1493.9,623.1ZM1520.7,617.7L1523.8,605.9L1512.1,602.7L1508.9,614.5ZM1535.6,609.0L1538.8,597.2L1527.0,594.1L1523.8,605.9ZM1625.1,557.0L1628.2,545.3L1616.4,542.2L1613.3,553.9ZM1666.5,542.7L1669.6,530.9L1657.8,527.9L1654.8,539.6Z" fill="#00bdff" stroke="#00bdff" stroke-width="0.9"/>
<path d="M1611.4,705.5L1614.5,693.6L1602.7,690.4L1599.5,702.3ZM1334.2,515.4L1337.5,503.7L1325.8,500.4L1322.5,512.1ZM1322.5,512.1L1325.8,500.4L1314.2,497.1L1310.9,508.7ZM1360.8,510.3L1364.1,498.6L1352.4,495.3L1349.2,507.0ZM1399.1,508.4L1402.4,496.7L1390.7,493.4L1387.4,505.1ZM1554.6,538.3L1557.7,526.5L1546.0,523.4L1542.8,535.1ZM1584.3,521.1L1587.4,509.3L1575.7,506.2L1572.6,517.9ZM1637.4,509.9L1640.5,498.2L1628.8,495.1L1625.7,506.9Z" fill="#0000e6" stroke="#0000e6" stroke-width="0.9"/>
<path d="M1528.4,683.3L1531.5,671.4L1519.7,668.2L1516.5,680.1ZM1386.6,644.2L1389.9,632.4L1378.1,629.1L1374.8,640.9ZM1389.9,632.4L1393.2,620.6L1381.4,617.3L1378.1,629.1ZM1582.1,672.3L1585.2,660.4L1573.4,657.2L1570.2,669.1ZM1393.2,620.6L1396.5,608.8L1384.7,605.6L1381.4,617.3ZM1420.0,615.4L1423.2,603.6L1411.5,600.4L1408.2,612.1ZM1408.2,612.1L1411.5,600.4L1399.7,597.1L1396.5,608.8ZM1435.0,606.9L1438.3,595.1L1426.5,591.8L1423.2,603.6ZM1508.9,614.5L1512.1,602.7L1500.3,599.5L1497.1,611.3ZM1497.1,611.3L1500.3,599.5L1488.5,596.3L1485.3,608.1ZM1485.3,608.1L1488.5,596.3L1476.8,593.0L1473.5,604.8ZM1473.5,604.8L1476.8,593.0L1465.0,589.8L1461.8,601.6ZM1553.7,588.6L1556.9,576.8L1545.1,573.6L1542.0,585.4ZM1568.7,579.9L1571.8,568.1L1560.0,565.0L1556.9,576.8ZM1710.9,516.5L1713.9,504.7L1702.2,501.7L1699.2,513.5ZM1725.7,507.8L1728.7,496.0L1717.0,493.0L1713.9,504.7Z" fill="#00a8ff" stroke="#00a8ff" stroke-width="0.9"/>
<path d="M1617.7,681.7L1620.8,669.8L1608.9,666.7L1605.8,678.5ZM1334.5,604.1L1337.8,592.3L1326.1,589.0L1322.7,600.7ZM1359.4,560.4L1362.7,548.7L1351.0,545.4L1347.7,557.1ZM1401.1,546.8L1404.3,535.1L1392.6,531.8L1389.4,543.5ZM1521.6,567.3L1524.8,555.5L1513.0,552.3L1509.9,564.1ZM1509.9,564.1L1513.0,552.3L1501.3,549.1L1498.1,560.9ZM1498.1,560.9L1501.3,549.1L1489.6,545.9L1486.4,557.7ZM1486.4,557.7L1489.6,545.9L1477.8,542.7L1474.6,554.5ZM1548.3,561.8L1551.4,550.1L1539.7,546.9L1536.5,558.7ZM1589.8,547.7L1592.9,535.9L1581.2,532.8L1578.1,544.6ZM1660.9,516.1L1664.0,504.3L1652.2,501.3L1649.2,513.0Z" fill="#0024ff" stroke="#0024ff" stroke-width="0.9"/>
<path d="M1600.2,651.7L1603.3,639.8L1591.5,636.7L1588.4,648.5ZM1588.4,648.5L1591.5,636.7L1579.7,633.5L1576.5,645.4ZM1704.2,640.8L1707.2,628.9L1695.4,625.9L1692.3,637.7Z" fill="#9eff61" stroke="#9eff61" stroke-width="0.9"/>
<path d="M1627.0,646.0L1630.1,634.2L1618.3,631.1L1615.2,642.9ZM1591.5,636.7L1594.6,624.8L1582.8,621.7L1579.7,633.5ZM1660.4,566.3L1663.5,554.5L1651.7,551.4L1648.6,563.2ZM1701.8,551.9L1704.9,540.1L1693.1,537.0L1690.1,548.8Z" fill="#fffa00" stroke="#fffa00" stroke-width="0.9"/>
<path d="M1615.2,642.9L1618.3,631.1L1606.5,628.0L1603.3,639.8ZM1603.3,639.8L1606.5,628.0L1594.6,624.8L1591.5,636.7ZM1645.6,575.0L1648.6,563.2L1636.9,560.1L1633.8,571.9Z" fill="#ffd100" stroke="#ffd100" stroke-width="0.9"/>
<path d="M1653.8,640.4L1656.8,628.5L1645.0,625.4L1641.9,637.3ZM1680.5,634.7L1683.6,622.8L1671.7,619.7L1668.7,631.6ZM1687.0,560.6L1690.1,548.8L1678.3,545.8L1675.2,557.6ZM1802.1,552.2L1805.0,540.4L1793.2,537.5L1790.3,549.3Z" fill="#ffdb00" stroke="#ffdb00" stroke-width="0.9"/>
<path d="M1641.9,637.3L1645.0,625.4L1633.2,622.3L1630.1,634.2ZM1600.9,601.2L1604.0,589.3L1592.2,586.2L1589.1,598.0ZM1787.3,561.1L1790.3,549.3L1778.5,546.3L1775.5,558.1ZM1775.5,558.1L1778.5,546.3L1766.7,543.3L1763.7,555.1ZM1763.7,555.1L1766.7,543.3L1754.9,540.3L1752.0,552.1ZM1752.0,552.1L1754.9,540.3L1743.2,537.3L1740.2,549.1Z" fill="#ff9e00" stroke="#ff9e00" stroke-width="0.9"/>
<path d="M1630.1,634.2L1633.2,622.3L1621.4,619.2L1618.3,631.1ZM1606.5,628.0L1609.6,616.1L1597.8,613.0L1594.6,624.8ZM1796.1,575.9L1799.1,564.0L1787.3,561.1L1784.3,572.9Z" fill="#ff6b00" stroke="#ff6b00" stroke-width="0.9"/>
<path d="M1618.3,631.1L1621.4,619.2L1609.6,616.1L1606.5,628.0ZM1656.8,628.5L1659.9,616.7L1648.1,613.6L1645.0,625.4ZM1642.5,586.8L1645.6,575.0L1633.8,571.9L1630.7,583.7ZM1772.5,569.9L1775.5,558.1L1763.7,555.1L1760.7,566.9ZM1737.2,560.9L1740.2,549.1L1728.4,546.1L1725.4,557.9Z" fill="#ff5700" stroke="#ff5700" stroke-width="0.9"/>
<path d="M1594.6,624.8L1597.8,613.0L1586.0,609.9L1582.8,621.7Z" fill="#ffbd00" stroke="#ffbd00" stroke-width="0.9"/>
<path d="M1582.8,621.7L1586.0,609.9L1574.2,606.7L1571.0,618.5ZM1589.1,598.0L1592.2,586.2L1580.4,583.1L1577.3,594.9ZM1618.9,580.6L1622.0,568.8L1610.2,565.7L1607.1,577.5ZM1793.2,537.5L1796.2,525.7L1784.4,522.7L1781.5,534.5Z" fill="#dbff24" stroke="#dbff24" stroke-width="0.9"/>
<path d="M1571.0,618.5L1574.2,606.7L1562.4,603.6L1559.2,615.4ZM1574.2,606.7L1577.3,594.9L1565.5,591.7L1562.4,603.6ZM1592.2,586.2L1595.3,574.4L1583.6,571.3L1580.4,583.1Z" fill="#75ff8a" stroke="#75ff8a" stroke-width="0.9"/>
<path d="M1692.3,637.7L1695.4,625.9L1683.6,622.8L1680.5,634.7ZM1716.6,543.1L1719.7,531.3L1707.9,528.3L1704.9,540.1Z" fill="#d1ff2e" stroke="#d1ff2e" stroke-width="0.9"/>
<path d="M1668.7,631.6L1671.7,619.7L1659.9,616.7L1656.8,628.5ZM1597.8,613.0L1600.9,601.2L1589.1,598.0L1586.0,609.9ZM1695.4,625.9L1698.4,614.0L1686.6,611.0L1683.6,622.8ZM1672.2,569.4L1675.2,557.6L1663.5,554.5L1660.4,566.3Z" fill="#ff9400" stroke="#ff9400" stroke-width="0.9"/>
<path d="M1645.0,625.4L1648.1,613.6L1636.3,610.5L1633.2,622.3ZM1671.7,619.7L1674.8,607.9L1663.0,604.8L1659.9,616.7ZM1698.4,614.0L1701.5,602.2L1689.7,599.1L1686.6,611.0ZM1778.4,596.6L1781.4,584.7L1769.5,581.7L1766.6,593.6ZM1769.5,581.7L1772.5,569.9L1760.7,566.9L1757.7,578.7ZM1722.4,569.7L1725.4,557.9L1713.6,554.9L1710.6,566.7Z" fill="#ff2400" stroke="#ff2400" stroke-width="0.9"/>
<path d="M1633.2,622.3L1636.3,610.5L1624.5,607.4L1621.4,619.2ZM1621.4,619.2L1624.5,607.4L1612.7,604.3L1609.6,616.1ZM1778.3,647.0L1781.3,635.1L1769.4,632.1L1766.4,644.0ZM1742.7,638.0L1745.7,626.1L1733.9,623.1L1730.9,635.0ZM1654.3,589.9L1657.3,578.1L1645.6,575.0L1642.5,586.8ZM1787.2,611.4L1790.2,599.5L1778.4,596.6L1775.4,608.4ZM1766.6,593.6L1769.5,581.7L1757.7,578.7L1754.8,590.6ZM1746.0,575.7L1749.0,563.9L1737.2,560.9L1734.2,572.7ZM1734.2,572.7L1737.2,560.9L1725.4,557.9L1722.4,569.7Z" fill="#ff0f00" stroke="#ff0f00" stroke-width="0.9"/>
<path d="M1609.6,616.1L1612.7,604.3L1600.9,601.2L1597.8,613.0ZM1612.7,604.3L1615.8,592.5L1604.0,589.3L1600.9,601.2ZM1710.3,617.1L1713.3,605.2L1701.5,602.2L1698.4,614.0ZM1684.0,572.4L1687.0,560.6L1675.2,557.6L1672.2,569.4ZM1781.4,584.7L1784.3,572.9L1772.5,569.9L1769.5,581.7Z" fill="#ff3800" stroke="#ff3800" stroke-width="0.9"/>
<path d="M1586.0,609.9L1589.1,598.0L1577.3,594.9L1574.2,606.7ZM1754.9,540.3L1757.9,528.5L1746.2,525.5L1743.2,537.3ZM1805.0,540.4L1808.0,528.6L1796.2,525.7L1793.2,537.5Z" fill="#f0ff0f" stroke="#f0ff0f" stroke-width="0.9"/>
<path d="M1766.4,644.0L1769.4,632.1L1757.6,629.1L1754.6,641.0ZM1648.1,613.6L1651.2,601.8L1639.4,598.7L1636.3,610.5ZM1636.3,610.5L1639.4,598.7L1627.6,595.6L1624.5,607.4ZM1781.3,635.1L1784.2,623.2L1772.4,620.3L1769.4,632.1ZM1733.9,623.1L1736.9,611.3L1725.1,608.2L1722.1,620.1ZM1713.3,605.2L1716.3,593.4L1704.5,590.3L1701.5,602.2ZM1754.8,590.6L1757.7,578.7L1746.0,575.7L1742.9,587.6Z" fill="#f00000" stroke="#f00000" stroke-width="0.9"/>
<path d="M1754.6,641.0L1757.6,629.1L1745.7,626.1L1742.7,638.0ZM1663.0,604.8L1666.1,593.0L1654.3,589.9L1651.2,601.8ZM1651.2,601.8L1654.3,589.9L1642.5,586.8L1639.4,598.7ZM1772.4,620.3L1775.4,608.4L1763.6,605.4L1760.6,617.3ZM1716.3,593.4L1719.3,581.5L1707.5,578.5L1704.5,590.3ZM1704.5,590.3L1707.5,578.5L1695.8,575.5L1692.7,587.3ZM1692.7,587.3L1695.8,575.5L1684.0,572.4L1680.9,584.2Z" fill="#db0000" stroke="#db0000" stroke-width="0.9"/>
<path d="M1707.2,628.9L1710.3,617.1L1698.4,614.0L1695.4,625.9ZM1630.7,583.7L1633.8,571.9L1622.0,568.8L1618.9,580.6ZM1713.6,554.9L1716.6,543.1L1704.9,540.1L1701.8,551.9ZM1740.2,549.1L1743.2,537.3L1731.4,534.3L1728.4,546.1Z" fill="#ffb300" stroke="#ffb300" stroke-width="0.9"/>
<path d="M1683.6,622.8L1686.6,611.0L1674.8,607.9L1671.7,619.7ZM1627.6,595.6L1630.7,583.7L1618.9,580.6L1615.8,592.5Z" fill="#ff4200" stroke="#ff4200" stroke-width="0.9"/>
<path d="M1659.9,616.7L1663.0,604.8L1651.2,601.8L1648.1,613.6ZM1624.5,607.4L1627.6,595.6L1615.8,592.5L1612.7,604.3ZM1639.4,598.7L1642.5,586.8L1630.7,583.7L1627.6,595.6ZM1707.5,578.5L1710.6,566.7L1698.8,563.7L1695.8,575.5Z" fill="#ff0500" stroke="#ff0500" stroke-width="0.9"/>
<path d="M1769.4,632.1L1772.4,620.3L1760.6,617.3L1757.6,629.1ZM1689.7,599.1L1692.7,587.3L1680.9,584.2L1677.9,596.1ZM1677.9,596.1L1680.9,584.2L1669.1,581.2L1666.1,593.0ZM1751.8,602.4L1754.8,590.6L1742.9,587.6L1739.9,599.4ZM1739.9,599.4L1742.9,587.6L1731.1,584.6L1728.1,596.4ZM1728.1,596.4L1731.1,584.6L1719.3,581.5L1716.3,593.4Z" fill="#d10000" stroke="#d10000" stroke-width="0.9"/>
<path d="M1757.6,629.1L1760.6,617.3L1748.7,614.3L1745.7,626.1ZM1748.7,614.3L1751.8,602.4L1739.9,599.4L1736.9,611.3Z" fill="#bd0000" stroke="#bd0000" stroke-width="0.9"/>
<path d="M1745.7,626.1L1748.7,614.3L1736.9,611.3L1733.9,623.1ZM1760.6,617.3L1763.6,605.4L1751.8,602.4L1748.7,614.3ZM1736.9,611.3L1739.9,599.4L1728.1,596.4L1725.1,608.2Z" fill="#c70000" stroke="#c70000" stroke-width="0.9"/>
<path d="M1686.6,611.0L1689.7,599.1L1677.9,596.1L1674.8,607.9ZM1784.2,623.2L1787.2,611.4L1775.4,608.4L1772.4,620.3ZM1775.4,608.4L1778.4,596.6L1766.6,593.6L1763.6,605.4Z" fill="#fa0000" stroke="#fa0000" stroke-width="0.9"/>
<path d="M1674.8,607.9L1677.9,596.1L1666.1,593.0L1663.0,604.8ZM1725.1,608.2L1728.1,596.4L1716.3,593.4L1713.3,605.2ZM1701.5,602.2L1704.5,590.3L1692.7,587.3L1689.7,599.1ZM1666.1,593.0L1669.1,581.2L1657.3,578.1L1654.3,589.9ZM1763.6,605.4L1766.6,593.6L1754.8,590.6L1751.8,602.4ZM1680.9,584.2L1684.0,572.4L1672.2,569.4L1669.1,581.2ZM1742.9,587.6L1746.0,575.7L1734.2,572.7L1731.1,584.6ZM1731.1,584.6L1734.2,572.7L1722.4,569.7L1719.3,581.5ZM1719.3,581.5L1722.4,569.7L1710.6,566.7L1707.5,578.5Z" fill="#e50000" stroke="#e50000" stroke-width="0.9"/>
<path d="M1615.8,592.5L1618.9,580.6L1607.1,577.5L1604.0,589.3ZM1698.8,563.7L1701.8,551.9L1690.1,548.8L1687.0,560.6Z" fill="#ff8a00" stroke="#ff8a00" stroke-width="0.9"/>
<path d="M1604.0,589.3L1607.1,577.5L1595.3,574.4L1592.2,586.2Z" fill="#faff05" stroke="#faff05" stroke-width="0.9"/>
<path d="M1669.1,581.2L1672.2,569.4L1660.4,566.3L1657.3,578.1ZM1695.8,575.5L1698.8,563.7L1687.0,560.6L1684.0,572.4ZM1757.7,578.7L1760.7,566.9L1749.0,563.9L1746.0,575.7Z" fill="#ff1a00" stroke="#ff1a00" stroke-width="0.9"/>
<path d="M1657.3,578.1L1660.4,566.3L1648.6,563.2L1645.6,575.0ZM1784.3,572.9L1787.3,561.1L1775.5,558.1L1772.5,569.9Z" fill="#ff6100" stroke="#ff6100" stroke-width="0.9"/>
<path d="M1790.2,599.5L1793.2,587.7L1781.4,584.7L1778.4,596.6Z" fill="#ff2e00" stroke="#ff2e00" stroke-width="0.9"/>
<path d="M1793.2,587.7L1796.1,575.9L1784.3,572.9L1781.4,584.7ZM1710.6,566.7L1713.6,554.9L1701.8,551.9L1698.8,563.7ZM1760.7,566.9L1763.7,555.1L1752.0,552.1L1749.0,563.9ZM1749.0,563.9L1752.0,552.1L1740.2,549.1L1737.2,560.9Z" fill="#ff4c00" stroke="#ff4c00" stroke-width="0.9"/>
<path d="M1725.4,557.9L1728.4,546.1L1716.6,543.1L1713.6,554.9Z" fill="#ff8000" stroke="#ff8000" stroke-width="0.9"/>
<path d="M1799.1,564.0L1802.1,552.2L1790.3,549.3L1787.3,561.1Z" fill="#ffa800" stroke="#ffa800" stroke-width="0.9"/>
<path d="M1728.4,546.1L1731.4,534.3L1719.7,531.3L1716.6,543.1ZM1778.5,546.3L1781.5,534.5L1769.7,531.5L1766.7,543.3ZM1766.7,543.3L1769.7,531.5L1757.9,528.5L1754.9,540.3Z" fill="#fff000" stroke="#fff000" stroke-width="0.9"/>
<path d="M1790.3,549.3L1793.2,537.5L1781.5,534.5L1778.5,546.3Z" fill="#ffe500" stroke="#ffe500" stroke-width="0.9"/>
<path d="M1781.5,534.5L1784.4,522.7L1772.7,519.7L1769.7,531.5Z" fill="#c7ff38" stroke="#c7ff38" stroke-width="0.9"/>
<path d="M1332.0,716.0L1348.0,716.5L1356.9,717.1L1367.6,718.3L1380.1,716.5L1389.0,715.6L1397.9,717.4L1410.3,719.2L1421.0,717.4L1428.1,715.6L1429.9,711.2L1434.4,708.5L1438.8,711.2L1439.7,721.0L1442.4,729.9L1445.9,737.0L1451.3,744.1L1454.0,750.4L1456.6,758.4L1460.2,761.0L1463.8,761.0L1466.4,755.7L1469.1,758.4L1472.7,760.2L1478.0,754.8L1481.6,756.6L1488.7,753.0L1497.6,753.0L1506.5,756.6L1511.8,760.2L1517.2,763.7L1522.5,770.8L1527.0,779.7L1531.4,786.9L1535.9,792.2L1536.8,796.7L1531.4,799.3L1533.2,804.7L1527.0,806.5L1526.1,811.8L1527.9,816.2L1535.0,814.5L1540.3,815.4L1542.1,810.9L1547.4,808.2L1551.0,810.0L1554.6,805.6L1561.7,804.7L1570.3,799.3L1575.7,796.7L1582.8,792.2L1588.1,786.9L1598.8,783.3L1604.2,778.0L1607.7,772.6L1606.8,765.5L1613.1,761.0L1609.5,756.6L1620.2,753.0L1622.0,747.7L1623.8,738.8L1630.9,732.6L1641.6,727.2L1652.2,723.7L1659.4,720.1L1670.0,717.4L1677.2,714.7L1683.4,711.2L1684.3,701.4L1689.6,696.1L1695.0,688.9L1705.7,684.5L1712.8,686.3L1719.9,683.6L1730.6,680.9L1737.7,678.2L1744.8,676.5L1752.0,676.8L1755.5,674.7L1748.4,671.1L1744.8,665.8L1748.3,661.0L1755.3,656.5L1766.3,655.5L1821.3,655.0L1821.3,880.0L1281.3,880.0Z" fill="#808080" stroke="#222" stroke-width="0.9" stroke-linejoin="round"/>
<path d="M1381.7,507.1L1418.7,836.9M1478.3,499.4L1494.2,830.9M1575.2,497.8L1569.9,829.7M1672.1,502.4L1645.6,833.3M1768.4,513.2L1720.9,841.7M1318.4,571.5L1330.0,569.7L1341.5,568.0L1353.1,566.4L1364.7,564.8L1376.3,563.4L1387.9,562.1L1399.5,560.8L1411.1,559.6L1422.7,558.6L1434.3,557.6L1446.0,556.7L1457.6,555.9L1469.3,555.2L1481.0,554.6L1492.6,554.1L1504.3,553.7L1516.0,553.4L1527.6,553.1L1539.3,553.0L1551.0,552.9L1562.7,553.0L1574.4,553.1L1586.0,553.4L1597.7,553.7L1609.4,554.1L1621.0,554.6L1632.7,555.2L1644.4,555.9L1656.0,556.7L1667.7,557.6L1679.3,558.6L1690.9,559.6L1702.5,560.8L1714.1,562.1L1725.7,563.4L1737.3,564.8L1748.9,566.4L1760.5,568.0L1772.0,569.7L1783.6,571.5M1327.2,626.1L1338.3,624.4L1349.4,622.7L1360.6,621.2L1371.7,619.7L1382.9,618.3L1394.0,617.0L1405.2,615.8L1416.4,614.7L1427.6,613.7L1438.8,612.7L1450.0,611.9L1461.2,611.1L1472.4,610.4L1483.6,609.9L1494.8,609.4L1506.1,609.0L1517.3,608.7L1528.5,608.4L1539.8,608.3L1551.0,608.3L1562.2,608.3L1573.5,608.4L1584.7,608.7L1595.9,609.0L1607.2,609.4L1618.4,609.9L1629.6,610.4L1640.8,611.1L1652.0,611.9L1663.2,612.7L1674.4,613.7L1685.6,614.7L1696.8,615.8L1708.0,617.0L1719.1,618.3L1730.3,619.7L1741.4,621.2L1752.6,622.7L1763.7,624.4L1774.8,626.1M1336.0,680.8L1346.7,679.1L1357.3,677.5L1368.0,676.0L1378.7,674.6L1389.5,673.2L1400.2,672.0L1410.9,670.8L1421.6,669.8L1432.4,668.8L1443.2,667.9L1453.9,667.1L1464.7,666.3L1475.5,665.7L1486.3,665.1L1497.0,664.6L1507.8,664.3L1518.6,664.0L1529.4,663.7L1540.2,663.6L1551.0,663.6L1561.8,663.6L1572.6,663.7L1583.4,664.0L1594.2,664.3L1605.0,664.6L1615.7,665.1L1626.5,665.7L1637.3,666.3L1648.1,667.1L1658.8,667.9L1669.6,668.8L1680.4,669.8L1691.1,670.8L1701.8,672.0L1712.5,673.2L1723.3,674.6L1734.0,676.0L1744.7,677.5L1755.3,679.1L1766.0,680.8M1344.8,735.4L1355.0,733.8L1365.3,732.2L1375.5,730.8L1385.8,729.4L1396.1,728.2L1406.3,727.0L1416.6,725.9L1426.9,724.8L1437.2,723.9L1447.6,723.0L1457.9,722.2L1468.2,721.5L1478.6,720.9L1488.9,720.4L1499.2,719.9L1509.6,719.6L1519.9,719.3L1530.3,719.1L1540.6,718.9L1551.0,718.9L1561.4,718.9L1571.7,719.1L1582.1,719.3L1592.4,719.6L1602.8,719.9L1613.1,720.4L1623.4,720.9L1633.8,721.5L1644.1,722.2L1654.4,723.0L1664.8,723.9L1675.1,724.8L1685.4,725.9L1695.7,727.0L1705.9,728.2L1716.2,729.4L1726.5,730.8L1736.7,732.2L1747.0,733.8L1757.2,735.4M1353.6,790.0L1363.4,788.4L1373.2,787.0L1383.0,785.6L1392.8,784.3L1402.6,783.1L1412.5,781.9L1422.4,780.9L1432.2,779.9L1442.1,779.0L1452.0,778.2L1461.9,777.4L1471.7,776.7L1481.6,776.1L1491.5,775.6L1501.4,775.2L1511.4,774.8L1521.3,774.6L1531.2,774.4L1541.1,774.2L1551.0,774.2L1560.9,774.2L1570.8,774.4L1580.7,774.6L1590.6,774.8L1600.6,775.2L1610.5,775.6L1620.4,776.1L1630.3,776.7L1640.1,777.4L1650.0,778.2L1659.9,779.0L1669.8,779.9L1679.6,780.9L1689.5,781.9L1699.4,783.1L1709.2,784.3L1719.0,785.6L1728.8,787.0L1738.6,788.4L1748.4,790.0" fill="none" stroke="#000" stroke-opacity="0.2" stroke-width="0.55" stroke-dasharray="2 1.6"/>
<path d="M1559.2,724.6L1564.7,739.5L1582.3,739.5L1568.0,748.6L1573.5,763.5L1559.2,754.3L1544.9,763.5L1550.4,748.6L1536.1,739.5L1553.7,739.5Z" fill="#ffee00" stroke="#1a1a1a" stroke-width="1.2" stroke-linejoin="miter"/>
<text x="1370.7" y="810.8" font-size="31.0" text-anchor="start" fill="#fff" style="stroke:#fff;stroke-width:0.6px;letter-spacing:2.8px">Summer</text>
<text x="1728.1" y="778.0" font-size="30.6" text-anchor="end" fill="#fff" style="stroke:#fff;stroke-width:0.6px;font-style:italic;letter-spacing:3.6px">SIC</text>
<text x="1723.7" y="815.0" font-size="30.6" text-anchor="end" fill="#fff" style="stroke:#fff;stroke-width:0.6px;font-style:italic;letter-spacing:3.8px">[%]</text>
</g>
<path d="M1309.7,516.9L1314.8,516.1L1319.9,515.3L1325.0,514.5L1330.2,513.7L1335.3,513.0L1340.5,512.3L1345.6,511.6L1346.3,516.9L1341.2,517.6L1336.1,518.3L1331.0,519.1L1325.8,519.8L1320.7,520.6L1315.6,521.4L1310.5,522.2ZM1390.5,840.4L1396.1,839.7L1401.7,838.9L1407.4,838.2L1413.0,837.6L1418.7,836.9L1418.1,831.6L1412.4,832.2L1406.7,832.9L1401.1,833.6L1395.4,834.3L1389.7,835.1ZM1381.7,507.1L1387.0,506.5L1392.4,505.9L1397.8,505.4L1403.1,504.8L1408.5,504.3L1413.8,503.8L1419.2,503.3L1424.6,502.9L1429.9,502.4L1430.4,507.8L1425.0,508.3L1419.7,508.7L1414.3,509.2L1409.0,509.7L1403.6,510.2L1398.3,510.7L1393.0,511.3L1387.6,511.9L1382.3,512.4ZM1456.4,833.3L1461.8,832.9L1467.2,832.5L1472.6,832.1L1478.0,831.8L1483.4,831.5L1488.8,831.2L1494.2,830.9L1493.9,825.5L1488.5,825.8L1483.1,826.1L1477.6,826.4L1472.2,826.7L1466.8,827.1L1461.4,827.5L1455.9,827.9ZM1478.3,499.4L1483.7,499.1L1489.1,498.9L1494.5,498.7L1499.8,498.5L1505.2,498.3L1510.6,498.2L1516.0,498.0L1521.4,497.9L1526.8,497.8L1526.8,503.2L1521.5,503.3L1516.1,503.4L1510.8,503.6L1505.4,503.7L1500.0,503.9L1494.7,504.1L1489.3,504.3L1483.9,504.5L1478.6,504.7ZM1532.1,829.7L1537.5,829.6L1542.9,829.6L1548.3,829.5L1553.7,829.5L1559.1,829.6L1564.5,829.6L1569.9,829.7L1570.0,824.3L1564.6,824.2L1559.2,824.2L1553.7,824.1L1548.3,824.1L1542.8,824.2L1537.4,824.2L1532.0,824.3ZM1575.2,497.8L1580.6,497.9L1586.0,498.0L1591.4,498.2L1596.8,498.3L1602.2,498.5L1607.5,498.7L1612.9,498.9L1618.3,499.1L1623.7,499.4L1623.4,504.7L1618.1,504.5L1612.7,504.3L1607.3,504.1L1602.0,503.9L1596.6,503.7L1591.2,503.6L1585.9,503.4L1580.5,503.3L1575.2,503.2ZM1607.8,830.9L1613.2,831.2L1618.6,831.5L1624.0,831.8L1629.4,832.1L1634.8,832.5L1640.2,832.9L1645.6,833.3L1646.1,827.9L1640.6,827.5L1635.2,827.1L1629.8,826.7L1624.4,826.4L1618.9,826.1L1613.5,825.8L1608.1,825.5ZM1672.1,502.4L1677.4,502.9L1682.8,503.3L1688.2,503.8L1693.5,504.3L1698.9,504.8L1704.2,505.4L1709.6,505.9L1715.0,506.5L1720.3,507.1L1719.7,512.4L1714.4,511.9L1709.0,511.3L1703.7,510.7L1698.4,510.2L1693.0,509.7L1687.7,509.2L1682.3,508.7L1677.0,508.3L1671.6,507.8ZM1683.3,836.9L1688.7,837.5L1694.1,838.2L1699.5,838.8L1704.8,839.5L1710.2,840.2L1715.6,841.0L1720.9,841.7L1721.7,836.4L1716.3,835.6L1710.9,834.9L1705.5,834.2L1700.1,833.5L1694.7,832.8L1689.3,832.2L1683.9,831.6ZM1768.4,513.2L1772.4,513.8L1776.4,514.4L1780.4,515.0L1779.6,520.4L1775.6,519.8L1771.6,519.2L1767.6,518.6ZM1730.3,843.1L1735.0,843.9L1739.7,844.6L1740.5,839.3L1735.8,838.5L1731.1,837.8ZM1309.7,516.9L1314.0,544.2L1319.4,543.4L1315.0,516.1ZM1788.0,544.2L1783.6,571.5L1778.2,570.7L1782.6,543.4ZM1318.4,571.5L1322.8,598.8L1328.2,598.0L1323.8,570.7ZM1779.2,598.8L1774.8,626.1L1769.5,625.3L1773.8,598.0ZM1327.2,626.1L1331.6,653.4L1336.9,652.6L1332.5,625.3ZM1770.4,653.4L1766.0,680.8L1760.7,679.9L1765.1,652.6ZM1336.0,680.8L1340.4,708.1L1345.7,707.2L1341.3,679.9ZM1761.6,708.1L1757.2,735.4L1751.9,734.5L1756.3,707.2ZM1344.8,735.4L1349.2,762.7L1354.5,761.8L1350.1,734.5ZM1752.8,762.7L1748.4,790.0L1743.1,789.1L1747.5,761.8ZM1353.6,790.0L1358.0,817.3L1363.3,816.4L1358.9,789.1ZM1744.0,817.3L1739.7,844.6L1734.3,843.8L1738.7,816.4Z" fill="#fff" stroke="#000" stroke-width="0.9" stroke-linejoin="miter"/>
<path d="M1362.3,844.6L1368.0,843.7L1373.6,842.8L1379.2,842.0L1384.8,841.2L1390.5,840.4L1389.7,835.1L1384.1,835.9L1378.4,836.7L1372.8,837.5L1367.1,838.4L1361.5,839.3ZM1345.6,511.6L1350.8,510.9L1355.9,510.2L1361.1,509.5L1366.2,508.9L1371.4,508.3L1376.5,507.7L1381.7,507.1L1382.3,512.4L1377.1,513.0L1372.0,513.6L1366.9,514.3L1361.7,514.9L1356.6,515.5L1351.5,516.2L1346.3,516.9ZM1418.7,836.9L1424.0,836.3L1429.4,835.8L1434.8,835.2L1440.2,834.7L1445.6,834.2L1451.0,833.7L1456.4,833.3L1455.9,827.9L1450.5,828.4L1445.1,828.8L1439.7,829.3L1434.3,829.8L1428.9,830.4L1423.5,831.0L1418.1,831.6ZM1429.9,502.4L1435.3,502.0L1440.7,501.6L1446.1,501.2L1451.4,500.9L1456.8,500.5L1462.2,500.2L1467.6,499.9L1472.9,499.6L1478.3,499.4L1478.6,504.7L1473.2,505.0L1467.9,505.3L1462.5,505.6L1457.1,505.9L1451.8,506.3L1446.4,506.6L1441.1,507.0L1435.7,507.4L1430.4,507.8ZM1494.2,830.9L1499.6,830.6L1505.0,830.4L1510.4,830.2L1515.8,830.0L1521.2,829.9L1526.6,829.8L1532.1,829.7L1532.0,824.3L1526.5,824.4L1521.1,824.5L1515.7,824.7L1510.2,824.8L1504.8,825.0L1499.4,825.2L1493.9,825.5ZM1526.8,497.8L1532.1,497.7L1537.5,497.7L1542.9,497.6L1548.3,497.6L1553.7,497.6L1559.1,497.6L1564.5,497.7L1569.9,497.7L1575.2,497.8L1575.2,503.2L1569.8,503.1L1564.4,503.1L1559.1,503.0L1553.7,503.0L1548.3,503.0L1542.9,503.0L1537.6,503.1L1532.2,503.1L1526.8,503.2ZM1569.9,829.7L1575.4,829.8L1580.8,829.9L1586.2,830.0L1591.6,830.2L1597.0,830.4L1602.4,830.6L1607.8,830.9L1608.1,825.5L1602.6,825.2L1597.2,825.0L1591.8,824.8L1586.3,824.7L1580.9,824.5L1575.5,824.4L1570.0,824.3ZM1623.7,499.4L1629.1,499.6L1634.4,499.9L1639.8,500.2L1645.2,500.5L1650.6,500.9L1655.9,501.2L1661.3,501.6L1666.7,502.0L1672.1,502.4L1671.6,507.8L1666.3,507.4L1660.9,507.0L1655.6,506.6L1650.2,506.3L1644.9,505.9L1639.5,505.6L1634.1,505.3L1628.8,505.0L1623.4,504.7ZM1645.6,833.3L1651.0,833.7L1656.4,834.2L1661.8,834.7L1667.2,835.2L1672.6,835.8L1678.0,836.3L1683.3,836.9L1683.9,831.6L1678.5,831.0L1673.1,830.4L1667.7,829.8L1662.3,829.3L1656.9,828.8L1651.5,828.4L1646.1,827.9ZM1720.3,507.1L1725.7,507.7L1731.0,508.3L1736.4,509.0L1741.7,509.6L1747.0,510.3L1752.4,511.0L1757.7,511.7L1763.1,512.5L1768.4,513.2L1767.6,518.6L1762.3,517.8L1757.0,517.1L1751.7,516.4L1746.3,515.7L1741.0,515.0L1735.7,514.3L1730.4,513.7L1725.0,513.0L1719.7,512.4ZM1720.9,841.7L1725.6,842.4L1730.3,843.1L1731.1,837.8L1726.4,837.1L1721.7,836.4ZM1780.4,515.0L1784.4,515.6L1788.4,516.3L1792.3,516.9L1791.5,522.2L1787.5,521.6L1783.5,521.0L1779.6,520.4ZM1792.3,516.9L1788.0,544.2L1782.6,543.4L1787.0,516.1ZM1314.0,544.2L1318.4,571.5L1323.8,570.7L1319.4,543.4ZM1783.6,571.5L1779.2,598.8L1773.8,598.0L1778.2,570.7ZM1322.8,598.8L1327.2,626.1L1332.5,625.3L1328.2,598.0ZM1774.8,626.1L1770.4,653.4L1765.1,652.6L1769.5,625.3ZM1331.6,653.4L1336.0,680.8L1341.3,679.9L1336.9,652.6ZM1766.0,680.8L1761.6,708.1L1756.3,707.2L1760.7,679.9ZM1340.4,708.1L1344.8,735.4L1350.1,734.5L1345.7,707.2ZM1757.2,735.4L1752.8,762.7L1747.5,761.8L1751.9,734.5ZM1349.2,762.7L1353.6,790.0L1358.9,789.1L1354.5,761.8ZM1748.4,790.0L1744.0,817.3L1738.7,816.4L1743.1,789.1ZM1358.0,817.3L1362.3,844.6L1367.7,843.8L1363.3,816.4Z" fill="#000" stroke="#000" stroke-width="0.9"/>
<text transform="translate(1307.7 529.8) rotate(-9.14) scale(0.815 1)" font-size="27.3" text-anchor="end" fill="#2b2321" style="letter-spacing:1.90px;">64°S</text>
<text transform="translate(1316.5 584.4) rotate(-9.14) scale(0.815 1)" font-size="27.3" text-anchor="end" fill="#2b2321" style="letter-spacing:1.90px;">65°S</text>
<text transform="translate(1325.2 639.0) rotate(-9.14) scale(0.815 1)" font-size="27.3" text-anchor="end" fill="#2b2321" style="letter-spacing:1.90px;">66°S</text>
<text transform="translate(1334.0 693.6) rotate(-9.14) scale(0.815 1)" font-size="27.3" text-anchor="end" fill="#2b2321" style="letter-spacing:1.90px;">67°S</text>
<text transform="translate(1342.8 748.2) rotate(-9.14) scale(0.815 1)" font-size="27.3" text-anchor="end" fill="#2b2321" style="letter-spacing:1.90px;">68°S</text>
<text transform="translate(1351.6 802.9) rotate(-9.14) scale(0.815 1)" font-size="27.3" text-anchor="end" fill="#2b2321" style="letter-spacing:1.90px;">69°S</text>
<text transform="translate(1360.4 857.5) rotate(-9.14) scale(0.815 1)" font-size="27.3" text-anchor="end" fill="#2b2321" style="letter-spacing:1.90px;">70°S</text>
<text transform="translate(1423.1 862.1) rotate(-6.40) scale(0.815 1)" font-size="27.3" text-anchor="middle" fill="#2b2321" style="letter-spacing:1.90px;">68°E</text>
<text transform="translate(1497.0 856.2) rotate(-2.74) scale(0.815 1)" font-size="27.3" text-anchor="middle" fill="#2b2321" style="letter-spacing:1.90px;">72°E</text>
<text transform="translate(1571.1 855.0) rotate(0.91) scale(0.815 1)" font-size="27.3" text-anchor="middle" fill="#2b2321" style="letter-spacing:1.90px;">76°E</text>
<text transform="translate(1645.2 858.5) rotate(4.57) scale(0.815 1)" font-size="27.3" text-anchor="middle" fill="#2b2321" style="letter-spacing:1.90px;">80°E</text>
<text transform="translate(1718.9 866.8) rotate(8.22) scale(0.815 1)" font-size="27.3" text-anchor="middle" fill="#2b2321" style="letter-spacing:1.90px;">84°E</text>
<defs><linearGradient id="gchl" x1="0" x2="1" y1="0" y2="0"><stop offset="0.0000" stop-color="#d47fff"/><stop offset="0.0214" stop-color="#c060ff"/><stop offset="0.0429" stop-color="#a444ff"/><stop offset="0.0714" stop-color="#8030ff"/><stop offset="0.1000" stop-color="#6c3cff"/><stop offset="0.1429" stop-color="#6050ff"/><stop offset="0.1857" stop-color="#4870ff"/><stop offset="0.2286" stop-color="#2890ff"/><stop offset="0.2857" stop-color="#18b0e8"/><stop offset="0.3429" stop-color="#08d0b0"/><stop offset="0.3857" stop-color="#04c860"/><stop offset="0.4286" stop-color="#0cb838"/><stop offset="0.4714" stop-color="#20b020"/><stop offset="0.5143" stop-color="#40a810"/><stop offset="0.5714" stop-color="#80b808"/><stop offset="0.6143" stop-color="#c0c800"/><stop offset="0.6571" stop-color="#f0d000"/><stop offset="0.6857" stop-color="#ffc800"/><stop offset="0.7143" stop-color="#ffc000"/><stop offset="0.7429" stop-color="#ffa000"/><stop offset="0.7714" stop-color="#f87800"/><stop offset="0.8000" stop-color="#e84800"/><stop offset="0.8286" stop-color="#d82810"/><stop offset="0.8571" stop-color="#d01c20"/><stop offset="0.8857" stop-color="#d42840"/><stop offset="0.9143" stop-color="#e04858"/><stop offset="0.9429" stop-color="#e87070"/><stop offset="0.9714" stop-color="#f89880"/><stop offset="1.0000" stop-color="#ffb888"/></linearGradient>
<linearGradient id="gjet" x1="0" x2="1" y1="0" y2="0"><stop offset="0.0000" stop-color="#0000e6"/><stop offset="0.0278" stop-color="#0000ff"/><stop offset="0.0556" stop-color="#0019ff"/><stop offset="0.0833" stop-color="#0033ff"/><stop offset="0.1111" stop-color="#004dff"/><stop offset="0.1389" stop-color="#0066ff"/><stop offset="0.1667" stop-color="#0080ff"/><stop offset="0.1944" stop-color="#0099ff"/><stop offset="0.2222" stop-color="#00b2ff"/><stop offset="0.2500" stop-color="#00ccff"/><stop offset="0.2778" stop-color="#00e5ff"/><stop offset="0.3056" stop-color="#00ffff"/><stop offset="0.3333" stop-color="#1affe5"/><stop offset="0.3611" stop-color="#33ffcc"/><stop offset="0.3889" stop-color="#4dffb2"/><stop offset="0.4167" stop-color="#66ff99"/><stop offset="0.4444" stop-color="#80ff80"/><stop offset="0.4722" stop-color="#99ff66"/><stop offset="0.5000" stop-color="#b3ff4c"/><stop offset="0.5278" stop-color="#ccff33"/><stop offset="0.5556" stop-color="#e5ff1a"/><stop offset="0.5833" stop-color="#ffff00"/><stop offset="0.6111" stop-color="#ffe500"/><stop offset="0.6389" stop-color="#ffcc00"/><stop offset="0.6667" stop-color="#ffb300"/><stop offset="0.6944" stop-color="#ff9900"/><stop offset="0.7222" stop-color="#ff8000"/><stop offset="0.7500" stop-color="#ff6600"/><stop offset="0.7778" stop-color="#ff4c00"/><stop offset="0.8056" stop-color="#ff3300"/><stop offset="0.8333" stop-color="#ff1a00"/><stop offset="0.8611" stop-color="#ff0000"/><stop offset="0.8889" stop-color="#e50000"/><stop offset="0.9167" stop-color="#cc0000"/><stop offset="0.9444" stop-color="#b30000"/><stop offset="0.9722" stop-color="#990000"/><stop offset="1.0000" stop-color="#800000"/></linearGradient></defs>
<rect x="254.5" y="414.3" width="1351.0" height="34.0" fill="url(#gchl)"/>
<path d="M255.1,414.3L234.4,431.3L255.1,448.3Z" fill="#d884ff"/>
<path d="M1604.9,414.3L1625.8,431.3L1604.9,448.3Z" fill="#ffc090"/>
<path d="M254.5,414.3L1605.5,414.3L1625.8,431.3L1605.5,448.3L254.5,448.3L234.4,431.3Z" fill="none" stroke="#555" stroke-width="0.6"/>
<path d="M254.5,414.3v6M254.5,448.3v-6" stroke="#111" stroke-width="1.6"/>
<text transform="translate(253.2 474.0) rotate(0.00) scale(0.930 1) skewX(-12)" font-size="25.5" text-anchor="middle" fill="#2b2321" style="letter-spacing:0.00px;">0</text>
<path d="M447.5,414.3v6M447.5,448.3v-6" stroke="#111" stroke-width="1.6"/>
<text transform="translate(446.2 474.0) rotate(0.00) scale(0.930 1) skewX(-12)" font-size="25.5" text-anchor="middle" fill="#2b2321" style="letter-spacing:0.00px;">1</text>
<path d="M640.5,414.3v6M640.5,448.3v-6" stroke="#111" stroke-width="1.6"/>
<text transform="translate(639.2 474.0) rotate(0.00) scale(0.930 1) skewX(-12)" font-size="25.5" text-anchor="middle" fill="#2b2321" style="letter-spacing:0.00px;">2</text>
<path d="M833.5,414.3v6M833.5,448.3v-6" stroke="#111" stroke-width="1.6"/>
<text transform="translate(832.2 474.0) rotate(0.00) scale(0.930 1) skewX(-12)" font-size="25.5" text-anchor="middle" fill="#2b2321" style="letter-spacing:0.00px;">3</text>
<path d="M1026.5,414.3v6M1026.5,448.3v-6" stroke="#111" stroke-width="1.6"/>
<text transform="translate(1025.2 474.0) rotate(0.00) scale(0.930 1) skewX(-12)" font-size="25.5" text-anchor="middle" fill="#2b2321" style="letter-spacing:0.00px;">4</text>
<path d="M1219.5,414.3v6M1219.5,448.3v-6" stroke="#111" stroke-width="1.6"/>
<text transform="translate(1218.2 474.0) rotate(0.00) scale(0.930 1) skewX(-12)" font-size="25.5" text-anchor="middle" fill="#2b2321" style="letter-spacing:0.00px;">5</text>
<path d="M1412.5,414.3v6M1412.5,448.3v-6" stroke="#111" stroke-width="1.6"/>
<text transform="translate(1411.2 474.0) rotate(0.00) scale(0.930 1) skewX(-12)" font-size="25.5" text-anchor="middle" fill="#2b2321" style="letter-spacing:0.00px;">6</text>
<path d="M1605.5,414.3v6M1605.5,448.3v-6" stroke="#111" stroke-width="1.6"/>
<text transform="translate(1604.2 474.0) rotate(0.00) scale(0.930 1) skewX(-12)" font-size="25.5" text-anchor="middle" fill="#2b2321" style="letter-spacing:0.00px;">7</text>
<rect x="370.8" y="886.0" width="1256.5" height="33.6" fill="url(#gjet)"/>
<rect x="231.2" y="886.0" width="1396.1" height="33.6" fill="none" stroke="#444" stroke-width="0.8"/>
<text transform="translate(229.7 945.0) rotate(0.00) scale(0.930 1) skewX(-12)" font-size="25.5" text-anchor="middle" fill="#2b2321" style="letter-spacing:0.00px;">0</text>
<path d="M510.4,919.6v-13.5" stroke="#444" stroke-width="0.8"/>
<text transform="translate(508.9 945.0) rotate(0.00) scale(0.930 1) skewX(-12)" font-size="25.5" text-anchor="middle" fill="#2b2321" style="letter-spacing:0.00px;">20</text>
<path d="M789.6,919.6v-13.5" stroke="#444" stroke-width="0.8"/>
<text transform="translate(788.1 945.0) rotate(0.00) scale(0.930 1) skewX(-12)" font-size="25.5" text-anchor="middle" fill="#2b2321" style="letter-spacing:0.00px;">40</text>
<path d="M1068.9,919.6v-13.5" stroke="#444" stroke-width="0.8"/>
<text transform="translate(1067.4 945.0) rotate(0.00) scale(0.930 1) skewX(-12)" font-size="25.5" text-anchor="middle" fill="#2b2321" style="letter-spacing:0.00px;">60</text>
<path d="M1348.1,919.6v-13.5" stroke="#444" stroke-width="0.8"/>
<text transform="translate(1346.6 945.0) rotate(0.00) scale(0.930 1) skewX(-12)" font-size="25.5" text-anchor="middle" fill="#2b2321" style="letter-spacing:0.00px;">80</text>
<text transform="translate(1625.8 945.0) rotate(0.00) scale(0.930 1) skewX(-12)" font-size="25.5" text-anchor="middle" fill="#2b2321" style="letter-spacing:0.00px;">100</text>
<text x="-0.3" y="24.3" font-size="30.2" text-anchor="start" fill="#000" style="font-weight:bold">A</text>
<text x="-0.2" y="498.3" font-size="30.2" text-anchor="start" fill="#000" style="font-weight:bold">B</text>
</svg>
</body></html>
